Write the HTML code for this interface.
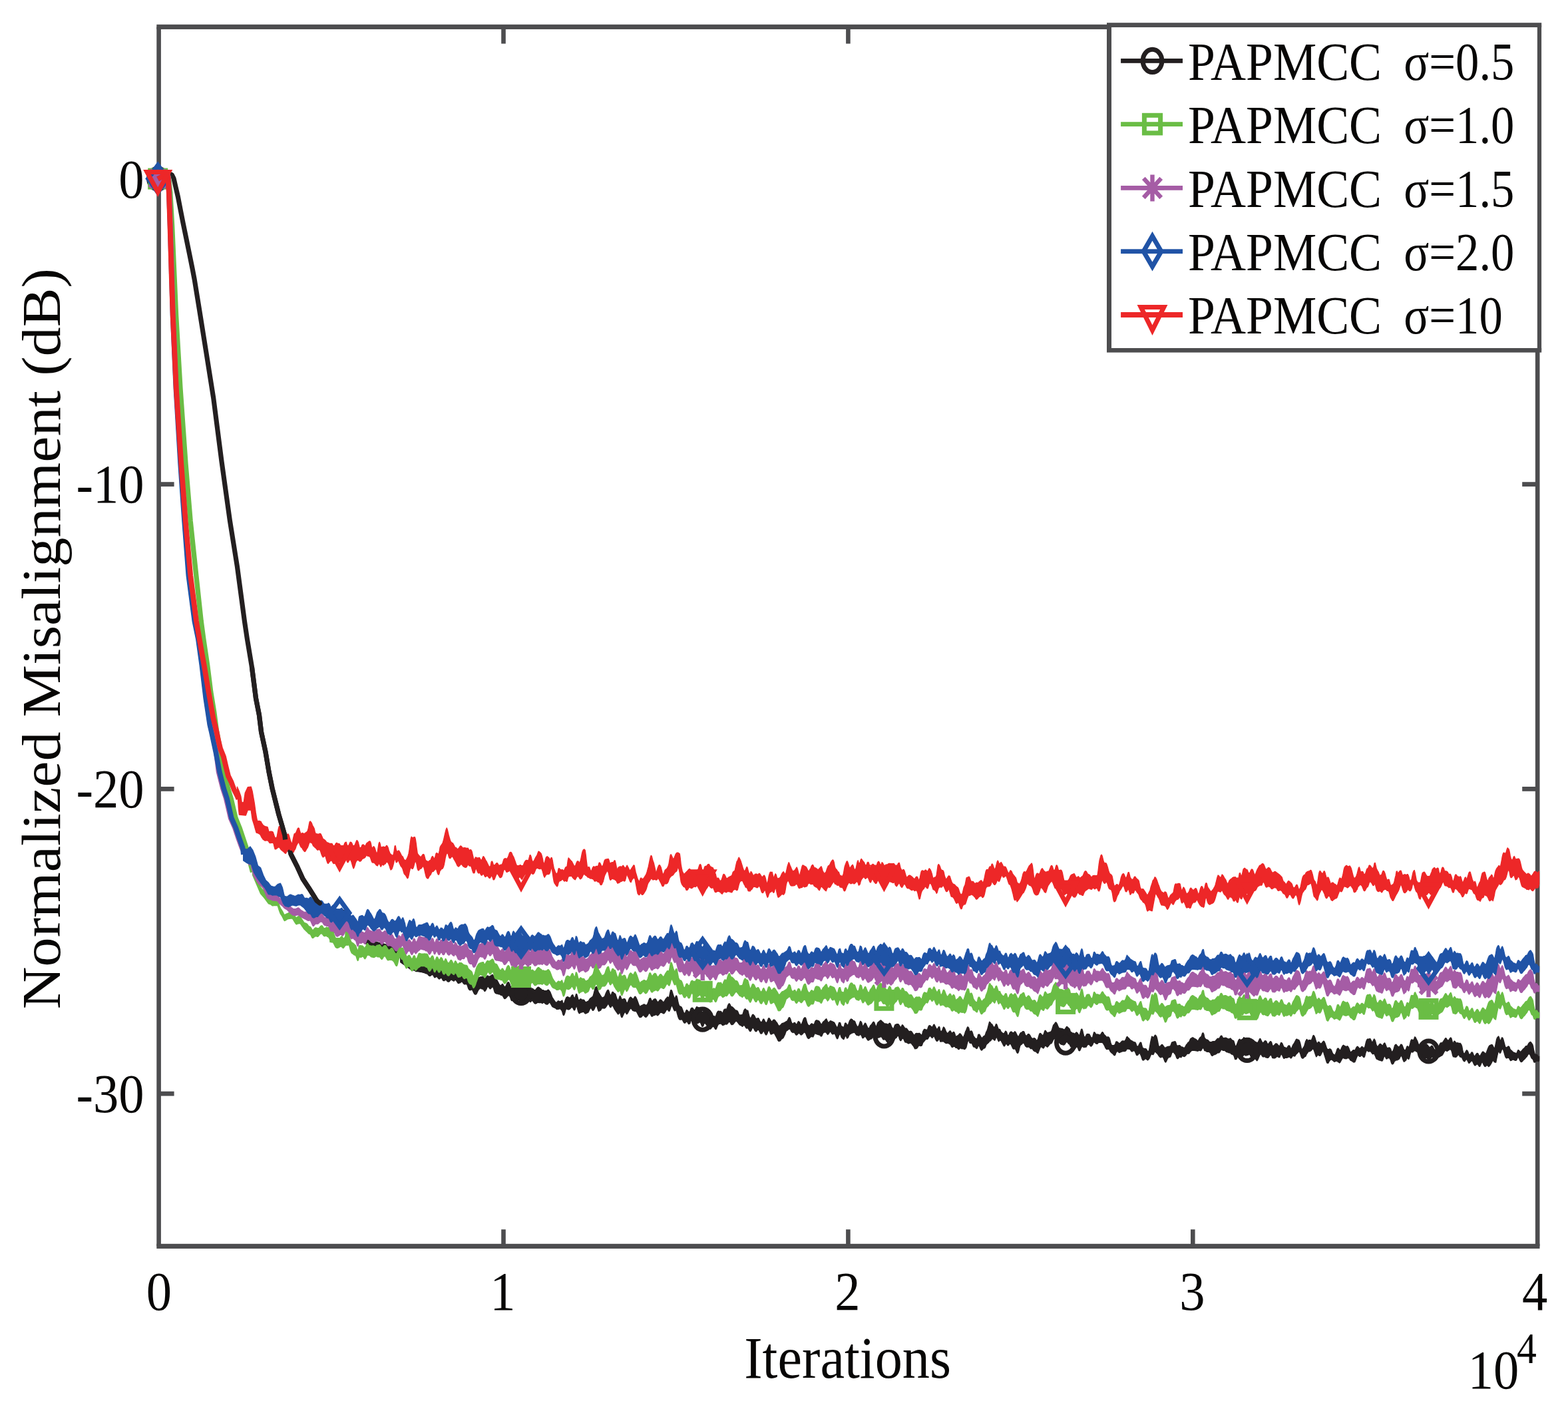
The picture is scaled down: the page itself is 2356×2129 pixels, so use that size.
<!DOCTYPE html>
<html lang="en"><head><meta charset="utf-8"><title>Normalized Misalignment vs Iterations</title>
<style>html,body{margin:0;padding:0;background:#fff}body{width:2356px;height:2129px;overflow:hidden}svg{display:block}text{font-family:"Liberation Serif","Times New Roman",Times,serif;fill:#070605}</style>
</head><body>
<svg xmlns="http://www.w3.org/2000/svg" width="2356" height="2129" viewBox="0 0 2356 2129">
<rect x="0" y="0" width="2356" height="2129" fill="#ffffff"/>
<clipPath id="plotclip"><rect x="198.6" y="40.4" width="2114.8" height="1832"/></clipPath>
<g id="axes" fill="#4d4d4f">
<rect x="235.3" y="36.8" width="2078.2" height="7.2"/>
<rect x="235.3" y="1868.8" width="2078.2" height="7.2"/>
<rect x="235.3" y="40.4" width="6.6" height="1832"/>
<rect x="2306.9" y="40.4" width="6.6" height="1832"/>
<rect x="753.2" y="1847.2" width="6.6" height="25.2"/>
<rect x="753.2" y="40.4" width="6.6" height="25.2"/>
<rect x="1271.1" y="1847.2" width="6.6" height="25.2"/>
<rect x="1271.1" y="40.4" width="6.6" height="25.2"/>
<rect x="1789" y="1847.2" width="6.6" height="25.2"/>
<rect x="1789" y="40.4" width="6.6" height="25.2"/>
<rect x="238.6" y="724.2" width="23" height="6.8"/>
<rect x="2287.2" y="724.2" width="23" height="6.8"/>
<rect x="238.6" y="1182" width="23" height="6.8"/>
<rect x="2287.2" y="1182" width="23" height="6.8"/>
<rect x="238.6" y="1639.8" width="23" height="6.8"/>
<rect x="2287.2" y="1639.8" width="23" height="6.8"/>
</g>
<g id="curves" clip-path="url(#plotclip)">
<g id="curve-k">
<path d="M237.2 268.8L241 264L244.9 261.3L250 261L255 261.2L258.5 263L261 268L263.7 279.7L267.4 295.6L271.2 315.4L275.1 335.2L280 359L285.1 383.9L289.1 403.7L292.2 420L298.8 460.7L309.8 529.3L320.7 597.9L333.1 694L345.4 782.3L356.4 851L367.4 933.3L371.4 960L378.4 1001.9L384.5 1049.3L389.4 1074L392.6 1100L399 1129.8L404 1159.5L409 1184.3L413.9 1204.2L418.9 1224L423.9 1240.9L427.8 1254.8L431.2 1263L437.1 1283.3L446.1 1301.1L455 1320.5L463.9 1333.9L471.4 1345.8L475.8 1353.2" fill="none" stroke="#231f20" stroke-width="7.2" stroke-linejoin="round" stroke-linecap="butt"/>
<path d="M601.8 1435.5L617.7 1447.7L618.7 1448.2L619.7 1448.3L620.7 1447.8L621.7 1447.4L622.7 1447.6L623.7 1448.5L624.7 1449.8L625.7 1450.1L626.7 1450.1L627.7 1449.5L628.7 1448.9L629.7 1448.7L630.7 1448.9L631.7 1449.2L632.7 1449.6L633.7 1449.9L634.7 1450.1L635.7 1450.3L636.7 1450.3L637.7 1450.4L638.7 1450.5L639.7 1450.6L640.7 1450.7L641.7 1450.8L642.7 1451.4L643.7 1452.6L644.7 1453.7L645.7 1454.1L646.7 1454.3L647.7 1453.6L648.7 1452.7L649.7 1452.6L650.7 1452.7L651.7 1454.7L652.7 1457.1L653.7 1457.2L654.7 1456.1L655.7 1455L656.7 1454.7L657.7 1455.5L658.7 1456.7L659.7 1457.6L660.7 1457.9L661.7 1456.7L662.7 1455.9L663.7 1456.3L664.7 1457.4L665.7 1459.2L666.7 1459.6L667.7 1459.5L668.7 1457.6L669.7 1456.6L670.7 1457.7L671.7 1459.2L672.7 1460.5L673.7 1460.6L674.7 1460.7L675.7 1459.4L676.7 1458.2L677.7 1457.4L678.7 1457.6L679.7 1459L680.7 1460.5L681.7 1461.5L682.7 1460.6L683.7 1458L684.7 1458.1L685.7 1459.3L686.7 1460.7L687.7 1461.7L688.7 1461.3L689.7 1460.2L690.7 1459.5L691.7 1459.4L692.7 1459.2L693.7 1459.2L694.7 1459.7L695.7 1460.3L696.7 1460.7L697.7 1461.2L698.7 1461.8L699.7 1462.2L700.7 1462.6L701.7 1463.3L702.7 1465.5L703.7 1468.4L704.7 1469.1L705.7 1469.7L706.7 1469.6L707.7 1469.4L708.7 1469.7L709.7 1471.5L710.7 1474.9L711.7 1478L712.7 1479.6L713.7 1480L714.7 1477.4L715.7 1474.2L716.7 1472.3L717.7 1470.8L718.7 1469.2L719.7 1468.7L720.7 1468.3L721.7 1468L722.7 1467.7L723.7 1467.6L724.7 1467.4L725.7 1467.2L726.7 1468.3L727.7 1470.6L728.7 1470.3L729.7 1469.2L730.7 1467.9L731.7 1466.5L732.7 1465.9L733.7 1466.6L734.7 1467.2L735.7 1466.9L736.7 1466.3L737.7 1465.8L738.7 1465.1L739.7 1464.3L740.7 1465L741.7 1466.8L742.7 1469.9L743.7 1471L744.7 1471.5L745.7 1471.9L746.7 1472.4L747.7 1474.3L748.7 1476.2L749.7 1478.1L750.7 1479.8L751.7 1480.5L752.7 1480.8L753.7 1479.6L754.7 1478.4L755.7 1479.1L756.7 1480.9L757.7 1482.1L758.7 1483.1L759.7 1482.1L760.7 1480L761.7 1477.6L762.7 1476.2L763.7 1475.7L764.7 1476.2L765.7 1478.2L766.7 1480.9L767.7 1483.3L768.7 1483.2L769.7 1480.3L770.7 1477L771.7 1476.5L772.7 1477.9L773.7 1479.6L774.7 1481.2L775.7 1481.4L776.7 1481.1L777.7 1479.8L778.7 1478.5L779.7 1477.9L780.7 1478.2L781.7 1479L782.7 1480.7L783.7 1482.5L784.7 1484.2L785.7 1484.7L786.7 1484.2L787.7 1483.1L788.7 1482.1L789.7 1482.4L790.7 1483.1L791.7 1483.8L792.7 1484.4L793.7 1485.4L794.7 1486.6L795.7 1487.8L796.7 1488.4L797.7 1487.2L798.7 1485.5L799.7 1485.2L800.7 1485.7L801.7 1486.6L802.7 1487.6L803.7 1487.6L804.7 1487.2L805.7 1486L806.7 1484.8L807.7 1483.6L808.7 1483.1L809.7 1483.4L810.7 1484.2L811.7 1485.1L812.7 1485.7L813.7 1486.6L814.7 1487.8L815.7 1487.8L816.7 1487.8L817.7 1488.7L818.7 1488.8L819.7 1488.7L820.7 1488.8L821.7 1488.3L822.7 1487.7L823.7 1487L824.7 1487.8L825.7 1489.1L826.7 1490.5L827.7 1493.1L828.7 1495.6L829.7 1498.4L830.7 1500L831.7 1501.5L832.7 1502.9L833.7 1504.3L834.7 1505.7L835.7 1506.4L836.7 1505.7L837.7 1504.8L838.7 1503.8L839.7 1504.1L840.7 1504.6L841.7 1504.7L842.7 1504.5L843.7 1503.7L844.7 1503L845.7 1506.9L846.7 1508.2L847.7 1507.3L848.7 1504.3L849.7 1501.4L850.7 1498.9L851.7 1498.2L852.7 1497.6L853.7 1498.1L854.7 1498.6L855.7 1499.2L856.7 1499.1L857.7 1498.2L858.7 1495.9L859.7 1495L860.7 1494.7L861.7 1497.2L862.7 1499.3L863.7 1499.7L864.7 1496.7L865.7 1493.5L866.7 1493.9L867.7 1497.4L868.7 1501.5L869.7 1502.9L870.7 1502.7L871.7 1501L872.7 1500.9L873.7 1501.6L874.7 1502.2L875.7 1502.3L876.7 1502.3L877.7 1502.5L878.7 1504.1L879.7 1505.6L880.7 1505.6L881.7 1505.2L882.7 1504.7L883.7 1504.5L884.7 1503.2L885.7 1501.7L886.7 1500.2L887.7 1499.6L888.7 1498.8L889.7 1498L890.7 1497.5L891.7 1494.6L892.7 1490.8L893.7 1486.4L894.7 1483.8L895.7 1482.7L896.7 1482.7L897.7 1486.1L898.7 1489.6L899.7 1491.5L900.7 1493.1L901.7 1494.9L902.7 1496.4L903.7 1497.9L904.7 1499.4L905.7 1498.8L906.7 1498.4L907.7 1498L908.7 1496.7L909.7 1494.1L910.7 1491.5L911.7 1489.5L912.7 1488L913.7 1487.2L914.7 1488.5L915.7 1491.8L916.7 1494.6L917.7 1495.8L918.7 1493.9L919.7 1490.9L920.7 1490.3L921.7 1491.1L922.7 1492.3L923.7 1492.7L924.7 1493.5L925.7 1496.6L926.7 1499.7L927.7 1501.9L928.7 1503.3L929.7 1501.4L930.7 1498.1L931.7 1496.2L932.7 1498L933.7 1500.8L934.7 1502L935.7 1501.5L936.7 1500.9L937.7 1500.7L938.7 1500.7L939.7 1501.7L940.7 1504.8L941.7 1507L942.7 1506.7L943.7 1504.7L944.7 1502.2L945.7 1499.7L946.7 1498.8L947.7 1498L948.7 1498.9L949.7 1499.9L950.7 1500.9L951.7 1500.6L952.7 1499.4L953.7 1497.5L954.7 1497.3L955.7 1498.8L956.7 1501.1L957.7 1503.4L958.7 1506.3L959.7 1509.1L960.7 1511.2L961.7 1512.8L962.7 1511.6L963.7 1510.8L964.7 1510.3L965.7 1509.9L966.7 1509.4L967.7 1508.8L968.7 1509.4L969.7 1509.9L970.7 1510.5L971.7 1509.9L972.7 1508.9L973.7 1506.6L974.7 1503.4L975.7 1500.7L976.7 1499.6L977.7 1500.2L978.7 1502.8L979.7 1503.9L980.7 1503.6L981.7 1502.3L982.7 1501.1L983.7 1500.9L984.7 1500.6L985.7 1501.7L986.7 1503.5L987.7 1505.4L988.7 1505.2L989.7 1504.8L990.7 1503.5L991.7 1502.2L992.7 1502L993.7 1502.6L994.7 1503.8L995.7 1505L996.7 1505.6L997.7 1505.2L998.7 1503.6L999.7 1501.9L1000.7 1500.2L1001.7 1499.5L1002.7 1497.8L1003.7 1498.3L1004.7 1499L1005.7 1497L1006.7 1492.2L1007.7 1487.8L1008.7 1487.4L1009.7 1488.9L1010.7 1492.2L1011.7 1495.6L1012.7 1498.3L1013.7 1499.7L1014.7 1498.8L1015.7 1496.1L1016.7 1496.3L1017.7 1499.7L1018.7 1504.8L1019.7 1508.9L1020.7 1511.2L1021.7 1512L1022.7 1512.4L1023.7 1512.8L1024.7 1514.7L1025.7 1517.2L1026.7 1520.1L1027.7 1522.3L1028.7 1522.4L1029.7 1521.4L1030.7 1518.9L1031.7 1517.4L1032.7 1518L1033.7 1519.1L1034.7 1520.3L1035.7 1520.1L1036.7 1519.8L1037.7 1516.4L1038.7 1514.6L1039.7 1514.3L1040.7 1514.5L1041.7 1515.8L1042.7 1517.2L1043.7 1517.4L1044.7 1516.6L1045.7 1514.3L1046.7 1512.7L1047.7 1513.1L1048.7 1513.5L1049.7 1513.8L1050.7 1514.1L1051.7 1514.5L1052.7 1515.9L1053.7 1518.8L1054.7 1520.5L1055.7 1520.8L1056.7 1520.1L1057.7 1517.7L1058.7 1516.6L1059.7 1516.8L1060.7 1517.9L1061.7 1519.5L1062.7 1521L1063.7 1521.4L1064.7 1522.3L1065.7 1524.2L1066.7 1525.8L1067.7 1526.7L1068.7 1526.9L1069.7 1527.2L1070.7 1527.6L1071.7 1527.3L1072.7 1526.6L1073.7 1527.2L1074.7 1527.4L1075.7 1526.1L1076.7 1523.1L1077.7 1520.7L1078.7 1519.5L1079.7 1519.2L1080.7 1519.3L1081.7 1519.6L1082.7 1519.3L1083.7 1519.8L1084.7 1521.8L1085.7 1522L1086.7 1520.1L1087.7 1517.2L1088.7 1516.6L1089.7 1515.9L1090.7 1516.7L1091.7 1516.2L1092.7 1513.8L1093.7 1510.5L1094.7 1508.7L1095.7 1507.8L1096.7 1508.7L1097.7 1510.9L1098.7 1512.7L1099.7 1512.7L1100.7 1513.3L1101.7 1514.2L1102.7 1515.2L1103.7 1516.6L1104.7 1517.6L1105.7 1517.9L1106.7 1518.1L1107.7 1518.7L1108.7 1519.9L1109.7 1522.5L1110.7 1524.5L1111.7 1525.1L1112.7 1525L1113.7 1524.9L1114.7 1524.7L1115.7 1524.6L1116.7 1521.6L1117.7 1518.4L1118.7 1516.7L1119.7 1515.7L1120.7 1516.8L1121.7 1517.9L1122.7 1518.3L1123.7 1518.3L1124.7 1522.1L1125.7 1526.2L1126.7 1528.9L1127.7 1530.4L1128.7 1528.5L1129.7 1526.3L1130.7 1524.4L1131.7 1524.3L1132.7 1525.3L1133.7 1526.2L1134.7 1528.5L1135.7 1530.2L1136.7 1530.8L1137.7 1530.2L1138.7 1529.8L1139.7 1529.8L1140.7 1531.7L1141.7 1533.7L1142.7 1535.6L1143.7 1535.5L1144.7 1535.7L1145.7 1533.5L1146.7 1531.3L1147.7 1531.2L1148.7 1533.1L1149.7 1535.1L1150.7 1536.5L1151.7 1536.5L1152.7 1535.4L1153.7 1532.6L1154.7 1530L1155.7 1529.8L1156.7 1531L1157.7 1532.6L1158.7 1534.3L1159.7 1534.7L1160.7 1534L1161.7 1532.7L1162.7 1532.1L1163.7 1532.3L1164.7 1533.2L1165.7 1534.6L1166.7 1536.1L1167.7 1537.1L1168.7 1539L1169.7 1540.8L1170.7 1541.3L1171.7 1541.3L1172.7 1540.2L1173.7 1539.1L1174.7 1537.9L1175.7 1537.4L1176.7 1537.4L1177.7 1536.8L1178.7 1536.3L1179.7 1535.8L1180.7 1535.2L1181.7 1534.7L1182.7 1534.2L1183.7 1532.2L1184.7 1530.2L1185.7 1528.7L1186.7 1529.2L1187.7 1531L1188.7 1534.5L1189.7 1536.9L1190.7 1537.9L1191.7 1538.4L1192.7 1536.9L1193.7 1536.5L1194.7 1536.9L1195.7 1538.5L1196.7 1539.2L1197.7 1538.2L1198.7 1536L1199.7 1534.5L1200.7 1535.2L1201.7 1536.1L1202.7 1538.7L1203.7 1539.8L1204.7 1538.1L1205.7 1535.9L1206.7 1532.7L1207.7 1530.4L1208.7 1529.1L1209.7 1528.8L1210.7 1529.8L1211.7 1533.4L1212.7 1537.1L1213.7 1539.1L1214.7 1540.5L1215.7 1540.9L1216.7 1541L1217.7 1539.7L1218.7 1538.5L1219.7 1538L1220.7 1538.5L1221.7 1539.2L1222.7 1539.3L1223.7 1538.2L1224.7 1534.9L1225.7 1533.5L1226.7 1533L1227.7 1533L1228.7 1533.4L1229.7 1533.7L1230.7 1534.1L1231.7 1535.6L1232.7 1537.5L1233.7 1538.9L1234.7 1539L1235.7 1537.2L1236.7 1535.2L1237.7 1534.5L1238.7 1533.7L1239.7 1532.6L1240.7 1531.6L1241.7 1530.7L1242.7 1533L1243.7 1535.6L1244.7 1536.2L1245.7 1536L1246.7 1534.7L1247.7 1533.7L1248.7 1534.1L1249.7 1534.5L1250.7 1534.9L1251.7 1535.4L1252.7 1535.7L1253.7 1536.5L1254.7 1538.5L1255.7 1540.5L1256.7 1542.6L1257.7 1543.6L1258.7 1543.3L1259.7 1539.8L1260.7 1536.5L1261.7 1536.4L1262.7 1536.8L1263.7 1540.9L1264.7 1542.7L1265.7 1542.4L1266.7 1543.3L1267.7 1543.7L1268.7 1541L1269.7 1537.3L1270.7 1537L1271.7 1537.9L1272.7 1540.2L1273.7 1540.1L1274.7 1539.1L1275.7 1536L1276.7 1533.4L1277.7 1532.1L1278.7 1531L1279.7 1531.3L1280.7 1531.8L1281.7 1533.4L1282.7 1533.8L1283.7 1533.9L1284.7 1535L1285.7 1537.7L1286.7 1540.1L1287.7 1542L1288.7 1543L1289.7 1542L1290.7 1540.5L1291.7 1536.9L1292.7 1534.3L1293.7 1535L1294.7 1536.4L1295.7 1540.6L1296.7 1541.7L1297.7 1540.7L1298.7 1538.8L1299.7 1537.2L1300.7 1537.5L1301.7 1539.6L1302.7 1541.8L1303.7 1543.9L1304.7 1545.1L1305.7 1544.8L1306.7 1543.4L1307.7 1541.1L1308.7 1540.1L1309.7 1539L1310.7 1537.4L1311.7 1535.9L1312.7 1535.2L1313.7 1536.3L1314.7 1539.1L1315.7 1541.9L1316.7 1542.2L1317.7 1539.9L1318.7 1536.7L1319.7 1535.8L1320.7 1534.9L1321.7 1534L1322.7 1533.2L1323.7 1533L1324.7 1533.9L1325.7 1535L1326.7 1535.7L1327.7 1536.8L1328.7 1538.3L1329.7 1539.5L1330.7 1540.2L1331.7 1541.4L1332.7 1541.9L1333.7 1542.1L1334.7 1540L1335.7 1537.9L1336.7 1537.2L1337.7 1537.9L1338.7 1540L1339.7 1543.3L1340.7 1545.6L1341.7 1546.2L1342.7 1545.3L1343.7 1542.7L1344.7 1540.1L1345.7 1539.3L1346.7 1539L1347.7 1538.8L1348.7 1538.6L1349.7 1538.6L1350.7 1540L1351.7 1541.4L1352.7 1543.1L1353.7 1543.6L1354.7 1541.7L1355.7 1539.8L1356.7 1540.4L1357.7 1541.9L1358.7 1543.5L1359.7 1545L1360.7 1545.1L1361.7 1544.9L1362.7 1545.8L1363.7 1547.1L1364.7 1548.4L1365.7 1549.5L1366.7 1549.8L1367.7 1549.3L1368.7 1549.5L1369.7 1549.9L1370.7 1551.4L1371.7 1552.9L1372.7 1554.3L1373.7 1555.7L1374.7 1554.4L1375.7 1553L1376.7 1552.7L1377.7 1552.4L1378.7 1552.9L1379.7 1552.7L1380.7 1552.5L1381.7 1552.5L1382.7 1553.6L1383.7 1554.6L1384.7 1555.6L1385.7 1554.2L1386.7 1549.6L1387.7 1548L1388.7 1546.5L1389.7 1546.5L1390.7 1546.8L1391.7 1547.2L1392.7 1547.6L1393.7 1546.4L1394.7 1543.3L1395.7 1541.1L1396.7 1540.8L1397.7 1540.9L1398.7 1542L1399.7 1543L1400.7 1543.4L1401.7 1542L1402.7 1539.7L1403.7 1539.2L1404.7 1541.1L1405.7 1543.1L1406.7 1545.1L1407.7 1546.2L1408.7 1545.8L1409.7 1544.2L1410.7 1542.6L1411.7 1543L1412.7 1548L1413.7 1550L1414.7 1549.6L1415.7 1548.1L1416.7 1545.4L1417.7 1543.1L1418.7 1543.8L1419.7 1545.5L1420.7 1548L1421.7 1550.4L1422.7 1551.9L1423.7 1552.6L1424.7 1551.8L1425.7 1550.6L1426.7 1549.4L1427.7 1548.8L1428.7 1550L1429.7 1551.8L1430.7 1552.3L1431.7 1551.3L1432.7 1550.4L1433.7 1550.9L1434.7 1553.2L1435.7 1557L1436.7 1557.3L1437.7 1556.7L1438.7 1556L1439.7 1555.8L1440.7 1554.4L1441.7 1553.2L1442.7 1552.9L1443.7 1554L1444.7 1555.4L1445.7 1556.9L1446.7 1558.3L1447.7 1558.2L1448.7 1555.7L1449.7 1553.2L1450.7 1549.8L1451.7 1548.1L1452.7 1545.3L1453.7 1543L1454.7 1543.1L1455.7 1544.6L1456.7 1549L1457.7 1550L1458.7 1549.2L1459.7 1548.9L1460.7 1550.1L1461.7 1553.3L1462.7 1556.6L1463.7 1557.8L1464.7 1559.2L1465.7 1560.1L1466.7 1560.6L1467.7 1560.8L1468.7 1559.1L1469.7 1554.6L1470.7 1554.1L1471.7 1554.2L1472.7 1555.9L1473.7 1557.7L1474.7 1559.4L1475.7 1559.3L1476.7 1558.4L1477.7 1557.3L1478.7 1556.4L1479.7 1556.2L1480.7 1554.1L1481.7 1550.6L1482.7 1549.3L1483.7 1546.6L1484.7 1542.8L1485.7 1538.9L1486.7 1535.3L1487.7 1536L1488.7 1537.5L1489.7 1538.7L1490.7 1539L1491.7 1541L1492.7 1542.9L1493.7 1543.1L1494.7 1543.2L1495.7 1540.9L1496.7 1538.6L1497.7 1539.2L1498.7 1542.1L1499.7 1544.9L1500.7 1547.2L1501.7 1546.3L1502.7 1547.1L1503.7 1549.4L1504.7 1550.7L1505.7 1551.6L1506.7 1552.4L1507.7 1552.9L1508.7 1552.6L1509.7 1551.2L1510.7 1549.3L1511.7 1549.5L1512.7 1551.2L1513.7 1554.6L1514.7 1555.7L1515.7 1555.4L1516.7 1552.9L1517.7 1551L1518.7 1550.2L1519.7 1550.1L1520.7 1551.1L1521.7 1551.6L1522.7 1552.1L1523.7 1551.3L1524.7 1549.8L1525.7 1550.4L1526.7 1552L1527.7 1554.4L1528.7 1556.1L1529.7 1557.4L1530.7 1557.1L1531.7 1555.1L1532.7 1553L1533.7 1551.7L1534.7 1551.5L1535.7 1550.8L1536.7 1549.7L1537.7 1549.6L1538.7 1550.1L1539.7 1552.7L1540.7 1555.4L1541.7 1555.9L1542.7 1556.2L1543.7 1555L1544.7 1553.7L1545.7 1553.6L1546.7 1554.4L1547.7 1555.7L1548.7 1557.5L1549.7 1559.3L1550.7 1560.1L1551.7 1560.6L1552.7 1560.1L1553.7 1559.7L1554.7 1560L1555.7 1560.7L1556.7 1562.5L1557.7 1563.9L1558.7 1562.5L1559.7 1560.5L1560.7 1556.9L1561.7 1553.6L1562.7 1552.5L1563.7 1552.8L1564.7 1554L1565.7 1555.3L1566.7 1555.5L1567.7 1555.1L1568.7 1552.4L1569.7 1549.1L1570.7 1548.2L1571.7 1549.5L1572.7 1550.7L1573.7 1552.1L1574.7 1551.7L1575.7 1551.2L1576.7 1550.9L1577.7 1550.7L1578.7 1550.2L1579.7 1549.5L1580.7 1546.7L1581.7 1543.5L1582.7 1540.3L1583.7 1539.2L1584.7 1537.9L1585.7 1536.4L1586.7 1535.9L1587.7 1537.4L1588.7 1539.2L1589.7 1541.8L1590.7 1543.9L1591.7 1545.3L1592.7 1545L1593.7 1545.2L1594.7 1545.5L1595.7 1545.5L1596.7 1545.9L1597.7 1546.4L1598.7 1546.7L1599.7 1546.9L1600.7 1545.5L1601.7 1543.9L1602.7 1542.5L1603.7 1542.8L1604.7 1543.8L1605.7 1544.8L1606.7 1545.3L1607.7 1548L1608.7 1552.1L1609.7 1552.5L1610.7 1552.8L1611.7 1552.5L1612.7 1552.2L1613.7 1552.6L1614.7 1553.5L1615.7 1552.7L1616.7 1551.3L1617.7 1551L1618.7 1552L1619.7 1553.3L1620.7 1555.4L1621.7 1555.3L1622.7 1553.5L1623.7 1550L1624.7 1546.5L1625.7 1546.1L1626.7 1548.7L1627.7 1553.3L1628.7 1557L1629.7 1558.2L1630.7 1558L1631.7 1556.2L1632.7 1554.1L1633.7 1553.5L1634.7 1553.8L1635.7 1553.6L1636.7 1553.9L1637.7 1555.7L1638.7 1557.5L1639.7 1559.2L1640.7 1559L1641.7 1558.7L1642.7 1554.5L1643.7 1550.9L1644.7 1551L1645.7 1552.4L1646.7 1553.8L1647.7 1554.3L1648.7 1553.9L1649.7 1554.1L1650.7 1554.5L1651.7 1555L1652.7 1555.3L1653.7 1554.2L1654.7 1553L1655.7 1551.1L1656.7 1550.6L1657.7 1551.9L1658.7 1553.9L1659.7 1555.1L1660.7 1556.1L1661.7 1557.1L1662.7 1558.2L1663.7 1558.3L1664.7 1557.8L1665.7 1558.1L1666.7 1559.2L1667.7 1562L1668.7 1566.2L1669.7 1569L1670.7 1570.8L1671.7 1570.7L1672.7 1570.6L1673.7 1570.4L1674.7 1570.1L1675.7 1568.6L1676.7 1565.4L1677.7 1564.9L1678.7 1565.2L1679.7 1566.1L1680.7 1567L1681.7 1567.6L1682.7 1567.3L1683.7 1566.5L1684.7 1565.4L1685.7 1564.3L1686.7 1564L1687.7 1563.9L1688.7 1564.6L1689.7 1564.2L1690.7 1563L1691.7 1561.5L1692.7 1558.5L1693.7 1557.4L1694.7 1558.7L1695.7 1559.6L1696.7 1560.6L1697.7 1561.8L1698.7 1562.9L1699.7 1563.4L1700.7 1563.9L1701.7 1564.5L1702.7 1565.2L1703.7 1565.6L1704.7 1565.9L1705.7 1566L1706.7 1567.8L1707.7 1570.9L1708.7 1572.1L1709.7 1572.2L1710.7 1571.1L1711.7 1569.1L1712.7 1567L1713.7 1566.1L1714.7 1566.5L1715.7 1570.8L1716.7 1574L1717.7 1574.9L1718.7 1575.2L1719.7 1575.6L1720.7 1575.6L1721.7 1575.6L1722.7 1576.8L1723.7 1578.4L1724.7 1579.8L1725.7 1579.8L1726.7 1577.2L1727.7 1571.6L1728.7 1565.9L1729.7 1561.4L1730.7 1557.1L1731.7 1557.7L1732.7 1559.3L1733.7 1558.2L1734.7 1556.2L1735.7 1555.1L1736.7 1555.9L1737.7 1557.1L1738.7 1560.7L1739.7 1565.7L1740.7 1570.8L1741.7 1572.9L1742.7 1572.5L1743.7 1571.4L1744.7 1570.2L1745.7 1569.5L1746.7 1569.7L1747.7 1571.1L1748.7 1572.5L1749.7 1573.8L1750.7 1574.5L1751.7 1574L1752.7 1573.4L1753.7 1572.8L1754.7 1572.5L1755.7 1572.4L1756.7 1572.2L1757.7 1572.1L1758.7 1571.6L1759.7 1569L1760.7 1566.1L1761.7 1565.8L1762.7 1565.5L1763.7 1565.2L1764.7 1564.9L1765.7 1564.7L1766.7 1566.3L1767.7 1569.9L1768.7 1571.2L1769.7 1571.1L1770.7 1570.9L1771.7 1570.7L1772.7 1570.6L1773.7 1571.7L1774.7 1573.1L1775.7 1572.9L1776.7 1573.2L1777.7 1573.8L1778.7 1574.4L1779.7 1574.3L1780.7 1573.2L1781.7 1571.3L1782.7 1569.4L1783.7 1568.7L1784.7 1566.7L1785.7 1566L1786.7 1565.2L1787.7 1563.3L1788.7 1560.8L1789.7 1560.1L1790.7 1559.5L1791.7 1558.8L1792.7 1559.1L1793.7 1559.7L1794.7 1560.4L1795.7 1561L1796.7 1561.4L1797.7 1562.1L1798.7 1563.2L1799.7 1564.1L1800.7 1562.9L1801.7 1561.1L1802.7 1559.4L1803.7 1558.3L1804.7 1557.9L1805.7 1555.5L1806.7 1552.3L1807.7 1551.8L1808.7 1553.5L1809.7 1558.7L1810.7 1560.4L1811.7 1561.2L1812.7 1561.9L1813.7 1562.1L1814.7 1562.4L1815.7 1563.5L1816.7 1564.7L1817.7 1565.5L1818.7 1565.7L1819.7 1566L1820.7 1565.5L1821.7 1564.9L1822.7 1564.7L1823.7 1564.6L1824.7 1564.7L1825.7 1564.5L1826.7 1563.4L1827.7 1562.2L1828.7 1561.1L1829.7 1560.3L1830.7 1560.4L1831.7 1560.4L1832.7 1559.2L1833.7 1557.2L1834.7 1556.2L1835.7 1556.2L1836.7 1558L1837.7 1559.9L1838.7 1559.6L1839.7 1559.5L1840.7 1559.4L1841.7 1559.2L1842.7 1559.6L1843.7 1560.2L1844.7 1560.7L1845.7 1560.9L1846.7 1561.1L1847.7 1560.5L1848.7 1559.9L1849.7 1561L1850.7 1562.3L1851.7 1563L1852.7 1563.3L1853.7 1563.9L1854.7 1567L1855.7 1571L1856.7 1571.7L1857.7 1571.3L1858.7 1568.7L1859.7 1566.2L1860.7 1563.6L1861.7 1561.9L1862.7 1561.2L1863.7 1562.2L1864.7 1563.4L1865.7 1563.3L1866.7 1562.9L1867.7 1561L1868.7 1558.7L1869.7 1559.1L1870.7 1561.3L1871.7 1564.6L1872.7 1565.8L1873.7 1565.3L1874.7 1563.1L1875.7 1560.8L1876.7 1559.5L1877.7 1560.6L1878.7 1564L1879.7 1567.4L1880.7 1569.5L1881.7 1570.1L1882.7 1570.3L1883.7 1569L1884.7 1567.3L1885.7 1565.8L1886.7 1565.4L1887.7 1566.1L1888.7 1566.8L1889.7 1566.5L1890.7 1565.2L1891.7 1563L1892.7 1560.9L1893.7 1560.5L1894.7 1562.5L1895.7 1564.7L1896.7 1566.4L1897.7 1566.9L1898.7 1566L1899.7 1565L1900.7 1563.8L1901.7 1564L1902.7 1564.4L1903.7 1566.8L1904.7 1568.9L1905.7 1568.6L1906.7 1567.3L1907.7 1565.9L1908.7 1564.8L1909.7 1565L1910.7 1566.5L1911.7 1570.6L1912.7 1571.4L1913.7 1571.3L1914.7 1570.2L1915.7 1569.1L1916.7 1568L1917.7 1568L1918.7 1568.3L1919.7 1569.4L1920.7 1570.4L1921.7 1571.5L1922.7 1571.8L1923.7 1569.2L1924.7 1566.6L1925.7 1566.8L1926.7 1567.8L1927.7 1570.2L1928.7 1572.5L1929.7 1573.4L1930.7 1573.7L1931.7 1574.2L1932.7 1574.6L1933.7 1574.3L1934.7 1572.9L1935.7 1571.5L1936.7 1571L1937.7 1571.2L1938.7 1573.5L1939.7 1576L1940.7 1575.1L1941.7 1572.5L1942.7 1570L1943.7 1568.6L1944.7 1567L1945.7 1565.2L1946.7 1563.3L1947.7 1561.4L1948.7 1561.3L1949.7 1561.8L1950.7 1562.2L1951.7 1562.6L1952.7 1564.5L1953.7 1567.4L1954.7 1572.1L1955.7 1576.4L1956.7 1576.5L1957.7 1574.9L1958.7 1573.4L1959.7 1571.8L1960.7 1568.4L1961.7 1564.8L1962.7 1562.8L1963.7 1561.5L1964.7 1563.2L1965.7 1563.6L1966.7 1562.8L1967.7 1562.7L1968.7 1562.7L1969.7 1563.4L1970.7 1562.2L1971.7 1559.8L1972.7 1556.6L1973.7 1555.6L1974.7 1556.5L1975.7 1558.8L1976.7 1562.3L1977.7 1565.3L1978.7 1567.2L1979.7 1567.9L1980.7 1565.6L1981.7 1565.3L1982.7 1566.4L1983.7 1567.7L1984.7 1568.1L1985.7 1567.6L1986.7 1566.5L1987.7 1565.3L1988.7 1564.2L1989.7 1564.7L1990.7 1566.7L1991.7 1569.7L1992.7 1572.7L1993.7 1575.6L1994.7 1576.4L1995.7 1577.1L1996.7 1576.5L1997.7 1575.9L1998.7 1576L1999.7 1576.7L2000.7 1578.6L2001.7 1581L2002.7 1583.2L2003.7 1584.1L2004.7 1584.9L2005.7 1585.2L2006.7 1583.4L2007.7 1581.1L2008.7 1577.4L2009.7 1575.3L2010.7 1574.9L2011.7 1575.9L2012.7 1577.7L2013.7 1578.2L2014.7 1576.9L2015.7 1574.6L2016.7 1572.3L2017.7 1570.8L2018.7 1570.3L2019.7 1571.1L2020.7 1571.9L2021.7 1572L2022.7 1572.7L2023.7 1572.1L2024.7 1571.8L2025.7 1573L2026.7 1574.7L2027.7 1577.4L2028.7 1580.2L2029.7 1581.1L2030.7 1580.1L2031.7 1579.2L2032.7 1578.2L2033.7 1577.7L2034.7 1577.9L2035.7 1578.1L2036.7 1576.7L2037.7 1574.3L2038.7 1572.9L2039.7 1572.2L2040.7 1573.1L2041.7 1574.3L2042.7 1575.5L2043.7 1575.1L2044.7 1574.2L2045.7 1572.8L2046.7 1572.5L2047.7 1573.4L2048.7 1574.4L2049.7 1574.5L2050.7 1573.3L2051.7 1569.1L2052.7 1564.9L2053.7 1562.4L2054.7 1561.3L2055.7 1561.2L2056.7 1561.3L2057.7 1560.9L2058.7 1560.5L2059.7 1562.3L2060.7 1564.4L2061.7 1565.9L2062.7 1565.3L2063.7 1562.8L2064.7 1561L2065.7 1562.2L2066.7 1564.7L2067.7 1568.9L2068.7 1571.6L2069.7 1572.3L2070.7 1572.2L2071.7 1570.4L2072.7 1569.1L2073.7 1568.3L2074.7 1568.7L2075.7 1569.7L2076.7 1570.8L2077.7 1571L2078.7 1569L2079.7 1567.3L2080.7 1567L2081.7 1569.1L2082.7 1571.7L2083.7 1574.2L2084.7 1574.7L2085.7 1574.4L2086.7 1574.2L2087.7 1574L2088.7 1574.8L2089.7 1576.4L2090.7 1579.6L2091.7 1580.6L2092.7 1579.4L2093.7 1577.7L2094.7 1574.3L2095.7 1570.8L2096.7 1569.6L2097.7 1569.1L2098.7 1570.4L2099.7 1571.8L2100.7 1572.4L2101.7 1573L2102.7 1572.6L2103.7 1571L2104.7 1569.3L2105.7 1569.3L2106.7 1570.1L2107.7 1572.6L2108.7 1575.1L2109.7 1577.3L2110.7 1577.9L2111.7 1577.7L2112.7 1576.1L2113.7 1572.9L2114.7 1571.8L2115.7 1572.8L2116.7 1573.4L2117.7 1572L2118.7 1568.5L2119.7 1564L2120.7 1562L2121.7 1562.2L2122.7 1562.7L2123.7 1562.6L2124.7 1561L2125.7 1557.9L2126.7 1558.4L2127.7 1560.4L2128.7 1562.4L2129.7 1564.2L2130.7 1567.2L2131.7 1569.8L2132.7 1570.8L2133.7 1570.5L2134.7 1570.6L2135.7 1570.8L2136.7 1570.8L2137.7 1570.9L2138.7 1570.3L2139.7 1570L2140.7 1570.2L2141.7 1569.4L2142.7 1568.7L2143.7 1569L2144.7 1570L2145.7 1571.2L2146.7 1572.5L2147.7 1573.2L2148.7 1573.7L2149.7 1572.6L2150.7 1571.5L2151.7 1571.3L2152.7 1572L2153.7 1574.1L2154.7 1576.3L2155.7 1577.1L2156.7 1578L2157.7 1578.9L2158.7 1579.1L2159.7 1578L2160.7 1575.7L2161.7 1572.9L2162.7 1570.2L2163.7 1568.3L2164.7 1567L2165.7 1566.8L2166.7 1567.2L2167.7 1565.9L2168.7 1564.7L2169.7 1563.1L2170.7 1561.5L2171.7 1559.9L2172.7 1559.7L2173.7 1561.2L2174.7 1562.7L2175.7 1563.3L2176.7 1562.9L2177.7 1561.4L2178.7 1559.8L2179.7 1559L2180.7 1559.7L2181.7 1563.5L2182.7 1567.3L2183.7 1567.2L2184.7 1564.7L2185.7 1564.2L2186.7 1565.4L2187.7 1566.7L2188.7 1567.2L2189.7 1566.8L2190.7 1567L2191.7 1567.5L2192.7 1568L2193.7 1567.2L2194.7 1568.1L2195.7 1569.6L2196.7 1572.5L2197.7 1578L2198.7 1581.7L2199.7 1583L2200.7 1583.1L2201.7 1581.2L2202.7 1579.2L2203.7 1577.8L2204.7 1578.3L2205.7 1580L2206.7 1583.2L2207.7 1584.6L2208.7 1584.2L2209.7 1583.1L2210.7 1581.6L2211.7 1580.8L2212.7 1581.5L2213.7 1584L2214.7 1586.4L2215.7 1586.8L2216.7 1585.6L2217.7 1584.2L2218.7 1582.8L2219.7 1582.4L2220.7 1582.9L2221.7 1584.8L2222.7 1586.4L2223.7 1586.5L2224.7 1585.1L2225.7 1583.3L2226.7 1581.6L2227.7 1580.2L2228.7 1580.2L2229.7 1581.1L2230.7 1582.1L2231.7 1583.1L2232.7 1583L2233.7 1580.6L2234.7 1577.9L2235.7 1575.2L2236.7 1573L2237.7 1571.3L2238.7 1570.7L2239.7 1570.2L2240.7 1569.8L2241.7 1569.4L2242.7 1570.5L2243.7 1572.5L2244.7 1574.6L2245.7 1575.6L2246.7 1571.4L2247.7 1566.7L2248.7 1561.5L2249.7 1559L2250.7 1557.9L2251.7 1556.9L2252.7 1559.4L2253.7 1563.1L2254.7 1563.6L2255.7 1561.2L2256.7 1558.9L2257.7 1559.2L2258.7 1561.5L2259.7 1565.1L2260.7 1569L2261.7 1572.6L2262.7 1573.7L2263.7 1573.9L2264.7 1573.2L2265.7 1572.4L2266.7 1572L2267.7 1572.8L2268.7 1575.5L2269.7 1577.5L2270.7 1578.1L2271.7 1579L2272.7 1580L2273.7 1580.9L2274.7 1581.3L2275.7 1581.6L2276.7 1582.1L2277.7 1582.5L2278.7 1582.8L2279.7 1580.6L2280.7 1578L2281.7 1577.8L2282.7 1578.8L2283.7 1579.9L2284.7 1580.2L2285.7 1579.5L2286.7 1578.4L2287.7 1577.2L2288.7 1576L2289.7 1575.2L2290.7 1574.1L2291.7 1572.9L2292.7 1571.8L2293.7 1571.8L2294.7 1571.5L2295.7 1569.9L2296.7 1568L2297.7 1566.7L2298.7 1565.9L2299.7 1565.4L2300.7 1566.3L2301.7 1568L2302.7 1569.1L2303.7 1572.8L2304.7 1578.5L2305.7 1582.2L2306.7 1584.6L2307.7 1584.5L2308.7 1584.3L2309.7 1585L2310.7 1586.5L2311.7 1588.1L2312.7 1588.6L2313 1587.2L2313 1591.1L2312.7 1593.6L2311.7 1594.5L2310.7 1594.3L2309.7 1593.8L2308.7 1594L2307.7 1594.9L2306.7 1595.9L2305.7 1596.2L2304.7 1595.6L2303.7 1592.3L2302.7 1590.8L2301.7 1590.3L2300.7 1588.8L2299.7 1586.3L2298.7 1584.3L2297.7 1583.6L2296.7 1583.6L2295.7 1584.7L2294.7 1586.6L2293.7 1588.1L2292.7 1588.7L2291.7 1590.3L2290.7 1591.3L2289.7 1592.3L2288.7 1593L2287.7 1594.4L2286.7 1595.3L2285.7 1595.6L2284.7 1594.9L2283.7 1593.2L2282.7 1590.9L2281.7 1588.8L2280.7 1588.5L2279.7 1590.3L2278.7 1592.7L2277.7 1593.3L2276.7 1593.3L2275.7 1592.9L2274.7 1592.4L2273.7 1592L2272.7 1592.1L2271.7 1592.7L2270.7 1593.4L2269.7 1593.7L2268.7 1592.3L2267.7 1589.9L2266.7 1589.1L2265.7 1589.2L2264.7 1589.6L2263.7 1589.9L2262.7 1589.1L2261.7 1587.4L2260.7 1584.1L2259.7 1580.4L2258.7 1577.4L2257.7 1575.9L2256.7 1576.4L2255.7 1579.1L2254.7 1581.8L2253.7 1582.5L2252.7 1580.7L2251.7 1578.8L2250.7 1582L2249.7 1586L2248.7 1590.9L2247.7 1596.1L2246.7 1596.2L2245.7 1595.8L2244.7 1594.9L2243.7 1592.9L2242.7 1593.8L2241.7 1595.8L2240.7 1597.7L2239.7 1599.4L2238.7 1600.8L2237.7 1601.9L2236.7 1602.6L2235.7 1601.4L2234.7 1600.6L2233.7 1600.6L2232.7 1601.8L2231.7 1602.5L2230.7 1602L2229.7 1600.6L2228.7 1598.7L2227.7 1595.8L2226.7 1596L2225.7 1597.7L2224.7 1600.3L2223.7 1602.3L2222.7 1602.2L2221.7 1601L2220.7 1599.4L2219.7 1598.9L2218.7 1599.1L2217.7 1600L2216.7 1600.9L2215.7 1600.7L2214.7 1599.1L2213.7 1596.9L2212.7 1594.7L2211.7 1593.8L2210.7 1594.1L2209.7 1594.9L2208.7 1596.2L2207.7 1597.4L2206.7 1597.1L2205.7 1594.8L2204.7 1592.9L2203.7 1591.4L2202.7 1592L2201.7 1593.3L2200.7 1594.8L2199.7 1594.6L2198.7 1593.4L2197.7 1591.5L2196.7 1589.1L2195.7 1588.5L2194.7 1588.2L2193.7 1587.8L2192.7 1586.2L2191.7 1584.4L2190.7 1585L2189.7 1586.2L2188.7 1587.6L2187.7 1588.2L2186.7 1588.3L2185.7 1588.2L2184.7 1587.4L2183.7 1587.9L2182.7 1585.8L2181.7 1581.4L2180.7 1578L2179.7 1577.1L2178.7 1576.8L2177.7 1576.9L2176.7 1577.9L2175.7 1578.4L2174.7 1579.3L2173.7 1579.2L2172.7 1578.2L2171.7 1578.3L2170.7 1579.3L2169.7 1580.7L2168.7 1582.8L2167.7 1584.4L2166.7 1585.8L2165.7 1586L2164.7 1586.5L2163.7 1587.4L2162.7 1587.9L2161.7 1588.5L2160.7 1589.3L2159.7 1590.7L2158.7 1592.1L2157.7 1593L2156.7 1593.5L2155.7 1593.3L2154.7 1592.5L2153.7 1590.2L2152.7 1588L2151.7 1587.9L2150.7 1588.9L2149.7 1590.3L2148.7 1591.5L2147.7 1592.9L2146.7 1594.1L2145.7 1593L2144.7 1590.9L2143.7 1589.6L2142.7 1589.5L2141.7 1590.4L2140.7 1591.7L2139.7 1592.3L2138.7 1592.8L2137.7 1593.5L2136.7 1593.7L2135.7 1592.7L2134.7 1591.1L2133.7 1588.7L2132.7 1586.7L2131.7 1584.8L2130.7 1582.7L2129.7 1580.5L2128.7 1580.1L2127.7 1579.7L2126.7 1578.8L2125.7 1578.6L2124.7 1578.9L2123.7 1579.8L2122.7 1581.1L2121.7 1580.6L2120.7 1580.2L2119.7 1581.5L2118.7 1584.8L2117.7 1589.5L2116.7 1591.5L2115.7 1590.9L2114.7 1589.7L2113.7 1590.1L2112.7 1592.8L2111.7 1593.7L2110.7 1594.4L2109.7 1595.3L2108.7 1593.8L2107.7 1591.2L2106.7 1587.7L2105.7 1586.4L2104.7 1586.6L2103.7 1588.5L2102.7 1590.6L2101.7 1591.7L2100.7 1591.6L2099.7 1592.7L2098.7 1592.7L2097.7 1592.6L2096.7 1593.8L2095.7 1593.6L2094.7 1595.7L2093.7 1598L2092.7 1598.8L2091.7 1598.8L2090.7 1597.2L2089.7 1593.7L2088.7 1591.3L2087.7 1589.8L2086.7 1589.5L2085.7 1589.6L2084.7 1590.1L2083.7 1591.1L2082.7 1590.4L2081.7 1588.5L2080.7 1586.7L2079.7 1587.3L2078.7 1589.7L2077.7 1592.8L2076.7 1594.2L2075.7 1593.9L2074.7 1593.5L2073.7 1593L2072.7 1593.1L2071.7 1592.7L2070.7 1592.2L2069.7 1591.5L2068.7 1591.3L2067.7 1589.9L2066.7 1587.2L2065.7 1584.9L2064.7 1583.2L2063.7 1583L2062.7 1583.8L2061.7 1583L2060.7 1581.3L2059.7 1580.3L2058.7 1579.3L2057.7 1579.6L2056.7 1580L2055.7 1579.7L2054.7 1578.6L2053.7 1578.1L2052.7 1579.5L2051.7 1582.6L2050.7 1586.8L2049.7 1588.6L2048.7 1588.3L2047.7 1587.1L2046.7 1585.9L2045.7 1585.6L2044.7 1586.6L2043.7 1587.4L2042.7 1587.3L2041.7 1586.2L2040.7 1585.6L2039.7 1586.2L2038.7 1588.2L2037.7 1590.7L2036.7 1593.5L2035.7 1595.8L2034.7 1595.9L2033.7 1596L2032.7 1595.2L2031.7 1594.3L2030.7 1593.9L2029.7 1593.4L2028.7 1592.6L2027.7 1590.7L2026.7 1589.6L2025.7 1589.9L2024.7 1589.8L2023.7 1590.2L2022.7 1590.9L2021.7 1590.5L2020.7 1590.6L2019.7 1590.2L2018.7 1589.4L2017.7 1589.6L2016.7 1590.4L2015.7 1592.4L2014.7 1594.2L2013.7 1596.1L2012.7 1597L2011.7 1596.1L2010.7 1595.6L2009.7 1594.9L2008.7 1593.8L2007.7 1594.5L2006.7 1594.3L2005.7 1595L2004.7 1595.2L2003.7 1594.1L2002.7 1593.5L2001.7 1592.4L2000.7 1592.1L1999.7 1592.1L1998.7 1592.8L1997.7 1593.9L1996.7 1595.4L1995.7 1597.4L1994.7 1597.3L1993.7 1596.9L1992.7 1593.9L1991.7 1590.6L1990.7 1587.3L1989.7 1584.2L1988.7 1580.9L1987.7 1578.9L1986.7 1580.4L1985.7 1582.7L1984.7 1584.8L1983.7 1586.2L1982.7 1586.2L1981.7 1585.8L1980.7 1584.8L1979.7 1585.3L1978.7 1586.7L1977.7 1587.8L1976.7 1585.1L1975.7 1582.1L1974.7 1579L1973.7 1576.7L1972.7 1576L1971.7 1576.1L1970.7 1577.9L1969.7 1578.8L1968.7 1579.2L1967.7 1579.8L1966.7 1579.9L1965.7 1580L1964.7 1582L1963.7 1583L1962.7 1584.9L1961.7 1587.1L1960.7 1587.6L1959.7 1588.2L1958.7 1589.3L1957.7 1590.2L1956.7 1589.9L1955.7 1588.9L1954.7 1586.4L1953.7 1582.9L1952.7 1580.6L1951.7 1579.8L1950.7 1580.8L1949.7 1581.9L1948.7 1583L1947.7 1583.8L1946.7 1585.2L1945.7 1586.9L1944.7 1587L1943.7 1586.4L1942.7 1586.2L1941.7 1587.4L1940.7 1589.1L1939.7 1590.1L1938.7 1589L1937.7 1588.1L1936.7 1588.1L1935.7 1588.4L1934.7 1588.9L1933.7 1589.3L1932.7 1589.2L1931.7 1589L1930.7 1589.3L1929.7 1590.4L1928.7 1590L1927.7 1587.9L1926.7 1585.5L1925.7 1584L1924.7 1584.1L1923.7 1586.3L1922.7 1588.6L1921.7 1588.7L1920.7 1588.1L1919.7 1587.4L1918.7 1587.4L1917.7 1588.1L1916.7 1588.9L1915.7 1589.8L1914.7 1589.7L1913.7 1589.5L1912.7 1589.7L1911.7 1589.3L1910.7 1586.3L1909.7 1585.3L1908.7 1585.3L1907.7 1586.3L1906.7 1587.8L1905.7 1589.1L1904.7 1589.4L1903.7 1589.2L1902.7 1588.8L1901.7 1588.7L1900.7 1587.4L1899.7 1587.5L1898.7 1587.9L1897.7 1587.9L1896.7 1586.9L1895.7 1585.5L1894.7 1583.9L1893.7 1584.1L1892.7 1585.6L1891.7 1587.9L1890.7 1590.4L1889.7 1592.5L1888.7 1593.7L1887.7 1592.8L1886.7 1591.4L1885.7 1589.3L1884.7 1588.9L1883.7 1589.4L1882.7 1590L1881.7 1590L1880.7 1589.6L1879.7 1588.1L1878.7 1585.9L1877.7 1584.2L1876.7 1584.1L1875.7 1585L1874.7 1585.2L1873.7 1585.4L1872.7 1585.8L1871.7 1586.1L1870.7 1585.1L1869.7 1584.9L1868.7 1585L1867.7 1586.8L1866.7 1587.5L1865.7 1586.3L1864.7 1586.1L1863.7 1585.6L1862.7 1583.5L1861.7 1583.5L1860.7 1584.7L1859.7 1587.2L1858.7 1589.6L1857.7 1591.5L1856.7 1591.6L1855.7 1591.6L1854.7 1588.2L1853.7 1585.4L1852.7 1584.8L1851.7 1584.1L1850.7 1584L1849.7 1583.4L1848.7 1582.1L1847.7 1581.8L1846.7 1581.8L1845.7 1581.3L1844.7 1580.9L1843.7 1580.8L1842.7 1580.4L1841.7 1579.4L1840.7 1578.7L1839.7 1578.3L1838.7 1578.1L1837.7 1578.4L1836.7 1577.6L1835.7 1576.8L1834.7 1577.6L1833.7 1578.9L1832.7 1580.8L1831.7 1581.7L1830.7 1581.6L1829.7 1581.7L1828.7 1582.4L1827.7 1583.2L1826.7 1583.8L1825.7 1584.5L1824.7 1584.6L1823.7 1584.5L1822.7 1585.7L1821.7 1586.3L1820.7 1586.1L1819.7 1584.7L1818.7 1582.1L1817.7 1581.3L1816.7 1580.5L1815.7 1580.3L1814.7 1580.1L1813.7 1580.3L1812.7 1579.8L1811.7 1578.9L1810.7 1578.9L1809.7 1578.4L1808.7 1575.3L1807.7 1574.7L1806.7 1574.7L1805.7 1576.6L1804.7 1578.3L1803.7 1578.8L1802.7 1578.3L1801.7 1578.2L1800.7 1578.8L1799.7 1579.2L1798.7 1579.1L1797.7 1578.8L1796.7 1578.6L1795.7 1578.6L1794.7 1578.4L1793.7 1578.1L1792.7 1578.3L1791.7 1578L1790.7 1578.4L1789.7 1579.1L1788.7 1580.2L1787.7 1581.4L1786.7 1583L1785.7 1583L1784.7 1582.8L1783.7 1583.4L1782.7 1584.2L1781.7 1585.8L1780.7 1586.8L1779.7 1587.5L1778.7 1587.4L1777.7 1586.9L1776.7 1586.3L1775.7 1587.1L1774.7 1588.8L1773.7 1588.3L1772.7 1587.9L1771.7 1588.5L1770.7 1589.7L1769.7 1590.7L1768.7 1590.4L1767.7 1588.9L1766.7 1585.7L1765.7 1583.8L1764.7 1582.9L1763.7 1581.3L1762.7 1580.8L1761.7 1581.1L1760.7 1582.1L1759.7 1585.4L1758.7 1587.8L1757.7 1588.3L1756.7 1588.5L1755.7 1588.7L1754.7 1590L1753.7 1591.8L1752.7 1594.2L1751.7 1596L1750.7 1595.7L1749.7 1593.6L1748.7 1590.7L1747.7 1589L1746.7 1587.5L1745.7 1587.8L1744.7 1588.8L1743.7 1588.8L1742.7 1588.1L1741.7 1587L1740.7 1585.5L1739.7 1584L1738.7 1582.9L1737.7 1582L1736.7 1581L1735.7 1580L1734.7 1580.7L1733.7 1583.1L1732.7 1584.7L1731.7 1584.4L1730.7 1583.5L1729.7 1584.4L1728.7 1586L1727.7 1588.6L1726.7 1590.8L1725.7 1591.9L1724.7 1592.8L1723.7 1592.5L1722.7 1591.4L1721.7 1590.7L1720.7 1590.8L1719.7 1591.6L1718.7 1592.7L1717.7 1593.1L1716.7 1592.4L1715.7 1590L1714.7 1586.8L1713.7 1584.5L1712.7 1582.4L1711.7 1582.7L1710.7 1583.6L1709.7 1585L1708.7 1585.6L1707.7 1585.4L1706.7 1582.9L1705.7 1580.6L1704.7 1579.1L1703.7 1578.3L1702.7 1578.8L1701.7 1579.6L1700.7 1580L1699.7 1579.3L1698.7 1577.5L1697.7 1576.5L1696.7 1576.2L1695.7 1576.1L1694.7 1575.9L1693.7 1576L1692.7 1576.6L1691.7 1578.7L1690.7 1579.3L1689.7 1579.6L1688.7 1579.6L1687.7 1579.4L1686.7 1579.7L1685.7 1579.8L1684.7 1580.4L1683.7 1580.9L1682.7 1581.1L1681.7 1581.6L1680.7 1580.8L1679.7 1579.6L1678.7 1579.4L1677.7 1580.4L1676.7 1582L1675.7 1584.9L1674.7 1585.8L1673.7 1585.2L1672.7 1584.1L1671.7 1582.9L1670.7 1582.4L1669.7 1581.3L1668.7 1580.5L1667.7 1578.8L1666.7 1576.8L1665.7 1576.1L1664.7 1576.2L1663.7 1576.6L1662.7 1576.5L1661.7 1575.4L1660.7 1573.8L1659.7 1571.2L1658.7 1569.6L1657.7 1567.7L1656.7 1566.7L1655.7 1566.1L1654.7 1566.2L1653.7 1566.3L1652.7 1566.4L1651.7 1566.3L1650.7 1566.3L1649.7 1567.4L1648.7 1568.4L1647.7 1568.4L1646.7 1567.9L1645.7 1567L1644.7 1566.1L1643.7 1565.9L1642.7 1566.9L1641.7 1569.7L1640.7 1570.7L1639.7 1572L1638.7 1571.8L1637.7 1570.7L1636.7 1569.4L1635.7 1569.1L1634.7 1569.4L1633.7 1570.2L1632.7 1571.9L1631.7 1573.5L1630.7 1572.8L1629.7 1573.2L1628.7 1573.8L1627.7 1573L1626.7 1572L1625.7 1572.6L1624.7 1573.7L1623.7 1576.1L1622.7 1578.3L1621.7 1578.8L1620.7 1577.9L1619.7 1574.9L1618.7 1573.2L1617.7 1572.9L1616.7 1573.6L1615.7 1575.1L1614.7 1575.9L1613.7 1574.8L1612.7 1573.2L1611.7 1572.1L1610.7 1572.1L1609.7 1572.2L1608.7 1572.7L1607.7 1570.4L1606.7 1568.8L1605.7 1568.4L1604.7 1567.1L1603.7 1565.8L1602.7 1565.2L1601.7 1566.4L1600.7 1567.7L1599.7 1569.3L1598.7 1569.8L1597.7 1570.1L1596.7 1569.6L1595.7 1569.3L1594.7 1569.2L1593.7 1568.7L1592.7 1567.7L1591.7 1566.5L1590.7 1563.5L1589.7 1560.1L1588.7 1557.7L1587.7 1556.8L1586.7 1557.3L1585.7 1558.8L1584.7 1560.3L1583.7 1561.2L1582.7 1562L1581.7 1564.2L1580.7 1566.3L1579.7 1567.8L1578.7 1567.8L1577.7 1568.6L1576.7 1569.8L1575.7 1571L1574.7 1572.4L1573.7 1573.2L1572.7 1572.5L1571.7 1571.7L1570.7 1570.9L1569.7 1571.7L1568.7 1574L1567.7 1575.1L1566.7 1574.2L1565.7 1573.6L1564.7 1572.8L1563.7 1572.8L1562.7 1574.8L1561.7 1577.2L1560.7 1580L1559.7 1582.6L1558.7 1582.2L1557.7 1581.2L1556.7 1580.1L1555.7 1579.8L1554.7 1579.7L1553.7 1579L1552.7 1578.2L1551.7 1576.4L1550.7 1575.7L1549.7 1575.4L1548.7 1575.7L1547.7 1574.5L1546.7 1573.6L1545.7 1573L1544.7 1572.9L1543.7 1573.2L1542.7 1573.3L1541.7 1572.3L1540.7 1571.8L1539.7 1569.8L1538.7 1567.6L1537.7 1566.8L1536.7 1567.4L1535.7 1568.5L1534.7 1569.4L1533.7 1569.9L1532.7 1571.4L1531.7 1575L1530.7 1579.6L1529.7 1582L1528.7 1582.3L1527.7 1581.1L1526.7 1578.4L1525.7 1576.5L1524.7 1575.5L1523.7 1576L1522.7 1576.1L1521.7 1575L1520.7 1572.8L1519.7 1570.4L1518.7 1568.8L1517.7 1567.9L1516.7 1568.7L1515.7 1570.1L1514.7 1570.9L1513.7 1570.5L1512.7 1568.5L1511.7 1568.3L1510.7 1569.2L1509.7 1571.3L1508.7 1571.9L1507.7 1570.6L1506.7 1568.4L1505.7 1566.7L1504.7 1564.7L1503.7 1563.3L1502.7 1562.7L1501.7 1563.3L1500.7 1564.8L1499.7 1563.3L1498.7 1560.6L1497.7 1558.4L1496.7 1558.4L1495.7 1561.1L1494.7 1563.2L1493.7 1562.6L1492.7 1561.6L1491.7 1560.6L1490.7 1560.7L1489.7 1561.9L1488.7 1563.6L1487.7 1564.1L1486.7 1564.5L1485.7 1566.2L1484.7 1567.1L1483.7 1568L1482.7 1568.7L1481.7 1570.1L1480.7 1573.1L1479.7 1574.7L1478.7 1574.9L1477.7 1575.5L1476.7 1576.3L1475.7 1577.6L1474.7 1578.1L1473.7 1577L1472.7 1575.1L1471.7 1572.5L1470.7 1571.3L1469.7 1571L1468.7 1574.3L1467.7 1575.5L1466.7 1575L1465.7 1574L1464.7 1573.3L1463.7 1573L1462.7 1572.9L1461.7 1570.6L1460.7 1568.4L1459.7 1567.3L1458.7 1567.1L1457.7 1567.2L1456.7 1566.2L1455.7 1562.9L1454.7 1563.4L1453.7 1565.9L1452.7 1570.2L1451.7 1574L1450.7 1575.4L1449.7 1576.5L1448.7 1576.4L1447.7 1575.8L1446.7 1575.4L1445.7 1575.8L1444.7 1575.5L1443.7 1574.9L1442.7 1574.7L1441.7 1575.8L1440.7 1576.7L1439.7 1576.4L1438.7 1575.1L1437.7 1574.2L1436.7 1574.2L1435.7 1574L1434.7 1572.4L1433.7 1572.1L1432.7 1572.3L1431.7 1573.1L1430.7 1573.5L1429.7 1572.7L1428.7 1570.6L1427.7 1569.1L1426.7 1568.7L1425.7 1567.9L1424.7 1567.3L1423.7 1567.3L1422.7 1567.5L1421.7 1567.6L1420.7 1567.2L1419.7 1566.4L1418.7 1565.4L1417.7 1564.7L1416.7 1564.7L1415.7 1564.7L1414.7 1564.8L1413.7 1565.2L1412.7 1564.8L1411.7 1561.4L1410.7 1561.3L1409.7 1562.8L1408.7 1564.1L1407.7 1564.4L1406.7 1563.5L1405.7 1561.7L1404.7 1559.3L1403.7 1557L1402.7 1556.8L1401.7 1558.4L1400.7 1559.5L1399.7 1558.7L1398.7 1557.3L1397.7 1556.3L1396.7 1556.9L1395.7 1557.9L1394.7 1560L1393.7 1561.4L1392.7 1561.3L1391.7 1561L1390.7 1561.9L1389.7 1563.1L1388.7 1564.3L1387.7 1565.5L1386.7 1566.6L1385.7 1569.6L1384.7 1571.3L1383.7 1571.3L1382.7 1571.5L1381.7 1570.8L1380.7 1571.1L1379.7 1572.1L1378.7 1573.9L1377.7 1575.1L1376.7 1575.5L1375.7 1575.6L1374.7 1575.8L1373.7 1573.9L1372.7 1572L1371.7 1570.7L1370.7 1569.5L1369.7 1568L1368.7 1567.4L1367.7 1566.9L1366.7 1567.2L1365.7 1567.8L1364.7 1567.9L1363.7 1567L1362.7 1566.5L1361.7 1566.1L1360.7 1566.1L1359.7 1565.6L1358.7 1563.2L1357.7 1560.9L1356.7 1560.4L1355.7 1560.2L1354.7 1561.9L1353.7 1563.6L1352.7 1563.5L1351.7 1561.7L1350.7 1558.3L1349.7 1555.9L1348.7 1556.3L1347.7 1557.7L1346.7 1559.4L1345.7 1559.8L1344.7 1560.6L1343.7 1562L1342.7 1563.1L1341.7 1563.6L1340.7 1564.1L1339.7 1563.1L1338.7 1561.7L1337.7 1561.6L1336.7 1562.2L1335.7 1563.6L1334.7 1565.2L1333.7 1566.6L1332.7 1565.4L1331.7 1564L1330.7 1562.4L1329.7 1561.8L1328.7 1561.5L1327.7 1562.1L1326.7 1561.4L1325.7 1559.7L1324.7 1558.1L1323.7 1557.5L1322.7 1557.8L1321.7 1558.3L1320.7 1558.9L1319.7 1559L1318.7 1558.8L1317.7 1560.5L1316.7 1561.5L1315.7 1560.7L1314.7 1558.3L1313.7 1556.5L1312.7 1556.7L1311.7 1558L1310.7 1559.4L1309.7 1560.4L1308.7 1561.1L1307.7 1561.3L1306.7 1562L1305.7 1562.7L1304.7 1563.2L1303.7 1562.7L1302.7 1561.2L1301.7 1559.5L1300.7 1557.8L1299.7 1557.2L1298.7 1557.8L1297.7 1559L1296.7 1559.8L1295.7 1559.4L1294.7 1556.3L1293.7 1555.1L1292.7 1554.1L1291.7 1554.8L1290.7 1556L1289.7 1555.8L1288.7 1555.6L1287.7 1555.4L1286.7 1554.8L1285.7 1553.6L1284.7 1551.9L1283.7 1551L1282.7 1551.2L1281.7 1551.8L1280.7 1551.6L1279.7 1552.4L1278.7 1553L1277.7 1553.7L1276.7 1554L1275.7 1555.6L1274.7 1558.2L1273.7 1559.5L1272.7 1560.1L1271.7 1557.8L1270.7 1556.6L1269.7 1556.3L1268.7 1559.7L1267.7 1561.7L1266.7 1560.9L1265.7 1559.9L1264.7 1559.2L1263.7 1557.1L1262.7 1553.7L1261.7 1553.8L1260.7 1555.2L1259.7 1558.1L1258.7 1560.6L1257.7 1560.7L1256.7 1558.9L1255.7 1556.2L1254.7 1553.9L1253.7 1552.6L1252.7 1553.2L1251.7 1553.9L1250.7 1553.7L1249.7 1552.7L1248.7 1550.8L1247.7 1549.6L1246.7 1550.5L1245.7 1552L1244.7 1553.5L1243.7 1554.4L1242.7 1553.3L1241.7 1551.6L1240.7 1551.1L1239.7 1550.7L1238.7 1551L1237.7 1551.4L1236.7 1552.1L1235.7 1554.4L1234.7 1556.6L1233.7 1557L1232.7 1556L1231.7 1555.1L1230.7 1554.7L1229.7 1554.5L1228.7 1554.3L1227.7 1553.9L1226.7 1553.5L1225.7 1553.2L1224.7 1552L1223.7 1553.5L1222.7 1556L1221.7 1558L1220.7 1557.7L1219.7 1557.4L1218.7 1557.7L1217.7 1558.1L1216.7 1559.2L1215.7 1560.2L1214.7 1560.5L1213.7 1559.7L1212.7 1558.1L1211.7 1555.5L1210.7 1552.8L1209.7 1551.6L1208.7 1550.9L1207.7 1551.3L1206.7 1552.5L1205.7 1553.7L1204.7 1554.5L1203.7 1555.1L1202.7 1554.2L1201.7 1552.9L1200.7 1552.6L1199.7 1552.3L1198.7 1553.5L1197.7 1554.7L1196.7 1555.2L1195.7 1554.6L1194.7 1552.9L1193.7 1551.5L1192.7 1550.9L1191.7 1551.5L1190.7 1551L1189.7 1550.6L1188.7 1549.4L1187.7 1547L1186.7 1546.1L1185.7 1546.1L1184.7 1546.7L1183.7 1547.4L1182.7 1548.4L1181.7 1548.5L1180.7 1550.6L1179.7 1553.6L1178.7 1555.7L1177.7 1557.8L1176.7 1559.6L1175.7 1560.3L1174.7 1560.8L1173.7 1561.9L1172.7 1563.6L1171.7 1564.1L1170.7 1564.3L1169.7 1564.2L1168.7 1562.8L1167.7 1560.4L1166.7 1558.7L1165.7 1556.7L1164.7 1554.9L1163.7 1552.9L1162.7 1552.3L1161.7 1552.5L1160.7 1553.1L1159.7 1553.5L1158.7 1554.1L1157.7 1553.3L1156.7 1550.6L1155.7 1548L1154.7 1548L1153.7 1550.3L1152.7 1553.1L1151.7 1554.7L1150.7 1554.9L1149.7 1553.4L1148.7 1551.3L1147.7 1549.3L1146.7 1549.4L1145.7 1551.2L1144.7 1552.9L1143.7 1553L1142.7 1552.8L1141.7 1550.8L1140.7 1548.7L1139.7 1547L1138.7 1547.3L1137.7 1548L1136.7 1549.5L1135.7 1549.9L1134.7 1549L1133.7 1547.5L1132.7 1545.7L1131.7 1544.3L1130.7 1544L1129.7 1545.9L1128.7 1548.3L1127.7 1549.5L1126.7 1549.5L1125.7 1547.9L1124.7 1546.1L1123.7 1544.6L1122.7 1544.8L1121.7 1545.1L1120.7 1544.1L1119.7 1542.1L1118.7 1540.9L1117.7 1540.1L1116.7 1541.1L1115.7 1542.3L1114.7 1541.7L1113.7 1540.9L1112.7 1540.3L1111.7 1540L1110.7 1539L1109.7 1537.7L1108.7 1536.4L1107.7 1535.3L1106.7 1534.1L1105.7 1534.2L1104.7 1535.1L1103.7 1536.4L1102.7 1537.6L1101.7 1538.8L1100.7 1539.4L1099.7 1539.7L1098.7 1539.2L1097.7 1537.4L1096.7 1535.6L1095.7 1535.1L1094.7 1535.9L1093.7 1537.2L1092.7 1538.4L1091.7 1539.1L1090.7 1538.9L1089.7 1538.5L1088.7 1539.5L1087.7 1539.8L1086.7 1540.5L1085.7 1540.4L1084.7 1539.4L1083.7 1538.2L1082.7 1537.8L1081.7 1538.2L1080.7 1538.4L1079.7 1538.8L1078.7 1540.2L1077.7 1542.3L1076.7 1545L1075.7 1546.5L1074.7 1546.1L1073.7 1544.5L1072.7 1542.7L1071.7 1542.4L1070.7 1542.5L1069.7 1543.6L1068.7 1544.9L1067.7 1546L1066.7 1546.1L1065.7 1545.2L1064.7 1543.1L1063.7 1542.1L1062.7 1541.6L1061.7 1540.2L1060.7 1538.8L1059.7 1537.6L1058.7 1537.3L1057.7 1538.3L1056.7 1541.5L1055.7 1542.3L1054.7 1542L1053.7 1539.3L1052.7 1536.7L1051.7 1535.8L1050.7 1536L1049.7 1536.8L1048.7 1537.5L1047.7 1537.6L1046.7 1537.1L1045.7 1537.9L1044.7 1538.9L1043.7 1538.5L1042.7 1537.4L1041.7 1535L1040.7 1532.9L1039.7 1532.5L1038.7 1532.7L1037.7 1534.6L1036.7 1537.7L1035.7 1538.4L1034.7 1538.7L1033.7 1537.2L1032.7 1535.5L1031.7 1534.6L1030.7 1535.4L1029.7 1536.9L1028.7 1537.2L1027.7 1536.7L1026.7 1535L1025.7 1532.9L1024.7 1531.8L1023.7 1531.6L1022.7 1532.1L1021.7 1532L1020.7 1531.6L1019.7 1530L1018.7 1527.2L1017.7 1523.5L1016.7 1519.7L1015.7 1517.4L1014.7 1518.3L1013.7 1518.8L1012.7 1517.4L1011.7 1514.9L1010.7 1512.7L1009.7 1510.6L1008.7 1511.6L1007.7 1514.3L1006.7 1517.5L1005.7 1519.4L1004.7 1519.1L1003.7 1517.6L1002.7 1516.3L1001.7 1517.3L1000.7 1518.4L999.7 1520.2L998.7 1521.5L997.7 1522.7L996.7 1522.8L995.7 1522.1L994.7 1521.6L993.7 1521.2L992.7 1521.2L991.7 1521.8L990.7 1523.2L989.7 1524.6L988.7 1525.5L987.7 1525.8L986.7 1524.8L985.7 1524.3L984.7 1524.5L983.7 1525.5L982.7 1525.2L981.7 1525.8L980.7 1526.6L979.7 1527.2L978.7 1526.7L977.7 1524.5L976.7 1522.9L975.7 1522.3L974.7 1523L973.7 1524.6L972.7 1526.3L971.7 1527.4L970.7 1528.3L969.7 1528L968.7 1527.4L967.7 1525.6L966.7 1525.4L965.7 1525.8L964.7 1526.8L963.7 1528L962.7 1528.3L961.7 1528.5L960.7 1528L959.7 1526.4L958.7 1524.3L957.7 1522.4L956.7 1520.5L955.7 1519.4L954.7 1519.1L953.7 1519.2L952.7 1519.1L951.7 1518.7L950.7 1518.3L949.7 1516.8L948.7 1515.5L947.7 1514.9L946.7 1516.1L945.7 1517.2L944.7 1519.3L943.7 1521.3L942.7 1523L941.7 1523.8L940.7 1522.4L939.7 1520.3L938.7 1520.9L937.7 1522.3L936.7 1524.5L935.7 1526.7L934.7 1528.6L933.7 1528.2L932.7 1525L931.7 1521.6L930.7 1521.6L929.7 1523L928.7 1523.9L927.7 1522.5L926.7 1521L925.7 1519.9L924.7 1518.2L923.7 1516.9L922.7 1515.2L921.7 1512.8L920.7 1511.2L919.7 1510.5L918.7 1512L917.7 1513.5L916.7 1513.2L915.7 1511.2L914.7 1508.9L913.7 1508.4L912.7 1509.6L911.7 1511.2L910.7 1512.7L909.7 1513.9L908.7 1514.8L907.7 1515L906.7 1514.8L905.7 1514.6L904.7 1514.7L903.7 1515.6L902.7 1517.8L901.7 1518.4L900.7 1518.8L899.7 1519.5L898.7 1517.8L897.7 1514.6L896.7 1511.4L895.7 1511.3L894.7 1512.3L893.7 1514.5L892.7 1516.6L891.7 1517.9L890.7 1518.4L889.7 1517.1L888.7 1515.2L887.7 1514.7L886.7 1515.1L885.7 1517.2L884.7 1519.6L883.7 1521.2L882.7 1521.5L881.7 1522.1L880.7 1522.6L879.7 1523L878.7 1522.4L877.7 1520.8L876.7 1520.2L875.7 1520.3L874.7 1520.8L873.7 1520.8L872.7 1521.4L871.7 1521.7L870.7 1522.7L869.7 1522L868.7 1519.8L867.7 1515.5L866.7 1512L865.7 1511.7L864.7 1514.6L863.7 1517.6L862.7 1517.8L861.7 1516.2L860.7 1514.1L859.7 1513.4L858.7 1513.1L857.7 1514.7L856.7 1515.5L855.7 1516.4L854.7 1516.8L853.7 1516.9L852.7 1516.5L851.7 1515.8L850.7 1515.7L849.7 1518L848.7 1522L847.7 1524.8L846.7 1525.6L845.7 1523.7L844.7 1519.6L843.7 1517.7L842.7 1516.7L841.7 1515.4L840.7 1515.5L839.7 1516.3L838.7 1515.8L837.7 1516.5L836.7 1516.3L835.7 1515.8L834.7 1514.7L833.7 1514.3L832.7 1513.9L831.7 1513.5L830.7 1512.9L829.7 1512.2L828.7 1510.4L827.7 1508.6L826.7 1506.9L825.7 1506.2L824.7 1506.6L823.7 1508.1L822.7 1509L821.7 1509.1L820.7 1508.9L819.7 1508.3L818.7 1507.5L817.7 1506.3L816.7 1506L815.7 1506.9L814.7 1507.6L813.7 1506.7L812.7 1506.3L811.7 1506.6L810.7 1506.6L809.7 1506.6L808.7 1506.2L807.7 1506.2L806.7 1507L805.7 1507.5L804.7 1508L803.7 1507.9L802.7 1507L801.7 1505.5L800.7 1504.3L799.7 1503.5L798.7 1503.6L797.7 1505.2L796.7 1505.5L795.7 1504.1L794.7 1503.4L793.7 1503.2L792.7 1503.3L791.7 1503.8L790.7 1503.6L789.7 1503.2L788.7 1503.1L787.7 1504L786.7 1504.9L785.7 1505.4L784.7 1506L783.7 1506L782.7 1505.4L781.7 1504.3L780.7 1503.5L779.7 1502.7L778.7 1502.5L777.7 1503.1L776.7 1504.7L775.7 1505.9L774.7 1506.4L773.7 1505L772.7 1503.2L771.7 1501.6L770.7 1501.4L769.7 1503.3L768.7 1503.6L767.7 1501.7L766.7 1498.6L765.7 1496.6L764.7 1495.6L763.7 1495.8L762.7 1496.8L761.7 1497.9L760.7 1499L759.7 1500L758.7 1500.6L757.7 1500.3L756.7 1498.7L755.7 1496.8L754.7 1495.5L753.7 1495.2L752.7 1495.2L751.7 1494.4L750.7 1493.9L749.7 1493.8L748.7 1493.6L747.7 1493.1L746.7 1493.1L745.7 1492.9L744.7 1492.3L743.7 1491.4L742.7 1489.1L741.7 1485.3L740.7 1483L739.7 1482.5L738.7 1483.7L737.7 1484.9L736.7 1485.8L735.7 1485.2L734.7 1483.7L733.7 1482.4L732.7 1482.4L731.7 1483.9L730.7 1486.5L729.7 1488.1L728.7 1489.4L727.7 1489L726.7 1486.9L725.7 1485.9L724.7 1486L723.7 1485.7L722.7 1485.1L721.7 1484.6L720.7 1485.4L719.7 1486.4L718.7 1487.6L717.7 1489.6L716.7 1492L715.7 1493.6L714.7 1494.1L713.7 1494L712.7 1493.2L711.7 1491.5L710.7 1489.3L709.7 1487.2L708.7 1486.8L707.7 1487.2L706.7 1487.7L705.7 1487.5L704.7 1486.8L703.7 1485L702.7 1481.7L701.7 1479.3L700.7 1478.6L699.7 1478.4L698.7 1478.8L697.7 1478.8L696.7 1478L695.7 1476.7L694.7 1475.3L693.7 1474.8L692.7 1475.4L691.7 1476.6L690.7 1476.8L689.7 1477.2L688.7 1477.4L687.7 1476.6L686.7 1474.9L685.7 1473.5L684.7 1472.4L683.7 1472L682.7 1473.6L681.7 1474.1L680.7 1473.5L679.7 1472.9L678.7 1472L677.7 1471.9L676.7 1472.8L675.7 1474L674.7 1475.1L673.7 1475L672.7 1474.9L671.7 1473.9L670.7 1472.8L669.7 1472L668.7 1472.5L667.7 1473.6L666.7 1473.5L665.7 1473.2L664.7 1471.3L663.7 1469.6L662.7 1469L661.7 1469.7L660.7 1470.9L659.7 1470.9L658.7 1470.1L657.7 1468.8L656.7 1467.5L655.7 1467.2L654.7 1467.9L653.7 1468.7L652.7 1468.5L651.7 1466.6L650.7 1464.8L649.7 1464.6L648.7 1464.5L647.7 1465.4L646.7 1466.2L645.7 1466.4L644.7 1466.1L643.7 1465L642.7 1463.8L641.7 1463L640.7 1462.8L639.7 1462.5L638.7 1462L637.7 1461.6L636.7 1461.4L635.7 1461.2L634.7 1460.9L633.7 1460.5L632.7 1460.2L631.7 1460L630.7 1460.2L629.7 1459.9L628.7 1459.8L627.7 1459.6L626.7 1459.6L625.7 1459.6L624.7 1459.5L623.7 1458.6L622.7 1457.9L621.7 1457.6L620.7 1457.7L619.7 1457.8L618.7 1457.5L617.7 1456.9L601.8 1445.7Z" fill="#231f20" stroke="#231f20" stroke-width="1.4" stroke-linejoin="round"/>
<path d="M475.8 1353.2L490 1366L505 1378.9" fill="none" stroke="#231f20" stroke-width="7.5" stroke-linejoin="round" stroke-linecap="round"/>
<path d="M505 1378.9L511 1384L530 1400L540 1406.8" fill="none" stroke="#231f20" stroke-width="8.1" stroke-linejoin="round" stroke-linecap="round"/>
<path d="M540 1406.8L552 1415L575 1422" fill="none" stroke="#231f20" stroke-width="8.9" stroke-linejoin="round" stroke-linecap="round"/>
<path d="M575 1422L585 1425L600 1433L606 1437" fill="none" stroke="#231f20" stroke-width="9.8" stroke-linejoin="round" stroke-linecap="round"/>
<ellipse cx="237.2" cy="268.6" rx="13.6" ry="15.6" fill="none" stroke="#231f20" stroke-width="7" stroke-linejoin="miter" stroke-miterlimit="10"/>
<ellipse cx="510.3" cy="1384.5" rx="13.6" ry="15.6" fill="none" stroke="#231f20" stroke-width="7" stroke-linejoin="miter" stroke-miterlimit="10"/>
<ellipse cx="783" cy="1492" rx="13.6" ry="15.6" fill="none" stroke="#231f20" stroke-width="7" stroke-linejoin="miter" stroke-miterlimit="10"/>
<ellipse cx="1055.7" cy="1531.6" rx="13.6" ry="15.6" fill="none" stroke="#231f20" stroke-width="7" stroke-linejoin="miter" stroke-miterlimit="10"/>
<ellipse cx="1328.4" cy="1556.3" rx="13.6" ry="15.6" fill="none" stroke="#231f20" stroke-width="7" stroke-linejoin="miter" stroke-miterlimit="10"/>
<ellipse cx="1601.1" cy="1566.6" rx="13.6" ry="15.6" fill="none" stroke="#231f20" stroke-width="7" stroke-linejoin="miter" stroke-miterlimit="10"/>
<ellipse cx="1873.8" cy="1577.9" rx="13.6" ry="15.6" fill="none" stroke="#231f20" stroke-width="7" stroke-linejoin="miter" stroke-miterlimit="10"/>
<ellipse cx="2146.5" cy="1579.5" rx="13.6" ry="15.6" fill="none" stroke="#231f20" stroke-width="7" stroke-linejoin="miter" stroke-miterlimit="10"/>
</g>
<g id="curve-g">
<path d="M237.2 268.8L246 264L251.8 262.2L253.6 268L255.8 289.6L258.6 339.2L262.2 420L264.6 474.4L271 584.2L279 697L286.1 782.3L294.8 864.7L302.2 933.3L305.8 960L311.7 999.7L316.7 1039.4L321.6 1069.1L325.6 1098.9L329.1 1116.7L333 1140L336.8 1160L342.5 1184.3L347 1199.2L350.5 1214L354 1229L360 1243.8L365 1258.7L370 1273.6L379.6 1310.4" fill="none" stroke="#6abd45" stroke-width="7.4" stroke-linejoin="round" stroke-linecap="butt"/>
<path d="M379.6 1306L385.6 1319.6L391.5 1333.1L397.5 1339.7L403.4 1350L404.4 1350.6L405.4 1351L406.4 1351.2L407.4 1351.6L408.4 1352.2L409.4 1352.9L410.4 1353L411.4 1353L412.4 1352.9L413.4 1352.7L414.4 1352.6L415.4 1352.5L416.4 1352.4L417.4 1353L418.4 1356.3L419.4 1359.3L420.4 1362.1L421.4 1364.6L422.4 1365.9L423.4 1367.5L424.4 1369.1L425.4 1371L426.4 1373L427.4 1374.6L428.4 1374.2L429.4 1373.7L430.4 1373.2L431.4 1372.7L432.4 1372.3L433.4 1371.7L434.4 1371L435.4 1370.5L436.4 1370.3L437.4 1370.3L438.4 1370.1L439.4 1370.3L440.4 1371.9L441.4 1373.5L442.4 1375.1L443.4 1376.7L444.4 1378.3L445.4 1379L446.4 1378.1L447.4 1377.2L448.4 1376.8L449.4 1376.8L450.4 1376.7L451.4 1377.5L452.4 1379.2L453.4 1380.8L454.4 1382.3L455.4 1383.8L456.4 1385.4L457.4 1386.5L458.4 1386.8L459.4 1387.1L460.4 1387.6L461.4 1388.3L462.4 1389.4L463.4 1390.9L464.4 1391.9L465.4 1392.2L466.4 1392.8L467.4 1394.1L468.4 1395.9L469.4 1397.4L470.4 1397.3L471.4 1396.7L472.4 1395.1L473.4 1394.2L474.4 1393.8L475.4 1394.1L476.4 1394.5L477.4 1395L478.4 1394.8L479.4 1394.3L480.4 1393.1L481.4 1391.8L482.4 1390.9L483.4 1390.8L484.4 1391.2L485.4 1392.8L486.4 1394.4L487.4 1394.8L488.4 1394.8L489.4 1394.2L490.4 1393.2L491.4 1393.7L492.4 1393.8L493.4 1393.5L494.4 1394.8L495.4 1396.8L496.4 1400.6L497.4 1402.4L498.4 1402.8L499.4 1402.6L500.4 1402.5L501.4 1403.8L502.4 1405.1L503.4 1407.5L504.4 1409.6L505.4 1409.9L506.4 1410.1L507.4 1410L508.4 1410L509.4 1409.9L510.4 1409.9L511.4 1408.9L512.4 1407.5L513.4 1406.7L514.4 1407.5L515.4 1409.4L516.4 1410.3L517.4 1409.1L518.4 1407.6L519.4 1406L520.4 1405.1L521.4 1404.8L522.4 1404.4L523.4 1404.1L524.4 1403.8L525.4 1407.5L526.4 1411.9L527.4 1414.2L528.4 1416.4L529.4 1416.2L530.4 1417.1L531.4 1417.7L532.4 1418.7L533.4 1419.7L534.4 1420.6L535.4 1423.4L536.4 1426.1L537.4 1428.3L538.4 1427L539.4 1421.7L540.4 1420.6L541.4 1420.7L542.4 1420.9L543.4 1421L544.4 1421L545.4 1421.8L546.4 1422.9L547.4 1424.1L548.4 1423.9L549.4 1422.4L550.4 1420.1L551.4 1417.7L552.4 1417.4L553.4 1418.8L554.4 1420.2L555.4 1421L556.4 1421L557.4 1421.2L558.4 1421.4L559.4 1421.1L560.4 1420.9L561.4 1421.2L562.4 1421.6L563.4 1422.1L564.4 1422.3L565.4 1421.3L566.4 1420.2L567.4 1420.2L568.4 1420.2L569.4 1419.6L570.4 1419.4L571.4 1420.3L572.4 1421.9L573.4 1423.2L574.4 1423.1L575.4 1422.8L576.4 1421.7L577.4 1420.8L578.4 1420.5L579.4 1420.7L580.4 1421.8L581.4 1423.6L582.4 1425.5L583.4 1426.8L584.4 1427.1L585.4 1427.3L586.4 1426.2L587.4 1425.1L588.4 1424.4L589.4 1424.8L590.4 1426.1L591.4 1427.9L592.4 1430.1L593.4 1431.6L594.4 1432.8L595.4 1432.9L596.4 1432.3L597.4 1429.5L598.4 1425.8L599.4 1423L600.4 1422.1L601.4 1421.4L602.4 1423.6L603.4 1425.3L604.4 1424.2L605.4 1424.7L606.4 1427.1L607.4 1429.6L608.4 1430.9L609.4 1434.1L610.4 1436.6L611.4 1437.3L612.4 1436.8L613.4 1435.9L614.4 1435.2L615.4 1435.4L616.4 1437.1L617.4 1438.8L618.4 1440.5L619.4 1440.7L620.4 1438.6L621.4 1436.3L622.4 1435.7L623.4 1436.4L624.4 1440.2L625.4 1440.3L626.4 1440L627.4 1437.5L628.4 1434.8L629.4 1432.5L630.4 1432.4L631.4 1432.7L632.4 1433L633.4 1433.4L634.4 1433.3L635.4 1433.3L636.4 1433.1L637.4 1432.9L638.4 1433L639.4 1433.1L640.4 1433.2L641.4 1433.3L642.4 1433.8L643.4 1436.2L644.4 1438.5L645.4 1439.7L646.4 1439.9L647.4 1439L648.4 1437.1L649.4 1436.1L650.4 1436.3L651.4 1438.8L652.4 1443.2L653.4 1444.1L654.4 1441.8L655.4 1439.4L656.4 1437.7L657.4 1438.1L658.4 1440.1L659.4 1441.8L660.4 1442.2L661.4 1440.7L662.4 1438.6L663.4 1438.9L664.4 1439.9L665.4 1442.8L666.4 1444.3L667.4 1444.7L668.4 1442.5L669.4 1440.3L670.4 1441.4L671.4 1443.7L672.4 1446.1L673.4 1446.6L674.4 1446.8L675.4 1445.7L676.4 1444L677.4 1442.5L678.4 1442.7L679.4 1444.4L680.4 1446.4L681.4 1448.2L682.4 1448.1L683.4 1444.6L684.4 1443.8L685.4 1445L686.4 1446.8L687.4 1448.4L688.4 1448.7L689.4 1447.5L690.4 1446.4L691.4 1446.7L692.4 1446.6L693.4 1446.8L694.4 1447.5L695.4 1448.4L696.4 1449.3L697.4 1449.7L698.4 1450.1L699.4 1450.2L700.4 1450.3L701.4 1450.6L702.4 1452L703.4 1455.2L704.4 1456.1L705.4 1457.1L706.4 1457.9L707.4 1458.5L708.4 1459.4L709.4 1461L710.4 1464.7L711.4 1466.8L712.4 1465.3L713.4 1462.8L714.4 1459.2L715.4 1455.5L716.4 1452.7L717.4 1451L718.4 1449.1L719.4 1448L720.4 1447.4L721.4 1446.9L722.4 1446.5L723.4 1446.2L724.4 1445.9L725.4 1445.6L726.4 1445.8L727.4 1448.6L728.4 1448.7L729.4 1447.7L730.4 1446L731.4 1444.4L732.4 1443.4L733.4 1443.6L734.4 1444.3L735.4 1444.2L736.4 1443.4L737.4 1442.9L738.4 1441.9L739.4 1441L740.4 1441.2L741.4 1442.3L742.4 1445.7L743.4 1447.7L744.4 1448.1L745.4 1448.5L746.4 1448.9L747.4 1450.5L748.4 1452.5L749.4 1454.5L750.4 1456.4L751.4 1457.3L752.4 1458L753.4 1456.7L754.4 1455.2L755.4 1455.2L756.4 1456.8L757.4 1458.3L758.4 1459.5L759.4 1458.8L760.4 1456.9L761.4 1453.7L762.4 1451.9L763.4 1450.6L764.4 1451L765.4 1452.4L766.4 1455.3L767.4 1458.1L768.4 1458.5L769.4 1456.1L770.4 1452.3L771.4 1450.6L772.4 1451.5L773.4 1453.2L774.4 1455.3L775.4 1455.5L776.4 1455.5L777.4 1453.9L778.4 1452.4L779.4 1451.2L780.4 1451.3L781.4 1451.7L782.4 1453.5L783.4 1455.3L784.4 1457.3L785.4 1458L786.4 1457.8L787.4 1456.5L788.4 1455.2L789.4 1455L790.4 1455.6L791.4 1456.3L792.4 1456.9L793.4 1457.6L794.4 1458.9L795.4 1460.2L796.4 1461L797.4 1460.2L798.4 1458.1L799.4 1457.2L800.4 1457.2L801.4 1458.2L802.4 1459.2L803.4 1459.5L804.4 1458.9L805.4 1457.7L806.4 1456.2L807.4 1454.7L808.4 1453.6L809.4 1453.6L810.4 1454.4L811.4 1455.3L812.4 1456.1L813.4 1456.5L814.4 1458.1L815.4 1458.1L816.4 1458L817.4 1458.4L818.4 1459.2L819.4 1458.7L820.4 1458.7L821.4 1458.4L822.4 1457.6L823.4 1456.8L824.4 1456.9L825.4 1458.3L826.4 1459.7L827.4 1462.2L828.4 1465L829.4 1467.9L830.4 1470L831.4 1471.7L832.4 1473.2L833.4 1474.6L834.4 1476.1L835.4 1477.1L836.4 1476.8L837.4 1475.6L838.4 1474.4L839.4 1474.1L840.4 1474.6L841.4 1474.9L842.4 1474.6L843.4 1473.8L844.4 1472.8L845.4 1475.8L846.4 1478.7L847.4 1477.8L848.4 1474.9L849.4 1471.6L850.4 1468.2L851.4 1467.1L852.4 1466.3L853.4 1466.4L854.4 1466.9L855.4 1467.5L856.4 1467.6L857.4 1467.1L858.4 1464.5L859.4 1462.8L860.4 1462.4L861.4 1464.1L862.4 1467.3L863.4 1467.7L864.4 1465.9L865.4 1460.9L866.4 1461.2L867.4 1463.9L868.4 1468.4L869.4 1471.1L870.4 1471.6L871.4 1469.6L872.4 1468.8L873.4 1469.5L874.4 1470.3L875.4 1470.4L876.4 1470.5L877.4 1470.4L878.4 1471.9L879.4 1473.7L880.4 1474L881.4 1473.7L882.4 1473L883.4 1472.7L884.4 1471.6L885.4 1469.9L886.4 1468.1L887.4 1467.1L888.4 1466.8L889.4 1465.3L890.4 1464.7L891.4 1462.3L892.4 1458.7L893.4 1453L894.4 1449.9L895.4 1448.1L896.4 1447.5L897.4 1450.6L898.4 1454.4L899.4 1457.3L900.4 1458.4L901.4 1460.8L902.4 1462.4L903.4 1464L904.4 1466.6L905.4 1465.5L906.4 1465.1L907.4 1464.6L908.4 1463.5L909.4 1460.9L910.4 1457.8L911.4 1455.5L912.4 1453.4L913.4 1452.4L914.4 1452.5L915.4 1456.1L916.4 1459.7L917.4 1461.4L918.4 1460.3L919.4 1456.9L920.4 1455.3L921.4 1455.6L922.4 1456.9L923.4 1457.7L924.4 1457.7L925.4 1460.9L926.4 1464.2L927.4 1467.2L928.4 1468.7L929.4 1467.7L930.4 1464.3L931.4 1460.9L932.4 1461.9L933.4 1465L934.4 1467.2L935.4 1466.8L936.4 1465.9L937.4 1465.5L938.4 1465.2L939.4 1465.9L940.4 1468.7L941.4 1471.9L942.4 1472L943.4 1470.2L944.4 1467.3L945.4 1464.3L946.4 1462.8L947.4 1461.8L948.4 1462.2L949.4 1463.3L950.4 1464.3L951.4 1464.4L952.4 1463.4L953.4 1461.2L954.4 1459.9L955.4 1461.2L956.4 1463.7L957.4 1466.2L958.4 1469.2L959.4 1472.2L960.4 1474.9L961.4 1476.6L962.4 1476.3L963.4 1474.9L964.4 1474.3L965.4 1473.8L966.4 1473.2L967.4 1472.5L968.4 1472.7L969.4 1473.3L970.4 1473.9L971.4 1473.5L972.4 1472.9L973.4 1470.3L974.4 1467L975.4 1463.4L976.4 1461.6L977.4 1462.1L978.4 1464.3L979.4 1466.1L980.4 1466.4L981.4 1464.9L982.4 1463.4L983.4 1462.5L984.4 1462.5L985.4 1462.9L986.4 1465L987.4 1467.1L988.4 1467.5L989.4 1467.2L990.4 1465.9L991.4 1464.4L992.4 1463.7L993.4 1463.9L994.4 1465.2L995.4 1466.5L996.4 1467.6L997.4 1467.2L998.4 1465.6L999.4 1463.7L1000.4 1461.8L1001.4 1460.6L1002.4 1458.9L1003.4 1458.6L1004.4 1459.5L1005.4 1458.2L1006.4 1453.4L1007.4 1447.9L1008.4 1445.8L1009.4 1447.3L1010.4 1450.4L1011.4 1454.2L1012.4 1457.3L1013.4 1459.4L1014.4 1459.4L1015.4 1456.3L1016.4 1455.4L1017.4 1457.7L1018.4 1463.3L1019.4 1468.7L1020.4 1471.2L1021.4 1472.6L1022.4 1472.9L1023.4 1473.2L1024.4 1474.8L1025.4 1477.3L1026.4 1480.4L1027.4 1483.5L1028.4 1483.9L1029.4 1483.2L1030.4 1480.4L1031.4 1478.1L1032.4 1478L1033.4 1479.2L1034.4 1480.6L1035.4 1480.5L1036.4 1480.2L1037.4 1477.2L1038.4 1474.1L1039.4 1473.7L1040.4 1473.2L1041.4 1474.6L1042.4 1476L1043.4 1476.8L1044.4 1476.1L1045.4 1473.5L1046.4 1471.3L1047.4 1471.2L1048.4 1471.6L1049.4 1471.9L1050.4 1472.1L1051.4 1472.5L1052.4 1473.2L1053.4 1476.3L1054.4 1479L1055.4 1479.3L1056.4 1479.2L1057.4 1476.5L1058.4 1474.4L1059.4 1474.6L1060.4 1475.4L1061.4 1477L1062.4 1478.7L1063.4 1479.5L1064.4 1480.2L1065.4 1481.9L1066.4 1483.9L1067.4 1485.3L1068.4 1485.5L1069.4 1485.7L1070.4 1485.8L1071.4 1486.1L1072.4 1484.8L1073.4 1485.3L1074.4 1486L1075.4 1484.8L1076.4 1481.9L1077.4 1478.9L1078.4 1476.8L1079.4 1476.4L1080.4 1476.3L1081.4 1476.6L1082.4 1476.4L1083.4 1476.2L1084.4 1478.4L1085.4 1479.3L1086.4 1477.8L1087.4 1474.6L1088.4 1473.1L1089.4 1471.8L1090.4 1472.7L1091.4 1472.9L1092.4 1470.7L1093.4 1467L1094.4 1464.4L1095.4 1462.8L1096.4 1463L1097.4 1465.5L1098.4 1468L1099.4 1468.2L1100.4 1468.5L1101.4 1469.5L1102.4 1470.4L1103.4 1471.8L1104.4 1473.1L1105.4 1473.5L1106.4 1473.7L1107.4 1474L1108.4 1475.2L1109.4 1477.4L1110.4 1480L1111.4 1481.2L1112.4 1481L1113.4 1480.8L1114.4 1480.6L1115.4 1480.4L1116.4 1477.9L1117.4 1474.2L1118.4 1471.6L1119.4 1470.1L1120.4 1470.7L1121.4 1471.9L1122.4 1472.7L1123.4 1472.4L1124.4 1475.4L1125.4 1479.8L1126.4 1483.3L1127.4 1485.6L1128.4 1484L1129.4 1481.5L1130.4 1478.9L1131.4 1478.4L1132.4 1479.1L1133.4 1480L1134.4 1482.3L1135.4 1484.1L1136.4 1485.3L1137.4 1484.6L1138.4 1483.8L1139.4 1483.7L1140.4 1485.2L1141.4 1487.4L1142.4 1489.5L1143.4 1489.9L1144.4 1490.1L1145.4 1488.1L1146.4 1485.6L1147.4 1484.5L1148.4 1486L1149.4 1488.2L1150.4 1489.9L1151.4 1490.3L1152.4 1489.8L1153.4 1486.6L1154.4 1483.4L1155.4 1482.4L1156.4 1483.1L1157.4 1484.9L1158.4 1486.8L1159.4 1487.7L1160.4 1487.4L1161.4 1485.5L1162.4 1484.8L1163.4 1484.3L1164.4 1485.3L1165.4 1486.6L1166.4 1488.3L1167.4 1489.6L1168.4 1491.1L1169.4 1493.6L1170.4 1494.1L1171.4 1494.6L1172.4 1493.3L1173.4 1492L1174.4 1490.7L1175.4 1489.6L1176.4 1489.8L1177.4 1489.1L1178.4 1488.5L1179.4 1487.8L1180.4 1487.2L1181.4 1486.5L1182.4 1485.9L1183.4 1484.1L1184.4 1481.8L1185.4 1479.6L1186.4 1479.6L1187.4 1480.8L1188.4 1484.6L1189.4 1488.1L1190.4 1489.1L1191.4 1490.1L1192.4 1488.5L1193.4 1487.7L1194.4 1487.4L1195.4 1489.2L1196.4 1490.5L1197.4 1490.2L1198.4 1487.3L1199.4 1485.3L1200.4 1485.6L1201.4 1486.4L1202.4 1488.8L1203.4 1490.9L1204.4 1489.6L1205.4 1487.1L1206.4 1483.8L1207.4 1480.6L1208.4 1479L1209.4 1478.3L1210.4 1478.6L1211.4 1482.1L1212.4 1486.1L1213.4 1489L1214.4 1490.5L1215.4 1491.3L1216.4 1491.4L1217.4 1490.6L1218.4 1488.7L1219.4 1487.7L1220.4 1488.2L1221.4 1488.9L1222.4 1489.4L1223.4 1488.8L1224.4 1485.2L1225.4 1482.7L1226.4 1482.1L1227.4 1481.8L1228.4 1482.1L1229.4 1482.4L1230.4 1482.8L1231.4 1483.9L1232.4 1486L1233.4 1488L1234.4 1488.2L1235.4 1486.7L1236.4 1484.3L1237.4 1483.2L1238.4 1482.2L1239.4 1481L1240.4 1479.8L1241.4 1478.7L1242.4 1479.9L1243.4 1483.6L1244.4 1484.3L1245.4 1484.6L1246.4 1483.1L1247.4 1481.4L1248.4 1481.7L1249.4 1482.1L1250.4 1482.5L1251.4 1483L1252.4 1483.4L1253.4 1483.9L1254.4 1485.8L1255.4 1488.1L1256.4 1490.3L1257.4 1491.9L1258.4 1492.5L1259.4 1488.8L1260.4 1484.8L1261.4 1483.7L1262.4 1483.6L1263.4 1487.4L1264.4 1490.6L1265.4 1490.4L1266.4 1490.8L1267.4 1491.7L1268.4 1489.9L1269.4 1485.1L1270.4 1484L1271.4 1484.1L1272.4 1486.7L1273.4 1487.3L1274.4 1486.9L1275.4 1483.5L1276.4 1480L1277.4 1478.4L1278.4 1477L1279.4 1476.9L1280.4 1477.2L1281.4 1478.7L1282.4 1479.7L1283.4 1479.7L1284.4 1480.2L1285.4 1483L1286.4 1485.9L1287.4 1487.9L1288.4 1489.8L1289.4 1488.7L1290.4 1487.7L1291.4 1483.8L1292.4 1479.8L1293.4 1480.2L1294.4 1480.9L1295.4 1485.2L1296.4 1487.8L1297.4 1487.3L1298.4 1485L1299.4 1482.8L1300.4 1482.4L1301.4 1484.6L1302.4 1487L1303.4 1489.4L1304.4 1491L1305.4 1491.2L1306.4 1490.2L1307.4 1487.2L1308.4 1486L1309.4 1484.8L1310.4 1483.1L1311.4 1481.4L1312.4 1480L1313.4 1480.5L1314.4 1483.6L1315.4 1486.7L1316.4 1487.8L1317.4 1486.2L1318.4 1482.9L1319.4 1480.9L1320.4 1479.9L1321.4 1478.9L1322.4 1477.9L1323.4 1477.3L1324.4 1478.1L1325.4 1479.3L1326.4 1480.4L1327.4 1481.1L1328.4 1482.9L1329.4 1484.6L1330.4 1485L1331.4 1486.4L1332.4 1487.2L1333.4 1487.5L1334.4 1485.8L1335.4 1483.5L1336.4 1481.8L1337.4 1482.5L1338.4 1484L1339.4 1487.7L1340.4 1491.1L1341.4 1491.7L1342.4 1491.8L1343.4 1488.8L1344.4 1485.8L1345.4 1484.2L1346.4 1483.8L1347.4 1483.5L1348.4 1483.2L1349.4 1482.9L1350.4 1484.2L1351.4 1485.7L1352.4 1487.8L1353.4 1488.7L1354.4 1486.9L1355.4 1484.8L1356.4 1484.6L1357.4 1485.6L1358.4 1487.8L1359.4 1489.4L1360.4 1490L1361.4 1489.8L1362.4 1490.3L1363.4 1491.7L1364.4 1493.1L1365.4 1494.5L1366.4 1495.2L1367.4 1494.6L1368.4 1494.6L1369.4 1494.8L1370.4 1496.2L1371.4 1497.9L1372.4 1499.4L1373.4 1501L1374.4 1500.5L1375.4 1498.8L1376.4 1498.2L1377.4 1497.9L1378.4 1498.3L1379.4 1498.1L1380.4 1497.9L1381.4 1497.9L1382.4 1498.7L1383.4 1499.9L1384.4 1500.9L1385.4 1500.3L1386.4 1495.9L1387.4 1493.1L1388.4 1491.4L1389.4 1490.9L1390.4 1491.3L1391.4 1491.6L1392.4 1492.4L1393.4 1491.9L1394.4 1488.4L1395.4 1484.9L1396.4 1484.6L1397.4 1484.3L1398.4 1485.5L1399.4 1486.7L1400.4 1487.6L1401.4 1486.6L1402.4 1484L1403.4 1482.7L1404.4 1484.2L1405.4 1486.5L1406.4 1488.7L1407.4 1490.4L1408.4 1490.6L1409.4 1488.8L1410.4 1486.9L1411.4 1486.7L1412.4 1490.8L1413.4 1494.8L1414.4 1494.4L1415.4 1493.4L1416.4 1490.4L1417.4 1487.4L1418.4 1487.3L1419.4 1488.8L1420.4 1491.4L1421.4 1494.1L1422.4 1496.3L1423.4 1497.3L1424.4 1496.8L1425.4 1495.4L1426.4 1494L1427.4 1493L1428.4 1493.6L1429.4 1496L1430.4 1496.7L1431.4 1496.1L1432.4 1494.5L1433.4 1495L1434.4 1496.5L1435.4 1500.8L1436.4 1502.3L1437.4 1501.8L1438.4 1501L1439.4 1500.5L1440.4 1499.5L1441.4 1497.6L1442.4 1497.2L1443.4 1497.7L1444.4 1499.3L1445.4 1500.9L1446.4 1502.4L1447.4 1503.6L1448.4 1500.8L1449.4 1498L1450.4 1494.6L1451.4 1491.5L1452.4 1489.3L1453.4 1486L1454.4 1485.8L1455.4 1486L1456.4 1491L1457.4 1493.4L1458.4 1492.8L1459.4 1492L1460.4 1493.2L1461.4 1496L1462.4 1500.3L1463.4 1501.9L1464.4 1503.4L1465.4 1504.7L1466.4 1505.3L1467.4 1505.7L1468.4 1505.3L1469.4 1500.3L1470.4 1498.1L1471.4 1498.1L1472.4 1499.7L1473.4 1501.7L1474.4 1503.7L1475.4 1504.3L1476.4 1503.5L1477.4 1502.3L1478.4 1501.1L1479.4 1500.7L1480.4 1499.4L1481.4 1495.4L1482.4 1493L1483.4 1490.9L1484.4 1486.8L1485.4 1482.4L1486.4 1478.3L1487.4 1477.5L1488.4 1479.2L1489.4 1480.8L1490.4 1481L1491.4 1482.9L1492.4 1485.2L1493.4 1485.9L1494.4 1486.1L1495.4 1484.2L1496.4 1481.6L1497.4 1481.3L1498.4 1483.9L1499.4 1487L1500.4 1489.8L1501.4 1489.8L1502.4 1489.5L1503.4 1492.1L1504.4 1493.9L1505.4 1494.9L1506.4 1495.9L1507.4 1496.8L1508.4 1496.4L1509.4 1495.6L1510.4 1493.1L1511.4 1492.6L1512.4 1493.6L1513.4 1497.4L1514.4 1499.5L1515.4 1499.6L1516.4 1497.3L1517.4 1494.5L1518.4 1493.5L1519.4 1492.8L1520.4 1493.8L1521.4 1494.9L1522.4 1495L1523.4 1494.7L1524.4 1493L1525.4 1492.9L1526.4 1494.1L1527.4 1496.7L1528.4 1498.8L1529.4 1500.6L1530.4 1500.6L1531.4 1498.7L1532.4 1496.3L1533.4 1494.1L1534.4 1494L1535.4 1493.4L1536.4 1492.2L1537.4 1491.7L1538.4 1491.5L1539.4 1494.2L1540.4 1497.6L1541.4 1498.5L1542.4 1499L1543.4 1497.9L1544.4 1496.5L1545.4 1495.9L1546.4 1496.6L1547.4 1497.7L1548.4 1499.7L1549.4 1501.7L1550.4 1502.9L1551.4 1503.7L1552.4 1503.3L1553.4 1502.8L1554.4 1502.8L1555.4 1503.4L1556.4 1505.2L1557.4 1507.2L1558.4 1506.4L1559.4 1504.4L1560.4 1500.7L1561.4 1496.7L1562.4 1494.7L1563.4 1494.6L1564.4 1496L1565.4 1497.3L1566.4 1498.1L1567.4 1497.8L1568.4 1495.7L1569.4 1491.6L1570.4 1490L1571.4 1490.8L1572.4 1492.3L1573.4 1493.7L1574.4 1493.9L1575.4 1493.3L1576.4 1493L1577.4 1492.8L1578.4 1492.4L1579.4 1491.7L1580.4 1489.2L1581.4 1485.7L1582.4 1482.1L1583.4 1480L1584.4 1478.8L1585.4 1477.2L1586.4 1475.9L1587.4 1477.3L1588.4 1479.3L1589.4 1482.1L1590.4 1484.4L1591.4 1486.6L1592.4 1486.4L1593.4 1486.4L1594.4 1486.7L1595.4 1486.7L1596.4 1487.1L1597.4 1487.6L1598.4 1488L1599.4 1488.2L1600.4 1487.2L1601.4 1485.3L1602.4 1483.7L1603.4 1483.3L1604.4 1484.2L1605.4 1485.4L1606.4 1486L1607.4 1487.8L1608.4 1492.4L1609.4 1494L1610.4 1494.3L1611.4 1494L1612.4 1493.7L1613.4 1493.6L1614.4 1494.6L1615.4 1494.4L1616.4 1492.8L1617.4 1491.7L1618.4 1492.7L1619.4 1493.7L1620.4 1496.1L1621.4 1496.8L1622.4 1495.7L1623.4 1491.7L1624.4 1487.8L1625.4 1485.7L1626.4 1487.5L1627.4 1492.6L1628.4 1497.7L1629.4 1499.2L1630.4 1499.3L1631.4 1497.9L1632.4 1495.4L1633.4 1494.2L1634.4 1494.2L1635.4 1494.3L1636.4 1493.9L1637.4 1495.8L1638.4 1497.8L1639.4 1499.8L1640.4 1500L1641.4 1499.7L1642.4 1496.2L1643.4 1491.2L1644.4 1490.4L1645.4 1491.9L1646.4 1493.4L1647.4 1494.5L1648.4 1494L1649.4 1494L1650.4 1494.3L1651.4 1494.8L1652.4 1495.3L1653.4 1494.2L1654.4 1492.9L1655.4 1490.9L1656.4 1489.9L1657.4 1490.5L1658.4 1492.7L1659.4 1494.3L1660.4 1495.3L1661.4 1496.5L1662.4 1497.7L1663.4 1498.3L1664.4 1497.6L1665.4 1497.6L1666.4 1498.3L1667.4 1500.7L1668.4 1505.3L1669.4 1509.2L1670.4 1511.2L1671.4 1511.6L1672.4 1511.4L1673.4 1511.2L1674.4 1510.9L1675.4 1510L1676.4 1506.4L1677.4 1504.9L1678.4 1504.7L1679.4 1505.7L1680.4 1506.6L1681.4 1507.6L1682.4 1507.3L1683.4 1506.7L1684.4 1505.3L1685.4 1504L1686.4 1503.4L1687.4 1503L1688.4 1503.8L1689.4 1503.7L1690.4 1502.4L1691.4 1501L1692.4 1497.8L1693.4 1495.2L1694.4 1496.5L1695.4 1497.6L1696.4 1498.6L1697.4 1499.8L1698.4 1501.2L1699.4 1501.8L1700.4 1502.3L1701.4 1503L1702.4 1503.6L1703.4 1504.2L1704.4 1504.7L1705.4 1504.7L1706.4 1505.8L1707.4 1509.3L1708.4 1511.5L1709.4 1511.7L1710.4 1511.1L1711.4 1508.8L1712.4 1506.5L1713.4 1504.9L1714.4 1504.7L1715.4 1508.5L1716.4 1513L1717.4 1514.4L1718.4 1514.7L1719.4 1515L1720.4 1515L1721.4 1515L1722.4 1515.7L1723.4 1517.6L1724.4 1519.4L1725.4 1519.5L1726.4 1518.4L1727.4 1512.1L1728.4 1505.8L1729.4 1500.3L1730.4 1495.5L1731.4 1493.9L1732.4 1496.7L1733.4 1496L1734.4 1493.7L1735.4 1491.9L1736.4 1492.3L1737.4 1493.6L1738.4 1496.3L1739.4 1501.9L1740.4 1507.5L1741.4 1511.4L1742.4 1511.4L1743.4 1510.1L1744.4 1508.8L1745.4 1507.5L1746.4 1507.7L1747.4 1508.8L1748.4 1510.5L1749.4 1512L1750.4 1513.2L1751.4 1512.8L1752.4 1512.1L1753.4 1511.4L1754.4 1511L1755.4 1510.8L1756.4 1510.6L1757.4 1510.5L1758.4 1510L1759.4 1508.1L1760.4 1503.9L1761.4 1503.4L1762.4 1503L1763.4 1502.6L1764.4 1502.2L1765.4 1501.9L1766.4 1502.5L1767.4 1506.5L1768.4 1508.9L1769.4 1509.2L1770.4 1508.9L1771.4 1508.7L1772.4 1508.5L1773.4 1509.2L1774.4 1511.2L1775.4 1511.2L1776.4 1511.3L1777.4 1512L1778.4 1512.7L1779.4 1512.9L1780.4 1512.2L1781.4 1510.1L1782.4 1508L1783.4 1506.6L1784.4 1505L1785.4 1503.8L1786.4 1503L1787.4 1501.3L1788.4 1498.9L1789.4 1497.4L1790.4 1496.6L1791.4 1495.8L1792.4 1495.8L1793.4 1496.3L1794.4 1497.1L1795.4 1497.9L1796.4 1498.4L1797.4 1498.9L1798.4 1500.1L1799.4 1501.4L1800.4 1500.7L1801.4 1498.7L1802.4 1496.8L1803.4 1495.4L1804.4 1494.9L1805.4 1493L1806.4 1489.4L1807.4 1487.8L1808.4 1488.4L1809.4 1494L1810.4 1497.3L1811.4 1498.1L1812.4 1499.1L1813.4 1499.4L1814.4 1499.7L1815.4 1500.6L1816.4 1501.9L1817.4 1503.1L1818.4 1503.3L1819.4 1503.6L1820.4 1503.3L1821.4 1502.7L1822.4 1502.1L1823.4 1502.5L1824.4 1502.1L1825.4 1502.3L1826.4 1501L1827.4 1499.7L1828.4 1498.4L1829.4 1497.2L1830.4 1497.2L1831.4 1497.2L1832.4 1496.5L1833.4 1494.2L1834.4 1492.4L1835.4 1492.4L1836.4 1493.6L1837.4 1496.2L1838.4 1496.2L1839.4 1496L1840.4 1495.8L1841.4 1495.6L1842.4 1495.9L1843.4 1496.5L1844.4 1497.1L1845.4 1497.4L1846.4 1497.7L1847.4 1497.1L1848.4 1496.4L1849.4 1496.9L1850.4 1498.5L1851.4 1499.5L1852.4 1499.8L1853.4 1500.3L1854.4 1502.5L1855.4 1507.7L1856.4 1509L1857.4 1509.2L1858.4 1506.7L1859.4 1503.8L1860.4 1500.9L1861.4 1498.5L1862.4 1497.2L1863.4 1498L1864.4 1499.4L1865.4 1499.7L1866.4 1499.3L1867.4 1497.7L1868.4 1495.2L1869.4 1494.6L1870.4 1496.2L1871.4 1499.9L1872.4 1502.1L1873.4 1502.4L1874.4 1499.8L1875.4 1497.3L1876.4 1495L1877.4 1495.4L1878.4 1499L1879.4 1502.8L1880.4 1506L1881.4 1506.7L1882.4 1507.2L1883.4 1506L1884.4 1504.2L1885.4 1502.3L1886.4 1501.5L1887.4 1502.1L1888.4 1502.8L1889.4 1502.8L1890.4 1502L1891.4 1499.5L1892.4 1496.9L1893.4 1496L1894.4 1497.4L1895.4 1499.8L1896.4 1502.2L1897.4 1502.7L1898.4 1502.2L1899.4 1501L1900.4 1499.7L1901.4 1499.5L1902.4 1499.7L1903.4 1501.9L1904.4 1504.6L1905.4 1505L1906.4 1503.5L1907.4 1502L1908.4 1500.4L1909.4 1500.3L1910.4 1500.7L1911.4 1505.4L1912.4 1507.4L1913.4 1507.7L1914.4 1506.5L1915.4 1505.2L1916.4 1503.9L1917.4 1503.6L1918.4 1503.8L1919.4 1504.7L1920.4 1505.9L1921.4 1507.1L1922.4 1507.7L1923.4 1505.6L1924.4 1502.7L1925.4 1501.9L1926.4 1502.4L1927.4 1505L1928.4 1507.7L1929.4 1509.2L1930.4 1509.5L1931.4 1510L1932.4 1510.5L1933.4 1510.8L1934.4 1509.1L1935.4 1507.5L1936.4 1506.4L1937.4 1506.7L1938.4 1508.2L1939.4 1511.6L1940.4 1511.6L1941.4 1509L1942.4 1506.1L1943.4 1504L1944.4 1502.6L1945.4 1500.6L1946.4 1498.5L1947.4 1496.5L1948.4 1495.7L1949.4 1496.2L1950.4 1496.7L1951.4 1497.1L1952.4 1498.6L1953.4 1501.1L1954.4 1506.2L1955.4 1511.5L1956.4 1512.8L1957.4 1511.4L1958.4 1509.6L1959.4 1507.9L1960.4 1504.7L1961.4 1500.7L1962.4 1497.8L1963.4 1496.5L1964.4 1497.3L1965.4 1498.4L1966.4 1497.9L1967.4 1497.4L1968.4 1497.3L1969.4 1497.7L1970.4 1497.1L1971.4 1495L1972.4 1491.4L1973.4 1489.3L1974.4 1489.8L1975.4 1492L1976.4 1495.4L1977.4 1499.2L1978.4 1501.3L1979.4 1502.7L1980.4 1500.7L1981.4 1499.6L1982.4 1500.4L1983.4 1501.8L1984.4 1502.8L1985.4 1502.5L1986.4 1501.2L1987.4 1499.9L1988.4 1498.6L1989.4 1498.4L1990.4 1500.2L1991.4 1503.3L1992.4 1506.6L1993.4 1510L1994.4 1511.4L1995.4 1512.1L1996.4 1511.8L1997.4 1511.1L1998.4 1510.7L1999.4 1511.4L2000.4 1513.1L2001.4 1515.7L2002.4 1518.2L2003.4 1519.5L2004.4 1520.4L2005.4 1521.3L2006.4 1519.4L2007.4 1517.5L2008.4 1513.4L2009.4 1509.9L2010.4 1509.4L2011.4 1509.8L2012.4 1511.8L2013.4 1513.2L2014.4 1512.3L2015.4 1509.7L2016.4 1507.1L2017.4 1504.9L2018.4 1504.2L2019.4 1504.8L2020.4 1505.7L2021.4 1505.7L2022.4 1507L2023.4 1506.3L2024.4 1505.6L2025.4 1506.7L2026.4 1508.3L2027.4 1511.3L2028.4 1514.4L2029.4 1516.6L2030.4 1515.6L2031.4 1514.6L2032.4 1513.5L2033.4 1512.7L2034.4 1512.9L2035.4 1513.2L2036.4 1512.3L2037.4 1509.9L2038.4 1507.7L2039.4 1506.9L2040.4 1507.4L2041.4 1508.7L2042.4 1510.1L2043.4 1510.2L2044.4 1509.6L2045.4 1507.9L2046.4 1507.3L2047.4 1507.8L2048.4 1508.9L2049.4 1509.7L2050.4 1508.4L2051.4 1504.8L2052.4 1500L2053.4 1496.2L2054.4 1494.9L2055.4 1494.5L2056.4 1494.8L2057.4 1494.4L2058.4 1493.9L2059.4 1495.2L2060.4 1497.5L2061.4 1499.8L2062.4 1500.1L2063.4 1497.2L2064.4 1494.3L2065.4 1495.2L2066.4 1497.2L2067.4 1501.8L2068.4 1505.7L2069.4 1507L2070.4 1506.9L2071.4 1505.6L2072.4 1503.7L2073.4 1502.7L2074.4 1502.9L2075.4 1503.7L2076.4 1505L2077.4 1505.7L2078.4 1504.2L2079.4 1501.8L2080.4 1500.7L2081.4 1502.5L2082.4 1505.4L2083.4 1508.3L2084.4 1509.5L2085.4 1509.3L2086.4 1508.9L2087.4 1508.6L2088.4 1509.2L2089.4 1510.2L2090.4 1513.7L2091.4 1515.8L2092.4 1514.9L2093.4 1513.6L2094.4 1509.9L2095.4 1506.1L2096.4 1503.9L2097.4 1503.2L2098.4 1504.1L2099.4 1505.7L2100.4 1507L2101.4 1507.3L2102.4 1507.6L2103.4 1505.8L2104.4 1503.9L2105.4 1503.2L2106.4 1503.8L2107.4 1506.2L2108.4 1509.1L2109.4 1511.9L2110.4 1512.8L2111.4 1513.2L2112.4 1511.6L2113.4 1508.4L2114.4 1506.2L2115.4 1506.9L2116.4 1508.1L2117.4 1507.1L2118.4 1503.7L2119.4 1498.9L2120.4 1495.7L2121.4 1495.4L2122.4 1495.7L2123.4 1496.1L2124.4 1495.3L2125.4 1491.5L2126.4 1490.8L2127.4 1492.8L2128.4 1495.2L2129.4 1496.7L2130.4 1500L2131.4 1503.4L2132.4 1505L2133.4 1504.6L2134.4 1504.7L2135.4 1504.9L2136.4 1504.9L2137.4 1505.2L2138.4 1504.7L2139.4 1504.1L2140.4 1504.5L2141.4 1503.7L2142.4 1502.8L2143.4 1503L2144.4 1503.7L2145.4 1505.2L2146.4 1506.6L2147.4 1507.6L2148.4 1508.2L2149.4 1507.4L2150.4 1506.2L2151.4 1505.4L2152.4 1505.9L2153.4 1508.1L2154.4 1510.5L2155.4 1511.9L2156.4 1512.8L2157.4 1513.8L2158.4 1514.6L2159.4 1513.4L2160.4 1511.4L2161.4 1508.3L2162.4 1505.2L2163.4 1502.6L2164.4 1501.3L2165.4 1500.5L2166.4 1501L2167.4 1500.1L2168.4 1498.8L2169.4 1497L2170.4 1495.2L2171.4 1493.4L2172.4 1492.6L2173.4 1493.8L2174.4 1495.5L2175.4 1496.5L2176.4 1496.7L2177.4 1494.9L2178.4 1493.1L2179.4 1491.5L2180.4 1492L2181.4 1495.5L2182.4 1499.7L2183.4 1501.1L2184.4 1498.8L2185.4 1497.3L2186.4 1498.3L2187.4 1499.8L2188.4 1500.8L2189.4 1500.4L2190.4 1500.3L2191.4 1500.8L2192.4 1501.3L2193.4 1500.8L2194.4 1501L2195.4 1502.6L2196.4 1505.2L2197.4 1510.6L2198.4 1515.4L2199.4 1517.8L2200.4 1518.1L2201.4 1516.4L2202.4 1514.1L2203.4 1511.9L2204.4 1512.1L2205.4 1513.2L2206.4 1516.8L2207.4 1519.2L2208.4 1519.1L2209.4 1517.9L2210.4 1516.4L2211.4 1514.9L2212.4 1514.9L2213.4 1517.7L2214.4 1520.4L2215.4 1521.6L2216.4 1520.7L2217.4 1519.1L2218.4 1517.5L2219.4 1516.5L2220.4 1517L2221.4 1518.3L2222.4 1520.5L2223.4 1521.4L2224.4 1520.3L2225.4 1518.3L2226.4 1516.4L2227.4 1514.5L2228.4 1514.3L2229.4 1515.1L2230.4 1516.3L2231.4 1517.5L2232.4 1517.8L2233.4 1515.9L2234.4 1512.9L2235.4 1509.9L2236.4 1507.1L2237.4 1505.2L2238.4 1504.2L2239.4 1503.7L2240.4 1503.2L2241.4 1502.6L2242.4 1503.6L2243.4 1505.5L2244.4 1507.8L2245.4 1510.1L2246.4 1506.3L2247.4 1501.6L2248.4 1495.2L2249.4 1492L2250.4 1490.2L2251.4 1489.2L2252.4 1490.6L2253.4 1494.7L2254.4 1496.4L2255.4 1494.5L2256.4 1491.9L2257.4 1490.8L2258.4 1493.2L2259.4 1496.8L2260.4 1501.2L2261.4 1505.5L2262.4 1507.3L2263.4 1508.1L2264.4 1507.2L2265.4 1506.4L2266.4 1505.5L2267.4 1506.3L2268.4 1508.6L2269.4 1511.6L2270.4 1512.3L2271.4 1513.2L2272.4 1514.3L2273.4 1515.3L2274.4 1515.9L2275.4 1516.2L2276.4 1516.7L2277.4 1517.1L2278.4 1517.5L2279.4 1516L2280.4 1512.7L2281.4 1511.9L2282.4 1512.5L2283.4 1513.6L2284.4 1514.4L2285.4 1513.9L2286.4 1512.5L2287.4 1511.2L2288.4 1509.8L2289.4 1508.7L2290.4 1507.6L2291.4 1506.3L2292.4 1504.9L2293.4 1504.5L2294.4 1504.5L2295.4 1503L2296.4 1500.8L2297.4 1499L2298.4 1498.1L2299.4 1497.3L2300.4 1497.7L2301.4 1499.6L2302.4 1501L2303.4 1503.6L2304.4 1510L2305.4 1514.9L2306.4 1518L2307.4 1518.7L2308.4 1518L2309.4 1518.4L2310.4 1520.1L2311.4 1521.8L2312.4 1522.8L2313 1521.3L2313 1525.6L2312.4 1528.8L2311.4 1529.3L2310.4 1529L2309.4 1528.5L2308.4 1529L2307.4 1530.3L2306.4 1531.2L2305.4 1531.4L2304.4 1529.4L2303.4 1526.1L2302.4 1525.1L2301.4 1524.4L2300.4 1522.3L2299.4 1519.3L2298.4 1517.8L2297.4 1517L2296.4 1517.5L2295.4 1519L2294.4 1521.2L2293.4 1522.4L2292.4 1523.6L2291.4 1525.1L2290.4 1526.2L2289.4 1527.1L2288.4 1528.1L2287.4 1529.8L2286.4 1530.6L2285.4 1530.6L2284.4 1529.6L2283.4 1527.4L2282.4 1524.9L2281.4 1523.2L2280.4 1523.2L2279.4 1525.9L2278.4 1528L2277.4 1528.7L2276.4 1528.4L2275.4 1527.8L2274.4 1527.4L2273.4 1527.1L2272.4 1527.3L2271.4 1528L2270.4 1528.7L2269.4 1529.1L2268.4 1526.5L2267.4 1524.4L2266.4 1523.5L2265.4 1523.9L2264.4 1524.3L2263.4 1524.7L2262.4 1523.1L2261.4 1520.9L2260.4 1516.9L2259.4 1512.7L2258.4 1510L2257.4 1508.5L2256.4 1510.3L2255.4 1513.3L2254.4 1515.7L2253.4 1515.6L2252.4 1513.6L2251.4 1512.6L2250.4 1516.8L2249.4 1521.5L2248.4 1527.1L2247.4 1532.1L2246.4 1531.2L2245.4 1530.8L2244.4 1529.2L2243.4 1527.5L2242.4 1529.2L2241.4 1531.5L2240.4 1533.5L2239.4 1535.3L2238.4 1536.8L2237.4 1537.8L2236.4 1538L2235.4 1536.7L2234.4 1536L2233.4 1536.5L2232.4 1537.6L2231.4 1538.2L2230.4 1537.1L2229.4 1535.6L2228.4 1532.9L2227.4 1529.9L2226.4 1531.1L2225.4 1533.4L2224.4 1536.3L2223.4 1537.9L2222.4 1537.2L2221.4 1535.5L2220.4 1534.4L2219.4 1533.8L2218.4 1534.5L2217.4 1535.6L2216.4 1536.4L2215.4 1535.6L2214.4 1533.6L2213.4 1531.2L2212.4 1528.8L2211.4 1528.3L2210.4 1529L2209.4 1530.1L2208.4 1531.8L2207.4 1532.8L2206.4 1531.7L2205.4 1529.1L2204.4 1527.3L2203.4 1525.8L2202.4 1527.2L2201.4 1528.9L2200.4 1530.3L2199.4 1529.8L2198.4 1528L2197.4 1525.8L2196.4 1523.7L2195.4 1523.2L2194.4 1522.9L2193.4 1522.1L2192.4 1520.1L2191.4 1518.9L2190.4 1519.9L2189.4 1521.4L2188.4 1522.9L2187.4 1523.2L2186.4 1523.6L2185.4 1522.7L2184.4 1522.6L2183.4 1522.5L2182.4 1519.1L2181.4 1514.6L2180.4 1511.4L2179.4 1510.5L2178.4 1510.6L2177.4 1511.1L2176.4 1512.2L2175.4 1512.7L2174.4 1513.6L2173.4 1513.1L2172.4 1512.2L2171.4 1512.7L2170.4 1513.8L2169.4 1515.7L2168.4 1518L2167.4 1519.6L2166.4 1520.8L2165.4 1521L2164.4 1521.8L2163.4 1522.6L2162.4 1523.2L2161.4 1523.9L2160.4 1525.2L2159.4 1526.5L2158.4 1528.1L2157.4 1529L2156.4 1529.3L2155.4 1529.1L2154.4 1527.4L2153.4 1524.8L2152.4 1523L2151.4 1523.2L2150.4 1524.6L2149.4 1526.1L2148.4 1527.5L2147.4 1529.1L2146.4 1529.8L2145.4 1528.1L2144.4 1525.7L2143.4 1524.8L2142.4 1524.9L2141.4 1526.2L2140.4 1527.5L2139.4 1528L2138.4 1528.7L2137.4 1529.4L2136.4 1529.4L2135.4 1527.8L2134.4 1525.7L2133.4 1523.1L2132.4 1520.9L2131.4 1519.1L2130.4 1516.3L2129.4 1514.3L2128.4 1514.2L2127.4 1513.7L2126.4 1512.6L2125.4 1512.8L2124.4 1513.4L2123.4 1514.5L2122.4 1515.3L2121.4 1514.7L2120.4 1514.6L2119.4 1516.7L2118.4 1520.9L2117.4 1525.8L2116.4 1527.2L2115.4 1525.8L2114.4 1524.8L2113.4 1526L2112.4 1528.8L2111.4 1529.5L2110.4 1530.5L2109.4 1531.4L2108.4 1528.8L2107.4 1525.5L2106.4 1522L2105.4 1521.2L2104.4 1521.9L2103.4 1524.2L2102.4 1526.6L2101.4 1527.3L2100.4 1527.7L2099.4 1528.3L2098.4 1528.1L2097.4 1528.4L2096.4 1529.1L2095.4 1529.7L2094.4 1532.2L2093.4 1534.6L2092.4 1534.9L2091.4 1534.6L2090.4 1532L2089.4 1528.1L2088.4 1526L2087.4 1524.9L2086.4 1524.6L2085.4 1524.9L2084.4 1525.9L2083.4 1526.6L2082.4 1525.4L2081.4 1523L2080.4 1521.4L2079.4 1523L2078.4 1526.2L2077.4 1529.1L2076.4 1530.2L2075.4 1529.7L2074.4 1529.2L2073.4 1528.9L2072.4 1528.8L2071.4 1528.5L2070.4 1527.8L2069.4 1527.3L2068.4 1526.9L2067.4 1524.7L2066.4 1521.4L2065.4 1519.4L2064.4 1517.5L2063.4 1518.1L2062.4 1519L2061.4 1517.5L2060.4 1515.7L2059.4 1514.6L2058.4 1513.8L2057.4 1514.3L2056.4 1514.6L2055.4 1513.8L2054.4 1512.7L2053.4 1512.3L2052.4 1514.8L2051.4 1518.8L2050.4 1522.8L2049.4 1524.3L2048.4 1523.6L2047.4 1522.1L2046.4 1521L2045.4 1521L2044.4 1522.3L2043.4 1522.8L2042.4 1522.3L2041.4 1521.2L2040.4 1520.7L2039.4 1522.1L2038.4 1524.4L2037.4 1527.3L2036.4 1530.5L2035.4 1532.1L2034.4 1532.2L2033.4 1532.2L2032.4 1531L2031.4 1530.2L2030.4 1529.7L2029.4 1529.1L2028.4 1527.7L2027.4 1525.5L2026.4 1524.8L2025.4 1525.5L2024.4 1525L2023.4 1525.8L2022.4 1526.4L2021.4 1525.5L2020.4 1525.9L2019.4 1525.2L2018.4 1524.5L2017.4 1524.8L2016.4 1526.3L2015.4 1528.5L2014.4 1530.6L2013.4 1532.5L2012.4 1532.9L2011.4 1531.7L2010.4 1531.2L2009.4 1530.4L2008.4 1529.6L2007.4 1530.5L2006.4 1530.2L2005.4 1531.2L2004.4 1531L2003.4 1529.6L2002.4 1529.1L2001.4 1528L2000.4 1527.7L1999.4 1528.1L1998.4 1528.9L1997.4 1530.4L1996.4 1532.3L1995.4 1534.1L1994.4 1533.8L1993.4 1532.8L1992.4 1529.1L1991.4 1525.4L1990.4 1521.9L1989.4 1518.4L1988.4 1515.2L1987.4 1513.9L1986.4 1515.9L1985.4 1518.8L1984.4 1520.9L1983.4 1522.1L1982.4 1521.8L1981.4 1521.3L1980.4 1520.6L1979.4 1521.5L1978.4 1522.9L1977.4 1523.2L1976.4 1519.9L1975.4 1516.5L1974.4 1513.3L1973.4 1511.2L1972.4 1510.9L1971.4 1511.8L1970.4 1513.4L1969.4 1514.2L1968.4 1515L1967.4 1515.3L1966.4 1515.5L1965.4 1516.2L1964.4 1518L1963.4 1519.5L1962.4 1521.6L1961.4 1523.7L1960.4 1524.1L1959.4 1525L1958.4 1526.2L1957.4 1526.8L1956.4 1526.2L1955.4 1524.9L1954.4 1521.7L1953.4 1517.7L1952.4 1515.7L1951.4 1515.6L1950.4 1516.8L1949.4 1518L1948.4 1519.1L1947.4 1520.1L1946.4 1522L1945.4 1523.3L1944.4 1523.1L1943.4 1522.5L1942.4 1522.7L1941.4 1524.2L1940.4 1526.2L1939.4 1526.8L1938.4 1525.1L1937.4 1524.5L1936.4 1524.5L1935.4 1525.1L1934.4 1525.6L1933.4 1526.1L1932.4 1525.8L1931.4 1525.6L1930.4 1526.3L1929.4 1527.2L1928.4 1526.2L1927.4 1523.7L1926.4 1520.9L1925.4 1520.1L1924.4 1520.8L1923.4 1523.4L1922.4 1525.3L1921.4 1525.2L1920.4 1524.5L1919.4 1523.8L1918.4 1524.1L1917.4 1524.9L1916.4 1525.9L1915.4 1527L1914.4 1526.5L1913.4 1526.6L1912.4 1526.6L1911.4 1525.2L1910.4 1521.8L1909.4 1521.7L1908.4 1521.9L1907.4 1523.3L1906.4 1524.9L1905.4 1526.3L1904.4 1526.3L1903.4 1526.1L1902.4 1525.5L1901.4 1525.4L1900.4 1524L1899.4 1524.4L1898.4 1524.8L1897.4 1524.4L1896.4 1523.4L1895.4 1521.5L1894.4 1520.4L1893.4 1521.1L1892.4 1523L1891.4 1525.6L1890.4 1528.7L1889.4 1530.6L1888.4 1531.3L1887.4 1530L1886.4 1528.1L1885.4 1526L1884.4 1526.2L1883.4 1526.9L1882.4 1527.5L1881.4 1527.3L1880.4 1526.9L1879.4 1524.5L1878.4 1522.4L1877.4 1520.6L1876.4 1521L1875.4 1522.4L1874.4 1522L1873.4 1522.9L1872.4 1523.2L1871.4 1523L1870.4 1521.9L1869.4 1522.1L1868.4 1522.8L1867.4 1524.9L1866.4 1524.7L1865.4 1523.4L1864.4 1523.4L1863.4 1522.3L1862.4 1520L1861.4 1521L1860.4 1522.7L1859.4 1525.8L1858.4 1528.3L1857.4 1530L1856.4 1530L1855.4 1529.4L1854.4 1525L1853.4 1523L1852.4 1522.1L1851.4 1521.6L1850.4 1521.6L1849.4 1520.6L1848.4 1519.4L1847.4 1519.1L1846.4 1519.3L1845.4 1518.5L1844.4 1518.3L1843.4 1518.2L1842.4 1517.5L1841.4 1516.4L1840.4 1515.9L1839.4 1515.5L1838.4 1515.5L1837.4 1515.7L1836.4 1514.5L1835.4 1514.3L1834.4 1515.1L1833.4 1517.1L1832.4 1519.1L1831.4 1519.6L1830.4 1519.6L1829.4 1519.8L1828.4 1520.8L1827.4 1521.6L1826.4 1522.4L1825.4 1523.2L1824.4 1523L1823.4 1523.7L1822.4 1524.6L1821.4 1525L1820.4 1524.8L1819.4 1522.4L1818.4 1520.1L1817.4 1519.2L1816.4 1518.6L1815.4 1518.4L1814.4 1518.4L1813.4 1518.4L1812.4 1517.8L1811.4 1516.8L1810.4 1517.1L1809.4 1515.5L1808.4 1512.2L1807.4 1512.2L1806.4 1512.9L1805.4 1515L1804.4 1516.5L1803.4 1516.9L1802.4 1516.2L1801.4 1516.3L1800.4 1517L1799.4 1517.3L1798.4 1517.1L1797.4 1516.8L1796.4 1516.7L1795.4 1516.6L1794.4 1516.4L1793.4 1516.1L1792.4 1516.3L1791.4 1516.1L1790.4 1516.6L1789.4 1517.6L1788.4 1519L1787.4 1520.4L1786.4 1521.8L1785.4 1521.6L1784.4 1521.7L1783.4 1522.1L1782.4 1523.4L1781.4 1525L1780.4 1526.2L1779.4 1526.6L1778.4 1526.3L1777.4 1525.6L1776.4 1524.9L1775.4 1526.8L1774.4 1528L1773.4 1527.1L1772.4 1527L1771.4 1527.8L1770.4 1529.2L1769.4 1529.9L1768.4 1529.3L1767.4 1527L1766.4 1523.4L1765.4 1522L1764.4 1520.9L1763.4 1519.3L1762.4 1519.1L1761.4 1519.4L1760.4 1521L1759.4 1525.4L1758.4 1526.9L1757.4 1527.5L1756.4 1527.7L1755.4 1528.3L1754.4 1529.7L1753.4 1532L1752.4 1534.8L1751.4 1535.9L1750.4 1535.5L1749.4 1532.4L1748.4 1529.6L1747.4 1527.5L1746.4 1526.6L1745.4 1527L1744.4 1528.1L1743.4 1527.8L1742.4 1527L1741.4 1525.7L1740.4 1523.9L1739.4 1522.5L1738.4 1521.3L1737.4 1520.5L1736.4 1519.2L1735.4 1518.7L1734.4 1520L1733.4 1522.7L1732.4 1524.2L1731.4 1523.1L1730.4 1522.8L1729.4 1523.9L1728.4 1526.2L1727.4 1529.1L1726.4 1531.3L1725.4 1532.3L1724.4 1533.4L1723.4 1532.5L1722.4 1531.3L1721.4 1530.9L1720.4 1531.1L1719.4 1532.4L1718.4 1533.7L1717.4 1533.7L1716.4 1532.7L1715.4 1529.3L1714.4 1526.4L1713.4 1523.6L1712.4 1521.8L1711.4 1522.7L1710.4 1524L1709.4 1525.2L1708.4 1525.9L1707.4 1524.7L1706.4 1521.9L1705.4 1519.7L1704.4 1518.1L1703.4 1517.6L1702.4 1518.5L1701.4 1519.5L1700.4 1519.6L1699.4 1518.4L1698.4 1516.4L1697.4 1515.8L1696.4 1515.6L1695.4 1515.4L1694.4 1515.3L1693.4 1515.6L1692.4 1516.9L1691.4 1519.1L1690.4 1519.5L1689.4 1519.8L1688.4 1519.8L1687.4 1519.6L1686.4 1520.2L1685.4 1520.4L1684.4 1521.1L1683.4 1521.7L1682.4 1521.9L1681.4 1522.6L1680.4 1521.1L1679.4 1520.2L1678.4 1520.3L1677.4 1521.8L1676.4 1524.2L1675.4 1527.1L1674.4 1527.5L1673.4 1526.5L1672.4 1525.3L1671.4 1524.1L1670.4 1523.6L1669.4 1522.7L1668.4 1521.4L1667.4 1519.1L1666.4 1517.5L1665.4 1517.2L1664.4 1517.5L1663.4 1518L1662.4 1517.4L1661.4 1516.3L1660.4 1513.9L1659.4 1511.1L1658.4 1509.4L1657.4 1507.6L1656.4 1506.9L1655.4 1506.4L1654.4 1506.6L1653.4 1506.7L1652.4 1506.8L1651.4 1506.8L1650.4 1506.9L1649.4 1508.5L1648.4 1509.3L1647.4 1509.3L1646.4 1508.4L1645.4 1507.5L1644.4 1506.5L1643.4 1506.4L1642.4 1508.4L1641.4 1511.2L1640.4 1512.6L1639.4 1513.7L1638.4 1513.1L1637.4 1511.8L1636.4 1510.3L1635.4 1510.7L1634.4 1510.8L1633.4 1512.3L1632.4 1514.1L1631.4 1515.3L1630.4 1514.5L1629.4 1515.4L1628.4 1515.9L1627.4 1514.6L1626.4 1513.6L1625.4 1514.6L1624.4 1516.6L1623.4 1519.3L1622.4 1521.6L1621.4 1521.5L1620.4 1519.6L1619.4 1516.2L1618.4 1515.3L1617.4 1515L1616.4 1516.4L1615.4 1518.1L1614.4 1518.3L1613.4 1516.8L1612.4 1515.2L1611.4 1514.4L1610.4 1514.5L1609.4 1514.8L1608.4 1514.5L1607.4 1511.9L1606.4 1510.9L1605.4 1510.1L1604.4 1508.7L1603.4 1507.3L1602.4 1507.4L1601.4 1508.8L1600.4 1510.5L1599.4 1511.9L1598.4 1512.5L1597.4 1512.5L1596.4 1512.1L1595.4 1511.9L1594.4 1511.6L1593.4 1511L1592.4 1509.9L1591.4 1508.2L1590.4 1504.4L1589.4 1500.6L1588.4 1498.8L1587.4 1497.8L1586.4 1499.1L1585.4 1500.8L1584.4 1502.3L1583.4 1503.1L1582.4 1504.6L1581.4 1507L1580.4 1509.3L1579.4 1510.4L1578.4 1510.7L1577.4 1511.6L1576.4 1513L1575.4 1514.4L1574.4 1515.9L1573.4 1516.2L1572.4 1515.4L1571.4 1514.5L1570.4 1514.1L1569.4 1515.5L1568.4 1518.1L1567.4 1518.3L1566.4 1517.2L1565.4 1516.7L1564.4 1515.8L1563.4 1516.3L1562.4 1518.9L1561.4 1522L1560.4 1525L1559.4 1527.3L1558.4 1526.2L1557.4 1525L1556.4 1524.1L1555.4 1523.9L1554.4 1523.4L1553.4 1522.9L1552.4 1521.4L1551.4 1519.9L1550.4 1518.9L1549.4 1519L1548.4 1519L1547.4 1517.5L1546.4 1516.7L1545.4 1516.1L1544.4 1516.4L1543.4 1516.5L1542.4 1516.4L1541.4 1515.4L1540.4 1514.7L1539.4 1512.2L1538.4 1509.7L1537.4 1509.7L1536.4 1510.6L1535.4 1511.9L1534.4 1512.7L1533.4 1513.4L1532.4 1516L1531.4 1520.6L1530.4 1525.1L1529.4 1527.5L1528.4 1526.9L1527.4 1524.8L1526.4 1522.2L1525.4 1520.6L1524.4 1520.1L1523.4 1520.8L1522.4 1520.3L1521.4 1519L1520.4 1516.3L1519.4 1513.7L1518.4 1512.4L1517.4 1511.9L1516.4 1513.2L1515.4 1514.8L1514.4 1515.3L1513.4 1514.2L1512.4 1512.1L1511.4 1512.6L1510.4 1514.2L1509.4 1516.3L1508.4 1516.3L1507.4 1514.5L1506.4 1511.8L1505.4 1510.1L1504.4 1507.9L1503.4 1506.8L1502.4 1506.2L1501.4 1507.7L1500.4 1508.5L1499.4 1506.3L1498.4 1503.2L1497.4 1501.6L1496.4 1502.6L1495.4 1505.6L1494.4 1507.2L1493.4 1506.1L1492.4 1505L1491.4 1504.2L1490.4 1504.6L1489.4 1506.4L1488.4 1507.8L1487.4 1508.2L1486.4 1509L1485.4 1510.7L1484.4 1511.8L1483.4 1512.7L1482.4 1513.5L1481.4 1515.9L1480.4 1519.1L1479.4 1520.1L1478.4 1520.4L1477.4 1521.2L1476.4 1522.3L1475.4 1523.6L1474.4 1523.5L1473.4 1522L1472.4 1519.6L1471.4 1516.9L1470.4 1515.8L1469.4 1516.8L1468.4 1520.5L1467.4 1520.7L1466.4 1519.9L1465.4 1518.8L1464.4 1518.2L1463.4 1517.9L1462.4 1517.4L1461.4 1514.4L1460.4 1512.6L1459.4 1511.3L1458.4 1511.4L1457.4 1511.2L1456.4 1509.4L1455.4 1505.8L1454.4 1508.1L1453.4 1511.1L1452.4 1516.4L1451.4 1519.6L1450.4 1521.2L1449.4 1522.2L1448.4 1521.7L1447.4 1521L1446.4 1521L1445.4 1521.4L1444.4 1520.8L1443.4 1520.3L1442.4 1520.6L1441.4 1521.8L1440.4 1522.8L1439.4 1521.8L1438.4 1520.5L1437.4 1519.8L1436.4 1519.8L1435.4 1519.2L1434.4 1517.4L1433.4 1517.9L1432.4 1517.8L1431.4 1519L1430.4 1519L1429.4 1518L1428.4 1515.4L1427.4 1514.3L1426.4 1513.8L1425.4 1513L1424.4 1512.7L1423.4 1512.4L1422.4 1513L1421.4 1512.9L1420.4 1512.5L1419.4 1511.2L1418.4 1510.6L1417.4 1509.9L1416.4 1509.9L1415.4 1510.1L1414.4 1510.1L1413.4 1510.9L1412.4 1509.3L1411.4 1506.3L1410.4 1506.8L1409.4 1508.5L1408.4 1509.9L1407.4 1509.7L1406.4 1508.4L1405.4 1506.1L1404.4 1503.4L1403.4 1501.5L1402.4 1501.9L1401.4 1503.8L1400.4 1504.5L1399.4 1503.1L1398.4 1501.7L1397.4 1500.8L1396.4 1501.8L1395.4 1502.9L1394.4 1505.5L1393.4 1507L1392.4 1506.3L1391.4 1506.2L1390.4 1507.6L1389.4 1508.9L1388.4 1510.2L1387.4 1511.6L1386.4 1513.4L1385.4 1516.5L1384.4 1517.7L1383.4 1517.9L1382.4 1517.7L1381.4 1517.1L1380.4 1517.6L1379.4 1519.2L1378.4 1521.2L1377.4 1522.3L1376.4 1522.4L1375.4 1522.7L1374.4 1522.2L1373.4 1520L1372.4 1518.1L1371.4 1516.7L1370.4 1515.3L1369.4 1513.9L1368.4 1513.3L1367.4 1513L1366.4 1513.4L1365.4 1514.1L1364.4 1513.8L1363.4 1512.9L1362.4 1512.3L1361.4 1512.1L1360.4 1512.1L1359.4 1510.8L1358.4 1508.1L1357.4 1505.9L1356.4 1505.7L1355.4 1506.1L1354.4 1508.1L1353.4 1509.6L1352.4 1509L1351.4 1506.3L1350.4 1502.6L1349.4 1501L1348.4 1501.6L1347.4 1503.6L1346.4 1505.2L1345.4 1505.7L1344.4 1507.1L1343.4 1508.4L1342.4 1509.7L1341.4 1510.1L1340.4 1510.5L1339.4 1508.9L1338.4 1507.5L1337.4 1507.9L1336.4 1508.5L1335.4 1510.6L1334.4 1512.3L1333.4 1513L1332.4 1511.6L1331.4 1509.9L1330.4 1508.4L1329.4 1508L1328.4 1507.9L1327.4 1508.2L1326.4 1507.2L1325.4 1505.2L1324.4 1503.8L1323.4 1503.4L1322.4 1503.8L1321.4 1504.5L1320.4 1505.1L1319.4 1505L1318.4 1505.5L1317.4 1507.3L1316.4 1507.8L1315.4 1506.3L1314.4 1503.7L1313.4 1502.1L1312.4 1503.1L1311.4 1504.7L1310.4 1506.1L1309.4 1507.2L1308.4 1508L1307.4 1508L1306.4 1509L1305.4 1509.9L1304.4 1510.1L1303.4 1509.3L1302.4 1507.5L1301.4 1505.7L1300.4 1504L1299.4 1503.6L1298.4 1504.8L1297.4 1506.3L1296.4 1506.8L1295.4 1505.4L1294.4 1502.2L1293.4 1501.3L1292.4 1500.5L1291.4 1501.8L1290.4 1503.2L1289.4 1502.6L1288.4 1502.5L1287.4 1502.2L1286.4 1501.5L1285.4 1500L1284.4 1498.1L1283.4 1497.7L1282.4 1498.3L1281.4 1498.5L1280.4 1498.8L1279.4 1499.7L1278.4 1500.3L1277.4 1501.3L1276.4 1501.6L1275.4 1503.9L1274.4 1507L1273.4 1508L1272.4 1507.9L1271.4 1505.3L1270.4 1504.5L1269.4 1505.2L1268.4 1509.5L1267.4 1510.6L1266.4 1509.5L1265.4 1508.5L1264.4 1507.8L1263.4 1504.5L1262.4 1501.6L1261.4 1502.5L1260.4 1504.5L1259.4 1508L1258.4 1510.5L1257.4 1509.6L1256.4 1507.2L1255.4 1504.3L1254.4 1502.1L1253.4 1501.3L1252.4 1502.1L1251.4 1502.9L1250.4 1502.4L1249.4 1500.9L1248.4 1498.9L1247.4 1498.1L1246.4 1499.6L1245.4 1501.7L1244.4 1503L1243.4 1504L1242.4 1502L1241.4 1500.5L1240.4 1500L1239.4 1499.7L1238.4 1500.3L1237.4 1500.8L1236.4 1502.3L1235.4 1505L1234.4 1507L1233.4 1507.2L1232.4 1505.8L1231.4 1505L1230.4 1504.7L1229.4 1504.6L1228.4 1504.4L1227.4 1504L1226.4 1503.6L1225.4 1503.1L1224.4 1502.2L1223.4 1504.6L1222.4 1507.7L1221.4 1508.9L1220.4 1508.6L1219.4 1508.4L1218.4 1508.8L1217.4 1509.7L1216.4 1511L1215.4 1512L1214.4 1512.1L1213.4 1510.9L1212.4 1508.8L1211.4 1506L1210.4 1503.3L1209.4 1502.4L1208.4 1501.9L1207.4 1502.7L1206.4 1504.2L1205.4 1505.3L1204.4 1506.6L1203.4 1506.5L1202.4 1505.6L1201.4 1504.3L1200.4 1504L1199.4 1504.1L1198.4 1505.6L1197.4 1507.1L1196.4 1507.3L1195.4 1506.2L1194.4 1504.1L1193.4 1502.9L1192.4 1502.8L1191.4 1503.4L1190.4 1502.6L1189.4 1502.5L1188.4 1500.5L1187.4 1497.7L1186.4 1497.5L1185.4 1497.9L1184.4 1498.7L1183.4 1499.5L1182.4 1500.5L1181.4 1500.6L1180.4 1504.1L1179.4 1507.1L1178.4 1509.5L1177.4 1511.8L1176.4 1513.7L1175.4 1514.1L1174.4 1515L1173.4 1516.5L1172.4 1518.4L1171.4 1518.6L1170.4 1518.9L1169.4 1518.6L1168.4 1516.6L1167.4 1514.1L1166.4 1512.1L1165.4 1510L1164.4 1508.2L1163.4 1505.9L1162.4 1506L1161.4 1506.3L1160.4 1507.2L1159.4 1507.7L1158.4 1508.1L1157.4 1506.8L1156.4 1503.2L1155.4 1501.4L1154.4 1502.1L1153.4 1505L1152.4 1508.3L1151.4 1509.5L1150.4 1509.1L1149.4 1507.2L1148.4 1504.9L1147.4 1503.3L1146.4 1504.2L1145.4 1506.3L1144.4 1508L1143.4 1508L1142.4 1507.3L1141.4 1505.1L1140.4 1503L1139.4 1501.7L1138.4 1502.3L1137.4 1503.7L1136.4 1505.3L1135.4 1505.2L1134.4 1504.1L1133.4 1502.2L1132.4 1500.3L1131.4 1499.3L1130.4 1499.4L1129.4 1502.2L1128.4 1504.6L1127.4 1506.1L1126.4 1505.3L1125.4 1503.2L1124.4 1501.6L1123.4 1500.2L1122.4 1501.1L1121.4 1500.9L1120.4 1499.6L1119.4 1497.5L1118.4 1496.4L1117.4 1496.3L1116.4 1497.5L1115.4 1498.5L1114.4 1497.8L1113.4 1496.9L1112.4 1496.6L1111.4 1496.2L1110.4 1494.9L1109.4 1493.5L1108.4 1492.3L1107.4 1490.9L1106.4 1490L1105.4 1490.6L1104.4 1491.7L1103.4 1493.2L1102.4 1494.7L1101.4 1495.9L1100.4 1496.7L1099.4 1496.6L1098.4 1496L1097.4 1493.7L1096.4 1491.8L1095.4 1491.9L1094.4 1493.2L1093.4 1494.7L1092.4 1496.2L1091.4 1496.6L1090.4 1496.2L1089.4 1495.8L1088.4 1497.4L1087.4 1497.7L1086.4 1498.5L1085.4 1498L1084.4 1496.9L1083.4 1495.4L1082.4 1495.6L1081.4 1496L1080.4 1496.3L1079.4 1497.2L1078.4 1498.8L1077.4 1501.7L1076.4 1504.3L1075.4 1505.5L1074.4 1504.9L1073.4 1502.9L1072.4 1501.1L1071.4 1501.2L1070.4 1501.6L1069.4 1503.1L1068.4 1504.6L1067.4 1505.7L1066.4 1505.5L1065.4 1504L1064.4 1502L1063.4 1501.2L1062.4 1500.4L1061.4 1498.9L1060.4 1497.3L1059.4 1496.4L1058.4 1496.1L1057.4 1498.5L1056.4 1502L1055.4 1501.9L1054.4 1501.4L1053.4 1497.7L1052.4 1495.3L1051.4 1494.9L1050.4 1495.6L1049.4 1496.5L1048.4 1497.4L1047.4 1497.3L1046.4 1497L1045.4 1498.3L1044.4 1499.2L1043.4 1498.7L1042.4 1497L1041.4 1494.3L1040.4 1492.3L1039.4 1492.6L1038.4 1493.1L1037.4 1496.1L1036.4 1499L1035.4 1499.8L1034.4 1499.6L1033.4 1497.8L1032.4 1496.1L1031.4 1495.7L1030.4 1497.2L1029.4 1498.9L1028.4 1498.9L1027.4 1498.1L1026.4 1496L1025.4 1493.8L1024.4 1493.2L1023.4 1493.4L1022.4 1493.8L1021.4 1493.8L1020.4 1492.9L1019.4 1491.3L1018.4 1487.6L1017.4 1483.5L1016.4 1479.7L1015.4 1478.1L1014.4 1479.7L1013.4 1479.5L1012.4 1477.4L1011.4 1474.8L1010.4 1472.4L1009.4 1470.9L1008.4 1472.4L1007.4 1476.2L1006.4 1479.6L1005.4 1481L1004.4 1480.2L1003.4 1478.6L1002.4 1478L1001.4 1479.2L1000.4 1480.7L999.4 1482.8L998.4 1484.2L997.4 1485.2L996.4 1485.4L995.4 1484.5L994.4 1484.1L993.4 1483.6L992.4 1483.9L991.4 1484.9L990.4 1486.5L989.4 1488.2L988.4 1488.9L987.4 1488.8L986.4 1487.8L985.4 1487.3L984.4 1488L983.4 1488.5L982.4 1488.7L981.4 1489.5L980.4 1490.7L979.4 1490.9L978.4 1489.9L977.4 1487.7L976.4 1485.9L975.4 1485.7L974.4 1487.1L973.4 1488.9L972.4 1491L971.4 1492L970.4 1492.8L969.4 1492.3L968.4 1491.2L967.4 1489.6L966.4 1489.8L965.4 1490.2L964.4 1491.8L963.4 1492.7L962.4 1493.4L961.4 1493.4L960.4 1492.5L959.4 1490.4L958.4 1488.2L957.4 1486.2L956.4 1484.4L955.4 1483.3L954.4 1483.2L953.4 1483.5L952.4 1483.4L951.4 1483.1L950.4 1482.3L949.4 1480.7L948.4 1479.5L947.4 1479.5L946.4 1480.9L945.4 1482.6L944.4 1485L943.4 1487.4L942.4 1489L941.4 1489.7L940.4 1487.4L939.4 1485.8L938.4 1486.8L937.4 1488.9L936.4 1491.5L935.4 1494L934.4 1495.8L933.4 1494.2L932.4 1490.6L931.4 1487.4L930.4 1488.4L929.4 1490.1L928.4 1490.2L927.4 1488.7L926.4 1487.2L925.4 1486.1L924.4 1484L923.4 1482.8L922.4 1480.6L921.4 1478.1L920.4 1476.8L919.4 1476.8L918.4 1478.6L917.4 1479.8L916.4 1479.2L915.4 1476.6L914.4 1474.2L913.4 1474.7L912.4 1476.1L911.4 1478.3L910.4 1479.7L909.4 1481L908.4 1481.8L907.4 1481.9L906.4 1481.8L905.4 1481.6L904.4 1482L903.4 1483.6L902.4 1486L901.4 1486.2L900.4 1486.9L899.4 1487.4L898.4 1484.6L897.4 1481.1L896.4 1478.1L895.4 1478.7L894.4 1480.3L893.4 1482.8L892.4 1485.3L891.4 1486.2L890.4 1486.2L889.4 1484.6L888.4 1483L887.4 1482.5L886.4 1483.6L885.4 1486.2L884.4 1488.9L883.4 1490.2L882.4 1490.6L881.4 1491.3L880.4 1491.8L879.4 1492.2L878.4 1491.2L877.4 1489.5L876.4 1489.1L875.4 1489.5L874.4 1489.8L873.4 1490.1L872.4 1490.9L871.4 1491.4L870.4 1492.5L869.4 1491L868.4 1487.7L867.4 1482.9L866.4 1480.3L865.4 1480.1L864.4 1484.8L863.4 1487.1L862.4 1487.1L861.4 1484.7L860.4 1482.9L859.4 1482.1L858.4 1482.5L857.4 1484.6L856.4 1485.3L855.4 1486.1L854.4 1486.6L853.4 1486.6L852.4 1486.1L851.4 1485.3L850.4 1486L849.4 1489.5L848.4 1494L847.4 1496.4L846.4 1496.9L845.4 1493.6L844.4 1489.7L843.4 1487.9L842.4 1486.9L841.4 1485.7L840.4 1486.3L839.4 1487L838.4 1486.9L837.4 1487.4L836.4 1487.2L835.4 1486.4L834.4 1485.5L833.4 1485.2L832.4 1484.8L831.4 1484.4L830.4 1483.7L829.4 1482.6L828.4 1480.7L827.4 1478.8L826.4 1477.3L825.4 1476.7L824.4 1477.9L823.4 1479.6L822.4 1480.3L821.4 1480.4L820.4 1480L819.4 1479.4L818.4 1478.4L817.4 1477.2L816.4 1477.6L815.4 1478.7L814.4 1479.2L813.4 1478L812.4 1478.3L811.4 1478.4L810.4 1478.5L809.4 1478.6L808.4 1478.1L807.4 1478.7L806.4 1479.5L805.4 1480.2L804.4 1480.7L803.4 1480.5L802.4 1479.3L801.4 1477.9L800.4 1476.6L799.4 1476.1L798.4 1476.9L797.4 1478.9L796.4 1478.3L795.4 1476.7L794.4 1476.6L793.4 1476.5L792.4 1476.9L791.4 1477.4L790.4 1477.1L789.4 1476.9L788.4 1477.2L787.4 1478.4L786.4 1479.5L785.4 1479.8L784.4 1480.7L783.4 1480.7L782.4 1479.9L781.4 1478.8L780.4 1478L779.4 1477.3L778.4 1477.5L777.4 1478.6L776.4 1480.7L775.4 1481.8L774.4 1482.1L773.4 1480.2L772.4 1478.4L771.4 1477.2L770.4 1477.8L769.4 1479.7L768.4 1479.3L767.4 1476.8L766.4 1473.7L765.4 1472L764.4 1471.6L763.4 1471.8L762.4 1473.4L761.4 1474.8L760.4 1476.1L759.4 1477.2L758.4 1477.8L757.4 1477.4L756.4 1475.3L755.4 1473.6L754.4 1472.6L753.4 1472.4L752.4 1472.6L751.4 1471.6L750.4 1471.4L749.4 1471.6L748.4 1471.1L747.4 1470.9L746.4 1471L745.4 1470.8L744.4 1470.2L743.4 1469L742.4 1465.8L741.4 1461.7L740.4 1460.3L739.4 1460.3L738.4 1461.8L737.4 1463.2L736.4 1463.9L735.4 1463L734.4 1461L733.4 1460.5L732.4 1460.8L731.4 1463.2L730.4 1465.9L729.4 1467.8L728.4 1468.7L727.4 1467.9L726.4 1465.6L725.4 1465.3L724.4 1465.5L723.4 1465.2L722.4 1464.5L721.4 1464.5L720.4 1465.5L719.4 1466.8L718.4 1468.2L717.4 1470.9L716.4 1473.7L715.4 1476.3L714.4 1479.7L713.4 1482.1L712.4 1483.6L711.4 1484.4L710.4 1482.8L709.4 1479.7L708.4 1479L707.4 1478.9L706.4 1478.5L705.4 1477.5L704.4 1476.2L703.4 1474.3L702.4 1470.7L701.4 1469.4L700.4 1469L699.4 1469.6L698.4 1470.4L697.4 1470.6L696.4 1469.6L695.4 1467.8L694.4 1466.3L693.4 1465.7L692.4 1466.7L691.4 1467.9L690.4 1467.6L689.4 1468.3L688.4 1468.1L687.4 1466.7L686.4 1464.2L685.4 1462.8L684.4 1461.7L683.4 1462L682.4 1464.3L681.4 1464.2L680.4 1463.4L679.4 1462.7L678.4 1461.5L677.4 1461.6L676.4 1463.2L675.4 1464.9L674.4 1466L673.4 1465.8L672.4 1465.5L671.4 1463.8L670.4 1462.2L669.4 1461.4L668.4 1462.8L667.4 1464.1L666.4 1463.7L665.4 1462.4L664.4 1459.2L663.4 1457.4L662.4 1457L661.4 1459.1L660.4 1460.9L659.4 1461L658.4 1459.7L657.4 1457.5L656.4 1456L655.4 1457L654.4 1458.8L653.4 1460.7L652.4 1460L651.4 1456.6L650.4 1454.5L649.4 1454.3L648.4 1454.9L647.4 1457.2L646.4 1458.7L645.4 1459.4L644.4 1458.4L643.4 1456.4L642.4 1454.2L641.4 1453.3L640.4 1453.2L639.4 1452.7L638.4 1451.8L637.4 1451.4L636.4 1451.5L635.4 1451.6L634.4 1451.5L633.4 1451.5L632.4 1451.2L631.4 1452.2L630.4 1453.1L629.4 1453.2L628.4 1454.2L627.4 1454.9L626.4 1456.5L625.4 1457.4L624.4 1458.2L623.4 1456.3L622.4 1455.8L621.4 1456.2L620.4 1457.6L619.4 1458.9L618.4 1458.6L617.4 1456.7L616.4 1453.7L615.4 1452.1L614.4 1451.8L613.4 1452.2L612.4 1452.8L611.4 1454.3L610.4 1454.9L609.4 1453.2L608.4 1450.6L607.4 1448.9L606.4 1445.6L605.4 1442.4L604.4 1441L603.4 1441.2L602.4 1439.3L601.4 1437.6L600.4 1438.9L599.4 1440.4L598.4 1444.1L597.4 1448.5L596.4 1451.3L595.4 1451.2L594.4 1450L593.4 1448L592.4 1446L591.4 1444.4L590.4 1443.5L589.4 1442.9L588.4 1442.4L587.4 1442.2L586.4 1442.1L585.4 1442.2L584.4 1442.2L583.4 1442.9L582.4 1442.5L581.4 1441.1L580.4 1439.3L579.4 1437.5L578.4 1436.6L577.4 1436.7L576.4 1437.4L575.4 1439.4L574.4 1440.9L573.4 1441.3L572.4 1440.3L571.4 1438.8L570.4 1437.8L569.4 1437.6L568.4 1437.8L567.4 1437.8L566.4 1436.9L565.4 1436.8L564.4 1437.2L563.4 1437.7L562.4 1438.5L561.4 1438.6L560.4 1438.2L559.4 1438.1L558.4 1437.8L557.4 1437.5L556.4 1436.3L555.4 1435.7L554.4 1435.2L553.4 1434.9L552.4 1435L551.4 1435.6L550.4 1437.6L549.4 1439.6L548.4 1440.8L547.4 1439.9L546.4 1437.9L545.4 1437.1L544.4 1437.1L543.4 1437.8L542.4 1438.4L541.4 1438.1L540.4 1438L539.4 1438.7L538.4 1442.6L537.4 1443.4L536.4 1441.1L535.4 1437.7L534.4 1435.5L533.4 1435.2L532.4 1434.9L531.4 1434.1L530.4 1433.5L529.4 1432.3L528.4 1432L527.4 1429.7L526.4 1427.3L525.4 1423.2L524.4 1419.7L523.4 1419.9L522.4 1420.2L521.4 1420L520.4 1419.9L519.4 1420.3L518.4 1421.4L517.4 1422.6L516.4 1424.2L515.4 1424.5L514.4 1423.5L513.4 1422.8L512.4 1422L511.4 1422.1L510.4 1422.8L509.4 1423.3L508.4 1423.9L507.4 1424.4L506.4 1424.3L505.4 1424L504.4 1423.4L503.4 1421.6L502.4 1419.4L501.4 1417.6L500.4 1416L499.4 1415.7L498.4 1415.7L497.4 1415.6L496.4 1414.4L495.4 1411.2L494.4 1409.3L493.4 1407.8L492.4 1407.5L491.4 1407.1L490.4 1405.9L489.4 1406.1L488.4 1406.5L487.4 1406.5L486.4 1406L485.4 1404.7L484.4 1403.5L483.4 1402.8L482.4 1402.7L481.4 1403.2L480.4 1404.1L479.4 1405.4L478.4 1406.5L477.4 1407.4L476.4 1407.1L475.4 1406.7L474.4 1406.5L473.4 1406.8L472.4 1407.4L471.4 1408.7L470.4 1409.2L469.4 1409.4L468.4 1407.9L467.4 1405.5L466.4 1404L465.4 1403.2L464.4 1403.1L463.4 1402.3L462.4 1401.2L461.4 1400.1L460.4 1399.3L459.4 1398.2L458.4 1397.2L457.4 1396.4L456.4 1395.2L455.4 1393.7L454.4 1392.3L453.4 1390.8L452.4 1389.3L451.4 1387.9L450.4 1387.4L449.4 1387.6L448.4 1387.7L447.4 1387.9L446.4 1388.3L445.4 1388.8L444.4 1388L443.4 1386.4L442.4 1384.8L441.4 1383.2L440.4 1381.6L439.4 1380L438.4 1379.8L437.4 1380.1L436.4 1380.1L435.4 1380.2L434.4 1380.3L433.4 1380.6L432.4 1380.8L431.4 1381.2L430.4 1381.9L429.4 1382.6L428.4 1383.2L427.4 1383.5L426.4 1381.9L425.4 1379.7L424.4 1377.6L423.4 1376L422.4 1374.4L421.4 1373.1L420.4 1370.6L419.4 1367.8L418.4 1364.6L417.4 1361.2L416.4 1360.6L415.4 1360.6L414.4 1360.5L413.4 1360.5L412.4 1360.5L411.4 1360.6L410.4 1360.8L409.4 1360.9L408.4 1360.1L407.4 1359.3L406.4 1358.7L405.4 1358.4L404.4 1358L403.4 1357.5L397.5 1349.5L391.5 1342.5L385.6 1328.7L379.6 1314.8Z" fill="#6abd45" stroke="#6abd45" stroke-width="1.4" stroke-linejoin="round"/>
<rect x="225.7" y="256.1" width="23.0" height="25.0" fill="none" stroke="#6abd45" stroke-width="7" stroke-linejoin="miter" stroke-miterlimit="10"/>
<rect x="498.8" y="1387.5" width="23.0" height="25.0" fill="none" stroke="#6abd45" stroke-width="7" stroke-linejoin="miter" stroke-miterlimit="10"/>
<rect x="771.5" y="1455.5" width="23.0" height="25.0" fill="none" stroke="#6abd45" stroke-width="7" stroke-linejoin="miter" stroke-miterlimit="10"/>
<rect x="1044.2" y="1477.3" width="23.0" height="25.0" fill="none" stroke="#6abd45" stroke-width="7" stroke-linejoin="miter" stroke-miterlimit="10"/>
<rect x="1316.9" y="1490.3" width="23.0" height="25.0" fill="none" stroke="#6abd45" stroke-width="7" stroke-linejoin="miter" stroke-miterlimit="10"/>
<rect x="1589.6" y="1495.4" width="23.0" height="25.0" fill="none" stroke="#6abd45" stroke-width="7" stroke-linejoin="miter" stroke-miterlimit="10"/>
<rect x="1862.3" y="1504.3" width="23.0" height="25.0" fill="none" stroke="#6abd45" stroke-width="7" stroke-linejoin="miter" stroke-miterlimit="10"/>
<rect x="2135" y="1503.4" width="23.0" height="25.0" fill="none" stroke="#6abd45" stroke-width="7" stroke-linejoin="miter" stroke-miterlimit="10"/>
</g>
<g id="curve-p">
<path d="M237.8 268.8L246.6 264L252.2 262.2L253.2 268L254.4 289.6L256.1 339.2L258.5 420L260.1 474.4L264.9 584.2L271.6 697L277.5 782.3L283.8 864.7L292.8 933.3L298.3 960L303.8 999.7L309.7 1049.3L315.7 1089L318.3 1100L324.7 1129.8L328.4 1159.5L334.7 1184.3L339.5 1199.2L343 1214L346.4 1229L352.9 1243.8L357.9 1258.7L363.2 1273.6L377.6 1298.9" fill="none" stroke="#a55ca5" stroke-width="7.4" stroke-linejoin="round" stroke-linecap="butt"/>
<path d="M377.6 1294.6L381.6 1307.9L387.5 1317.5L395.5 1325L401.4 1341.5L402.4 1342.3L403.4 1343L404.4 1343.5L405.4 1343.7L406.4 1343.7L407.4 1344L408.4 1344.4L409.4 1345L410.4 1345.2L411.4 1345.3L412.4 1345.3L413.4 1345.3L414.4 1345.3L415.4 1345.3L416.4 1345.4L417.4 1345.9L418.4 1347.3L419.4 1348.5L420.4 1349.5L421.4 1350.3L422.4 1351.1L423.4 1352.1L424.4 1352.7L425.4 1353.7L426.4 1354.7L427.4 1355.6L428.4 1356.2L429.4 1356.8L430.4 1357.6L431.4 1358.5L432.4 1359.4L433.4 1360.1L434.4 1360.7L435.4 1361.5L436.4 1362.3L437.4 1363.3L438.4 1364.1L439.4 1364.7L440.4 1365.3L441.4 1365.7L442.4 1365.7L443.4 1365.6L444.4 1365.6L445.4 1365.2L446.4 1364.6L447.4 1364.1L448.4 1364L449.4 1364.6L450.4 1365.7L451.4 1366.7L452.4 1367.5L453.4 1368.2L454.4 1368.8L455.4 1369.4L456.4 1370.1L457.4 1370.5L458.4 1370.4L459.4 1370.2L460.4 1370.3L461.4 1370.6L462.4 1371.3L463.4 1372L464.4 1372L465.4 1371.7L466.4 1372.3L467.4 1373.6L468.4 1375.5L469.4 1377.8L470.4 1379.3L471.4 1379.3L472.4 1377.4L473.4 1376.2L474.4 1375.4L475.4 1375.3L476.4 1375.4L477.4 1375.8L478.4 1375.8L479.4 1375.6L480.4 1374.6L481.4 1373.6L482.4 1373L483.4 1372.9L484.4 1373.4L485.4 1375.3L486.4 1377.4L487.4 1378.2L488.4 1378.7L489.4 1378.6L490.4 1378.2L491.4 1378.3L492.4 1377.5L493.4 1377L494.4 1378.2L495.4 1380.3L496.4 1384.1L497.4 1385.9L498.4 1386.2L499.4 1385.6L500.4 1385L501.4 1385.7L502.4 1386.4L503.4 1389L504.4 1391.5L505.4 1392.3L506.4 1392.8L507.4 1392.6L508.4 1392.2L509.4 1392L510.4 1392L511.4 1391L512.4 1389.6L513.4 1388.8L514.4 1389.7L515.4 1390.7L516.4 1390.5L517.4 1388.6L518.4 1386.3L519.4 1384L520.4 1382.3L521.4 1383.4L522.4 1384.6L523.4 1385.7L524.4 1386.9L525.4 1389.6L526.4 1392.9L527.4 1394.2L528.4 1395.2L529.4 1393.7L530.4 1393.3L531.4 1394.2L532.4 1395.6L533.4 1396.9L534.4 1398.2L535.4 1401.3L536.4 1404.4L537.4 1406.6L538.4 1405.4L539.4 1400.2L540.4 1399.3L541.4 1399.5L542.4 1399.8L543.4 1400L544.4 1400.1L545.4 1400.6L546.4 1401.3L547.4 1402.1L548.4 1401.5L549.4 1399.6L550.4 1396.9L551.4 1394.2L552.4 1393.6L553.4 1395.3L554.4 1397L555.4 1398L556.4 1398.2L557.4 1398.7L558.4 1399.1L559.4 1399.1L560.4 1399L561.4 1399.1L562.4 1399.2L563.4 1399.4L564.4 1399.4L565.4 1398.1L566.4 1396.8L567.4 1396.6L568.4 1396.5L569.4 1396.1L570.4 1396.1L571.4 1397.3L572.4 1399.2L573.4 1400.7L574.4 1400.9L575.4 1400.8L576.4 1399.9L577.4 1398.9L578.4 1398.7L579.4 1398.9L580.4 1400L581.4 1401.8L582.4 1403.7L583.4 1405L584.4 1405.4L585.4 1405.8L586.4 1404.9L587.4 1404.1L588.4 1403.7L589.4 1404.4L590.4 1405.9L591.4 1408L592.4 1409.9L593.4 1410.7L594.4 1411.2L595.4 1410.5L596.4 1409.3L597.4 1408L598.4 1406.7L599.4 1405.5L600.4 1406.3L601.4 1407.2L602.4 1407.9L603.4 1406.1L604.4 1403.3L605.4 1403.2L606.4 1404.9L607.4 1406.7L608.4 1408.4L609.4 1412.6L610.4 1415.1L611.4 1415.3L612.4 1414.3L613.4 1412.8L614.4 1412L615.4 1412.1L616.4 1413.5L617.4 1414.9L618.4 1416.1L619.4 1416L620.4 1413.5L621.4 1410.8L622.4 1410.2L623.4 1411.2L624.4 1414.9L625.4 1415L626.4 1414.7L627.4 1412.1L628.4 1409.5L629.4 1407.2L630.4 1406.9L631.4 1406.9L632.4 1407.5L633.4 1408L634.4 1408.2L635.4 1408.5L636.4 1408.5L637.4 1408.5L638.4 1408.7L639.4 1408.9L640.4 1408.8L641.4 1408.7L642.4 1409L643.4 1411.2L644.4 1413.4L645.4 1414.3L646.4 1414.3L647.4 1413.2L648.4 1411.1L649.4 1410L650.4 1409.9L651.4 1412.3L652.4 1416.4L653.4 1417.1L654.4 1414.6L655.4 1412L656.4 1410.6L657.4 1411.4L658.4 1413.5L659.4 1415.2L660.4 1415.7L661.4 1414.3L662.4 1412.3L663.4 1412.6L664.4 1412.8L665.4 1414.8L666.4 1415.3L667.4 1414.8L668.4 1411.9L669.4 1409.1L670.4 1409.5L671.4 1411.3L672.4 1414.2L673.4 1415.3L674.4 1416L675.4 1415.4L676.4 1414.3L677.4 1413.3L678.4 1414.1L679.4 1416.2L680.4 1418.4L681.4 1420.1L682.4 1420.1L683.4 1416.6L684.4 1415.9L685.4 1417.2L686.4 1419L687.4 1420.8L688.4 1421.7L689.4 1421.1L690.4 1420.6L691.4 1421.5L692.4 1422L693.4 1422.2L694.4 1421.4L695.4 1421L696.4 1420.4L697.4 1419.4L698.4 1418.3L699.4 1417.7L700.4 1418.3L701.4 1419.1L702.4 1421L703.4 1424.7L704.4 1426.1L705.4 1427.2L706.4 1427.7L707.4 1428L708.4 1428.5L709.4 1429.8L710.4 1433.1L711.4 1435.7L712.4 1435.4L713.4 1434.1L714.4 1431L715.4 1427.3L716.4 1424.6L717.4 1422.8L718.4 1420.9L719.4 1419.7L720.4 1419.2L721.4 1418.6L722.4 1418.2L723.4 1417.8L724.4 1417.5L725.4 1417.2L726.4 1417.4L727.4 1420.2L728.4 1420.3L729.4 1419.1L730.4 1417.5L731.4 1415.8L732.4 1414.8L733.4 1415L734.4 1415.6L735.4 1415.5L736.4 1414.7L737.4 1414.1L738.4 1413.1L739.4 1412.2L740.4 1412.4L741.4 1413.5L742.4 1416.9L743.4 1418.8L744.4 1419.2L745.4 1419.6L746.4 1419.9L747.4 1421.5L748.4 1423.5L749.4 1425.5L750.4 1427.4L751.4 1428.2L752.4 1428.9L753.4 1427.5L754.4 1426L755.4 1426L756.4 1427.6L757.4 1429L758.4 1430.2L759.4 1429.4L760.4 1427.5L761.4 1424.2L762.4 1422.4L763.4 1421.2L764.4 1421.5L765.4 1423L766.4 1425.8L767.4 1428.6L768.4 1428.9L769.4 1426.4L770.4 1422.6L771.4 1420.9L772.4 1421.8L773.4 1423.5L774.4 1425.6L775.4 1425.7L776.4 1425.7L777.4 1424.1L778.4 1422.5L779.4 1421.3L780.4 1421.4L781.4 1421.8L782.4 1423.5L783.4 1425.4L784.4 1427.4L785.4 1428L786.4 1427.8L787.4 1426.4L788.4 1425.1L789.4 1424.9L790.4 1425.4L791.4 1426.1L792.4 1426.7L793.4 1427.4L794.4 1428.6L795.4 1429.9L796.4 1430.6L797.4 1429.8L798.4 1427.7L799.4 1426.7L800.4 1426.8L801.4 1427.7L802.4 1428.7L803.4 1428.9L804.4 1428.3L805.4 1427.1L806.4 1425.6L807.4 1424L808.4 1422.9L809.4 1422.9L810.4 1423.7L811.4 1424.5L812.4 1425.3L813.4 1425.7L814.4 1427.3L815.4 1427.2L816.4 1427.1L817.4 1427.5L818.4 1428.2L819.4 1427.7L820.4 1427.7L821.4 1427.4L822.4 1426.5L823.4 1425.7L824.4 1425.8L825.4 1427.2L826.4 1428.6L827.4 1431L828.4 1433.8L829.4 1436.7L830.4 1438.7L831.4 1440.4L832.4 1441.9L833.4 1443.3L834.4 1444.7L835.4 1445.7L836.4 1445.3L837.4 1444.1L838.4 1442.8L839.4 1442.6L840.4 1443.1L841.4 1443.3L842.4 1443L843.4 1442.2L844.4 1441.2L845.4 1444.2L846.4 1447L847.4 1446.1L848.4 1443.1L849.4 1439.7L850.4 1436.3L851.4 1435.2L852.4 1434.4L853.4 1434.5L854.4 1435L855.4 1435.5L856.4 1435.6L857.4 1435.1L858.4 1432.4L859.4 1430.7L860.4 1430.3L861.4 1432L862.4 1435.2L863.4 1435.5L864.4 1433.6L865.4 1428.5L866.4 1428.9L867.4 1431.7L868.4 1436.2L869.4 1438.8L870.4 1439.2L871.4 1437.2L872.4 1436.3L873.4 1437L874.4 1437.8L875.4 1437.9L876.4 1437.9L877.4 1437.8L878.4 1439.3L879.4 1441.1L880.4 1441.3L881.4 1441L882.4 1440.3L883.4 1439.9L884.4 1438.8L885.4 1437L886.4 1435.3L887.4 1434.2L888.4 1433.9L889.4 1432.4L890.4 1431.8L891.4 1429.3L892.4 1425.6L893.4 1419.9L894.4 1416.8L895.4 1415L896.4 1414.4L897.4 1417.5L898.4 1421.4L899.4 1424.1L900.4 1425.2L901.4 1427.7L902.4 1429.2L903.4 1430.8L904.4 1433.4L905.4 1432.2L906.4 1431.8L907.4 1431.3L908.4 1430.2L909.4 1427.6L910.4 1424.4L911.4 1422.1L912.4 1420L913.4 1419L914.4 1419.2L915.4 1422.8L916.4 1426.4L917.4 1428L918.4 1426.8L919.4 1423.4L920.4 1421.8L921.4 1422.2L922.4 1423.5L923.4 1424.3L924.4 1424.2L925.4 1427.4L926.4 1430.8L927.4 1433.7L928.4 1435.2L929.4 1434.1L930.4 1430.7L931.4 1427.3L932.4 1428.4L933.4 1431.4L934.4 1433.6L935.4 1433.2L936.4 1432.3L937.4 1431.9L938.4 1431.5L939.4 1432.2L940.4 1435.1L941.4 1438.2L942.4 1438.3L943.4 1436.4L944.4 1433.5L945.4 1430.6L946.4 1429.1L947.4 1428.1L948.4 1428.5L949.4 1429.5L950.4 1430.6L951.4 1430.6L952.4 1429.6L953.4 1427.4L954.4 1426.1L955.4 1427.4L956.4 1429.9L957.4 1432.4L958.4 1435.4L959.4 1438.4L960.4 1441.1L961.4 1442.7L962.4 1442.3L963.4 1441L964.4 1440.3L965.4 1439.8L966.4 1439.2L967.4 1438.5L968.4 1438.8L969.4 1439.3L970.4 1439.9L971.4 1439.5L972.4 1438.8L973.4 1436.2L974.4 1432.9L975.4 1429.3L976.4 1427.5L977.4 1428L978.4 1430.2L979.4 1432L980.4 1432.2L981.4 1430.7L982.4 1429.2L983.4 1428.3L984.4 1428.3L985.4 1428.8L986.4 1430.8L987.4 1432.9L988.4 1433.3L989.4 1433L990.4 1431.6L991.4 1430.1L992.4 1429.4L993.4 1429.6L994.4 1430.9L995.4 1432.3L996.4 1433.3L997.4 1432.8L998.4 1431.3L999.4 1429.3L1000.4 1427.4L1001.4 1426.2L1002.4 1424.5L1003.4 1424.3L1004.4 1425.1L1005.4 1423.8L1006.4 1418.9L1007.4 1413.3L1008.4 1411.4L1009.4 1412.9L1010.4 1416L1011.4 1419.8L1012.4 1422.8L1013.4 1424.9L1014.4 1424.9L1015.4 1421.7L1016.4 1420.9L1017.4 1423.2L1018.4 1428.8L1019.4 1434.2L1020.4 1436.7L1021.4 1438.1L1022.4 1438.3L1023.4 1438.6L1024.4 1440.2L1025.4 1442.7L1026.4 1445.8L1027.4 1448.8L1028.4 1449.2L1029.4 1448.5L1030.4 1445.7L1031.4 1443.4L1032.4 1443.4L1033.4 1444.5L1034.4 1445.9L1035.4 1445.9L1036.4 1445.6L1037.4 1442.5L1038.4 1439.4L1039.4 1439.1L1040.4 1438.6L1041.4 1440L1042.4 1441.5L1043.4 1442.2L1044.4 1441.5L1045.4 1438.8L1046.4 1436.7L1047.4 1436.7L1048.4 1437.1L1049.4 1437.4L1050.4 1437.6L1051.4 1438L1052.4 1438.8L1053.4 1441.9L1054.4 1444.5L1055.4 1444.8L1056.4 1444.7L1057.4 1442L1058.4 1439.9L1059.4 1440.1L1060.4 1440.9L1061.4 1442.6L1062.4 1444.3L1063.4 1445.1L1064.4 1445.8L1065.4 1447.5L1066.4 1449.5L1067.4 1450.9L1068.4 1451.1L1069.4 1451.3L1070.4 1451.5L1071.4 1451.8L1072.4 1450.4L1073.4 1451L1074.4 1451.7L1075.4 1450.5L1076.4 1447.5L1077.4 1444.5L1078.4 1442.5L1079.4 1442.1L1080.4 1442.1L1081.4 1442.3L1082.4 1442.1L1083.4 1442L1084.4 1444.2L1085.4 1445L1086.4 1443.6L1087.4 1440.3L1088.4 1438.9L1089.4 1437.6L1090.4 1438.5L1091.4 1438.7L1092.4 1436.4L1093.4 1432.7L1094.4 1430.2L1095.4 1428.6L1096.4 1428.9L1097.4 1431.4L1098.4 1433.9L1099.4 1434L1100.4 1434.4L1101.4 1435.4L1102.4 1436.4L1103.4 1437.7L1104.4 1439.1L1105.4 1439.4L1106.4 1439.6L1107.4 1440L1108.4 1441.2L1109.4 1443.4L1110.4 1446L1111.4 1447.2L1112.4 1447L1113.4 1446.8L1114.4 1446.6L1115.4 1446.4L1116.4 1443.9L1117.4 1440.2L1118.4 1437.6L1119.4 1436.1L1120.4 1436.8L1121.4 1438L1122.4 1438.8L1123.4 1438.5L1124.4 1441.6L1125.4 1446L1126.4 1449.4L1127.4 1451.7L1128.4 1450.1L1129.4 1447.6L1130.4 1445L1131.4 1444.6L1132.4 1445.2L1133.4 1446.2L1134.4 1448.5L1135.4 1450.3L1136.4 1451.5L1137.4 1450.8L1138.4 1450L1139.4 1449.9L1140.4 1451.5L1141.4 1453.7L1142.4 1455.8L1143.4 1456.2L1144.4 1456.4L1145.4 1454.3L1146.4 1451.8L1147.4 1450.8L1148.4 1452.3L1149.4 1454.5L1150.4 1456.2L1151.4 1456.6L1152.4 1456.1L1153.4 1452.8L1154.4 1449.6L1155.4 1448.7L1156.4 1449.4L1157.4 1451.2L1158.4 1453L1159.4 1453.9L1160.4 1453.6L1161.4 1451.7L1162.4 1450.9L1163.4 1450.5L1164.4 1451.5L1165.4 1452.8L1166.4 1454.5L1167.4 1455.8L1168.4 1457.3L1169.4 1459.8L1170.4 1460.3L1171.4 1460.8L1172.4 1459.4L1173.4 1458.1L1174.4 1456.7L1175.4 1455.6L1176.4 1455.8L1177.4 1455.2L1178.4 1454.5L1179.4 1453.9L1180.4 1453.2L1181.4 1452.5L1182.4 1451.9L1183.4 1450.1L1184.4 1447.8L1185.4 1445.6L1186.4 1445.6L1187.4 1446.9L1188.4 1450.6L1189.4 1454L1190.4 1455L1191.4 1456L1192.4 1454.4L1193.4 1453.6L1194.4 1453.4L1195.4 1455.2L1196.4 1456.4L1197.4 1456L1198.4 1453.1L1199.4 1451.2L1200.4 1451.5L1201.4 1452.3L1202.4 1454.7L1203.4 1456.8L1204.4 1455.4L1205.4 1452.9L1206.4 1449.6L1207.4 1446.4L1208.4 1444.7L1209.4 1444.1L1210.4 1444.4L1211.4 1447.9L1212.4 1451.9L1213.4 1454.8L1214.4 1456.3L1215.4 1457.1L1216.4 1457.1L1217.4 1456.2L1218.4 1454.4L1219.4 1453.4L1220.4 1453.9L1221.4 1454.6L1222.4 1455.1L1223.4 1454.4L1224.4 1450.8L1225.4 1448.4L1226.4 1447.7L1227.4 1447.4L1228.4 1447.8L1229.4 1448.1L1230.4 1448.4L1231.4 1449.6L1232.4 1451.6L1233.4 1453.7L1234.4 1453.8L1235.4 1452.2L1236.4 1449.9L1237.4 1448.8L1238.4 1447.8L1239.4 1446.6L1240.4 1445.3L1241.4 1444.2L1242.4 1445.5L1243.4 1449.1L1244.4 1449.7L1245.4 1450L1246.4 1448.5L1247.4 1446.8L1248.4 1447.1L1249.4 1447.5L1250.4 1448L1251.4 1448.4L1252.4 1448.8L1253.4 1449.3L1254.4 1451.2L1255.4 1453.5L1256.4 1455.7L1257.4 1457.3L1258.4 1457.9L1259.4 1454.1L1260.4 1450.1L1261.4 1449.1L1262.4 1448.9L1263.4 1452.8L1264.4 1456L1265.4 1455.7L1266.4 1456.1L1267.4 1457L1268.4 1455.1L1269.4 1450.3L1270.4 1449.3L1271.4 1449.4L1272.4 1451.9L1273.4 1452.6L1274.4 1452.1L1275.4 1448.6L1276.4 1445.1L1277.4 1443.6L1278.4 1442.1L1279.4 1442.1L1280.4 1442.3L1281.4 1443.9L1282.4 1444.8L1283.4 1444.8L1284.4 1445.4L1285.4 1448.2L1286.4 1451.1L1287.4 1453.1L1288.4 1454.9L1289.4 1453.8L1290.4 1452.8L1291.4 1448.8L1292.4 1444.8L1293.4 1445.2L1294.4 1446L1295.4 1450.4L1296.4 1452.9L1297.4 1452.3L1298.4 1450L1299.4 1447.8L1300.4 1447.5L1301.4 1449.6L1302.4 1452L1303.4 1454.4L1304.4 1456L1305.4 1456.2L1306.4 1455.1L1307.4 1452.1L1308.4 1450.9L1309.4 1449.8L1310.4 1448.1L1311.4 1446.4L1312.4 1445L1313.4 1445.5L1314.4 1448.6L1315.4 1451.7L1316.4 1452.8L1317.4 1451.1L1318.4 1447.8L1319.4 1445.8L1320.4 1444.9L1321.4 1443.9L1322.4 1442.8L1323.4 1442.3L1324.4 1443.1L1325.4 1444.3L1326.4 1445.3L1327.4 1446.1L1328.4 1447.8L1329.4 1449.5L1330.4 1449.9L1331.4 1451.4L1332.4 1452.2L1333.4 1452.4L1334.4 1450.7L1335.4 1448.4L1336.4 1446.7L1337.4 1447.4L1338.4 1449L1339.4 1452.6L1340.4 1456L1341.4 1456.7L1342.4 1456.6L1343.4 1453.6L1344.4 1450.6L1345.4 1449L1346.4 1448.6L1347.4 1448.4L1348.4 1448L1349.4 1447.8L1350.4 1449.1L1351.4 1450.6L1352.4 1452.7L1353.4 1453.5L1354.4 1451.8L1355.4 1449.6L1356.4 1449.5L1357.4 1450.5L1358.4 1452.7L1359.4 1454.2L1360.4 1454.9L1361.4 1454.6L1362.4 1455.1L1363.4 1456.5L1364.4 1457.9L1365.4 1459.3L1366.4 1460L1367.4 1459.5L1368.4 1459.4L1369.4 1459.7L1370.4 1461.1L1371.4 1462.7L1372.4 1464.3L1373.4 1465.8L1374.4 1465.3L1375.4 1463.5L1376.4 1463L1377.4 1462.7L1378.4 1463.1L1379.4 1462.9L1380.4 1462.7L1381.4 1462.7L1382.4 1463.5L1383.4 1464.7L1384.4 1465.7L1385.4 1465.1L1386.4 1460.6L1387.4 1457.9L1388.4 1456.2L1389.4 1455.7L1390.4 1456L1391.4 1456.4L1392.4 1457.1L1393.4 1456.6L1394.4 1453.1L1395.4 1449.7L1396.4 1449.4L1397.4 1449.1L1398.4 1450.3L1399.4 1451.4L1400.4 1452.3L1401.4 1451.3L1402.4 1448.7L1403.4 1447.4L1404.4 1449L1405.4 1451.2L1406.4 1453.5L1407.4 1455.1L1408.4 1455.3L1409.4 1453.5L1410.4 1451.6L1411.4 1451.4L1412.4 1455.6L1413.4 1459.5L1414.4 1459.1L1415.4 1458.1L1416.4 1455.1L1417.4 1452L1418.4 1452.1L1419.4 1453.5L1420.4 1456.2L1421.4 1458.8L1422.4 1461L1423.4 1462L1424.4 1461.4L1425.4 1460.1L1426.4 1458.7L1427.4 1457.7L1428.4 1458.3L1429.4 1460.7L1430.4 1461.4L1431.4 1460.8L1432.4 1459.1L1433.4 1459.6L1434.4 1461.2L1435.4 1465.5L1436.4 1466.9L1437.4 1466.4L1438.4 1465.6L1439.4 1465.1L1440.4 1464.1L1441.4 1462.2L1442.4 1461.8L1443.4 1462.4L1444.4 1463.9L1445.4 1465.5L1446.4 1467.1L1447.4 1468.1L1448.4 1465.4L1449.4 1462.6L1450.4 1459.1L1451.4 1456.1L1452.4 1453.9L1453.4 1450.5L1454.4 1450.4L1455.4 1450.7L1456.4 1455.7L1457.4 1458L1458.4 1457.4L1459.4 1456.6L1460.4 1457.8L1461.4 1460.7L1462.4 1464.9L1463.4 1466.5L1464.4 1468L1465.4 1469.3L1466.4 1469.9L1467.4 1470.3L1468.4 1469.8L1469.4 1464.8L1470.4 1462.7L1471.4 1462.6L1472.4 1464.3L1473.4 1466.3L1474.4 1468.3L1475.4 1468.9L1476.4 1468L1477.4 1466.8L1478.4 1465.7L1479.4 1465.2L1480.4 1463.9L1481.4 1459.9L1482.4 1457.5L1483.4 1455.4L1484.4 1451.3L1485.4 1446.9L1486.4 1442.8L1487.4 1442.1L1488.4 1443.7L1489.4 1445.4L1490.4 1445.5L1491.4 1447.5L1492.4 1449.8L1493.4 1450.4L1494.4 1450.6L1495.4 1448.7L1496.4 1446.1L1497.4 1445.9L1498.4 1448.4L1499.4 1451.6L1500.4 1454.4L1501.4 1454.3L1502.4 1454.1L1503.4 1456.6L1504.4 1458.5L1505.4 1459.5L1506.4 1460.5L1507.4 1461.3L1508.4 1461L1509.4 1460.1L1510.4 1457.7L1511.4 1457.2L1512.4 1458.2L1513.4 1462L1514.4 1464.1L1515.4 1464.2L1516.4 1461.8L1517.4 1459.1L1518.4 1458.1L1519.4 1457.4L1520.4 1458.4L1521.4 1459.5L1522.4 1459.6L1523.4 1459.3L1524.4 1457.6L1525.4 1457.5L1526.4 1458.7L1527.4 1461.3L1528.4 1463.4L1529.4 1465.2L1530.4 1465.2L1531.4 1463.3L1532.4 1460.9L1533.4 1458.8L1534.4 1458.6L1535.4 1458L1536.4 1456.8L1537.4 1456.3L1538.4 1456.1L1539.4 1458.9L1540.4 1462.3L1541.4 1463.2L1542.4 1463.7L1543.4 1462.6L1544.4 1461.2L1545.4 1460.5L1546.4 1461.3L1547.4 1462.4L1548.4 1464.4L1549.4 1466.4L1550.4 1467.6L1551.4 1468.4L1552.4 1468L1553.4 1467.5L1554.4 1467.5L1555.4 1468.2L1556.4 1470L1557.4 1472L1558.4 1471.1L1559.4 1469.1L1560.4 1465.4L1561.4 1461.4L1562.4 1459.5L1563.4 1459.4L1564.4 1460.7L1565.4 1462.1L1566.4 1462.9L1567.4 1462.5L1568.4 1460.4L1569.4 1456.4L1570.4 1454.8L1571.4 1455.6L1572.4 1457.1L1573.4 1458.5L1574.4 1458.7L1575.4 1458.1L1576.4 1457.8L1577.4 1457.6L1578.4 1457.2L1579.4 1456.5L1580.4 1454L1581.4 1450.4L1582.4 1446.8L1583.4 1444.8L1584.4 1443.7L1585.4 1442.1L1586.4 1440.8L1587.4 1442.1L1588.4 1444.2L1589.4 1447L1590.4 1449.3L1591.4 1451.5L1592.4 1451.3L1593.4 1451.3L1594.4 1451.6L1595.4 1451.6L1596.4 1452L1597.4 1452.5L1598.4 1452.9L1599.4 1453.1L1600.4 1452.1L1601.4 1450.2L1602.4 1448.6L1603.4 1448.2L1604.4 1449.2L1605.4 1450.3L1606.4 1450.9L1607.4 1452.8L1608.4 1457.4L1609.4 1458.9L1610.4 1459.3L1611.4 1459L1612.4 1458.6L1613.4 1458.6L1614.4 1459.6L1615.4 1459.3L1616.4 1457.7L1617.4 1456.7L1618.4 1457.7L1619.4 1458.7L1620.4 1461.1L1621.4 1461.8L1622.4 1460.7L1623.4 1456.7L1624.4 1452.7L1625.4 1450.7L1626.4 1452.6L1627.4 1457.7L1628.4 1462.8L1629.4 1464.3L1630.4 1464.3L1631.4 1462.9L1632.4 1460.3L1633.4 1459.3L1634.4 1459.3L1635.4 1459.3L1636.4 1459L1637.4 1460.9L1638.4 1462.9L1639.4 1464.9L1640.4 1465.1L1641.4 1464.7L1642.4 1461.2L1643.4 1456.2L1644.4 1455.5L1645.4 1457L1646.4 1458.5L1647.4 1459.6L1648.4 1459.1L1649.4 1459.1L1650.4 1459.4L1651.4 1459.9L1652.4 1460.4L1653.4 1459.3L1654.4 1458L1655.4 1456L1656.4 1455L1657.4 1455.7L1658.4 1457.9L1659.4 1459.5L1660.4 1460.5L1661.4 1461.7L1662.4 1462.8L1663.4 1463.4L1664.4 1462.7L1665.4 1462.8L1666.4 1463.5L1667.4 1465.9L1668.4 1470.5L1669.4 1474.4L1670.4 1476.4L1671.4 1476.7L1672.4 1476.6L1673.4 1476.4L1674.4 1476.1L1675.4 1475.1L1676.4 1471.5L1677.4 1470.1L1678.4 1469.9L1679.4 1470.9L1680.4 1471.9L1681.4 1472.8L1682.4 1472.6L1683.4 1471.9L1684.4 1470.6L1685.4 1469.2L1686.4 1468.6L1687.4 1468.3L1688.4 1469L1689.4 1468.9L1690.4 1467.6L1691.4 1466.2L1692.4 1463L1693.4 1460.5L1694.4 1461.8L1695.4 1462.9L1696.4 1463.9L1697.4 1465.1L1698.4 1466.5L1699.4 1467.1L1700.4 1467.7L1701.4 1468.3L1702.4 1469L1703.4 1469.5L1704.4 1470L1705.4 1470.1L1706.4 1471.2L1707.4 1474.7L1708.4 1476.9L1709.4 1477L1710.4 1476.4L1711.4 1474.1L1712.4 1471.8L1713.4 1470.3L1714.4 1470.1L1715.4 1474L1716.4 1478.4L1717.4 1479.7L1718.4 1480.1L1719.4 1480.4L1720.4 1480.4L1721.4 1480.4L1722.4 1481.2L1723.4 1483L1724.4 1484.8L1725.4 1484.9L1726.4 1483.7L1727.4 1477.4L1728.4 1471.1L1729.4 1465.6L1730.4 1460.8L1731.4 1459.4L1732.4 1462.1L1733.4 1461.4L1734.4 1459.1L1735.4 1457.4L1736.4 1457.8L1737.4 1459.1L1738.4 1461.9L1739.4 1467.5L1740.4 1473.1L1741.4 1476.9L1742.4 1476.9L1743.4 1475.6L1744.4 1474.2L1745.4 1472.9L1746.4 1473.2L1747.4 1474.3L1748.4 1476.1L1749.4 1477.5L1750.4 1478.7L1751.4 1478.3L1752.4 1477.6L1753.4 1476.9L1754.4 1476.4L1755.4 1476.2L1756.4 1476L1757.4 1475.9L1758.4 1475.4L1759.4 1473.3L1760.4 1469.1L1761.4 1468.7L1762.4 1468.3L1763.4 1467.9L1764.4 1467.5L1765.4 1467.2L1766.4 1467.8L1767.4 1471.8L1768.4 1474.2L1769.4 1474.4L1770.4 1474.1L1771.4 1473.9L1772.4 1473.6L1773.4 1474.4L1774.4 1476.4L1775.4 1476.3L1776.4 1476.4L1777.4 1477.1L1778.4 1477.7L1779.4 1477.9L1780.4 1477.2L1781.4 1475.1L1782.4 1472.9L1783.4 1471.6L1784.4 1469.9L1785.4 1468.7L1786.4 1467.9L1787.4 1466.2L1788.4 1463.7L1789.4 1462.2L1790.4 1461.4L1791.4 1460.6L1792.4 1460.7L1793.4 1461.1L1794.4 1461.9L1795.4 1462.6L1796.4 1463.1L1797.4 1463.6L1798.4 1464.9L1799.4 1466.1L1800.4 1465.4L1801.4 1463.4L1802.4 1461.4L1803.4 1460L1804.4 1459.5L1805.4 1457.5L1806.4 1454L1807.4 1452.4L1808.4 1453L1809.4 1458.7L1810.4 1461.9L1811.4 1462.6L1812.4 1463.6L1813.4 1463.9L1814.4 1464.2L1815.4 1465.1L1816.4 1466.4L1817.4 1467.5L1818.4 1467.7L1819.4 1468L1820.4 1467.7L1821.4 1467L1822.4 1466.4L1823.4 1466.8L1824.4 1466.4L1825.4 1466.6L1826.4 1465.3L1827.4 1464L1828.4 1462.6L1829.4 1461.4L1830.4 1461.4L1831.4 1461.4L1832.4 1460.7L1833.4 1458.4L1834.4 1456.6L1835.4 1456.5L1836.4 1457.8L1837.4 1460.4L1838.4 1460.3L1839.4 1460.1L1840.4 1459.9L1841.4 1459.7L1842.4 1459.9L1843.4 1460.5L1844.4 1461.1L1845.4 1461.4L1846.4 1461.7L1847.4 1461L1848.4 1460.3L1849.4 1460.9L1850.4 1462.4L1851.4 1463.4L1852.4 1463.7L1853.4 1464.2L1854.4 1466.4L1855.4 1471.6L1856.4 1472.8L1857.4 1472.9L1858.4 1470.4L1859.4 1467.5L1860.4 1464.6L1861.4 1462.2L1862.4 1460.9L1863.4 1461.7L1864.4 1463.1L1865.4 1463.4L1866.4 1462.9L1867.4 1461.3L1868.4 1458.7L1869.4 1458.2L1870.4 1459.8L1871.4 1463.5L1872.4 1465.7L1873.4 1465.9L1874.4 1463.3L1875.4 1460.7L1876.4 1458.5L1877.4 1458.9L1878.4 1462.5L1879.4 1466.2L1880.4 1469.4L1881.4 1470.1L1882.4 1470.6L1883.4 1469.4L1884.4 1467.5L1885.4 1465.6L1886.4 1464.8L1887.4 1465.4L1888.4 1466.1L1889.4 1466.1L1890.4 1465.2L1891.4 1462.6L1892.4 1460.1L1893.4 1459.2L1894.4 1460.6L1895.4 1463L1896.4 1465.4L1897.4 1465.9L1898.4 1465.3L1899.4 1464.1L1900.4 1462.8L1901.4 1462.5L1902.4 1462.7L1903.4 1464.9L1904.4 1467.6L1905.4 1468L1906.4 1466.4L1907.4 1464.9L1908.4 1463.4L1909.4 1463.3L1910.4 1463.7L1911.4 1468.4L1912.4 1470.3L1913.4 1470.5L1914.4 1469.3L1915.4 1468L1916.4 1466.7L1917.4 1466.4L1918.4 1466.6L1919.4 1467.5L1920.4 1468.7L1921.4 1469.9L1922.4 1470.4L1923.4 1468.3L1924.4 1465.3L1925.4 1464.6L1926.4 1465.1L1927.4 1467.7L1928.4 1470.3L1929.4 1471.9L1930.4 1472.1L1931.4 1472.6L1932.4 1473.1L1933.4 1473.3L1934.4 1471.7L1935.4 1470L1936.4 1469L1937.4 1469.2L1938.4 1470.8L1939.4 1474.1L1940.4 1474.1L1941.4 1471.4L1942.4 1468.5L1943.4 1466.4L1944.4 1465L1945.4 1462.9L1946.4 1460.9L1947.4 1458.8L1948.4 1458L1949.4 1458.5L1950.4 1459L1951.4 1459.4L1952.4 1460.9L1953.4 1463.4L1954.4 1468.6L1955.4 1473.8L1956.4 1474.9L1957.4 1473.5L1958.4 1471.8L1959.4 1470L1960.4 1466.8L1961.4 1462.8L1962.4 1459.9L1963.4 1458.5L1964.4 1459.4L1965.4 1460.5L1966.4 1459.9L1967.4 1459.4L1968.4 1459.3L1969.4 1459.7L1970.4 1459.1L1971.4 1456.9L1972.4 1453.3L1973.4 1451.2L1974.4 1451.7L1975.4 1453.9L1976.4 1457.3L1977.4 1461.1L1978.4 1463.1L1979.4 1464.5L1980.4 1462.4L1981.4 1461.4L1982.4 1462.2L1983.4 1463.6L1984.4 1464.5L1985.4 1464.2L1986.4 1462.9L1987.4 1461.6L1988.4 1460.2L1989.4 1460.1L1990.4 1461.9L1991.4 1465L1992.4 1468.3L1993.4 1471.6L1994.4 1473L1995.4 1473.7L1996.4 1473.3L1997.4 1472.6L1998.4 1472.3L1999.4 1472.9L2000.4 1474.6L2001.4 1477.2L2002.4 1479.8L2003.4 1481L2004.4 1481.9L2005.4 1482.8L2006.4 1480.9L2007.4 1478.9L2008.4 1474.7L2009.4 1471.4L2010.4 1470.8L2011.4 1471.3L2012.4 1473.3L2013.4 1474.7L2014.4 1473.7L2015.4 1471L2016.4 1468.4L2017.4 1466.3L2018.4 1465.5L2019.4 1466.2L2020.4 1467.1L2021.4 1467.1L2022.4 1468.3L2023.4 1467.7L2024.4 1467L2025.4 1468.1L2026.4 1469.6L2027.4 1472.7L2028.4 1475.8L2029.4 1477.9L2030.4 1476.9L2031.4 1475.8L2032.4 1474.8L2033.4 1474L2034.4 1474.2L2035.4 1474.4L2036.4 1473.5L2037.4 1471.2L2038.4 1469L2039.4 1468.2L2040.4 1468.7L2041.4 1470L2042.4 1471.3L2043.4 1471.4L2044.4 1470.8L2045.4 1469.1L2046.4 1468.5L2047.4 1469.1L2048.4 1470.1L2049.4 1470.9L2050.4 1469.6L2051.4 1465.9L2052.4 1461.1L2053.4 1457.4L2054.4 1456.1L2055.4 1455.7L2056.4 1456L2057.4 1455.5L2058.4 1455L2059.4 1456.4L2060.4 1458.7L2061.4 1460.9L2062.4 1461.2L2063.4 1458.3L2064.4 1455.4L2065.4 1456.3L2066.4 1458.4L2067.4 1463L2068.4 1466.8L2069.4 1468.1L2070.4 1468L2071.4 1466.6L2072.4 1464.7L2073.4 1463.7L2074.4 1463.9L2075.4 1464.8L2076.4 1466L2077.4 1466.7L2078.4 1465.1L2079.4 1462.8L2080.4 1461.7L2081.4 1463.5L2082.4 1466.4L2083.4 1469.3L2084.4 1470.5L2085.4 1470.2L2086.4 1469.9L2087.4 1469.6L2088.4 1470.1L2089.4 1471.2L2090.4 1474.7L2091.4 1476.7L2092.4 1475.8L2093.4 1474.5L2094.4 1470.8L2095.4 1466.9L2096.4 1464.8L2097.4 1464.1L2098.4 1465L2099.4 1466.6L2100.4 1467.9L2101.4 1468.2L2102.4 1468.5L2103.4 1466.6L2104.4 1464.7L2105.4 1464L2106.4 1464.7L2107.4 1467.1L2108.4 1469.9L2109.4 1472.8L2110.4 1473.6L2111.4 1474L2112.4 1472.3L2113.4 1469.1L2114.4 1467L2115.4 1467.7L2116.4 1468.9L2117.4 1467.8L2118.4 1464.4L2119.4 1459.6L2120.4 1456.4L2121.4 1456.2L2122.4 1456.4L2123.4 1456.8L2124.4 1456L2125.4 1452.1L2126.4 1451.5L2127.4 1453.6L2128.4 1455.9L2129.4 1457.4L2130.4 1460.7L2131.4 1464.1L2132.4 1465.7L2133.4 1465.3L2134.4 1465.4L2135.4 1465.6L2136.4 1465.5L2137.4 1465.9L2138.4 1465.3L2139.4 1464.7L2140.4 1465.1L2141.4 1464.3L2142.4 1463.4L2143.4 1463.6L2144.4 1464.4L2145.4 1465.8L2146.4 1467.2L2147.4 1468.2L2148.4 1468.7L2149.4 1468L2150.4 1466.7L2151.4 1466L2152.4 1466.5L2153.4 1468.7L2154.4 1471.1L2155.4 1472.5L2156.4 1473.3L2157.4 1474.4L2158.4 1475L2159.4 1473.9L2160.4 1471.8L2161.4 1468.7L2162.4 1465.7L2163.4 1463.1L2164.4 1461.7L2165.4 1461L2166.4 1461.4L2167.4 1460.5L2168.4 1459.2L2169.4 1457.4L2170.4 1455.6L2171.4 1453.8L2172.4 1453L2173.4 1454.2L2174.4 1455.9L2175.4 1456.9L2176.4 1457L2177.4 1455.3L2178.4 1453.5L2179.4 1451.9L2180.4 1452.4L2181.4 1455.9L2182.4 1460.1L2183.4 1461.5L2184.4 1459.1L2185.4 1457.6L2186.4 1458.7L2187.4 1460.1L2188.4 1461.2L2189.4 1460.7L2190.4 1460.6L2191.4 1461.1L2192.4 1461.6L2193.4 1461.1L2194.4 1461.3L2195.4 1462.9L2196.4 1465.6L2197.4 1471L2198.4 1475.8L2199.4 1478L2200.4 1478.4L2201.4 1476.6L2202.4 1474.3L2203.4 1472.1L2204.4 1472.4L2205.4 1473.4L2206.4 1477.1L2207.4 1479.4L2208.4 1479.3L2209.4 1478.1L2210.4 1476.5L2211.4 1475.1L2212.4 1475.1L2213.4 1477.9L2214.4 1480.6L2215.4 1481.8L2216.4 1480.9L2217.4 1479.2L2218.4 1477.6L2219.4 1476.6L2220.4 1477.1L2221.4 1478.5L2222.4 1480.7L2223.4 1481.5L2224.4 1480.4L2225.4 1478.4L2226.4 1476.4L2227.4 1474.6L2228.4 1474.4L2229.4 1475.2L2230.4 1476.4L2231.4 1477.6L2232.4 1477.8L2233.4 1475.9L2234.4 1472.9L2235.4 1469.9L2236.4 1467.1L2237.4 1465.1L2238.4 1464.2L2239.4 1463.7L2240.4 1463.2L2241.4 1462.6L2242.4 1463.6L2243.4 1465.5L2244.4 1467.8L2245.4 1470.1L2246.4 1466.2L2247.4 1461.5L2248.4 1455.1L2249.4 1451.9L2250.4 1450.2L2251.4 1449.1L2252.4 1450.5L2253.4 1454.7L2254.4 1456.3L2255.4 1454.4L2256.4 1451.7L2257.4 1450.7L2258.4 1453.2L2259.4 1456.8L2260.4 1461.1L2261.4 1465.5L2262.4 1467.2L2263.4 1467.9L2264.4 1467.1L2265.4 1466.2L2266.4 1465.3L2267.4 1466.2L2268.4 1468.5L2269.4 1471.4L2270.4 1472.1L2271.4 1473L2272.4 1474.1L2273.4 1475.1L2274.4 1475.7L2275.4 1476L2276.4 1476.5L2277.4 1476.9L2278.4 1477.2L2279.4 1475.7L2280.4 1472.4L2281.4 1471.6L2282.4 1472.3L2283.4 1473.4L2284.4 1474.1L2285.4 1473.6L2286.4 1472.2L2287.4 1470.9L2288.4 1469.5L2289.4 1468.3L2290.4 1467.3L2291.4 1465.9L2292.4 1464.6L2293.4 1464.2L2294.4 1464.1L2295.4 1462.6L2296.4 1460.4L2297.4 1458.7L2298.4 1457.7L2299.4 1456.9L2300.4 1457.4L2301.4 1459.2L2302.4 1460.7L2303.4 1463.4L2304.4 1469.7L2305.4 1474.5L2306.4 1477.6L2307.4 1478.3L2308.4 1477.6L2309.4 1478L2310.4 1479.7L2311.4 1481.4L2312.4 1482.3L2313 1480.8L2313 1486.2L2312.4 1489.3L2311.4 1489.9L2310.4 1489.5L2309.4 1489L2308.4 1489.5L2307.4 1490.8L2306.4 1491.8L2305.4 1492L2304.4 1490.1L2303.4 1486.8L2302.4 1485.7L2301.4 1485L2300.4 1483L2299.4 1479.9L2298.4 1478.4L2297.4 1477.7L2296.4 1478.2L2295.4 1479.6L2294.4 1481.9L2293.4 1483.1L2292.4 1484.2L2291.4 1485.8L2290.4 1486.9L2289.4 1487.8L2288.4 1488.7L2287.4 1490.5L2286.4 1491.3L2285.4 1491.4L2284.4 1490.4L2283.4 1488.2L2282.4 1485.7L2281.4 1484L2280.4 1483.9L2279.4 1486.6L2278.4 1488.7L2277.4 1489.5L2276.4 1489.2L2275.4 1488.6L2274.4 1488.2L2273.4 1487.9L2272.4 1488.1L2271.4 1488.8L2270.4 1489.5L2269.4 1489.9L2268.4 1487.3L2267.4 1485.2L2266.4 1484.4L2265.4 1484.8L2264.4 1485.2L2263.4 1485.5L2262.4 1484L2261.4 1481.8L2260.4 1477.8L2259.4 1473.6L2258.4 1470.9L2257.4 1469.3L2256.4 1471.1L2255.4 1474.1L2254.4 1476.6L2253.4 1476.6L2252.4 1474.5L2251.4 1473.4L2250.4 1477.7L2249.4 1482.4L2248.4 1488L2247.4 1493.1L2246.4 1492.1L2245.4 1491.8L2244.4 1490.2L2243.4 1488.5L2242.4 1490.2L2241.4 1492.4L2240.4 1494.5L2239.4 1496.3L2238.4 1497.8L2237.4 1498.8L2236.4 1499.1L2235.4 1497.7L2234.4 1497L2233.4 1497.6L2232.4 1498.7L2231.4 1499.3L2230.4 1498.2L2229.4 1496.6L2228.4 1494L2227.4 1491L2226.4 1492.2L2225.4 1494.4L2224.4 1497.4L2223.4 1499L2222.4 1498.4L2221.4 1496.7L2220.4 1495.5L2219.4 1495L2218.4 1495.6L2217.4 1496.7L2216.4 1497.6L2215.4 1496.8L2214.4 1494.8L2213.4 1492.4L2212.4 1490L2211.4 1489.5L2210.4 1490.2L2209.4 1491.3L2208.4 1492.9L2207.4 1494L2206.4 1492.9L2205.4 1490.4L2204.4 1488.5L2203.4 1487L2202.4 1488.5L2201.4 1490.1L2200.4 1491.5L2199.4 1491.1L2198.4 1489.3L2197.4 1487.1L2196.4 1485L2195.4 1484.5L2194.4 1484.2L2193.4 1483.5L2192.4 1481.5L2191.4 1480.2L2190.4 1481.2L2189.4 1482.7L2188.4 1484.2L2187.4 1484.5L2186.4 1484.9L2185.4 1484.1L2184.4 1483.9L2183.4 1483.9L2182.4 1480.5L2181.4 1476.1L2180.4 1472.8L2179.4 1472L2178.4 1472L2177.4 1472.5L2176.4 1473.6L2175.4 1474L2174.4 1475L2173.4 1474.5L2172.4 1473.6L2171.4 1474.1L2170.4 1475.2L2169.4 1477.1L2168.4 1479.4L2167.4 1481L2166.4 1482.2L2165.4 1482.5L2164.4 1483.3L2163.4 1484.1L2162.4 1484.7L2161.4 1485.4L2160.4 1486.6L2159.4 1488L2158.4 1489.6L2157.4 1490.5L2156.4 1490.8L2155.4 1490.6L2154.4 1489L2153.4 1486.4L2152.4 1484.5L2151.4 1484.8L2150.4 1486.1L2149.4 1487.7L2148.4 1489L2147.4 1490.6L2146.4 1491.4L2145.4 1489.7L2144.4 1487.3L2143.4 1486.4L2142.4 1486.5L2141.4 1487.8L2140.4 1489.1L2139.4 1489.6L2138.4 1490.3L2137.4 1491L2136.4 1491L2135.4 1489.5L2134.4 1487.4L2133.4 1484.8L2132.4 1482.6L2131.4 1480.8L2130.4 1478.1L2129.4 1476L2128.4 1475.9L2127.4 1475.4L2126.4 1474.3L2125.4 1474.5L2124.4 1475.1L2123.4 1476.2L2122.4 1477L2121.4 1476.5L2120.4 1476.3L2119.4 1478.4L2118.4 1482.6L2117.4 1487.5L2116.4 1489L2115.4 1487.6L2114.4 1486.6L2113.4 1487.7L2112.4 1490.6L2111.4 1491.3L2110.4 1492.3L2109.4 1493.2L2108.4 1490.7L2107.4 1487.4L2106.4 1483.9L2105.4 1483L2104.4 1483.7L2103.4 1486.1L2102.4 1488.4L2101.4 1489.1L2100.4 1489.5L2099.4 1490.2L2098.4 1490L2097.4 1490.3L2096.4 1491L2095.4 1491.5L2094.4 1494L2093.4 1496.5L2092.4 1496.9L2091.4 1496.5L2090.4 1494L2089.4 1490.1L2088.4 1488L2087.4 1486.8L2086.4 1486.5L2085.4 1486.9L2084.4 1487.8L2083.4 1488.6L2082.4 1487.5L2081.4 1485L2080.4 1483.4L2079.4 1485L2078.4 1488.1L2077.4 1491.1L2076.4 1492.2L2075.4 1491.8L2074.4 1491.2L2073.4 1490.9L2072.4 1490.8L2071.4 1490.6L2070.4 1489.8L2069.4 1489.3L2068.4 1488.9L2067.4 1486.8L2066.4 1483.5L2065.4 1481.5L2064.4 1479.6L2063.4 1480.2L2062.4 1481.1L2061.4 1479.7L2060.4 1477.9L2059.4 1476.7L2058.4 1476L2057.4 1476.4L2056.4 1476.7L2055.4 1475.9L2054.4 1474.9L2053.4 1474.5L2052.4 1476.9L2051.4 1480.9L2050.4 1484.9L2049.4 1486.5L2048.4 1485.8L2047.4 1484.3L2046.4 1483.2L2045.4 1483.2L2044.4 1484.5L2043.4 1485L2042.4 1484.6L2041.4 1483.5L2040.4 1482.9L2039.4 1484.3L2038.4 1486.6L2037.4 1489.5L2036.4 1492.7L2035.4 1494.4L2034.4 1494.4L2033.4 1494.5L2032.4 1493.3L2031.4 1492.5L2030.4 1492L2029.4 1491.4L2028.4 1490.1L2027.4 1487.9L2026.4 1487.1L2025.4 1487.8L2024.4 1487.3L2023.4 1488.1L2022.4 1488.8L2021.4 1487.9L2020.4 1488.2L2019.4 1487.6L2018.4 1486.9L2017.4 1487.2L2016.4 1488.6L2015.4 1490.8L2014.4 1493L2013.4 1494.9L2012.4 1495.4L2011.4 1494.1L2010.4 1493.7L2009.4 1492.8L2008.4 1492.1L2007.4 1493L2006.4 1492.7L2005.4 1493.6L2004.4 1493.5L2003.4 1492.1L2002.4 1491.6L2001.4 1490.5L2000.4 1490.2L1999.4 1490.6L1998.4 1491.4L1997.4 1492.9L1996.4 1494.8L1995.4 1496.6L1994.4 1496.4L1993.4 1495.4L1992.4 1491.8L1991.4 1488.1L1990.4 1484.6L1989.4 1481.1L1988.4 1477.9L1987.4 1476.5L1986.4 1478.6L1985.4 1481.5L1984.4 1483.6L1983.4 1484.9L1982.4 1484.6L1981.4 1484.1L1980.4 1483.4L1979.4 1484.3L1978.4 1485.7L1977.4 1486.1L1976.4 1482.8L1975.4 1479.5L1974.4 1476.3L1973.4 1474.2L1972.4 1473.9L1971.4 1474.8L1970.4 1476.4L1969.4 1477.2L1968.4 1478L1967.4 1478.3L1966.4 1478.6L1965.4 1479.2L1964.4 1481.1L1963.4 1482.6L1962.4 1484.7L1961.4 1486.8L1960.4 1487.3L1959.4 1488.2L1958.4 1489.4L1957.4 1490L1956.4 1489.4L1955.4 1488.2L1954.4 1485L1953.4 1481L1952.4 1479L1951.4 1478.8L1950.4 1480L1949.4 1481.3L1948.4 1482.4L1947.4 1483.5L1946.4 1485.3L1945.4 1486.7L1944.4 1486.5L1943.4 1485.9L1942.4 1486.1L1941.4 1487.6L1940.4 1489.6L1939.4 1490.2L1938.4 1488.6L1937.4 1488L1936.4 1488.1L1935.4 1488.6L1934.4 1489.1L1933.4 1489.7L1932.4 1489.4L1931.4 1489.2L1930.4 1489.9L1929.4 1490.9L1928.4 1489.9L1927.4 1487.4L1926.4 1484.6L1925.4 1483.8L1924.4 1484.5L1923.4 1487.1L1922.4 1489.1L1921.4 1489L1920.4 1488.3L1919.4 1487.6L1918.4 1487.9L1917.4 1488.7L1916.4 1489.7L1915.4 1490.9L1914.4 1490.3L1913.4 1490.5L1912.4 1490.5L1911.4 1489.2L1910.4 1485.8L1909.4 1485.6L1908.4 1485.8L1907.4 1487.3L1906.4 1488.9L1905.4 1490.3L1904.4 1490.3L1903.4 1490.1L1902.4 1489.6L1901.4 1489.5L1900.4 1488.1L1899.4 1488.5L1898.4 1488.9L1897.4 1488.6L1896.4 1487.5L1895.4 1485.7L1894.4 1484.6L1893.4 1485.3L1892.4 1487.2L1891.4 1489.8L1890.4 1492.9L1889.4 1494.8L1888.4 1495.6L1887.4 1494.3L1886.4 1492.4L1885.4 1490.3L1884.4 1490.6L1883.4 1491.2L1882.4 1491.9L1881.4 1491.7L1880.4 1491.3L1879.4 1489L1878.4 1486.8L1877.4 1485.1L1876.4 1485.5L1875.4 1486.9L1874.4 1486.5L1873.4 1487.4L1872.4 1487.7L1871.4 1487.6L1870.4 1486.5L1869.4 1486.7L1868.4 1487.3L1867.4 1489.5L1866.4 1489.3L1865.4 1488.1L1864.4 1488.1L1863.4 1487.1L1862.4 1484.8L1861.4 1485.7L1860.4 1487.4L1859.4 1490.5L1858.4 1493L1857.4 1494.8L1856.4 1494.8L1855.4 1494.3L1854.4 1489.9L1853.4 1487.8L1852.4 1487L1851.4 1486.5L1850.4 1486.5L1849.4 1485.5L1848.4 1484.4L1847.4 1484.1L1846.4 1484.3L1845.4 1483.5L1844.4 1483.3L1843.4 1483.2L1842.4 1482.5L1841.4 1481.5L1840.4 1480.9L1839.4 1480.5L1838.4 1480.6L1837.4 1480.8L1836.4 1479.6L1835.4 1479.4L1834.4 1480.2L1833.4 1482.2L1832.4 1484.2L1831.4 1484.8L1830.4 1484.8L1829.4 1485L1828.4 1486L1827.4 1486.9L1826.4 1487.6L1825.4 1488.5L1824.4 1488.3L1823.4 1489L1822.4 1489.9L1821.4 1490.4L1820.4 1490.1L1819.4 1487.8L1818.4 1485.6L1817.4 1484.7L1816.4 1484.1L1815.4 1483.8L1814.4 1483.9L1813.4 1483.9L1812.4 1483.3L1811.4 1482.3L1810.4 1482.6L1809.4 1481.1L1808.4 1477.8L1807.4 1477.8L1806.4 1478.5L1805.4 1480.6L1804.4 1482.2L1803.4 1482.5L1802.4 1481.8L1801.4 1482L1800.4 1482.7L1799.4 1483L1798.4 1482.8L1797.4 1482.5L1796.4 1482.4L1795.4 1482.4L1794.4 1482.1L1793.4 1481.9L1792.4 1482.1L1791.4 1482L1790.4 1482.4L1789.4 1483.5L1788.4 1484.8L1787.4 1486.3L1786.4 1487.7L1785.4 1487.5L1784.4 1487.6L1783.4 1488.1L1782.4 1489.4L1781.4 1491L1780.4 1492.2L1779.4 1492.6L1778.4 1492.3L1777.4 1491.7L1776.4 1491L1775.4 1492.8L1774.4 1494.2L1773.4 1493.2L1772.4 1493.1L1771.4 1494L1770.4 1495.3L1769.4 1496.1L1768.4 1495.5L1767.4 1493.3L1766.4 1489.7L1765.4 1488.2L1764.4 1487.2L1763.4 1485.6L1762.4 1485.4L1761.4 1485.7L1760.4 1487.3L1759.4 1491.6L1758.4 1493.3L1757.4 1493.8L1756.4 1494.1L1755.4 1494.6L1754.4 1496.1L1753.4 1498.4L1752.4 1501.2L1751.4 1502.4L1750.4 1502L1749.4 1498.9L1748.4 1496.1L1747.4 1494L1746.4 1493.1L1745.4 1493.5L1744.4 1494.5L1743.4 1494.3L1742.4 1493.5L1741.4 1492.2L1740.4 1490.4L1739.4 1489L1738.4 1487.7L1737.4 1487L1736.4 1485.7L1735.4 1485.1L1734.4 1486.4L1733.4 1489.1L1732.4 1490.6L1731.4 1489.5L1730.4 1489.2L1729.4 1490.3L1728.4 1492.5L1727.4 1495.5L1726.4 1497.7L1725.4 1498.7L1724.4 1499.8L1723.4 1498.9L1722.4 1497.7L1721.4 1497.3L1720.4 1497.5L1719.4 1498.7L1718.4 1500L1717.4 1500.1L1716.4 1499.1L1715.4 1495.8L1714.4 1492.8L1713.4 1490L1712.4 1488.2L1711.4 1489.1L1710.4 1490.3L1709.4 1491.6L1708.4 1492.3L1707.4 1491.1L1706.4 1488.3L1705.4 1486L1704.4 1484.4L1703.4 1483.9L1702.4 1484.8L1701.4 1485.8L1700.4 1485.9L1699.4 1484.7L1698.4 1482.7L1697.4 1482.1L1696.4 1481.9L1695.4 1481.7L1694.4 1481.6L1693.4 1481.8L1692.4 1483.1L1691.4 1485.3L1690.4 1485.8L1689.4 1486.1L1688.4 1486.1L1687.4 1485.9L1686.4 1486.4L1685.4 1486.6L1684.4 1487.3L1683.4 1487.9L1682.4 1488.2L1681.4 1488.8L1680.4 1487.4L1679.4 1486.4L1678.4 1486.5L1677.4 1488L1676.4 1490.3L1675.4 1493.3L1674.4 1493.7L1673.4 1492.8L1672.4 1491.5L1671.4 1490.3L1670.4 1489.8L1669.4 1488.9L1668.4 1487.6L1667.4 1485.3L1666.4 1483.7L1665.4 1483.3L1664.4 1483.6L1663.4 1484.1L1662.4 1483.6L1661.4 1482.4L1660.4 1480.1L1659.4 1477.3L1658.4 1475.6L1657.4 1473.8L1656.4 1473L1655.4 1472.6L1654.4 1472.7L1653.4 1472.8L1652.4 1473L1651.4 1472.9L1650.4 1473L1649.4 1474.6L1648.4 1475.4L1647.4 1475.4L1646.4 1474.5L1645.4 1473.6L1644.4 1472.6L1643.4 1472.5L1642.4 1474.4L1641.4 1477.3L1640.4 1478.6L1639.4 1479.8L1638.4 1479.2L1637.4 1477.8L1636.4 1476.4L1635.4 1476.7L1634.4 1476.9L1633.4 1478.3L1632.4 1480.1L1631.4 1481.3L1630.4 1480.5L1629.4 1481.4L1628.4 1481.9L1627.4 1480.7L1626.4 1479.6L1625.4 1480.6L1624.4 1482.5L1623.4 1485.2L1622.4 1487.6L1621.4 1487.5L1620.4 1485.6L1619.4 1482.3L1618.4 1481.3L1617.4 1481L1616.4 1482.3L1615.4 1484L1614.4 1484.3L1613.4 1482.8L1612.4 1481.2L1611.4 1480.3L1610.4 1480.5L1609.4 1480.8L1608.4 1480.5L1607.4 1477.9L1606.4 1476.8L1605.4 1476.1L1604.4 1474.6L1603.4 1473.3L1602.4 1473.3L1601.4 1474.7L1600.4 1476.4L1599.4 1477.8L1598.4 1478.3L1597.4 1478.4L1596.4 1478L1595.4 1477.7L1594.4 1477.5L1593.4 1476.9L1592.4 1475.7L1591.4 1474.2L1590.4 1470.4L1589.4 1466.6L1588.4 1464.6L1587.4 1463.6L1586.4 1464.9L1585.4 1466.6L1584.4 1468.1L1583.4 1469L1582.4 1470.4L1581.4 1472.8L1580.4 1475.1L1579.4 1476.2L1578.4 1476.5L1577.4 1477.4L1576.4 1478.8L1575.4 1480.1L1574.4 1481.7L1573.4 1482L1572.4 1481.2L1571.4 1480.3L1570.4 1479.9L1569.4 1481.2L1568.4 1483.9L1567.4 1484.1L1566.4 1483L1565.4 1482.5L1564.4 1481.5L1563.4 1482.1L1562.4 1484.6L1561.4 1487.7L1560.4 1490.6L1559.4 1493L1558.4 1491.9L1557.4 1490.8L1556.4 1489.8L1555.4 1489.6L1554.4 1489.1L1553.4 1488.6L1552.4 1487.2L1551.4 1485.7L1550.4 1484.6L1549.4 1484.7L1548.4 1484.7L1547.4 1483.2L1546.4 1482.4L1545.4 1481.8L1544.4 1482L1543.4 1482.2L1542.4 1482.1L1541.4 1481L1540.4 1480.4L1539.4 1477.8L1538.4 1475.4L1537.4 1475.3L1536.4 1476.2L1535.4 1477.5L1534.4 1478.4L1533.4 1479L1532.4 1481.5L1531.4 1486.2L1530.4 1490.7L1529.4 1493.1L1528.4 1492.6L1527.4 1490.5L1526.4 1487.8L1525.4 1486.2L1524.4 1485.6L1523.4 1486.3L1522.4 1485.9L1521.4 1484.7L1520.4 1482L1519.4 1479.3L1518.4 1478L1517.4 1477.4L1516.4 1478.7L1515.4 1480.4L1514.4 1480.8L1513.4 1479.8L1512.4 1477.6L1511.4 1478.2L1510.4 1479.7L1509.4 1481.8L1508.4 1481.9L1507.4 1480.1L1506.4 1477.4L1505.4 1475.6L1504.4 1473.4L1503.4 1472.3L1502.4 1471.7L1501.4 1473.2L1500.4 1474L1499.4 1471.9L1498.4 1468.8L1497.4 1467.1L1496.4 1468.1L1495.4 1471.1L1494.4 1472.8L1493.4 1471.7L1492.4 1470.6L1491.4 1469.8L1490.4 1470.1L1489.4 1471.9L1488.4 1473.3L1487.4 1473.7L1486.4 1474.5L1485.4 1476.3L1484.4 1477.3L1483.4 1478.2L1482.4 1479L1481.4 1481.4L1480.4 1484.6L1479.4 1485.7L1478.4 1485.9L1477.4 1486.7L1476.4 1487.8L1475.4 1489.1L1474.4 1489.1L1473.4 1487.6L1472.4 1485.2L1471.4 1482.5L1470.4 1481.4L1469.4 1482.4L1468.4 1486L1467.4 1486.3L1466.4 1485.5L1465.4 1484.4L1464.4 1483.8L1463.4 1483.5L1462.4 1483.1L1461.4 1480.1L1460.4 1478.2L1459.4 1476.9L1458.4 1477L1457.4 1476.8L1456.4 1475L1455.4 1471.4L1454.4 1473.6L1453.4 1476.6L1452.4 1481.9L1451.4 1485.2L1450.4 1486.8L1449.4 1487.8L1448.4 1487.4L1447.4 1486.7L1446.4 1486.6L1445.4 1487L1444.4 1486.5L1443.4 1485.9L1442.4 1486.2L1441.4 1487.5L1440.4 1488.4L1439.4 1487.5L1438.4 1486.1L1437.4 1485.5L1436.4 1485.5L1435.4 1484.8L1434.4 1483.1L1433.4 1483.6L1432.4 1483.4L1431.4 1484.7L1430.4 1484.7L1429.4 1483.8L1428.4 1481.2L1427.4 1480L1426.4 1479.5L1425.4 1478.7L1424.4 1478.4L1423.4 1478.1L1422.4 1478.7L1421.4 1478.6L1420.4 1478.2L1419.4 1477L1418.4 1476.3L1417.4 1475.6L1416.4 1475.7L1415.4 1475.8L1414.4 1475.8L1413.4 1476.6L1412.4 1475.1L1411.4 1472.1L1410.4 1472.5L1409.4 1474.2L1408.4 1475.6L1407.4 1475.4L1406.4 1474.1L1405.4 1471.9L1404.4 1469.2L1403.4 1467.2L1402.4 1467.6L1401.4 1469.5L1400.4 1470.2L1399.4 1468.8L1398.4 1467.5L1397.4 1466.5L1396.4 1467.6L1395.4 1468.6L1394.4 1471.2L1393.4 1472.8L1392.4 1472.1L1391.4 1471.9L1390.4 1473.3L1389.4 1474.7L1388.4 1476L1387.4 1477.3L1386.4 1479.1L1385.4 1482.2L1384.4 1483.4L1383.4 1483.7L1382.4 1483.5L1381.4 1482.9L1380.4 1483.4L1379.4 1484.9L1378.4 1487L1377.4 1488.1L1376.4 1488.2L1375.4 1488.5L1374.4 1488L1373.4 1485.9L1372.4 1483.9L1371.4 1482.6L1370.4 1481.1L1369.4 1479.7L1368.4 1479.1L1367.4 1478.9L1366.4 1479.2L1365.4 1479.9L1364.4 1479.6L1363.4 1478.7L1362.4 1478.2L1361.4 1478L1360.4 1478L1359.4 1476.7L1358.4 1474L1357.4 1471.7L1356.4 1471.6L1355.4 1472L1354.4 1473.9L1353.4 1475.5L1352.4 1474.9L1351.4 1472.3L1350.4 1468.5L1349.4 1466.8L1348.4 1467.5L1347.4 1469.5L1346.4 1471.1L1345.4 1471.6L1344.4 1472.9L1343.4 1474.3L1342.4 1475.6L1341.4 1476L1340.4 1476.4L1339.4 1474.8L1338.4 1473.5L1337.4 1473.8L1336.4 1474.4L1335.4 1476.5L1334.4 1478.2L1333.4 1479L1332.4 1477.6L1331.4 1475.8L1330.4 1474.3L1329.4 1473.9L1328.4 1473.9L1327.4 1474.1L1326.4 1473.2L1325.4 1471.2L1324.4 1469.7L1323.4 1469.3L1322.4 1469.8L1321.4 1470.4L1320.4 1471L1319.4 1470.9L1318.4 1471.4L1317.4 1473.2L1316.4 1473.7L1315.4 1472.3L1314.4 1469.7L1313.4 1468L1312.4 1469L1311.4 1470.6L1310.4 1472.1L1309.4 1473.2L1308.4 1474L1307.4 1474L1306.4 1475L1305.4 1475.9L1304.4 1476.1L1303.4 1475.3L1302.4 1473.5L1301.4 1471.7L1300.4 1470L1299.4 1469.6L1298.4 1470.8L1297.4 1472.3L1296.4 1472.9L1295.4 1471.5L1294.4 1468.2L1293.4 1467.4L1292.4 1466.6L1291.4 1467.8L1290.4 1469.3L1289.4 1468.7L1288.4 1468.6L1287.4 1468.4L1286.4 1467.7L1285.4 1466.2L1284.4 1464.2L1283.4 1463.8L1282.4 1464.4L1281.4 1464.7L1280.4 1464.9L1279.4 1465.9L1278.4 1466.5L1277.4 1467.5L1276.4 1467.8L1275.4 1470.1L1274.4 1473.2L1273.4 1474.2L1272.4 1474.2L1271.4 1471.6L1270.4 1470.8L1269.4 1471.4L1268.4 1475.7L1267.4 1476.9L1266.4 1475.8L1265.4 1474.8L1264.4 1474.1L1263.4 1470.9L1262.4 1467.9L1261.4 1468.8L1260.4 1470.8L1259.4 1474.3L1258.4 1476.8L1257.4 1476L1256.4 1473.6L1255.4 1470.7L1254.4 1468.5L1253.4 1467.7L1252.4 1468.5L1251.4 1469.3L1250.4 1468.9L1249.4 1467.4L1248.4 1465.3L1247.4 1464.6L1246.4 1466L1245.4 1468.1L1244.4 1469.4L1243.4 1470.5L1242.4 1468.5L1241.4 1467L1240.4 1466.6L1239.4 1466.2L1238.4 1466.8L1237.4 1467.3L1236.4 1468.8L1235.4 1471.5L1234.4 1473.5L1233.4 1473.8L1232.4 1472.4L1231.4 1471.6L1230.4 1471.3L1229.4 1471.3L1228.4 1471L1227.4 1470.6L1226.4 1470.2L1225.4 1469.8L1224.4 1468.9L1223.4 1471.2L1222.4 1474.3L1221.4 1475.6L1220.4 1475.3L1219.4 1475.1L1218.4 1475.5L1217.4 1476.4L1216.4 1477.7L1215.4 1478.7L1214.4 1478.8L1213.4 1477.6L1212.4 1475.6L1211.4 1472.8L1210.4 1470.1L1209.4 1469.2L1208.4 1468.7L1207.4 1469.5L1206.4 1471L1205.4 1472.1L1204.4 1473.4L1203.4 1473.4L1202.4 1472.4L1201.4 1471.2L1200.4 1470.9L1199.4 1470.9L1198.4 1472.4L1197.4 1474L1196.4 1474.2L1195.4 1473.1L1194.4 1471L1193.4 1469.8L1192.4 1469.7L1191.4 1470.3L1190.4 1469.5L1189.4 1469.4L1188.4 1467.5L1187.4 1464.7L1186.4 1464.5L1185.4 1464.9L1184.4 1465.7L1183.4 1466.5L1182.4 1467.5L1181.4 1467.7L1180.4 1471L1179.4 1474.1L1178.4 1476.5L1177.4 1478.8L1176.4 1480.8L1175.4 1481.2L1174.4 1482.1L1173.4 1483.6L1172.4 1485.5L1171.4 1485.7L1170.4 1486L1169.4 1485.7L1168.4 1483.8L1167.4 1481.3L1166.4 1479.3L1165.4 1477.2L1164.4 1475.4L1163.4 1473.1L1162.4 1473.2L1161.4 1473.5L1160.4 1474.4L1159.4 1474.9L1158.4 1475.3L1157.4 1474L1156.4 1470.5L1155.4 1468.7L1154.4 1469.3L1153.4 1472.2L1152.4 1475.5L1151.4 1476.8L1150.4 1476.4L1149.4 1474.5L1148.4 1472.2L1147.4 1470.6L1146.4 1471.5L1145.4 1473.5L1144.4 1475.3L1143.4 1475.2L1142.4 1474.6L1141.4 1472.3L1140.4 1470.2L1139.4 1468.9L1138.4 1469.5L1137.4 1470.8L1136.4 1472.4L1135.4 1472.4L1134.4 1471.3L1133.4 1469.4L1132.4 1467.5L1131.4 1466.5L1130.4 1466.5L1129.4 1469.3L1128.4 1471.7L1127.4 1473.2L1126.4 1472.5L1125.4 1470.4L1124.4 1468.7L1123.4 1467.3L1122.4 1468.1L1121.4 1468L1120.4 1466.6L1119.4 1464.5L1118.4 1463.5L1117.4 1463.3L1116.4 1464.5L1115.4 1465.5L1114.4 1464.8L1113.4 1463.9L1112.4 1463.5L1111.4 1463.1L1110.4 1461.9L1109.4 1460.5L1108.4 1459.3L1107.4 1457.9L1106.4 1456.9L1105.4 1457.5L1104.4 1458.6L1103.4 1460.1L1102.4 1461.6L1101.4 1462.8L1100.4 1463.5L1099.4 1463.5L1098.4 1462.9L1097.4 1460.6L1096.4 1458.7L1095.4 1458.7L1094.4 1460L1093.4 1461.5L1092.4 1463L1091.4 1463.4L1090.4 1463L1089.4 1462.6L1088.4 1464.2L1087.4 1464.5L1086.4 1465.3L1085.4 1464.7L1084.4 1463.6L1083.4 1462.2L1082.4 1462.4L1081.4 1462.7L1080.4 1463L1079.4 1463.8L1078.4 1465.4L1077.4 1468.3L1076.4 1471L1075.4 1472.2L1074.4 1471.6L1073.4 1469.5L1072.4 1467.7L1071.4 1467.9L1070.4 1468.2L1069.4 1469.7L1068.4 1471.2L1067.4 1472.3L1066.4 1472.1L1065.4 1470.7L1064.4 1468.6L1063.4 1467.8L1062.4 1467L1061.4 1465.5L1060.4 1463.9L1059.4 1463L1058.4 1462.7L1057.4 1464.9L1056.4 1468.5L1055.4 1468.4L1054.4 1467.9L1053.4 1464.3L1052.4 1461.8L1051.4 1461.4L1050.4 1462L1049.4 1463L1048.4 1463.9L1047.4 1463.7L1046.4 1463.4L1045.4 1464.7L1044.4 1465.6L1043.4 1465.1L1042.4 1463.4L1041.4 1460.7L1040.4 1458.7L1039.4 1458.9L1038.4 1459.5L1037.4 1462.4L1036.4 1465.3L1035.4 1466.1L1034.4 1466L1033.4 1464.2L1032.4 1462.4L1031.4 1462L1030.4 1463.5L1029.4 1465.2L1028.4 1465.2L1027.4 1464.5L1026.4 1462.3L1025.4 1460.2L1024.4 1459.6L1023.4 1459.8L1022.4 1460.2L1021.4 1460.2L1020.4 1459.4L1019.4 1457.8L1018.4 1454.1L1017.4 1450L1016.4 1446.2L1015.4 1444.5L1014.4 1446.2L1013.4 1446L1012.4 1443.9L1011.4 1441.4L1010.4 1439L1009.4 1437.4L1008.4 1438.9L1007.4 1442.7L1006.4 1446.1L1005.4 1447.6L1004.4 1446.9L1003.4 1445.2L1002.4 1444.6L1001.4 1445.8L1000.4 1447.3L999.4 1449.4L998.4 1450.8L997.4 1451.9L996.4 1452.1L995.4 1451.2L994.4 1450.8L993.4 1450.3L992.4 1450.7L991.4 1451.6L990.4 1453.3L989.4 1455L988.4 1455.7L987.4 1455.6L986.4 1454.6L985.4 1454.2L984.4 1454.8L983.4 1455.4L982.4 1455.6L981.4 1456.3L980.4 1457.6L979.4 1457.8L978.4 1456.9L977.4 1454.6L976.4 1452.8L975.4 1452.7L974.4 1454L973.4 1455.8L972.4 1458L971.4 1458.9L970.4 1459.7L969.4 1459.3L968.4 1458.3L967.4 1456.6L966.4 1456.8L965.4 1457.2L964.4 1458.8L963.4 1459.8L962.4 1460.4L961.4 1460.5L960.4 1459.6L959.4 1457.6L958.4 1455.3L957.4 1453.3L956.4 1451.6L955.4 1450.5L954.4 1450.4L953.4 1450.7L952.4 1450.6L951.4 1450.3L950.4 1449.5L949.4 1448L948.4 1446.8L947.4 1446.7L946.4 1448.2L945.4 1449.8L944.4 1452.2L943.4 1454.6L942.4 1456.2L941.4 1457L940.4 1454.8L939.4 1453.2L938.4 1454.2L937.4 1456.3L936.4 1458.8L935.4 1461.4L934.4 1463.2L933.4 1461.7L932.4 1458.1L931.4 1454.9L930.4 1455.9L929.4 1457.5L928.4 1457.7L927.4 1456.2L926.4 1454.7L925.4 1453.7L924.4 1451.6L923.4 1450.4L922.4 1448.2L921.4 1445.6L920.4 1444.3L919.4 1444.4L918.4 1446.1L917.4 1447.4L916.4 1446.8L915.4 1444.3L914.4 1441.8L913.4 1442.3L912.4 1443.7L911.4 1445.9L910.4 1447.3L909.4 1448.7L908.4 1449.5L907.4 1449.7L906.4 1449.5L905.4 1449.4L904.4 1449.8L903.4 1451.3L902.4 1453.7L901.4 1454L900.4 1454.7L899.4 1455.2L898.4 1452.5L897.4 1449L896.4 1446L895.4 1446.6L894.4 1448.2L893.4 1450.8L892.4 1453.3L891.4 1454.3L890.4 1454.3L889.4 1452.7L888.4 1451.1L887.4 1450.7L886.4 1451.7L885.4 1454.4L884.4 1457.1L883.4 1458.4L882.4 1458.9L881.4 1459.6L880.4 1460.1L879.4 1460.5L878.4 1459.6L877.4 1457.9L876.4 1457.5L875.4 1458L874.4 1458.3L873.4 1458.7L872.4 1459.4L871.4 1460L870.4 1461.1L869.4 1459.7L868.4 1456.5L867.4 1451.7L866.4 1449L865.4 1448.8L864.4 1453.5L863.4 1455.9L862.4 1456L861.4 1453.6L860.4 1451.8L859.4 1451L858.4 1451.5L857.4 1453.5L856.4 1454.2L855.4 1455.1L854.4 1455.7L853.4 1455.7L852.4 1455.3L851.4 1454.5L850.4 1455.2L849.4 1458.6L848.4 1463.2L847.4 1465.6L846.4 1466.1L845.4 1463L844.4 1459L843.4 1457.2L842.4 1456.3L841.4 1455.1L840.4 1455.7L839.4 1456.5L838.4 1456.3L837.4 1457L836.4 1456.8L835.4 1456L834.4 1455.1L833.4 1454.8L832.4 1454.4L831.4 1454.1L830.4 1453.5L829.4 1452.4L828.4 1450.5L827.4 1448.6L826.4 1447.1L825.4 1446.5L824.4 1447.7L823.4 1449.5L822.4 1450.2L821.4 1450.3L820.4 1450L819.4 1449.4L818.4 1448.5L817.4 1447.3L816.4 1447.7L815.4 1448.8L814.4 1449.4L813.4 1448.2L812.4 1448.5L811.4 1448.7L810.4 1448.8L809.4 1448.9L808.4 1448.4L807.4 1449L806.4 1449.9L805.4 1450.6L804.4 1451.1L803.4 1451L802.4 1449.8L801.4 1448.4L800.4 1447.2L799.4 1446.6L798.4 1447.5L797.4 1449.5L796.4 1449L795.4 1447.4L794.4 1447.3L793.4 1447.3L792.4 1447.7L791.4 1448.2L790.4 1448L789.4 1447.7L788.4 1448.1L787.4 1449.2L786.4 1450.4L785.4 1450.7L784.4 1451.7L783.4 1451.7L782.4 1450.9L781.4 1449.8L780.4 1449.1L779.4 1448.4L778.4 1448.7L777.4 1449.7L776.4 1451.9L775.4 1453L774.4 1453.4L773.4 1451.5L772.4 1449.7L771.4 1448.5L770.4 1449.1L769.4 1451.1L768.4 1450.7L767.4 1448.3L766.4 1445.2L765.4 1443.5L764.4 1443.1L763.4 1443.3L762.4 1445L761.4 1446.4L760.4 1447.7L759.4 1448.9L758.4 1449.4L757.4 1449.1L756.4 1447.1L755.4 1445.4L754.4 1444.4L753.4 1444.2L752.4 1444.5L751.4 1443.5L750.4 1443.3L749.4 1443.5L748.4 1443.1L747.4 1442.9L746.4 1443L745.4 1442.8L744.4 1442.2L743.4 1441.1L742.4 1438L741.4 1433.9L740.4 1432.5L739.4 1432.5L738.4 1434L737.4 1435.5L736.4 1436.2L735.4 1435.4L734.4 1433.4L733.4 1432.8L732.4 1433.2L731.4 1435.6L730.4 1438.3L729.4 1440.2L728.4 1441.2L727.4 1440.4L726.4 1438.2L725.4 1437.9L724.4 1438.1L723.4 1437.8L722.4 1437.2L721.4 1437.2L720.4 1438.2L719.4 1439.6L718.4 1441L717.4 1443.7L716.4 1446.5L715.4 1448.7L714.4 1451.2L713.4 1452.6L712.4 1453.2L711.4 1453.1L710.4 1451.3L709.4 1448.5L708.4 1448.1L707.4 1448.3L706.4 1448.2L705.4 1447.6L704.4 1446.1L703.4 1443.8L702.4 1439.7L701.4 1437.9L700.4 1437L699.4 1437L698.4 1438.6L697.4 1440.3L696.4 1440.7L695.4 1440.4L694.4 1440.2L693.4 1441L692.4 1442.1L691.4 1442.7L690.4 1441.8L689.4 1441.9L688.4 1441.1L687.4 1439.1L686.4 1436.4L685.4 1435L684.4 1433.8L683.4 1434L682.4 1436.2L681.4 1436.1L680.4 1435.3L679.4 1434.5L678.4 1432.9L677.4 1432.4L676.4 1433.4L675.4 1434.6L674.4 1435.2L673.4 1434.5L672.4 1433.6L671.4 1431.4L670.4 1430.3L669.4 1430.1L668.4 1432.2L667.4 1434.2L666.4 1434.7L665.4 1434.4L664.4 1432.1L663.4 1431.2L662.4 1430.7L661.4 1432.6L660.4 1434.4L659.4 1434.5L658.4 1433L657.4 1430.7L656.4 1429L655.4 1429.6L654.4 1431.6L653.4 1433.7L652.4 1433.3L651.4 1430L650.4 1428.1L649.4 1428.1L648.4 1428.9L647.4 1431.4L646.4 1433.1L645.4 1434L644.4 1433.2L643.4 1431.5L642.4 1429.4L641.4 1428.8L640.4 1428.8L639.4 1428.5L638.4 1427.5L637.4 1427.1L636.4 1427L635.4 1426.8L634.4 1426.4L633.4 1426.2L632.4 1425.7L631.4 1426.4L630.4 1427.6L629.4 1427.9L628.4 1428.9L627.4 1429.6L626.4 1431.2L625.4 1432.1L624.4 1432.9L623.4 1431L622.4 1430.4L621.4 1430.7L620.4 1432.5L619.4 1434.2L618.4 1434.2L617.4 1432.8L616.4 1430.2L615.4 1428.8L614.4 1428.6L613.4 1429.2L612.4 1430.3L611.4 1432.3L610.4 1433.4L609.4 1431.8L608.4 1428.2L607.4 1426L606.4 1423.4L605.4 1420.9L604.4 1420L603.4 1422L602.4 1423.7L601.4 1423.4L600.4 1423L599.4 1422.9L598.4 1425L597.4 1426.9L596.4 1428.3L595.4 1428.9L594.4 1428.5L593.4 1427.2L592.4 1425.9L591.4 1424.5L590.4 1423.3L589.4 1422.5L588.4 1421.7L587.4 1421.2L586.4 1420.9L585.4 1420.8L584.4 1420.5L583.4 1421L582.4 1420.7L581.4 1419.3L580.4 1417.5L579.4 1415.7L578.4 1414.8L577.4 1414.9L576.4 1415.6L575.4 1417.4L574.4 1418.7L573.4 1418.8L572.4 1417.6L571.4 1415.9L570.4 1414.6L569.4 1414.1L568.4 1414.1L567.4 1414.1L566.4 1413.5L565.4 1413.6L564.4 1414.3L563.4 1415L562.4 1416.1L561.4 1416.5L560.4 1416.3L559.4 1416L558.4 1415.5L557.4 1415L556.4 1413.6L555.4 1412.7L554.4 1411.9L553.4 1411.4L552.4 1411.2L551.4 1412L550.4 1414.4L549.4 1416.8L548.4 1418.4L547.4 1417.9L546.4 1416.2L545.4 1415.8L544.4 1416.2L543.4 1416.9L542.4 1417.3L541.4 1417L540.4 1416.7L539.4 1417.2L538.4 1420.9L537.4 1421.7L536.4 1419.3L535.4 1415.6L534.4 1413L533.4 1412.4L532.4 1411.7L531.4 1410.6L530.4 1409.7L529.4 1409.8L528.4 1410.8L527.4 1409.7L526.4 1408.4L525.4 1405.3L524.4 1402.8L523.4 1401.5L522.4 1400.3L521.4 1398.7L520.4 1397.1L519.4 1398.2L518.4 1400.1L517.4 1402L516.4 1404.4L515.4 1405.7L514.4 1405.7L513.4 1404.9L512.4 1404.2L511.4 1404.3L510.4 1405L509.4 1405.4L508.4 1406.1L507.4 1406.9L506.4 1407.1L505.4 1406.3L504.4 1405.3L503.4 1403.1L502.4 1400.7L501.4 1399.5L500.4 1398.5L499.4 1398.7L498.4 1399.2L497.4 1399.1L496.4 1397.9L495.4 1394.8L494.4 1392.8L493.4 1391.3L492.4 1391.2L491.4 1391.6L490.4 1390.9L489.4 1390.6L488.4 1390.5L487.4 1389.9L486.4 1389L485.4 1387.2L484.4 1385.6L483.4 1385L482.4 1384.8L481.4 1385L480.4 1385.6L479.4 1386.7L478.4 1387.6L477.4 1388.2L476.4 1387.9L475.4 1388L474.4 1388.1L473.4 1388.7L472.4 1389.7L471.4 1391.3L470.4 1391.3L469.4 1389.8L468.4 1387.4L467.4 1385.1L466.4 1383.5L465.4 1382.7L464.4 1383.1L463.4 1383.4L462.4 1383.1L461.4 1382.4L460.4 1382L459.4 1381.3L458.4 1380.8L457.4 1380.3L456.4 1379.9L455.4 1379.3L454.4 1378.8L453.4 1378.2L452.4 1377.6L451.4 1377.1L450.4 1376.4L449.4 1375.5L448.4 1374.9L447.4 1374.8L446.4 1374.9L445.4 1375L444.4 1375.2L443.4 1375.2L442.4 1375.3L441.4 1375.4L440.4 1375.1L439.4 1374.4L438.4 1373.8L437.4 1373.1L436.4 1372.1L435.4 1371.2L434.4 1370.1L433.4 1369L432.4 1367.9L431.4 1367L430.4 1366.3L429.4 1365.7L428.4 1365.2L427.4 1364.5L426.4 1363.5L425.4 1362.3L424.4 1361.3L423.4 1360.6L422.4 1359.7L421.4 1358.8L420.4 1358L419.4 1357L418.4 1355.7L417.4 1354.1L416.4 1353.6L415.4 1353.4L414.4 1353.2L413.4 1353.1L412.4 1353L411.4 1352.9L410.4 1353L409.4 1352.9L408.4 1352.3L407.4 1351.7L406.4 1351.2L405.4 1351.1L404.4 1350.9L403.4 1350.5L402.4 1349.7L401.4 1348.8L395.5 1334.6L387.5 1326.7L381.6 1316.7L377.6 1303.3Z" fill="#a55ca5" stroke="#a55ca5" stroke-width="1.4" stroke-linejoin="round"/>
<path d="M220.7 268.6L253.7 268.6M237.2 250.4L237.2 286.8M224.6 255.6L249.8 281.6M224.6 281.6L249.8 255.6" fill="none" stroke="#a55ca5" stroke-width="6.4"/>
<path d="M493.8 1385L526.8 1385M510.3 1366.8L510.3 1403.2M497.7 1372L522.9 1398M497.7 1398L522.9 1372" fill="none" stroke="#a55ca5" stroke-width="6.4"/>
<path d="M766.5 1438L799.5 1438M783 1419.8L783 1456.2M770.4 1425L795.6 1451M770.4 1451L795.6 1425" fill="none" stroke="#a55ca5" stroke-width="6.4"/>
<path d="M1039.2 1454.9L1072.2 1454.9M1055.7 1436.7L1055.7 1473.1M1043.1 1441.9L1068.3 1467.9M1043.1 1467.9L1068.3 1441.9" fill="none" stroke="#a55ca5" stroke-width="6.4"/>
<path d="M1311.9 1465.9L1344.9 1465.9M1328.4 1447.7L1328.4 1484.1M1315.8 1452.9L1341 1478.9M1315.8 1478.9L1341 1452.9" fill="none" stroke="#a55ca5" stroke-width="6.4"/>
<path d="M1584.6 1468L1617.6 1468M1601.1 1449.8L1601.1 1486.2M1588.5 1455L1613.7 1481M1588.5 1481L1613.7 1455" fill="none" stroke="#a55ca5" stroke-width="6.4"/>
<path d="M1857.3 1482.4L1890.3 1482.4M1873.8 1464.2L1873.8 1500.6M1861.2 1469.4L1886.4 1495.4M1861.2 1495.4L1886.4 1469.4" fill="none" stroke="#a55ca5" stroke-width="6.4"/>
<path d="M2130 1480L2163 1480M2146.5 1461.8L2146.5 1498.2M2133.9 1467L2159.1 1493M2133.9 1493L2159.1 1467" fill="none" stroke="#a55ca5" stroke-width="6.4"/>
</g>
<g id="curve-b">
<path d="M237.2 268.8L246 264L251.6 262.2L252.6 268L253.8 289.6L255.5 339.2L257.9 420L259.5 474.4L264.3 584.2L271 697L276.9 782.3L283.2 864.7L292.2 933.3L297.7 960L303.2 999.7L309.1 1049.3L315.1 1089L317.7 1100L324.1 1129.8L329.9 1159.5L336.2 1184.3L341 1199.2L344.5 1214L347.9 1229L354.4 1243.8L359.4 1258.7L364.7 1273.6L365.7 1284" fill="none" stroke="#2053a6" stroke-width="7.4" stroke-linejoin="round" stroke-linecap="butt"/>
<path d="M365.7 1275.1L371.7 1276.1L376 1272.1L379.6 1277.1L383.6 1287L387.5 1300.9L391.5 1303.8L395.5 1314.8L399.4 1322.7L403.4 1326.3L404.4 1327.8L405.4 1329.1L406.4 1330.2L407.4 1331.5L408.4 1331.6L409.4 1331.9L410.4 1332.2L411.4 1332.4L412.4 1332.5L413.4 1332.5L414.4 1331.4L415.4 1330.4L416.4 1329.4L417.4 1328.7L418.4 1328.1L419.4 1327.9L420.4 1327.4L421.4 1327.2L422.4 1329.2L423.4 1331.5L424.4 1334.1L425.4 1338.5L426.4 1342.9L427.4 1346.5L428.4 1346.8L429.4 1346.9L430.4 1347.1L431.4 1347.1L432.4 1346.5L433.4 1345.8L434.4 1345L435.4 1344.4L436.4 1344.1L437.4 1344.3L438.4 1344.8L439.4 1345.2L440.4 1345.5L441.4 1345.9L442.4 1346.2L443.4 1346.4L444.4 1346.2L445.4 1345.7L446.4 1345.1L447.4 1344.5L448.4 1344.3L449.4 1344.4L450.4 1344.4L451.4 1344.3L452.4 1344.1L453.4 1343.7L454.4 1344.1L455.4 1345.7L456.4 1347.5L457.4 1349.2L458.4 1349.8L459.4 1349.5L460.4 1349.4L461.4 1349.5L462.4 1350L463.4 1350.4L464.4 1350L465.4 1348.7L466.4 1347.8L467.4 1348.1L468.4 1349.4L469.4 1351.3L470.4 1352.3L471.4 1352.6L472.4 1351.5L473.4 1351.2L474.4 1351.4L475.4 1352.1L476.4 1353.1L477.4 1354.1L478.4 1354.5L479.4 1354.7L480.4 1354.1L481.4 1353.5L482.4 1353.3L483.4 1353.5L484.4 1354.2L485.4 1355.9L486.4 1357.7L487.4 1358.3L488.4 1358.5L489.4 1358.5L490.4 1358.2L491.4 1358.6L492.4 1358.1L493.4 1357.1L494.4 1357.7L495.4 1358.9L496.4 1361.8L497.4 1362.7L498.4 1362L499.4 1360.9L500.4 1359.9L501.4 1360.3L502.4 1360.6L503.4 1362.9L504.4 1365.2L505.4 1365.6L506.4 1365.8L507.4 1365.9L508.4 1365.9L509.4 1366.2L510.4 1366.6L511.4 1366L512.4 1364.8L513.4 1364.3L514.4 1365.4L515.4 1367.6L516.4 1368.7L517.4 1368L518.4 1367L519.4 1366L520.4 1365.5L521.4 1366.5L522.4 1367.4L523.4 1368.4L524.4 1369.4L525.4 1371.9L526.4 1375L527.4 1376L528.4 1376.9L529.4 1375.4L530.4 1375.1L531.4 1376.1L532.4 1377.5L533.4 1378.9L534.4 1380.1L535.4 1381.9L536.4 1383.7L537.4 1385.5L538.4 1383.8L539.4 1378.1L540.4 1376.6L541.4 1376.3L542.4 1376L543.4 1375.7L544.4 1375.4L545.4 1376.3L546.4 1377.3L547.4 1377.4L548.4 1376.1L549.4 1373.6L550.4 1370.3L551.4 1367.4L552.4 1366.4L553.4 1367.1L554.4 1368.2L555.4 1370.4L556.4 1371.6L557.4 1373.2L558.4 1374.9L559.4 1376.9L560.4 1378.8L561.4 1380.7L562.4 1381.6L563.4 1380L564.4 1378.2L565.4 1375L566.4 1371.9L567.4 1370.1L568.4 1368.9L569.4 1367.6L570.4 1366.5L571.4 1366.7L572.4 1368.2L573.4 1370.5L574.4 1371.5L575.4 1372.1L576.4 1372.2L577.4 1372.7L578.4 1373.8L579.4 1375.4L580.4 1377.8L581.4 1380.7L582.4 1383.1L583.4 1385L584.4 1385.8L585.4 1386.3L586.4 1385L587.4 1383.1L588.4 1381.6L589.4 1381.3L590.4 1381.7L591.4 1382.7L592.4 1383.8L593.4 1383.9L594.4 1383.7L595.4 1382.5L596.4 1380.5L597.4 1378.5L598.4 1377.2L599.4 1376.8L600.4 1378.4L601.4 1380.1L602.4 1382.3L603.4 1382.5L604.4 1379.8L605.4 1378.8L606.4 1381L607.4 1384.2L608.4 1387.2L609.4 1392.8L610.4 1394.7L611.4 1393L612.4 1390.2L613.4 1387L614.4 1384.3L615.4 1382.6L616.4 1383.2L617.4 1384.1L618.4 1384.9L619.4 1384.3L620.4 1381.4L621.4 1380.4L622.4 1382.1L623.4 1385.4L624.4 1391.7L625.4 1393.2L626.4 1394L627.4 1392.5L628.4 1391L629.4 1389.7L630.4 1389.6L631.4 1389.6L632.4 1389.6L633.4 1389.6L634.4 1389.3L635.4 1389L636.4 1388.4L637.4 1387.9L638.4 1387.6L639.4 1387.2L640.4 1386.7L641.4 1386.3L642.4 1386.6L643.4 1388.8L644.4 1391.1L645.4 1392.1L646.4 1392.1L647.4 1391L648.4 1388.7L649.4 1387.4L650.4 1387.2L651.4 1389.2L652.4 1393.2L653.4 1394.9L654.4 1393.5L655.4 1391.9L656.4 1391L657.4 1392.2L658.4 1394.5L659.4 1396.4L660.4 1397.1L661.4 1395.9L662.4 1394.1L663.4 1394.5L664.4 1394.5L665.4 1396.3L666.4 1396.8L667.4 1396.1L668.4 1393.1L669.4 1390L670.4 1389.7L671.4 1390.7L672.4 1391.7L673.4 1390.8L674.4 1389.7L675.4 1387.5L676.4 1386.4L677.4 1385.4L678.4 1386.2L679.4 1388.7L680.4 1392.6L681.4 1396.1L682.4 1397.9L683.4 1395.6L684.4 1393.9L685.4 1394.2L686.4 1395.1L687.4 1395.9L688.4 1395.1L689.4 1392.9L690.4 1391.1L691.4 1390.7L692.4 1389.9L693.4 1389.4L694.4 1389.3L695.4 1389.4L696.4 1389.4L697.4 1388.9L698.4 1388.3L699.4 1388.4L700.4 1390L701.4 1391.8L702.4 1394.6L703.4 1399.3L704.4 1401.8L705.4 1403.8L706.4 1404.9L707.4 1405.9L708.4 1407.1L709.4 1408.3L710.4 1410.3L711.4 1412.5L712.4 1412.8L713.4 1412.1L714.4 1409.3L715.4 1405.5L716.4 1402.8L717.4 1401L718.4 1399.1L719.4 1397.9L720.4 1397.4L721.4 1396.8L722.4 1396.4L723.4 1396L724.4 1395.7L725.4 1395.4L726.4 1395.6L727.4 1398.3L728.4 1398.5L729.4 1397.3L730.4 1395.7L731.4 1394.1L732.4 1393L733.4 1393.2L734.4 1393.8L735.4 1393.7L736.4 1392.9L737.4 1392.3L738.4 1391.4L739.4 1390.4L740.4 1390.6L741.4 1391.7L742.4 1395L743.4 1397L744.4 1397.4L745.4 1397.8L746.4 1398.1L747.4 1399.7L748.4 1401.7L749.4 1403.6L750.4 1405.6L751.4 1406.4L752.4 1407.1L753.4 1405.7L754.4 1404.2L755.4 1404.2L756.4 1405.7L757.4 1407.2L758.4 1408.4L759.4 1407.6L760.4 1405.7L761.4 1402.5L762.4 1400.6L763.4 1399.4L764.4 1399.7L765.4 1401.1L766.4 1404L767.4 1406.8L768.4 1407.1L769.4 1404.7L770.4 1400.8L771.4 1399.1L772.4 1400L773.4 1401.7L774.4 1403.8L775.4 1403.9L776.4 1403.9L777.4 1402.3L778.4 1400.7L779.4 1399.5L780.4 1399.6L781.4 1400L782.4 1401.7L783.4 1403.5L784.4 1405.5L785.4 1406.1L786.4 1406L787.4 1404.6L788.4 1403.3L789.4 1403.1L790.4 1403.6L791.4 1404.3L792.4 1404.9L793.4 1405.6L794.4 1406.8L795.4 1408L796.4 1408.8L797.4 1408L798.4 1405.9L799.4 1405L800.4 1405L801.4 1405.9L802.4 1406.8L803.4 1407.1L804.4 1406.5L805.4 1405.3L806.4 1403.8L807.4 1402.3L808.4 1401.1L809.4 1401L810.4 1401.9L811.4 1402.7L812.4 1403.5L813.4 1403.9L814.4 1405.5L815.4 1405.4L816.4 1405.3L817.4 1405.7L818.4 1406.4L819.4 1405.9L820.4 1405.9L821.4 1405.6L822.4 1404.7L823.4 1403.9L824.4 1404L825.4 1405.4L826.4 1406.8L827.4 1409.2L828.4 1412L829.4 1414.8L830.4 1416.9L831.4 1418.6L832.4 1420L833.4 1421.5L834.4 1422.9L835.4 1423.9L836.4 1423.5L837.4 1422.3L838.4 1421.1L839.4 1420.8L840.4 1421.3L841.4 1421.5L842.4 1421.2L843.4 1420.4L844.4 1419.4L845.4 1422.3L846.4 1425.2L847.4 1424.3L848.4 1421.3L849.4 1417.9L850.4 1414.5L851.4 1413.4L852.4 1412.6L853.4 1412.7L854.4 1413.2L855.4 1413.7L856.4 1413.8L857.4 1413.3L858.4 1410.7L859.4 1408.9L860.4 1408.5L861.4 1410.1L862.4 1413.4L863.4 1413.7L864.4 1411.9L865.4 1406.8L866.4 1407.1L867.4 1409.8L868.4 1414.3L869.4 1417L870.4 1417.4L871.4 1415.4L872.4 1414.5L873.4 1415.2L874.4 1416L875.4 1416.1L876.4 1416.1L877.4 1416L878.4 1417.5L879.4 1419.3L880.4 1419.5L881.4 1419.2L882.4 1418.5L883.4 1418.1L884.4 1417L885.4 1415.3L886.4 1413.5L887.4 1412.5L888.4 1412.1L889.4 1410.6L890.4 1410L891.4 1407.5L892.4 1403.9L893.4 1398.2L894.4 1395.1L895.4 1393.2L896.4 1392.6L897.4 1395.7L898.4 1399.5L899.4 1402.3L900.4 1403.4L901.4 1405.8L902.4 1407.4L903.4 1409L904.4 1411.6L905.4 1410.4L906.4 1410L907.4 1409.6L908.4 1408.4L909.4 1405.8L910.4 1402.6L911.4 1400.3L912.4 1398.2L913.4 1397.2L914.4 1397.4L915.4 1400.9L916.4 1404.5L917.4 1406.2L918.4 1405.1L919.4 1401.6L920.4 1400L921.4 1400.3L922.4 1401.6L923.4 1402.5L924.4 1402.4L925.4 1405.6L926.4 1408.9L927.4 1411.8L928.4 1413.3L929.4 1412.4L930.4 1409L931.4 1405.5L932.4 1406.6L933.4 1409.6L934.4 1411.8L935.4 1411.4L936.4 1410.5L937.4 1410.1L938.4 1409.7L939.4 1410.4L940.4 1413.3L941.4 1416.4L942.4 1416.5L943.4 1414.7L944.4 1411.8L945.4 1408.8L946.4 1407.3L947.4 1406.3L948.4 1406.6L949.4 1407.7L950.4 1408.7L951.4 1408.8L952.4 1407.8L953.4 1405.6L954.4 1404.3L955.4 1405.5L956.4 1408L957.4 1410.6L958.4 1413.5L959.4 1416.5L960.4 1419.3L961.4 1420.8L962.4 1420.6L963.4 1419.2L964.4 1418.6L965.4 1418L966.4 1417.4L967.4 1416.7L968.4 1417L969.4 1417.5L970.4 1418.1L971.4 1417.7L972.4 1417.1L973.4 1414.5L974.4 1411.1L975.4 1407.5L976.4 1405.7L977.4 1406.2L978.4 1408.4L979.4 1410.1L980.4 1410.4L981.4 1408.9L982.4 1407.4L983.4 1406.5L984.4 1406.5L985.4 1407L986.4 1409L987.4 1411.1L988.4 1411.5L989.4 1411.2L990.4 1409.8L991.4 1408.3L992.4 1407.7L993.4 1407.8L994.4 1409.1L995.4 1410.4L996.4 1411.5L997.4 1411L998.4 1409.5L999.4 1407.6L1000.4 1405.6L1001.4 1404.4L1002.4 1402.7L1003.4 1402.4L1004.4 1403.2L1005.4 1402L1006.4 1397.2L1007.4 1391.6L1008.4 1389.6L1009.4 1391.1L1010.4 1394.1L1011.4 1397.9L1012.4 1401L1013.4 1403.1L1014.4 1403.1L1015.4 1399.9L1016.4 1399L1017.4 1401.3L1018.4 1407L1019.4 1412.3L1020.4 1414.8L1021.4 1416.2L1022.4 1416.5L1023.4 1416.8L1024.4 1418.4L1025.4 1420.8L1026.4 1424L1027.4 1427L1028.4 1427.4L1029.4 1426.7L1030.4 1423.9L1031.4 1421.6L1032.4 1421.5L1033.4 1422.6L1034.4 1424.1L1035.4 1424L1036.4 1423.7L1037.4 1420.7L1038.4 1417.5L1039.4 1417.2L1040.4 1416.6L1041.4 1418L1042.4 1419.5L1043.4 1420.2L1044.4 1419.6L1045.4 1416.9L1046.4 1414.7L1047.4 1414.7L1048.4 1415.1L1049.4 1415.3L1050.4 1415.6L1051.4 1415.9L1052.4 1416.6L1053.4 1419.7L1054.4 1422.4L1055.4 1422.7L1056.4 1422.6L1057.4 1419.9L1058.4 1417.8L1059.4 1418L1060.4 1418.7L1061.4 1420.4L1062.4 1422.1L1063.4 1422.9L1064.4 1423.6L1065.4 1425.3L1066.4 1427.2L1067.4 1428.6L1068.4 1428.8L1069.4 1429L1070.4 1429.2L1071.4 1429.5L1072.4 1428.1L1073.4 1428.7L1074.4 1429.3L1075.4 1428.1L1076.4 1425.2L1077.4 1422.2L1078.4 1420.1L1079.4 1419.7L1080.4 1419.6L1081.4 1419.9L1082.4 1419.7L1083.4 1419.5L1084.4 1421.7L1085.4 1422.5L1086.4 1421.1L1087.4 1417.8L1088.4 1416.4L1089.4 1415L1090.4 1415.9L1091.4 1416.2L1092.4 1413.9L1093.4 1410.2L1094.4 1407.6L1095.4 1406L1096.4 1406.2L1097.4 1408.7L1098.4 1411.2L1099.4 1411.4L1100.4 1411.7L1101.4 1412.7L1102.4 1413.6L1103.4 1415L1104.4 1416.3L1105.4 1416.7L1106.4 1416.8L1107.4 1417.2L1108.4 1418.4L1109.4 1420.6L1110.4 1423.2L1111.4 1424.4L1112.4 1424.2L1113.4 1424L1114.4 1423.7L1115.4 1423.5L1116.4 1421L1117.4 1417.3L1118.4 1414.7L1119.4 1413.2L1120.4 1413.9L1121.4 1415.1L1122.4 1415.8L1123.4 1415.6L1124.4 1418.5L1125.4 1422.9L1126.4 1426.4L1127.4 1428.6L1128.4 1427.1L1129.4 1424.6L1130.4 1422L1131.4 1421.5L1132.4 1422.2L1133.4 1423.1L1134.4 1425.4L1135.4 1427.1L1136.4 1428.4L1137.4 1427.7L1138.4 1426.9L1139.4 1426.7L1140.4 1428.3L1141.4 1430.4L1142.4 1432.6L1143.4 1432.9L1144.4 1433.2L1145.4 1431.1L1146.4 1428.6L1147.4 1427.5L1148.4 1429L1149.4 1431.2L1150.4 1432.9L1151.4 1433.3L1152.4 1432.8L1153.4 1429.6L1154.4 1426.4L1155.4 1425.4L1156.4 1426L1157.4 1427.9L1158.4 1429.7L1159.4 1430.6L1160.4 1430.3L1161.4 1428.4L1162.4 1427.6L1163.4 1427.2L1164.4 1428.2L1165.4 1429.5L1166.4 1431.1L1167.4 1432.4L1168.4 1433.9L1169.4 1436.4L1170.4 1436.9L1171.4 1437.4L1172.4 1436.1L1173.4 1434.8L1174.4 1433.4L1175.4 1432.3L1176.4 1432.5L1177.4 1431.9L1178.4 1431.2L1179.4 1430.5L1180.4 1429.9L1181.4 1429.2L1182.4 1428.6L1183.4 1426.8L1184.4 1424.5L1185.4 1422.3L1186.4 1422.2L1187.4 1423.4L1188.4 1427.2L1189.4 1430.7L1190.4 1431.7L1191.4 1432.7L1192.4 1431.1L1193.4 1430.3L1194.4 1430L1195.4 1431.8L1196.4 1433.1L1197.4 1432.7L1198.4 1429.8L1199.4 1427.9L1200.4 1428.1L1201.4 1428.9L1202.4 1431.3L1203.4 1433.4L1204.4 1432L1205.4 1429.5L1206.4 1426.3L1207.4 1423L1208.4 1421.4L1209.4 1420.7L1210.4 1421L1211.4 1424.5L1212.4 1428.5L1213.4 1431.4L1214.4 1432.9L1215.4 1433.7L1216.4 1433.7L1217.4 1432.9L1218.4 1431L1219.4 1430L1220.4 1430.5L1221.4 1431.2L1222.4 1431.7L1223.4 1431L1224.4 1427.5L1225.4 1425L1226.4 1424.3L1227.4 1424L1228.4 1424.3L1229.4 1424.6L1230.4 1425L1231.4 1426.1L1232.4 1428.2L1233.4 1430.2L1234.4 1430.3L1235.4 1428.8L1236.4 1426.5L1237.4 1425.4L1238.4 1424.4L1239.4 1423.2L1240.4 1421.9L1241.4 1420.8L1242.4 1422L1243.4 1425.7L1244.4 1426.3L1245.4 1426.6L1246.4 1425.1L1247.4 1423.4L1248.4 1423.7L1249.4 1424.1L1250.4 1424.5L1251.4 1425L1252.4 1425.3L1253.4 1425.9L1254.4 1427.8L1255.4 1430L1256.4 1432.2L1257.4 1433.8L1258.4 1434.5L1259.4 1430.7L1260.4 1426.7L1261.4 1425.6L1262.4 1425.5L1263.4 1429.3L1264.4 1432.5L1265.4 1432.2L1266.4 1432.6L1267.4 1433.5L1268.4 1431.7L1269.4 1426.9L1270.4 1425.8L1271.4 1425.9L1272.4 1428.4L1273.4 1429.1L1274.4 1428.6L1275.4 1425.2L1276.4 1421.7L1277.4 1420.2L1278.4 1418.7L1279.4 1418.6L1280.4 1418.9L1281.4 1420.4L1282.4 1421.4L1283.4 1421.4L1284.4 1421.9L1285.4 1424.7L1286.4 1427.6L1287.4 1429.6L1288.4 1431.4L1289.4 1430.3L1290.4 1429.3L1291.4 1425.4L1292.4 1421.3L1293.4 1421.7L1294.4 1422.5L1295.4 1426.8L1296.4 1429.4L1297.4 1428.8L1298.4 1426.5L1299.4 1424.3L1300.4 1423.9L1301.4 1426.1L1302.4 1428.4L1303.4 1430.8L1304.4 1432.5L1305.4 1432.6L1306.4 1431.6L1307.4 1428.6L1308.4 1427.4L1309.4 1426.2L1310.4 1424.5L1311.4 1422.8L1312.4 1421.4L1313.4 1421.8L1314.4 1424.9L1315.4 1428L1316.4 1429.1L1317.4 1427.5L1318.4 1424.2L1319.4 1422.2L1320.4 1421.2L1321.4 1420.2L1322.4 1419.2L1323.4 1418.6L1324.4 1419.4L1325.4 1420.6L1326.4 1421.6L1327.4 1422.4L1328.4 1424.1L1329.4 1425.8L1330.4 1426.2L1331.4 1427.6L1332.4 1428.4L1333.4 1428.7L1334.4 1427L1335.4 1424.6L1336.4 1423L1337.4 1423.6L1338.4 1425.2L1339.4 1428.8L1340.4 1432.2L1341.4 1432.8L1342.4 1432.9L1343.4 1429.9L1344.4 1426.8L1345.4 1425.2L1346.4 1424.8L1347.4 1424.5L1348.4 1424.2L1349.4 1423.9L1350.4 1425.2L1351.4 1426.7L1352.4 1428.8L1353.4 1429.6L1354.4 1427.9L1355.4 1425.7L1356.4 1425.5L1357.4 1426.5L1358.4 1428.7L1359.4 1430.3L1360.4 1430.9L1361.4 1430.7L1362.4 1431.1L1363.4 1432.5L1364.4 1433.9L1365.4 1435.3L1366.4 1436L1367.4 1435.5L1368.4 1435.4L1369.4 1435.6L1370.4 1437L1371.4 1438.7L1372.4 1440.2L1373.4 1441.7L1374.4 1441.3L1375.4 1439.5L1376.4 1438.9L1377.4 1438.6L1378.4 1439.1L1379.4 1438.8L1380.4 1438.6L1381.4 1438.5L1382.4 1439.3L1383.4 1440.5L1384.4 1441.5L1385.4 1441L1386.4 1436.5L1387.4 1433.7L1388.4 1432.1L1389.4 1431.5L1390.4 1431.9L1391.4 1432.2L1392.4 1433L1393.4 1432.5L1394.4 1429L1395.4 1425.5L1396.4 1425.2L1397.4 1424.8L1398.4 1426L1399.4 1427.2L1400.4 1428.1L1401.4 1427.1L1402.4 1424.5L1403.4 1423.2L1404.4 1424.7L1405.4 1426.9L1406.4 1429.2L1407.4 1430.8L1408.4 1431L1409.4 1429.2L1410.4 1427.3L1411.4 1427.1L1412.4 1431.2L1413.4 1435.1L1414.4 1434.7L1415.4 1433.8L1416.4 1430.7L1417.4 1427.7L1418.4 1427.7L1419.4 1429.1L1420.4 1431.7L1421.4 1434.4L1422.4 1436.5L1423.4 1437.5L1424.4 1437L1425.4 1435.7L1426.4 1434.3L1427.4 1433.2L1428.4 1433.8L1429.4 1436.2L1430.4 1436.9L1431.4 1436.3L1432.4 1434.6L1433.4 1435.1L1434.4 1436.6L1435.4 1441L1436.4 1442.4L1437.4 1441.9L1438.4 1441.1L1439.4 1440.6L1440.4 1439.6L1441.4 1437.7L1442.4 1437.2L1443.4 1437.8L1444.4 1439.3L1445.4 1440.9L1446.4 1442.5L1447.4 1443.6L1448.4 1440.8L1449.4 1438L1450.4 1434.6L1451.4 1431.5L1452.4 1429.3L1453.4 1425.9L1454.4 1425.7L1455.4 1426L1456.4 1430.9L1457.4 1433.4L1458.4 1432.8L1459.4 1431.9L1460.4 1433.1L1461.4 1435.9L1462.4 1440.1L1463.4 1441.8L1464.4 1443.3L1465.4 1444.6L1466.4 1445.1L1467.4 1445.5L1468.4 1445.1L1469.4 1440.1L1470.4 1437.9L1471.4 1437.9L1472.4 1439.5L1473.4 1441.5L1474.4 1443.5L1475.4 1444.1L1476.4 1443.2L1477.4 1442L1478.4 1440.9L1479.4 1440.4L1480.4 1439.1L1481.4 1435.1L1482.4 1432.6L1483.4 1430.5L1484.4 1426.4L1485.4 1422.1L1486.4 1418L1487.4 1417.1L1488.4 1418.8L1489.4 1420.4L1490.4 1420.6L1491.4 1422.5L1492.4 1424.8L1493.4 1425.4L1494.4 1425.6L1495.4 1423.8L1496.4 1421.2L1497.4 1420.9L1498.4 1423.4L1499.4 1426.6L1500.4 1429.3L1501.4 1429.3L1502.4 1429L1503.4 1431.6L1504.4 1433.5L1505.4 1434.4L1506.4 1435.4L1507.4 1436.3L1508.4 1436L1509.4 1435.1L1510.4 1432.7L1511.4 1432.1L1512.4 1433.1L1513.4 1436.9L1514.4 1439L1515.4 1439.2L1516.4 1436.8L1517.4 1434.1L1518.4 1433.1L1519.4 1432.3L1520.4 1433.4L1521.4 1434.4L1522.4 1434.5L1523.4 1434.3L1524.4 1432.5L1525.4 1432.5L1526.4 1433.6L1527.4 1436.2L1528.4 1438.3L1529.4 1440.1L1530.4 1440.2L1531.4 1438.2L1532.4 1435.9L1533.4 1433.7L1534.4 1433.5L1535.4 1433L1536.4 1431.8L1537.4 1431.2L1538.4 1431.1L1539.4 1433.8L1540.4 1437.1L1541.4 1438.1L1542.4 1438.6L1543.4 1437.5L1544.4 1436.1L1545.4 1435.4L1546.4 1436.2L1547.4 1437.3L1548.4 1439.3L1549.4 1441.3L1550.4 1442.5L1551.4 1443.3L1552.4 1442.9L1553.4 1442.4L1554.4 1442.4L1555.4 1443L1556.4 1444.8L1557.4 1446.8L1558.4 1446L1559.4 1444L1560.4 1440.3L1561.4 1436.4L1562.4 1434.3L1563.4 1434.2L1564.4 1435.6L1565.4 1437L1566.4 1437.7L1567.4 1437.4L1568.4 1435.3L1569.4 1431.3L1570.4 1429.7L1571.4 1430.5L1572.4 1431.9L1573.4 1433.4L1574.4 1433.6L1575.4 1433L1576.4 1432.7L1577.4 1432.4L1578.4 1432L1579.4 1431.3L1580.4 1428.9L1581.4 1425.3L1582.4 1421.7L1583.4 1419.7L1584.4 1418.5L1585.4 1416.9L1586.4 1415.6L1587.4 1416.9L1588.4 1418.9L1589.4 1421.8L1590.4 1424L1591.4 1426.3L1592.4 1426.1L1593.4 1426.1L1594.4 1426.4L1595.4 1426.4L1596.4 1426.8L1597.4 1427.3L1598.4 1427.7L1599.4 1427.9L1600.4 1426.9L1601.4 1425L1602.4 1423.4L1603.4 1423L1604.4 1424L1605.4 1425.1L1606.4 1425.7L1607.4 1427.6L1608.4 1432.1L1609.4 1433.7L1610.4 1434.1L1611.4 1433.8L1612.4 1433.4L1613.4 1433.4L1614.4 1434.4L1615.4 1434.1L1616.4 1432.5L1617.4 1431.4L1618.4 1432.4L1619.4 1433.4L1620.4 1435.8L1621.4 1436.6L1622.4 1435.5L1623.4 1431.5L1624.4 1427.5L1625.4 1425.5L1626.4 1427.2L1627.4 1432.4L1628.4 1437.5L1629.4 1439L1630.4 1439L1631.4 1437.7L1632.4 1435.1L1633.4 1434L1634.4 1434L1635.4 1434L1636.4 1433.7L1637.4 1435.6L1638.4 1437.6L1639.4 1439.6L1640.4 1439.8L1641.4 1439.5L1642.4 1436L1643.4 1431L1644.4 1430.2L1645.4 1431.7L1646.4 1433.2L1647.4 1434.3L1648.4 1433.8L1649.4 1433.8L1650.4 1434.1L1651.4 1434.6L1652.4 1435.1L1653.4 1434.1L1654.4 1432.7L1655.4 1430.7L1656.4 1429.7L1657.4 1430.3L1658.4 1432.5L1659.4 1434.1L1660.4 1435.2L1661.4 1436.3L1662.4 1437.5L1663.4 1438.1L1664.4 1437.4L1665.4 1437.4L1666.4 1438.2L1667.4 1440.5L1668.4 1445.1L1669.4 1449L1670.4 1451.1L1671.4 1451.4L1672.4 1451.2L1673.4 1451.1L1674.4 1450.7L1675.4 1449.8L1676.4 1446.3L1677.4 1444.7L1678.4 1444.6L1679.4 1445.5L1680.4 1446.5L1681.4 1447.5L1682.4 1447.2L1683.4 1446.5L1684.4 1445.2L1685.4 1443.9L1686.4 1443.2L1687.4 1442.9L1688.4 1443.7L1689.4 1443.6L1690.4 1442.3L1691.4 1440.9L1692.4 1437.7L1693.4 1435.1L1694.4 1436.4L1695.4 1437.5L1696.4 1438.5L1697.4 1439.7L1698.4 1441.1L1699.4 1441.7L1700.4 1442.2L1701.4 1442.9L1702.4 1443.5L1703.4 1444.1L1704.4 1444.6L1705.4 1444.6L1706.4 1445.7L1707.4 1449.2L1708.4 1451.5L1709.4 1451.6L1710.4 1451L1711.4 1448.7L1712.4 1446.4L1713.4 1444.8L1714.4 1444.6L1715.4 1448.5L1716.4 1452.9L1717.4 1454.3L1718.4 1454.6L1719.4 1454.9L1720.4 1455L1721.4 1455L1722.4 1455.7L1723.4 1457.5L1724.4 1459.3L1725.4 1459.5L1726.4 1458.4L1727.4 1452L1728.4 1445.7L1729.4 1440.2L1730.4 1435.4L1731.4 1433.9L1732.4 1436.7L1733.4 1436L1734.4 1433.7L1735.4 1431.9L1736.4 1432.3L1737.4 1433.6L1738.4 1436.3L1739.4 1441.9L1740.4 1447.5L1741.4 1451.4L1742.4 1451.4L1743.4 1450.1L1744.4 1448.8L1745.4 1447.4L1746.4 1447.7L1747.4 1448.7L1748.4 1450.5L1749.4 1452L1750.4 1453.2L1751.4 1452.8L1752.4 1452.1L1753.4 1451.3L1754.4 1450.9L1755.4 1450.6L1756.4 1450.5L1757.4 1450.3L1758.4 1449.8L1759.4 1447.8L1760.4 1443.6L1761.4 1443.1L1762.4 1442.7L1763.4 1442.3L1764.4 1441.9L1765.4 1441.6L1766.4 1442.1L1767.4 1446.1L1768.4 1448.5L1769.4 1448.7L1770.4 1448.5L1771.4 1448.2L1772.4 1448L1773.4 1448.7L1774.4 1450.6L1775.4 1450.6L1776.4 1450.7L1777.4 1451.3L1778.4 1452L1779.4 1452.2L1780.4 1451.5L1781.4 1449.3L1782.4 1447.2L1783.4 1445.8L1784.4 1444.1L1785.4 1442.9L1786.4 1442.1L1787.4 1440.4L1788.4 1438L1789.4 1436.4L1790.4 1435.6L1791.4 1434.8L1792.4 1434.8L1793.4 1435.3L1794.4 1436L1795.4 1436.8L1796.4 1437.3L1797.4 1437.7L1798.4 1439L1799.4 1440.2L1800.4 1439.5L1801.4 1437.5L1802.4 1435.5L1803.4 1434.1L1804.4 1433.6L1805.4 1431.6L1806.4 1428.1L1807.4 1426.5L1808.4 1427L1809.4 1432.6L1810.4 1435.9L1811.4 1436.6L1812.4 1437.6L1813.4 1437.9L1814.4 1438.1L1815.4 1439L1816.4 1440.3L1817.4 1441.5L1818.4 1441.7L1819.4 1441.9L1820.4 1441.7L1821.4 1440.9L1822.4 1440.4L1823.4 1440.7L1824.4 1440.3L1825.4 1440.5L1826.4 1439.2L1827.4 1437.9L1828.4 1436.5L1829.4 1435.3L1830.4 1435.3L1831.4 1435.3L1832.4 1434.6L1833.4 1432.2L1834.4 1430.4L1835.4 1430.4L1836.4 1431.5L1837.4 1434.1L1838.4 1434.1L1839.4 1433.9L1840.4 1433.7L1841.4 1433.4L1842.4 1433.7L1843.4 1434.2L1844.4 1434.8L1845.4 1435.1L1846.4 1435.4L1847.4 1434.8L1848.4 1434L1849.4 1434.5L1850.4 1436.1L1851.4 1437.1L1852.4 1437.3L1853.4 1437.8L1854.4 1440L1855.4 1445.1L1856.4 1446.5L1857.4 1446.6L1858.4 1444.1L1859.4 1441.2L1860.4 1438.2L1861.4 1435.9L1862.4 1434.5L1863.4 1435.3L1864.4 1436.7L1865.4 1437L1866.4 1436.5L1867.4 1434.9L1868.4 1432.3L1869.4 1431.7L1870.4 1433.3L1871.4 1437L1872.4 1439.2L1873.4 1439.4L1874.4 1436.8L1875.4 1434.3L1876.4 1432L1877.4 1432.4L1878.4 1435.9L1879.4 1439.7L1880.4 1442.8L1881.4 1443.5L1882.4 1444L1883.4 1442.8L1884.4 1440.9L1885.4 1439L1886.4 1438.2L1887.4 1438.8L1888.4 1439.5L1889.4 1439.5L1890.4 1438.6L1891.4 1436.1L1892.4 1433.5L1893.4 1432.5L1894.4 1433.9L1895.4 1436.3L1896.4 1438.7L1897.4 1439.2L1898.4 1438.7L1899.4 1437.4L1900.4 1436.1L1901.4 1435.8L1902.4 1436L1903.4 1438.2L1904.4 1440.9L1905.4 1441.3L1906.4 1439.7L1907.4 1438.2L1908.4 1436.6L1909.4 1436.5L1910.4 1436.9L1911.4 1441.5L1912.4 1443.5L1913.4 1443.7L1914.4 1442.5L1915.4 1441.2L1916.4 1439.9L1917.4 1439.5L1918.4 1439.7L1919.4 1440.7L1920.4 1441.8L1921.4 1443L1922.4 1443.6L1923.4 1441.5L1924.4 1438.5L1925.4 1437.7L1926.4 1438.2L1927.4 1440.8L1928.4 1443.4L1929.4 1444.9L1930.4 1445.1L1931.4 1445.7L1932.4 1446.2L1933.4 1446.4L1934.4 1444.7L1935.4 1443L1936.4 1442L1937.4 1442.2L1938.4 1443.7L1939.4 1447.1L1940.4 1447.1L1941.4 1444.4L1942.4 1441.5L1943.4 1439.4L1944.4 1437.9L1945.4 1435.9L1946.4 1433.8L1947.4 1431.7L1948.4 1430.9L1949.4 1431.4L1950.4 1431.9L1951.4 1432.3L1952.4 1433.7L1953.4 1436.2L1954.4 1441.3L1955.4 1446.6L1956.4 1447.8L1957.4 1446.4L1958.4 1444.6L1959.4 1442.8L1960.4 1439.7L1961.4 1435.7L1962.4 1432.7L1963.4 1431.3L1964.4 1432.2L1965.4 1433.3L1966.4 1432.7L1967.4 1432.1L1968.4 1432.1L1969.4 1432.4L1970.4 1431.8L1971.4 1429.7L1972.4 1426L1973.4 1423.9L1974.4 1424.4L1975.4 1426.5L1976.4 1429.9L1977.4 1433.7L1978.4 1435.8L1979.4 1437.2L1980.4 1435.1L1981.4 1434.1L1982.4 1434.8L1983.4 1436.2L1984.4 1437.2L1985.4 1436.8L1986.4 1435.5L1987.4 1434.2L1988.4 1432.9L1989.4 1432.7L1990.4 1434.4L1991.4 1437.5L1992.4 1440.8L1993.4 1444.1L1994.4 1445.6L1995.4 1446.2L1996.4 1445.9L1997.4 1445.1L1998.4 1444.8L1999.4 1445.4L2000.4 1447.1L2001.4 1449.6L2002.4 1452.2L2003.4 1453.5L2004.4 1454.4L2005.4 1455.2L2006.4 1453.4L2007.4 1451.4L2008.4 1447.3L2009.4 1443.8L2010.4 1443.3L2011.4 1443.7L2012.4 1445.7L2013.4 1447.1L2014.4 1446.1L2015.4 1443.5L2016.4 1440.9L2017.4 1438.7L2018.4 1438L2019.4 1438.5L2020.4 1439.4L2021.4 1439.5L2022.4 1440.7L2023.4 1440.1L2024.4 1439.4L2025.4 1440.5L2026.4 1442L2027.4 1445L2028.4 1448.1L2029.4 1450.2L2030.4 1449.2L2031.4 1448.2L2032.4 1447.2L2033.4 1446.3L2034.4 1446.5L2035.4 1446.8L2036.4 1445.9L2037.4 1443.5L2038.4 1441.3L2039.4 1440.5L2040.4 1440.9L2041.4 1442.3L2042.4 1443.6L2043.4 1443.7L2044.4 1443.1L2045.4 1441.4L2046.4 1440.8L2047.4 1441.3L2048.4 1442.4L2049.4 1443.2L2050.4 1441.9L2051.4 1438.2L2052.4 1433.4L2053.4 1429.7L2054.4 1428.3L2055.4 1427.9L2056.4 1428.2L2057.4 1427.8L2058.4 1427.3L2059.4 1428.6L2060.4 1430.9L2061.4 1433.1L2062.4 1433.4L2063.4 1430.5L2064.4 1427.6L2065.4 1428.5L2066.4 1430.5L2067.4 1435.1L2068.4 1439L2069.4 1440.3L2070.4 1440.1L2071.4 1438.8L2072.4 1436.9L2073.4 1435.9L2074.4 1436L2075.4 1436.9L2076.4 1438.2L2077.4 1438.8L2078.4 1437.3L2079.4 1435L2080.4 1433.8L2081.4 1435.6L2082.4 1438.5L2083.4 1441.4L2084.4 1442.6L2085.4 1442.3L2086.4 1442L2087.4 1441.7L2088.4 1442.2L2089.4 1443.2L2090.4 1446.7L2091.4 1448.8L2092.4 1447.9L2093.4 1446.6L2094.4 1442.9L2095.4 1439L2096.4 1436.9L2097.4 1436.1L2098.4 1437L2099.4 1438.6L2100.4 1439.9L2101.4 1440.2L2102.4 1440.5L2103.4 1438.6L2104.4 1436.7L2105.4 1436L2106.4 1436.7L2107.4 1439L2108.4 1441.9L2109.4 1444.7L2110.4 1445.6L2111.4 1446L2112.4 1444.3L2113.4 1441.1L2114.4 1439L2115.4 1439.7L2116.4 1440.9L2117.4 1439.8L2118.4 1436.4L2119.4 1431.6L2120.4 1428.4L2121.4 1428.1L2122.4 1428.4L2123.4 1428.8L2124.4 1428L2125.4 1424.1L2126.4 1423.4L2127.4 1425.4L2128.4 1427.8L2129.4 1429.3L2130.4 1432.6L2131.4 1435.9L2132.4 1437.5L2133.4 1437.1L2134.4 1437.3L2135.4 1437.4L2136.4 1437.4L2137.4 1437.7L2138.4 1437.2L2139.4 1436.6L2140.4 1436.9L2141.4 1436.2L2142.4 1435.3L2143.4 1435.4L2144.4 1436.2L2145.4 1437.6L2146.4 1439L2147.4 1440L2148.4 1440.5L2149.4 1439.8L2150.4 1438.6L2151.4 1437.8L2152.4 1438.3L2153.4 1440.4L2154.4 1442.8L2155.4 1444.3L2156.4 1445.1L2157.4 1446.1L2158.4 1446.8L2159.4 1445.7L2160.4 1443.6L2161.4 1440.5L2162.4 1437.4L2163.4 1434.8L2164.4 1433.5L2165.4 1432.7L2166.4 1433.1L2167.4 1432.3L2168.4 1430.9L2169.4 1429.1L2170.4 1427.3L2171.4 1425.5L2172.4 1424.7L2173.4 1425.9L2174.4 1427.5L2175.4 1428.6L2176.4 1428.7L2177.4 1427L2178.4 1425.2L2179.4 1423.5L2180.4 1424L2181.4 1427.5L2182.4 1431.7L2183.4 1433.1L2184.4 1430.8L2185.4 1429.2L2186.4 1430.3L2187.4 1431.7L2188.4 1432.8L2189.4 1432.3L2190.4 1432.2L2191.4 1432.7L2192.4 1433.2L2193.4 1432.7L2194.4 1432.9L2195.4 1434.4L2196.4 1437.1L2197.4 1442.5L2198.4 1447.3L2199.4 1449.6L2200.4 1449.9L2201.4 1448.2L2202.4 1445.9L2203.4 1443.7L2204.4 1443.9L2205.4 1444.9L2206.4 1448.5L2207.4 1450.9L2208.4 1450.8L2209.4 1449.6L2210.4 1448.1L2211.4 1446.6L2212.4 1446.6L2213.4 1449.3L2214.4 1452L2215.4 1453.3L2216.4 1452.4L2217.4 1450.8L2218.4 1449.1L2219.4 1448.1L2220.4 1448.6L2221.4 1449.9L2222.4 1452.1L2223.4 1453L2224.4 1451.8L2225.4 1449.9L2226.4 1447.9L2227.4 1446L2228.4 1445.8L2229.4 1446.6L2230.4 1447.8L2231.4 1449L2232.4 1449.2L2233.4 1447.4L2234.4 1444.3L2235.4 1441.3L2236.4 1438.6L2237.4 1436.6L2238.4 1435.6L2239.4 1435.1L2240.4 1434.6L2241.4 1434L2242.4 1434.9L2243.4 1436.8L2244.4 1439.1L2245.4 1441.4L2246.4 1437.6L2247.4 1432.9L2248.4 1426.5L2249.4 1423.3L2250.4 1421.5L2251.4 1420.4L2252.4 1421.8L2253.4 1425.9L2254.4 1427.6L2255.4 1425.7L2256.4 1423.1L2257.4 1422L2258.4 1424.4L2259.4 1428L2260.4 1432.3L2261.4 1436.7L2262.4 1438.4L2263.4 1439.2L2264.4 1438.4L2265.4 1437.5L2266.4 1436.6L2267.4 1437.4L2268.4 1439.6L2269.4 1442.7L2270.4 1443.3L2271.4 1444.2L2272.4 1445.3L2273.4 1446.4L2274.4 1446.9L2275.4 1447.2L2276.4 1447.7L2277.4 1448.1L2278.4 1448.4L2279.4 1447L2280.4 1443.6L2281.4 1442.8L2282.4 1443.4L2283.4 1444.5L2284.4 1445.3L2285.4 1444.8L2286.4 1443.4L2287.4 1442L2288.4 1440.7L2289.4 1439.5L2290.4 1438.4L2291.4 1437.1L2292.4 1435.7L2293.4 1435.3L2294.4 1435.2L2295.4 1433.8L2296.4 1431.6L2297.4 1429.8L2298.4 1428.8L2299.4 1428L2300.4 1428.5L2301.4 1430.3L2302.4 1431.7L2303.4 1434.3L2304.4 1440.6L2305.4 1445.6L2306.4 1448.7L2307.4 1449.3L2308.4 1448.7L2309.4 1449L2310.4 1450.7L2311.4 1452.4L2312.4 1453.3L2313 1451.9L2313 1457.2L2312.4 1460.4L2311.4 1460.9L2310.4 1460.6L2309.4 1460.1L2308.4 1460.6L2307.4 1461.9L2306.4 1462.8L2305.4 1463.1L2304.4 1461.1L2303.4 1457.8L2302.4 1456.8L2301.4 1456.1L2300.4 1454.1L2299.4 1451L2298.4 1449.5L2297.4 1448.8L2296.4 1449.3L2295.4 1450.7L2294.4 1453L2293.4 1454.2L2292.4 1455.4L2291.4 1456.9L2290.4 1458L2289.4 1458.9L2288.4 1459.9L2287.4 1461.7L2286.4 1462.4L2285.4 1462.5L2284.4 1461.5L2283.4 1459.3L2282.4 1456.8L2281.4 1455.1L2280.4 1455.2L2279.4 1457.9L2278.4 1459.9L2277.4 1460.7L2276.4 1460.4L2275.4 1459.8L2274.4 1459.4L2273.4 1459.1L2272.4 1459.3L2271.4 1460L2270.4 1460.8L2269.4 1461.1L2268.4 1458.5L2267.4 1456.4L2266.4 1455.6L2265.4 1456L2264.4 1456.4L2263.4 1456.8L2262.4 1455.3L2261.4 1453.1L2260.4 1449L2259.4 1444.9L2258.4 1442.2L2257.4 1440.6L2256.4 1442.5L2255.4 1445.5L2254.4 1448L2253.4 1447.9L2252.4 1445.8L2251.4 1444.8L2250.4 1449.1L2249.4 1453.8L2248.4 1459.4L2247.4 1464.4L2246.4 1463.5L2245.4 1463.1L2244.4 1461.6L2243.4 1459.9L2242.4 1461.6L2241.4 1463.8L2240.4 1465.9L2239.4 1467.7L2238.4 1469.2L2237.4 1470.2L2236.4 1470.4L2235.4 1469.1L2234.4 1468.4L2233.4 1469L2232.4 1470.1L2231.4 1470.7L2230.4 1469.6L2229.4 1468L2228.4 1465.4L2227.4 1462.4L2226.4 1463.7L2225.4 1465.9L2224.4 1468.8L2223.4 1470.4L2222.4 1469.8L2221.4 1468.1L2220.4 1467L2219.4 1466.4L2218.4 1467.1L2217.4 1468.2L2216.4 1469.1L2215.4 1468.2L2214.4 1466.3L2213.4 1463.9L2212.4 1461.4L2211.4 1461L2210.4 1461.7L2209.4 1462.8L2208.4 1464.5L2207.4 1465.5L2206.4 1464.4L2205.4 1461.9L2204.4 1460.1L2203.4 1458.6L2202.4 1460L2201.4 1461.7L2200.4 1463.1L2199.4 1462.6L2198.4 1460.8L2197.4 1458.6L2196.4 1456.6L2195.4 1456.1L2194.4 1455.8L2193.4 1455L2192.4 1453L2191.4 1451.8L2190.4 1452.9L2189.4 1454.3L2188.4 1455.9L2187.4 1456.1L2186.4 1456.5L2185.4 1455.7L2184.4 1455.6L2183.4 1455.5L2182.4 1452.1L2181.4 1447.6L2180.4 1444.5L2179.4 1443.6L2178.4 1443.7L2177.4 1444.2L2176.4 1445.3L2175.4 1445.7L2174.4 1446.7L2173.4 1446.2L2172.4 1445.3L2171.4 1445.8L2170.4 1447L2169.4 1448.9L2168.4 1451.2L2167.4 1452.8L2166.4 1454L2165.4 1454.2L2164.4 1455L2163.4 1455.8L2162.4 1456.5L2161.4 1457.1L2160.4 1458.4L2159.4 1459.7L2158.4 1461.4L2157.4 1462.3L2156.4 1462.5L2155.4 1462.4L2154.4 1460.8L2153.4 1458.1L2152.4 1456.3L2151.4 1456.6L2150.4 1458L2149.4 1459.5L2148.4 1460.9L2147.4 1462.5L2146.4 1463.2L2145.4 1461.5L2144.4 1459.1L2143.4 1458.3L2142.4 1458.4L2141.4 1459.7L2140.4 1461L2139.4 1461.4L2138.4 1462.2L2137.4 1462.9L2136.4 1462.9L2135.4 1461.3L2134.4 1459.3L2133.4 1456.6L2132.4 1454.5L2131.4 1452.6L2130.4 1449.9L2129.4 1447.9L2128.4 1447.8L2127.4 1447.3L2126.4 1446.2L2125.4 1446.4L2124.4 1447L2123.4 1448.2L2122.4 1448.9L2121.4 1448.4L2120.4 1448.3L2119.4 1450.4L2118.4 1454.6L2117.4 1459.5L2116.4 1460.9L2115.4 1459.6L2114.4 1458.6L2113.4 1459.7L2112.4 1462.5L2111.4 1463.3L2110.4 1464.3L2109.4 1465.2L2108.4 1462.6L2107.4 1459.3L2106.4 1455.9L2105.4 1455L2104.4 1455.7L2103.4 1458.1L2102.4 1460.5L2101.4 1461.2L2100.4 1461.6L2099.4 1462.2L2098.4 1462L2097.4 1462.3L2096.4 1463L2095.4 1463.6L2094.4 1466.1L2093.4 1468.5L2092.4 1468.9L2091.4 1468.6L2090.4 1466L2089.4 1462.1L2088.4 1460L2087.4 1458.9L2086.4 1458.6L2085.4 1459L2084.4 1459.9L2083.4 1460.7L2082.4 1459.5L2081.4 1457.1L2080.4 1455.5L2079.4 1457.2L2078.4 1460.3L2077.4 1463.2L2076.4 1464.3L2075.4 1463.9L2074.4 1463.4L2073.4 1463.1L2072.4 1463L2071.4 1462.7L2070.4 1462L2069.4 1461.5L2068.4 1461.1L2067.4 1459L2066.4 1455.7L2065.4 1453.7L2064.4 1451.8L2063.4 1452.4L2062.4 1453.4L2061.4 1451.9L2060.4 1450.1L2059.4 1448.9L2058.4 1448.2L2057.4 1448.6L2056.4 1448.9L2055.4 1448.2L2054.4 1447.1L2053.4 1446.8L2052.4 1449.3L2051.4 1453.2L2050.4 1457.2L2049.4 1458.7L2048.4 1458L2047.4 1456.6L2046.4 1455.5L2045.4 1455.5L2044.4 1456.8L2043.4 1457.3L2042.4 1456.9L2041.4 1455.8L2040.4 1455.3L2039.4 1456.6L2038.4 1458.9L2037.4 1461.9L2036.4 1465.1L2035.4 1466.7L2034.4 1466.8L2033.4 1466.9L2032.4 1465.6L2031.4 1464.8L2030.4 1464.3L2029.4 1463.8L2028.4 1462.4L2027.4 1460.2L2026.4 1459.5L2025.4 1460.2L2024.4 1459.7L2023.4 1460.5L2022.4 1461.1L2021.4 1460.3L2020.4 1460.6L2019.4 1460L2018.4 1459.3L2017.4 1459.6L2016.4 1461.1L2015.4 1463.3L2014.4 1465.5L2013.4 1467.4L2012.4 1467.8L2011.4 1466.5L2010.4 1466.1L2009.4 1465.3L2008.4 1464.5L2007.4 1465.5L2006.4 1465.2L2005.4 1466.1L2004.4 1466L2003.4 1464.5L2002.4 1464L2001.4 1463L2000.4 1462.7L1999.4 1463.1L1998.4 1464L1997.4 1465.4L1996.4 1467.4L1995.4 1469.2L1994.4 1468.9L1993.4 1467.9L1992.4 1464.3L1991.4 1460.6L1990.4 1457.2L1989.4 1453.6L1988.4 1450.4L1987.4 1449.2L1986.4 1451.2L1985.4 1454.1L1984.4 1456.3L1983.4 1457.5L1982.4 1457.2L1981.4 1456.7L1980.4 1456.1L1979.4 1457L1978.4 1458.4L1977.4 1458.7L1976.4 1455.4L1975.4 1452.1L1974.4 1448.9L1973.4 1446.9L1972.4 1446.6L1971.4 1447.5L1970.4 1449.2L1969.4 1449.9L1968.4 1450.7L1967.4 1451.1L1966.4 1451.3L1965.4 1452L1964.4 1453.9L1963.4 1455.4L1962.4 1457.5L1961.4 1459.6L1960.4 1460.1L1959.4 1461L1958.4 1462.2L1957.4 1462.8L1956.4 1462.3L1955.4 1461L1954.4 1457.8L1953.4 1453.8L1952.4 1451.8L1951.4 1451.7L1950.4 1452.9L1949.4 1454.2L1948.4 1455.4L1947.4 1456.4L1946.4 1458.3L1945.4 1459.6L1944.4 1459.5L1943.4 1458.8L1942.4 1459.1L1941.4 1460.6L1940.4 1462.6L1939.4 1463.2L1938.4 1461.6L1937.4 1461.1L1936.4 1461.1L1935.4 1461.6L1934.4 1462.2L1933.4 1462.7L1932.4 1462.4L1931.4 1462.2L1930.4 1462.9L1929.4 1463.9L1928.4 1462.9L1927.4 1460.4L1926.4 1457.7L1925.4 1456.9L1924.4 1457.7L1923.4 1460.2L1922.4 1462.2L1921.4 1462.1L1920.4 1461.4L1919.4 1460.7L1918.4 1461L1917.4 1461.9L1916.4 1462.9L1915.4 1464L1914.4 1463.5L1913.4 1463.7L1912.4 1463.7L1911.4 1462.3L1910.4 1459L1909.4 1458.8L1908.4 1459.1L1907.4 1460.5L1906.4 1462.2L1905.4 1463.6L1904.4 1463.6L1903.4 1463.4L1902.4 1462.9L1901.4 1462.7L1900.4 1461.4L1899.4 1461.9L1898.4 1462.2L1897.4 1461.9L1896.4 1460.9L1895.4 1459L1894.4 1457.9L1893.4 1458.6L1892.4 1460.6L1891.4 1463.2L1890.4 1466.3L1889.4 1468.2L1888.4 1468.9L1887.4 1467.7L1886.4 1465.8L1885.4 1463.7L1884.4 1464L1883.4 1464.7L1882.4 1465.4L1881.4 1465.2L1880.4 1464.7L1879.4 1462.4L1878.4 1460.3L1877.4 1458.6L1876.4 1459L1875.4 1460.4L1874.4 1460L1873.4 1460.9L1872.4 1461.3L1871.4 1461.1L1870.4 1460L1869.4 1460.2L1868.4 1460.9L1867.4 1463L1866.4 1462.9L1865.4 1461.6L1864.4 1461.6L1863.4 1460.6L1862.4 1458.3L1861.4 1459.3L1860.4 1461.1L1859.4 1464.2L1858.4 1466.7L1857.4 1468.4L1856.4 1468.4L1855.4 1467.9L1854.4 1463.4L1853.4 1461.5L1852.4 1460.6L1851.4 1460.2L1850.4 1460.2L1849.4 1459.2L1848.4 1458.1L1847.4 1457.8L1846.4 1458L1845.4 1457.2L1844.4 1457.1L1843.4 1457L1842.4 1456.3L1841.4 1455.2L1840.4 1454.7L1839.4 1454.3L1838.4 1454.4L1837.4 1454.6L1836.4 1453.4L1835.4 1453.3L1834.4 1454L1833.4 1456.1L1832.4 1458.1L1831.4 1458.6L1830.4 1458.7L1829.4 1458.9L1828.4 1459.9L1827.4 1460.8L1826.4 1461.5L1825.4 1462.4L1824.4 1462.2L1823.4 1463L1822.4 1463.8L1821.4 1464.3L1820.4 1464.1L1819.4 1461.7L1818.4 1459.5L1817.4 1458.6L1816.4 1458.1L1815.4 1457.8L1814.4 1457.9L1813.4 1457.9L1812.4 1457.3L1811.4 1456.4L1810.4 1456.7L1809.4 1455.1L1808.4 1451.8L1807.4 1451.9L1806.4 1452.5L1805.4 1454.7L1804.4 1456.2L1803.4 1456.6L1802.4 1455.9L1801.4 1456.1L1800.4 1456.8L1799.4 1457.1L1798.4 1456.9L1797.4 1456.6L1796.4 1456.5L1795.4 1456.5L1794.4 1456.3L1793.4 1456.1L1792.4 1456.3L1791.4 1456.1L1790.4 1456.6L1789.4 1457.7L1788.4 1459.1L1787.4 1460.5L1786.4 1461.9L1785.4 1461.7L1784.4 1461.8L1783.4 1462.3L1782.4 1463.7L1781.4 1465.2L1780.4 1466.5L1779.4 1466.9L1778.4 1466.6L1777.4 1465.9L1776.4 1465.3L1775.4 1467.1L1774.4 1468.4L1773.4 1467.5L1772.4 1467.4L1771.4 1468.3L1770.4 1469.7L1769.4 1470.4L1768.4 1469.9L1767.4 1467.6L1766.4 1464L1765.4 1462.6L1764.4 1461.5L1763.4 1459.9L1762.4 1459.8L1761.4 1460.1L1760.4 1461.8L1759.4 1466.1L1758.4 1467.7L1757.4 1468.3L1756.4 1468.5L1755.4 1469.1L1754.4 1470.6L1753.4 1473L1752.4 1475.7L1751.4 1476.9L1750.4 1476.4L1749.4 1473.4L1748.4 1470.6L1747.4 1468.5L1746.4 1467.6L1745.4 1468L1744.4 1469L1743.4 1468.8L1742.4 1468L1741.4 1466.7L1740.4 1464.9L1739.4 1463.5L1738.4 1462.2L1737.4 1461.5L1736.4 1460.2L1735.4 1459.7L1734.4 1461L1733.4 1463.7L1732.4 1465.1L1731.4 1464L1730.4 1463.8L1729.4 1464.8L1728.4 1467.1L1727.4 1470L1726.4 1472.3L1725.4 1473.3L1724.4 1474.3L1723.4 1473.4L1722.4 1472.2L1721.4 1471.9L1720.4 1472L1719.4 1473.3L1718.4 1474.6L1717.4 1474.6L1716.4 1473.6L1715.4 1470.3L1714.4 1467.3L1713.4 1464.5L1712.4 1462.8L1711.4 1463.6L1710.4 1464.9L1709.4 1466.1L1708.4 1466.9L1707.4 1465.7L1706.4 1462.8L1705.4 1460.6L1704.4 1459L1703.4 1458.5L1702.4 1459.4L1701.4 1460.4L1700.4 1460.5L1699.4 1459.3L1698.4 1457.3L1697.4 1456.7L1696.4 1456.5L1695.4 1456.3L1694.4 1456.2L1693.4 1456.4L1692.4 1457.8L1691.4 1460L1690.4 1460.4L1689.4 1460.7L1688.4 1460.7L1687.4 1460.5L1686.4 1461.1L1685.4 1461.3L1684.4 1462L1683.4 1462.6L1682.4 1462.8L1681.4 1463.4L1680.4 1462L1679.4 1461.1L1678.4 1461.2L1677.4 1462.6L1676.4 1465L1675.4 1467.9L1674.4 1468.4L1673.4 1467.4L1672.4 1466.2L1671.4 1464.9L1670.4 1464.5L1669.4 1463.6L1668.4 1462.2L1667.4 1459.9L1666.4 1458.3L1665.4 1458L1664.4 1458.3L1663.4 1458.8L1662.4 1458.2L1661.4 1457.1L1660.4 1454.8L1659.4 1452L1658.4 1450.2L1657.4 1448.5L1656.4 1447.7L1655.4 1447.3L1654.4 1447.4L1653.4 1447.5L1652.4 1447.7L1651.4 1447.6L1650.4 1447.7L1649.4 1449.3L1648.4 1450.1L1647.4 1450.1L1646.4 1449.2L1645.4 1448.3L1644.4 1447.3L1643.4 1447.2L1642.4 1449.2L1641.4 1452L1640.4 1453.3L1639.4 1454.5L1638.4 1453.9L1637.4 1452.5L1636.4 1451.1L1635.4 1451.5L1634.4 1451.6L1633.4 1453.1L1632.4 1454.9L1631.4 1456L1630.4 1455.3L1629.4 1456.2L1628.4 1456.6L1627.4 1455.4L1626.4 1454.3L1625.4 1455.4L1624.4 1457.3L1623.4 1460L1622.4 1462.4L1621.4 1462.2L1620.4 1460.3L1619.4 1457L1618.4 1456.1L1617.4 1455.7L1616.4 1457.1L1615.4 1458.8L1614.4 1459.1L1613.4 1457.5L1612.4 1455.9L1611.4 1455.1L1610.4 1455.2L1609.4 1455.6L1608.4 1455.2L1607.4 1452.7L1606.4 1451.6L1605.4 1450.9L1604.4 1449.4L1603.4 1448.1L1602.4 1448.1L1601.4 1449.5L1600.4 1451.2L1599.4 1452.6L1598.4 1453.2L1597.4 1453.2L1596.4 1452.8L1595.4 1452.5L1594.4 1452.3L1593.4 1451.7L1592.4 1450.5L1591.4 1448.9L1590.4 1445.1L1589.4 1441.3L1588.4 1439.4L1587.4 1438.4L1586.4 1439.8L1585.4 1441.5L1584.4 1443L1583.4 1443.8L1582.4 1445.3L1581.4 1447.7L1580.4 1449.9L1579.4 1451L1578.4 1451.3L1577.4 1452.3L1576.4 1453.6L1575.4 1455L1574.4 1456.5L1573.4 1456.9L1572.4 1456L1571.4 1455.1L1570.4 1454.7L1569.4 1456.1L1568.4 1458.8L1567.4 1458.9L1566.4 1457.9L1565.4 1457.3L1564.4 1456.4L1563.4 1457L1562.4 1459.5L1561.4 1462.6L1560.4 1465.6L1559.4 1467.9L1558.4 1466.8L1557.4 1465.6L1556.4 1464.7L1555.4 1464.5L1554.4 1464L1553.4 1463.5L1552.4 1462L1551.4 1460.5L1550.4 1459.5L1549.4 1459.6L1548.4 1459.6L1547.4 1458.1L1546.4 1457.3L1545.4 1456.7L1544.4 1456.9L1543.4 1457.1L1542.4 1457L1541.4 1455.9L1540.4 1455.3L1539.4 1452.7L1538.4 1450.3L1537.4 1450.3L1536.4 1451.2L1535.4 1452.5L1534.4 1453.3L1533.4 1453.9L1532.4 1456.5L1531.4 1461.2L1530.4 1465.7L1529.4 1468L1528.4 1467.5L1527.4 1465.4L1526.4 1462.7L1525.4 1461.2L1524.4 1460.6L1523.4 1461.3L1522.4 1460.9L1521.4 1459.6L1520.4 1456.9L1519.4 1454.2L1518.4 1453L1517.4 1452.4L1516.4 1453.7L1515.4 1455.4L1514.4 1455.8L1513.4 1454.8L1512.4 1452.6L1511.4 1453.2L1510.4 1454.7L1509.4 1456.8L1508.4 1456.8L1507.4 1455L1506.4 1452.4L1505.4 1450.6L1504.4 1448.4L1503.4 1447.3L1502.4 1446.7L1501.4 1448.2L1500.4 1449L1499.4 1446.8L1498.4 1443.7L1497.4 1442.1L1496.4 1443.1L1495.4 1446.2L1494.4 1447.8L1493.4 1446.7L1492.4 1445.6L1491.4 1444.8L1490.4 1445.2L1489.4 1447L1488.4 1448.4L1487.4 1448.8L1486.4 1449.7L1485.4 1451.4L1484.4 1452.5L1483.4 1453.4L1482.4 1454.2L1481.4 1456.6L1480.4 1459.8L1479.4 1460.8L1478.4 1461.1L1477.4 1461.9L1476.4 1463L1475.4 1464.3L1474.4 1464.2L1473.4 1462.8L1472.4 1460.4L1471.4 1457.7L1470.4 1456.6L1469.4 1457.7L1468.4 1461.3L1467.4 1461.5L1466.4 1460.7L1465.4 1459.6L1464.4 1459L1463.4 1458.8L1462.4 1458.3L1461.4 1455.3L1460.4 1453.5L1459.4 1452.2L1458.4 1452.3L1457.4 1452.1L1456.4 1450.3L1455.4 1446.8L1454.4 1449L1453.4 1452.1L1452.4 1457.3L1451.4 1460.6L1450.4 1462.2L1449.4 1463.2L1448.4 1462.7L1447.4 1462L1446.4 1462L1445.4 1462.4L1444.4 1461.9L1443.4 1461.3L1442.4 1461.6L1441.4 1462.9L1440.4 1463.9L1439.4 1462.9L1438.4 1461.6L1437.4 1460.9L1436.4 1460.9L1435.4 1460.3L1434.4 1458.6L1433.4 1459.1L1432.4 1458.9L1431.4 1460.2L1430.4 1460.2L1429.4 1459.3L1428.4 1456.7L1427.4 1455.6L1426.4 1455L1425.4 1454.2L1424.4 1453.9L1423.4 1453.7L1422.4 1454.3L1421.4 1454.2L1420.4 1453.8L1419.4 1452.5L1418.4 1451.9L1417.4 1451.2L1416.4 1451.3L1415.4 1451.4L1414.4 1451.4L1413.4 1452.3L1412.4 1450.7L1411.4 1447.7L1410.4 1448.2L1409.4 1449.9L1408.4 1451.3L1407.4 1451.1L1406.4 1449.8L1405.4 1447.6L1404.4 1444.9L1403.4 1443L1402.4 1443.4L1401.4 1445.3L1400.4 1446L1399.4 1444.6L1398.4 1443.2L1397.4 1442.3L1396.4 1443.4L1395.4 1444.4L1394.4 1447.1L1393.4 1448.6L1392.4 1447.9L1391.4 1447.8L1390.4 1449.1L1389.4 1450.5L1388.4 1451.9L1387.4 1453.2L1386.4 1455L1385.4 1458.1L1384.4 1459.3L1383.4 1459.6L1382.4 1459.4L1381.4 1458.8L1380.4 1459.3L1379.4 1460.9L1378.4 1462.9L1377.4 1464L1376.4 1464.2L1375.4 1464.5L1374.4 1463.9L1373.4 1461.8L1372.4 1459.9L1371.4 1458.5L1370.4 1457.1L1369.4 1455.7L1368.4 1455.1L1367.4 1454.9L1366.4 1455.2L1365.4 1455.9L1364.4 1455.6L1363.4 1454.8L1362.4 1454.2L1361.4 1454L1360.4 1454L1359.4 1452.7L1358.4 1450L1357.4 1447.8L1356.4 1447.7L1355.4 1448.1L1354.4 1450L1353.4 1451.6L1352.4 1451L1351.4 1448.3L1350.4 1444.6L1349.4 1443L1348.4 1443.6L1347.4 1445.7L1346.4 1447.3L1345.4 1447.7L1344.4 1449.1L1343.4 1450.5L1342.4 1451.8L1341.4 1452.2L1340.4 1452.6L1339.4 1451L1338.4 1449.7L1337.4 1450L1336.4 1450.7L1335.4 1452.8L1334.4 1454.4L1333.4 1455.2L1332.4 1453.8L1331.4 1452.1L1330.4 1450.6L1329.4 1450.2L1328.4 1450.1L1327.4 1450.4L1326.4 1449.5L1325.4 1447.4L1324.4 1446.1L1323.4 1445.6L1322.4 1446.1L1321.4 1446.8L1320.4 1447.4L1319.4 1447.3L1318.4 1447.8L1317.4 1449.6L1316.4 1450.1L1315.4 1448.6L1314.4 1446.1L1313.4 1444.4L1312.4 1445.5L1311.4 1447.1L1310.4 1448.5L1309.4 1449.6L1308.4 1450.4L1307.4 1450.5L1306.4 1451.5L1305.4 1452.3L1304.4 1452.6L1303.4 1451.8L1302.4 1450L1301.4 1448.1L1300.4 1446.5L1299.4 1446.1L1298.4 1447.3L1297.4 1448.8L1296.4 1449.4L1295.4 1447.9L1294.4 1444.7L1293.4 1443.8L1292.4 1443.1L1291.4 1444.4L1290.4 1445.8L1289.4 1445.2L1288.4 1445.1L1287.4 1444.9L1286.4 1444.2L1285.4 1442.7L1284.4 1440.7L1283.4 1440.3L1282.4 1440.9L1281.4 1441.2L1280.4 1441.5L1279.4 1442.4L1278.4 1443L1277.4 1444L1276.4 1444.4L1275.4 1446.6L1274.4 1449.8L1273.4 1450.8L1272.4 1450.7L1271.4 1448.1L1270.4 1447.3L1269.4 1448L1268.4 1452.3L1267.4 1453.4L1266.4 1452.3L1265.4 1451.3L1264.4 1450.6L1263.4 1447.3L1262.4 1444.5L1261.4 1445.4L1260.4 1447.4L1259.4 1450.9L1258.4 1453.4L1257.4 1452.6L1256.4 1450.2L1255.4 1447.2L1254.4 1445L1253.4 1444.2L1252.4 1445.1L1251.4 1445.9L1250.4 1445.4L1249.4 1443.9L1248.4 1441.9L1247.4 1441.2L1246.4 1442.6L1245.4 1444.8L1244.4 1446L1243.4 1447.1L1242.4 1445.1L1241.4 1443.6L1240.4 1443.1L1239.4 1442.8L1238.4 1443.4L1237.4 1443.9L1236.4 1445.4L1235.4 1448.1L1234.4 1450.1L1233.4 1450.3L1232.4 1449L1231.4 1448.2L1230.4 1447.9L1229.4 1447.8L1228.4 1447.6L1227.4 1447.2L1226.4 1446.8L1225.4 1446.4L1224.4 1445.5L1223.4 1447.8L1222.4 1450.9L1221.4 1452.2L1220.4 1451.9L1219.4 1451.7L1218.4 1452.1L1217.4 1453L1216.4 1454.3L1215.4 1455.3L1214.4 1455.4L1213.4 1454.2L1212.4 1452.2L1211.4 1449.4L1210.4 1446.7L1209.4 1445.8L1208.4 1445.3L1207.4 1446.1L1206.4 1447.7L1205.4 1448.7L1204.4 1450L1203.4 1450L1202.4 1449.1L1201.4 1447.8L1200.4 1447.5L1199.4 1447.6L1198.4 1449.1L1197.4 1450.7L1196.4 1450.8L1195.4 1449.7L1194.4 1447.6L1193.4 1446.5L1192.4 1446.4L1191.4 1447L1190.4 1446.2L1189.4 1446.1L1188.4 1444.1L1187.4 1441.3L1186.4 1441.2L1185.4 1441.5L1184.4 1442.3L1183.4 1443.1L1182.4 1444.2L1181.4 1444.3L1180.4 1447.8L1179.4 1450.8L1178.4 1453.2L1177.4 1455.5L1176.4 1457.5L1175.4 1457.9L1174.4 1458.8L1173.4 1460.3L1172.4 1462.2L1171.4 1462.4L1170.4 1462.7L1169.4 1462.4L1168.4 1460.4L1167.4 1458L1166.4 1456L1165.4 1453.8L1164.4 1452L1163.4 1449.8L1162.4 1449.9L1161.4 1450.2L1160.4 1451.1L1159.4 1451.6L1158.4 1452L1157.4 1450.7L1156.4 1447.2L1155.4 1445.4L1154.4 1446L1153.4 1449L1152.4 1452.3L1151.4 1453.5L1150.4 1453.1L1149.4 1451.2L1148.4 1448.9L1147.4 1447.3L1146.4 1448.3L1145.4 1450.3L1144.4 1452.1L1143.4 1452L1142.4 1451.4L1141.4 1449.1L1140.4 1447L1139.4 1445.8L1138.4 1446.3L1137.4 1447.7L1136.4 1449.3L1135.4 1449.3L1134.4 1448.2L1133.4 1446.3L1132.4 1444.4L1131.4 1443.4L1130.4 1443.5L1129.4 1446.3L1128.4 1448.7L1127.4 1450.2L1126.4 1449.4L1125.4 1447.3L1124.4 1445.7L1123.4 1444.3L1122.4 1445.2L1121.4 1445L1120.4 1443.7L1119.4 1441.6L1118.4 1440.5L1117.4 1440.4L1116.4 1441.6L1115.4 1442.7L1114.4 1441.9L1113.4 1441.1L1112.4 1440.7L1111.4 1440.3L1110.4 1439.1L1109.4 1437.7L1108.4 1436.5L1107.4 1435.1L1106.4 1434.1L1105.4 1434.8L1104.4 1435.9L1103.4 1437.4L1102.4 1438.9L1101.4 1440.1L1100.4 1440.9L1099.4 1440.8L1098.4 1440.2L1097.4 1437.9L1096.4 1436.1L1095.4 1436.1L1094.4 1437.5L1093.4 1438.9L1092.4 1440.4L1091.4 1440.8L1090.4 1440.5L1089.4 1440.1L1088.4 1441.7L1087.4 1442L1086.4 1442.8L1085.4 1442.2L1084.4 1441.1L1083.4 1439.7L1082.4 1439.9L1081.4 1440.3L1080.4 1440.6L1079.4 1441.4L1078.4 1443.1L1077.4 1446L1076.4 1448.6L1075.4 1449.9L1074.4 1449.2L1073.4 1447.2L1072.4 1445.4L1071.4 1445.6L1070.4 1445.9L1069.4 1447.4L1068.4 1448.9L1067.4 1450L1066.4 1449.9L1065.4 1448.4L1064.4 1446.4L1063.4 1445.6L1062.4 1444.8L1061.4 1443.2L1060.4 1441.7L1059.4 1440.8L1058.4 1440.5L1057.4 1442.9L1056.4 1446.4L1055.4 1446.3L1054.4 1445.8L1053.4 1442.1L1052.4 1439.7L1051.4 1439.3L1050.4 1440L1049.4 1440.9L1048.4 1441.8L1047.4 1441.7L1046.4 1441.4L1045.4 1442.7L1044.4 1443.6L1043.4 1443.1L1042.4 1441.4L1041.4 1438.7L1040.4 1436.8L1039.4 1437L1038.4 1437.6L1037.4 1440.5L1036.4 1443.4L1035.4 1444.3L1034.4 1444.1L1033.4 1442.3L1032.4 1440.6L1031.4 1440.2L1030.4 1441.7L1029.4 1443.4L1028.4 1443.4L1027.4 1442.7L1026.4 1440.5L1025.4 1438.3L1024.4 1437.8L1023.4 1438L1022.4 1438.4L1021.4 1438.4L1020.4 1437.6L1019.4 1436L1018.4 1432.2L1017.4 1428.1L1016.4 1424.4L1015.4 1422.8L1014.4 1424.4L1013.4 1424.2L1012.4 1422.1L1011.4 1419.5L1010.4 1417.1L1009.4 1415.6L1008.4 1417.1L1007.4 1421L1006.4 1424.4L1005.4 1425.7L1004.4 1425L1003.4 1423.4L1002.4 1422.8L1001.4 1424L1000.4 1425.5L999.4 1427.6L998.4 1429.1L997.4 1430.1L996.4 1430.3L995.4 1429.4L994.4 1429L993.4 1428.5L992.4 1428.9L991.4 1429.9L990.4 1431.5L989.4 1433.2L988.4 1433.9L987.4 1433.8L986.4 1432.8L985.4 1432.4L984.4 1433.1L983.4 1433.5L982.4 1433.8L981.4 1434.5L980.4 1435.8L979.4 1436L978.4 1435L977.4 1432.8L976.4 1431L975.4 1430.9L974.4 1432.2L973.4 1434.1L972.4 1436.2L971.4 1437.2L970.4 1437.9L969.4 1437.5L968.4 1436.4L967.4 1434.8L966.4 1435L965.4 1435.5L964.4 1437L963.4 1438L962.4 1438.6L961.4 1438.7L960.4 1437.8L959.4 1435.7L958.4 1433.5L957.4 1431.5L956.4 1429.7L955.4 1428.7L954.4 1428.6L953.4 1428.9L952.4 1428.8L951.4 1428.5L950.4 1427.7L949.4 1426.1L948.4 1425L947.4 1425L946.4 1426.4L945.4 1428L944.4 1430.5L943.4 1432.9L942.4 1434.5L941.4 1435.2L940.4 1433L939.4 1431.4L938.4 1432.4L937.4 1434.5L936.4 1437.1L935.4 1439.6L934.4 1441.4L933.4 1439.8L932.4 1436.2L931.4 1433.1L930.4 1434.1L929.4 1435.8L928.4 1435.9L927.4 1434.4L926.4 1432.9L925.4 1431.8L924.4 1429.8L923.4 1428.5L922.4 1426.3L921.4 1423.8L920.4 1422.5L919.4 1422.6L918.4 1424.3L917.4 1425.6L916.4 1425L915.4 1422.5L914.4 1420L913.4 1420.6L912.4 1422L911.4 1424.1L910.4 1425.6L909.4 1426.9L908.4 1427.7L907.4 1427.9L906.4 1427.7L905.4 1427.6L904.4 1428L903.4 1429.5L902.4 1432L901.4 1432.2L900.4 1432.9L899.4 1433.4L898.4 1430.7L897.4 1427.1L896.4 1424.2L895.4 1424.8L894.4 1426.5L893.4 1429L892.4 1431.5L891.4 1432.5L890.4 1432.5L889.4 1430.8L888.4 1429.3L887.4 1428.9L886.4 1429.9L885.4 1432.6L884.4 1435.4L883.4 1436.6L882.4 1437.1L881.4 1437.9L880.4 1438.3L879.4 1438.7L878.4 1437.8L877.4 1436.1L876.4 1435.7L875.4 1436.2L874.4 1436.5L873.4 1436.9L872.4 1437.7L871.4 1438.2L870.4 1439.3L869.4 1437.8L868.4 1434.6L867.4 1429.8L866.4 1427.2L865.4 1427.1L864.4 1431.8L863.4 1434.1L862.4 1434.2L861.4 1431.8L860.4 1430L859.4 1429.2L858.4 1429.7L857.4 1431.7L856.4 1432.5L855.4 1433.3L854.4 1433.9L853.4 1433.9L852.4 1433.4L851.4 1432.7L850.4 1433.4L849.4 1436.9L848.4 1441.4L847.4 1443.8L846.4 1444.3L845.4 1441.1L844.4 1437.2L843.4 1435.4L842.4 1434.5L841.4 1433.3L840.4 1433.9L839.4 1434.6L838.4 1434.6L837.4 1435.2L836.4 1435L835.4 1434.2L834.4 1433.3L833.4 1433L832.4 1432.6L831.4 1432.3L830.4 1431.6L829.4 1430.6L828.4 1428.7L827.4 1426.8L826.4 1425.3L825.4 1424.7L824.4 1425.9L823.4 1427.7L822.4 1428.5L821.4 1428.5L820.4 1428.2L819.4 1427.6L818.4 1426.6L817.4 1425.5L816.4 1425.9L815.4 1427L814.4 1427.6L813.4 1426.4L812.4 1426.7L811.4 1426.9L810.4 1427L809.4 1427.1L808.4 1426.6L807.4 1427.2L806.4 1428.1L805.4 1428.8L804.4 1429.3L803.4 1429.1L802.4 1428L801.4 1426.6L800.4 1425.4L799.4 1424.8L798.4 1425.7L797.4 1427.7L796.4 1427.2L795.4 1425.6L794.4 1425.5L793.4 1425.5L792.4 1425.9L791.4 1426.4L790.4 1426.2L789.4 1425.9L788.4 1426.3L787.4 1427.5L786.4 1428.6L785.4 1428.9L784.4 1429.9L783.4 1429.9L782.4 1429.1L781.4 1428L780.4 1427.3L779.4 1426.6L778.4 1426.9L777.4 1428L776.4 1430.1L775.4 1431.3L774.4 1431.6L773.4 1429.7L772.4 1427.9L771.4 1426.7L770.4 1427.4L769.4 1429.3L768.4 1428.9L767.4 1426.5L766.4 1423.4L765.4 1421.7L764.4 1421.4L763.4 1421.5L762.4 1423.2L761.4 1424.6L760.4 1426L759.4 1427.1L758.4 1427.6L757.4 1427.3L756.4 1425.3L755.4 1423.6L754.4 1422.6L753.4 1422.4L752.4 1422.7L751.4 1421.7L750.4 1421.5L749.4 1421.7L748.4 1421.3L747.4 1421.1L746.4 1421.2L745.4 1421L744.4 1420.4L743.4 1419.3L742.4 1416.2L741.4 1412.1L740.4 1410.7L739.4 1410.7L738.4 1412.2L737.4 1413.7L736.4 1414.4L735.4 1413.5L734.4 1411.6L733.4 1411L732.4 1411.4L731.4 1413.9L730.4 1416.5L729.4 1418.4L728.4 1419.4L727.4 1418.6L726.4 1416.4L725.4 1416.1L724.4 1416.3L723.4 1416L722.4 1415.4L721.4 1415.4L720.4 1416.4L719.4 1417.8L718.4 1419.2L717.4 1422L716.4 1424.8L715.4 1426.9L714.4 1429.4L713.4 1430.8L712.4 1431.4L711.4 1431.3L710.4 1429.2L709.4 1426.1L708.4 1425.4L707.4 1425.3L706.4 1424.9L705.4 1423.9L704.4 1422.3L703.4 1419.9L702.4 1415.8L701.4 1414L700.4 1413.2L699.4 1413.2L698.4 1415L697.4 1417L696.4 1417.8L695.4 1417.8L694.4 1418L693.4 1419.1L692.4 1420L691.4 1420.3L690.4 1419.1L689.4 1418.8L688.4 1417.7L687.4 1415.3L686.4 1413.2L685.4 1412.5L684.4 1412.1L683.4 1413L682.4 1416L681.4 1416.6L680.4 1415.2L679.4 1413.4L678.4 1411.2L677.4 1410.2L676.4 1411.2L675.4 1412.4L674.4 1413.1L673.4 1412.4L672.4 1411.7L671.4 1409.5L670.4 1408.6L669.4 1408.6L668.4 1410.9L667.4 1413L666.4 1413.7L665.4 1413.5L664.4 1410.5L663.4 1408.8L662.4 1408.4L661.4 1410.5L660.4 1412.4L659.4 1412.6L658.4 1410.7L657.4 1407.9L656.4 1405.7L655.4 1405.8L654.4 1406.8L653.4 1407.9L652.4 1408.1L651.4 1405.5L650.4 1404.4L649.4 1405L648.4 1406.5L647.4 1409.6L646.4 1411.7L645.4 1412.8L644.4 1412.4L643.4 1411L642.4 1409.2L641.4 1408.9L640.4 1408.6L639.4 1408L638.4 1406.9L637.4 1406.4L636.4 1406.2L635.4 1405.9L634.4 1405.5L633.4 1405.2L632.4 1404.6L631.4 1405.2L630.4 1405.8L629.4 1405.4L628.4 1405.9L627.4 1406L626.4 1407L625.4 1407.4L624.4 1407.5L623.4 1405.3L622.4 1405.3L621.4 1406.2L620.4 1408.5L619.4 1410.7L618.4 1411.3L617.4 1410.3L616.4 1408.3L615.4 1407.6L614.4 1408.2L613.4 1409.6L612.4 1411.5L611.4 1413.6L610.4 1413.4L609.4 1410.9L608.4 1407.5L607.4 1405.4L606.4 1402.8L605.4 1400.3L604.4 1399.6L603.4 1400.5L602.4 1399.2L601.4 1397.7L600.4 1398.3L599.4 1399.3L598.4 1402.4L597.4 1406.1L596.4 1408.3L595.4 1407.7L594.4 1405.9L593.4 1403.3L592.4 1400.7L591.4 1399.6L590.4 1400.4L589.4 1401.5L588.4 1402.7L587.4 1404.2L586.4 1404.5L585.4 1404L584.4 1403.2L583.4 1403.1L582.4 1401.8L581.4 1399.7L580.4 1397.5L579.4 1395.3L578.4 1393.9L577.4 1393.6L576.4 1393.9L575.4 1395.6L574.4 1396.7L573.4 1396.8L572.4 1395.5L571.4 1393.6L570.4 1392.3L569.4 1392.4L568.4 1393.3L567.4 1394.2L566.4 1394.5L565.4 1395.6L564.4 1397.2L563.4 1397.9L562.4 1398.5L561.4 1398.5L560.4 1397.9L559.4 1397L558.4 1395.8L557.4 1394.9L556.4 1393.1L555.4 1392L554.4 1390.8L553.4 1389.9L552.4 1389.5L551.4 1390.4L550.4 1393.1L549.4 1395.8L548.4 1397.6L547.4 1397.2L546.4 1395.9L545.4 1395.7L544.4 1396.3L543.4 1398.1L542.4 1399.8L541.4 1400.7L540.4 1401.7L539.4 1402.5L538.4 1406.3L537.4 1407.1L536.4 1404.7L535.4 1401.8L534.4 1400.1L533.4 1399.3L532.4 1398.5L531.4 1397.2L530.4 1396.1L529.4 1396.1L528.4 1396.9L527.4 1395.3L526.4 1393.6L525.4 1390.1L524.4 1387.2L523.4 1385.5L522.4 1383.9L521.4 1383.7L520.4 1383.4L519.4 1383.6L518.4 1384.5L517.4 1385.5L516.4 1387L515.4 1387.4L514.4 1386.5L513.4 1385.9L512.4 1385.2L511.4 1385.4L510.4 1386.1L509.4 1386.4L508.4 1387L507.4 1387.8L506.4 1388L505.4 1387.8L504.4 1387.6L503.4 1386L502.4 1384.2L501.4 1383.7L500.4 1383.4L499.4 1384.3L498.4 1385.3L497.4 1385.6L496.4 1384.7L495.4 1381.9L494.4 1380.3L493.4 1379.1L492.4 1379.2L491.4 1379.1L490.4 1377.8L489.4 1377L488.4 1376.4L487.4 1375.4L486.4 1374.4L485.4 1373.3L484.4 1372.3L483.4 1371.9L482.4 1372L481.4 1372.4L480.4 1373.4L479.4 1374.7L478.4 1375.9L477.4 1377.2L476.4 1377.3L475.4 1377.4L474.4 1377.5L473.4 1378.1L472.4 1378.6L471.4 1379.1L470.4 1378.7L469.4 1378.1L468.4 1376.3L467.4 1374.3L466.4 1373.1L465.4 1372.7L464.4 1372.8L463.4 1372.3L462.4 1371.3L461.4 1369.8L460.4 1368.7L459.4 1367.3L458.4 1366L457.4 1364.8L456.4 1363.8L455.4 1363L454.4 1362.3L453.4 1361.4L452.4 1360.6L451.4 1359.8L450.4 1359.7L449.4 1359.8L448.4 1359.9L447.4 1360.1L446.4 1360.6L445.4 1361L444.4 1361.1L443.4 1360.8L442.4 1360.6L441.4 1360.3L440.4 1360.1L439.4 1359.8L438.4 1360.2L437.4 1360.9L436.4 1361.2L435.4 1361.6L434.4 1362.1L433.4 1362.7L432.4 1362.3L431.4 1361.9L430.4 1361.8L429.4 1361.6L428.4 1360.9L427.4 1359.9L426.4 1358.6L425.4 1357.1L424.4 1354.5L423.4 1352L422.4 1349.6L421.4 1347.4L420.4 1347.1L419.4 1347L418.4 1346.4L417.4 1345.7L416.4 1345.1L415.4 1344.8L414.4 1344.7L413.4 1344.6L412.4 1344.7L411.4 1344.7L410.4 1345L409.4 1345L408.4 1344.5L407.4 1344.1L406.4 1343.8L405.4 1343.8L404.4 1343.8L403.4 1343.6L398.5 1334.6L393.5 1328.7L387.5 1320.7L381.6 1310.8L377.6 1298.9L371.7 1296.9L365.7 1292.9Z" fill="#2053a6" stroke="#2053a6" stroke-width="1.4" stroke-linejoin="round"/>
<path d="M237.2 248.3L251.8 268.6L237.2 288.9L222.6 268.6Z" fill="none" stroke="#2053a6" stroke-width="7" stroke-linejoin="miter" stroke-miterlimit="10"/>
<path d="M510.3 1351.5L524.9 1371.8L510.3 1392.1L495.7 1371.8Z" fill="none" stroke="#2053a6" stroke-width="7" stroke-linejoin="miter" stroke-miterlimit="10"/>
<path d="M783 1395.7L797.6 1416L783 1436.3L768.4 1416Z" fill="none" stroke="#2053a6" stroke-width="7" stroke-linejoin="miter" stroke-miterlimit="10"/>
<path d="M1055.7 1411.6L1070.3 1431.9L1055.7 1452.2L1041.1 1431.9Z" fill="none" stroke="#2053a6" stroke-width="7" stroke-linejoin="miter" stroke-miterlimit="10"/>
<path d="M1328.4 1421.2L1343 1441.5L1328.4 1461.8L1313.8 1441.5Z" fill="none" stroke="#2053a6" stroke-width="7" stroke-linejoin="miter" stroke-miterlimit="10"/>
<path d="M1601.1 1424.9L1615.7 1445.2L1601.1 1465.5L1586.5 1445.2Z" fill="none" stroke="#2053a6" stroke-width="7" stroke-linejoin="miter" stroke-miterlimit="10"/>
<path d="M1873.8 1437.8L1888.4 1458.1L1873.8 1478.4L1859.2 1458.1Z" fill="none" stroke="#2053a6" stroke-width="7" stroke-linejoin="miter" stroke-miterlimit="10"/>
<path d="M2146.5 1434.7L2161.1 1455L2146.5 1475.3L2131.9 1455Z" fill="none" stroke="#2053a6" stroke-width="7" stroke-linejoin="miter" stroke-miterlimit="10"/>
</g>
<g id="curve-r">
<path d="M237.2 268.8L246 264L251.6 262.2L252.6 268L253.8 289.6L255.5 339.2L257.9 420L259.7 474.4L264.8 584.2L272.3 697L278.7 782.3L286.2 864.7L295 933.3L299.6 960L306.7 999.7L313.4 1039.4L320.4 1079L325.6 1100L328 1112L331 1124.5L336 1137L339.5 1152L343 1166L347.5 1175L351.5 1186L356.5 1196L358.4 1200.5" fill="none" stroke="#ed2728" stroke-width="7.8" stroke-linejoin="round" stroke-linecap="butt"/>
<path d="M356.4 1182.3L359.4 1189.3L361.8 1196.2L363.3 1206.2L366.3 1205.2L368.3 1191.3L372.3 1182.8L377.2 1182.3L379.2 1189.3L382.2 1206.4L383.2 1213.7L384.2 1220.9L385.2 1226.5L386.2 1231.8L387.2 1234.1L388.2 1233.7L389.2 1233.5L390.2 1233.6L391.2 1234.2L392.2 1234.5L393.2 1236.9L394.2 1238.2L395.2 1239.8L396.2 1240.3L397.2 1241.2L398.2 1241.8L399.2 1242L400.2 1242.2L401.2 1242.3L402.2 1243.1L403.2 1247.1L404.2 1250L405.2 1249.6L406.2 1249.3L407.2 1249.3L408.2 1249.4L409.2 1249.5L410.2 1250.2L411.2 1253.3L412.2 1256.4L413.2 1258.5L414.2 1258.9L415.2 1258.8L416.2 1257.1L417.2 1251.4L418.2 1246L419.2 1241.9L420.2 1241.4L421.2 1240.9L422.2 1240.4L423.2 1240.9L424.2 1243L425.2 1245L426.2 1248.8L427.2 1254.2L428.2 1257L429.2 1256.5L430.2 1255.2L431.2 1253.9L432.2 1253.1L433.2 1253.1L434.2 1255.2L435.2 1258.7L436.2 1262.2L437.2 1264.9L438.2 1267.7L439.2 1266.4L440.2 1261.3L441.2 1256.8L442.2 1252.9L443.2 1252.5L444.2 1251.9L445.2 1250.2L446.2 1247.4L447.2 1244.9L448.2 1244L449.2 1244.3L450.2 1247.8L451.2 1250.9L452.2 1253L453.2 1252.5L454.2 1251.4L455.2 1252.1L456.2 1252.3L457.2 1252.7L458.2 1252.2L459.2 1251.2L460.2 1250.7L461.2 1249.9L462.2 1248.4L463.2 1245.3L464.2 1239.8L465.2 1234.8L466.2 1233.9L467.2 1235.2L468.2 1236.5L469.2 1239.2L470.2 1241.5L471.2 1243L472.2 1245.1L473.2 1249.7L474.2 1252.6L475.2 1252.8L476.2 1253L477.2 1253.2L478.2 1253.2L479.2 1253.5L480.2 1252.4L481.2 1252.4L482.2 1253.3L483.2 1255.6L484.2 1257.9L485.2 1260.3L486.2 1261L487.2 1261.5L488.2 1262.3L489.2 1263.2L490.2 1264.7L491.2 1265.7L492.2 1266L493.2 1266.3L494.2 1266.9L495.2 1267.5L496.2 1267.5L497.2 1267.5L498.2 1267.4L499.2 1267.9L500.2 1269.9L501.2 1271.4L502.2 1270.9L503.2 1270.1L504.2 1267.9L505.2 1266.6L506.2 1266.4L507.2 1267.3L508.2 1267.7L509.2 1267.7L510.2 1268L511.2 1269.8L512.2 1272.1L513.2 1274.5L514.2 1274.8L515.2 1274.3L516.2 1271.5L517.2 1268.7L518.2 1266.3L519.2 1265.6L520.2 1265.2L521.2 1269L522.2 1270.9L523.2 1270.9L524.2 1269.8L525.2 1267.4L526.2 1265.2L527.2 1265.5L528.2 1265.9L529.2 1268L530.2 1270.4L531.2 1271.5L532.2 1270.7L533.2 1269.5L534.2 1266.9L535.2 1264.4L536.2 1262.6L537.2 1263.5L538.2 1265.4L539.2 1269.3L540.2 1273.3L541.2 1273.8L542.2 1273.8L543.2 1272L544.2 1269.6L545.2 1269L546.2 1269.2L547.2 1270.1L548.2 1270.9L549.2 1270.7L550.2 1268.4L551.2 1266.7L552.2 1266.2L553.2 1265.3L554.2 1264.5L555.2 1264L556.2 1264.2L557.2 1266.8L558.2 1271.9L559.2 1274.3L560.2 1273.5L561.2 1271.8L562.2 1272.4L563.2 1274.3L564.2 1277.6L565.2 1281L566.2 1282.3L567.2 1280L568.2 1273.7L569.2 1267.3L570.2 1265.3L571.2 1268L572.2 1272.8L573.2 1273.1L574.2 1272.7L575.2 1272.4L576.2 1272.1L577.2 1272.4L578.2 1272.6L579.2 1272.9L580.2 1271L581.2 1270.5L582.2 1271.7L583.2 1273.9L584.2 1277.7L585.2 1280.2L586.2 1282.7L587.2 1283.4L588.2 1284.2L589.2 1285.2L590.2 1285L591.2 1284L592.2 1278.6L593.2 1271.1L594.2 1270.7L595.2 1276.4L596.2 1278.9L597.2 1279.6L598.2 1278.6L599.2 1277.9L600.2 1279.3L601.2 1281L602.2 1283.1L603.2 1285.2L604.2 1286.5L605.2 1287.1L606.2 1289.5L607.2 1291.8L608.2 1292.1L609.2 1292.7L610.2 1292.3L611.2 1290.4L612.2 1288.4L613.2 1285.7L614.2 1282.2L615.2 1276.1L616.2 1267.8L617.2 1260.5L618.2 1257.2L619.2 1258.6L620.2 1258.7L621.2 1258.2L622.2 1257.9L623.2 1257.6L624.2 1260.5L625.2 1267.2L626.2 1275.1L627.2 1282.2L628.2 1283.8L629.2 1285L630.2 1286L631.2 1287L632.2 1287.8L633.2 1286.8L634.2 1285.3L635.2 1283.8L636.2 1283.5L637.2 1284.3L638.2 1288L639.2 1291.6L640.2 1293.2L641.2 1293.6L642.2 1294.1L643.2 1294.8L644.2 1294.2L645.2 1293.2L646.2 1292.7L647.2 1292.2L648.2 1289L649.2 1287.1L650.2 1286.5L651.2 1288.4L652.2 1290.1L653.2 1289.5L654.2 1286.2L655.2 1282.2L656.2 1281.5L657.2 1282.2L658.2 1283L659.2 1282.9L660.2 1279.3L661.2 1273L662.2 1271L663.2 1269.6L664.2 1268.3L665.2 1266.6L666.2 1263.3L667.2 1259.1L668.2 1254.6L669.2 1250.3L670.2 1246.4L671.2 1244L672.2 1246.3L673.2 1250.6L674.2 1254.9L675.2 1258.4L676.2 1261.8L677.2 1264.5L678.2 1265.5L679.2 1266.5L680.2 1266.7L681.2 1268.3L682.2 1270.1L683.2 1272.1L684.2 1273.9L685.2 1273.5L686.2 1274.7L687.2 1275.9L688.2 1275.5L689.2 1274.6L690.2 1273.2L691.2 1271.7L692.2 1270.9L693.2 1271.5L694.2 1272.7L695.2 1273.9L696.2 1274.5L697.2 1273.6L698.2 1273.8L699.2 1274L700.2 1274.2L701.2 1274.4L702.2 1274.4L703.2 1274.3L704.2 1276.3L705.2 1277.6L706.2 1277.1L707.2 1276.5L708.2 1277.6L709.2 1279.9L710.2 1284.3L711.2 1288.7L712.2 1291.1L713.2 1292.3L714.2 1288.5L715.2 1288L716.2 1289L717.2 1289L718.2 1289.1L719.2 1288.8L720.2 1288.5L721.2 1289.9L722.2 1291.8L723.2 1292.5L724.2 1291.4L725.2 1288.6L726.2 1286.7L727.2 1287.6L728.2 1289.4L729.2 1291.3L730.2 1293L731.2 1294.6L732.2 1296.9L733.2 1298.9L734.2 1301L735.2 1302.1L736.2 1302.7L737.2 1300.5L738.2 1294.9L739.2 1294L740.2 1295.5L741.2 1299.2L742.2 1299.7L743.2 1300L744.2 1299L745.2 1297.8L746.2 1296.6L747.2 1296.7L748.2 1298.2L749.2 1299.7L750.2 1300.5L751.2 1299.7L752.2 1299.3L753.2 1299.3L754.2 1298.9L755.2 1297.1L756.2 1293.6L757.2 1290.8L758.2 1290.2L759.2 1289.7L760.2 1290.2L761.2 1290.2L762.2 1289.8L763.2 1288L764.2 1285.9L765.2 1282.5L766.2 1280.6L767.2 1280.3L768.2 1280.6L769.2 1282.6L770.2 1285L771.2 1286.8L772.2 1288.9L773.2 1291.7L774.2 1294.5L775.2 1297.4L776.2 1300L777.2 1301.1L778.2 1302.2L779.2 1303.2L780.2 1300.6L781.2 1299.7L782.2 1299.7L783.2 1301.3L784.2 1302.7L785.2 1302.3L786.2 1300.2L787.2 1297.7L788.2 1295.3L789.2 1293.8L790.2 1292.7L791.2 1292.5L792.2 1292.7L793.2 1293L794.2 1292.3L795.2 1288.8L796.2 1284.6L797.2 1285L798.2 1287.8L799.2 1292.3L800.2 1294.4L801.2 1294.6L802.2 1293.4L803.2 1291.6L804.2 1289.5L805.2 1287.6L806.2 1286.2L807.2 1284.2L808.2 1281.6L809.2 1279.1L810.2 1279.7L811.2 1280.6L812.2 1281.6L813.2 1282.7L814.2 1286L815.2 1290L816.2 1294.9L817.2 1298.2L818.2 1296.7L819.2 1292.8L820.2 1288.9L821.2 1287.5L822.2 1286.7L823.2 1287.5L824.2 1288.2L825.2 1289.5L826.2 1291.6L827.2 1290.7L828.2 1288.5L829.2 1288.8L830.2 1293L831.2 1299.5L832.2 1304.5L833.2 1306.9L834.2 1309.7L835.2 1312L836.2 1312.5L837.2 1312.9L838.2 1310L839.2 1304.9L840.2 1304.8L841.2 1305.8L842.2 1306.7L843.2 1307.2L844.2 1306.8L845.2 1306.8L846.2 1307.8L847.2 1308.1L848.2 1306.7L849.2 1304.2L850.2 1302.6L851.2 1303L852.2 1301.1L853.2 1293.5L854.2 1288.9L855.2 1290L856.2 1291.2L857.2 1292.4L858.2 1293.6L859.2 1294.3L860.2 1296.3L861.2 1298.3L862.2 1300.4L863.2 1301.3L864.2 1301.5L865.2 1299L866.2 1296.2L867.2 1294.2L868.2 1293.8L869.2 1294.3L870.2 1296.3L871.2 1296.1L872.2 1293.3L873.2 1288.8L874.2 1283.7L875.2 1279.5L876.2 1277.2L877.2 1276.3L878.2 1276.3L879.2 1277.6L880.2 1284.5L881.2 1293.5L882.2 1301.5L883.2 1304.1L884.2 1302.7L885.2 1302.7L886.2 1304.6L887.2 1307.9L888.2 1308.6L889.2 1307.4L890.2 1304.3L891.2 1302.6L892.2 1301.7L893.2 1302.8L894.2 1302.5L895.2 1301.8L896.2 1301.3L897.2 1301.6L898.2 1301.9L899.2 1299.4L900.2 1296.1L901.2 1296.2L902.2 1297.8L903.2 1300.2L904.2 1301.9L905.2 1301.3L906.2 1300.3L907.2 1296.8L908.2 1293.2L909.2 1291.6L910.2 1291.1L911.2 1290.9L912.2 1290.8L913.2 1290.6L914.2 1290.4L915.2 1293.1L916.2 1296.8L917.2 1297L918.2 1296.2L919.2 1295.8L920.2 1295.7L921.2 1296L922.2 1294.8L923.2 1292.8L924.2 1293.1L925.2 1297.6L926.2 1302.4L927.2 1305.8L928.2 1306.1L929.2 1302.9L930.2 1303.3L931.2 1302L932.2 1301.9L933.2 1302.1L934.2 1302.4L935.2 1301.4L936.2 1300.2L937.2 1301.6L938.2 1303.1L939.2 1303.8L940.2 1304.1L941.2 1301.9L942.2 1300.2L943.2 1302L944.2 1303.9L945.2 1306.2L946.2 1308.1L947.2 1307.2L948.2 1305.8L949.2 1304.3L950.2 1302.8L951.2 1301.3L952.2 1299.8L953.2 1300.5L954.2 1306.1L955.2 1311L956.2 1314.2L957.2 1317.6L958.2 1320.9L959.2 1322.7L960.2 1324.2L961.2 1323.7L962.2 1320L963.2 1319L964.2 1319.9L965.2 1320.8L966.2 1320.4L967.2 1319.4L968.2 1318.1L969.2 1316.4L970.2 1314.8L971.2 1313.1L972.2 1310L973.2 1306.2L974.2 1302.7L975.2 1298L976.2 1293L977.2 1288.1L978.2 1285.4L979.2 1286.2L980.2 1290.3L981.2 1294.1L982.2 1296.3L983.2 1300.7L984.2 1305L985.2 1309.5L986.2 1311.1L987.2 1307.7L988.2 1304.2L989.2 1301.7L990.2 1299.9L991.2 1299.7L992.2 1301.4L993.2 1303.4L994.2 1307.4L995.2 1311.5L996.2 1313.6L997.2 1313L998.2 1310.3L999.2 1307.5L1000.2 1306.4L1001.2 1305.7L1002.2 1304.9L1003.2 1303L1004.2 1301.1L1005.2 1297.1L1006.2 1290.7L1007.2 1285L1008.2 1283.8L1009.2 1285.8L1010.2 1288L1011.2 1290.2L1012.2 1290.4L1013.2 1288.6L1014.2 1286.1L1015.2 1283.4L1016.2 1282.1L1017.2 1281.2L1018.2 1281.1L1019.2 1281.4L1020.2 1282L1021.2 1282.7L1022.2 1289.7L1023.2 1299.2L1024.2 1304.5L1025.2 1309L1026.2 1311.1L1027.2 1313.1L1028.2 1313L1029.2 1312.4L1030.2 1311.3L1031.2 1310.3L1032.2 1309.3L1033.2 1308.2L1034.2 1307.1L1035.2 1306.1L1036.2 1305.4L1037.2 1306.4L1038.2 1307.9L1039.2 1309.3L1040.2 1309.4L1041.2 1308.7L1042.2 1309.1L1043.2 1309.6L1044.2 1310.1L1045.2 1310.7L1046.2 1310L1047.2 1309L1048.2 1306.7L1049.2 1305.7L1050.2 1302.3L1051.2 1299.3L1052.2 1298.6L1053.2 1299.8L1054.2 1304.1L1055.2 1308.3L1056.2 1309.5L1057.2 1309.2L1058.2 1304L1059.2 1301.9L1060.2 1301.5L1061.2 1301.4L1062.2 1300.8L1063.2 1299.2L1064.2 1298.6L1065.2 1298.4L1066.2 1300.2L1067.2 1301.8L1068.2 1302.3L1069.2 1302.9L1070.2 1303.4L1071.2 1303.9L1072.2 1306.2L1073.2 1308.9L1074.2 1311.6L1075.2 1313.1L1076.2 1317.8L1077.2 1320.5L1078.2 1319.3L1079.2 1319.2L1080.2 1320.4L1081.2 1322.8L1082.2 1323.1L1083.2 1323.4L1084.2 1321.8L1085.2 1319.1L1086.2 1315.4L1087.2 1313.4L1088.2 1313.7L1089.2 1315L1090.2 1317.1L1091.2 1319.3L1092.2 1319.7L1093.2 1319.6L1094.2 1318.5L1095.2 1317.8L1096.2 1317.3L1097.2 1316.8L1098.2 1316.3L1099.2 1315.8L1100.2 1314L1101.2 1310.7L1102.2 1309.3L1103.2 1308.8L1104.2 1307.9L1105.2 1303.1L1106.2 1298.3L1107.2 1294.3L1108.2 1293.2L1109.2 1290.4L1110.2 1288.2L1111.2 1289.8L1112.2 1291.8L1113.2 1294.1L1114.2 1297.4L1115.2 1300.7L1116.2 1304L1117.2 1306.9L1118.2 1308.6L1119.2 1308.4L1120.2 1307L1121.2 1304.3L1122.2 1302.4L1123.2 1304.2L1124.2 1308.3L1125.2 1311.3L1126.2 1312.8L1127.2 1312.4L1128.2 1309.5L1129.2 1310.2L1130.2 1312.2L1131.2 1314.5L1132.2 1315.5L1133.2 1314.7L1134.2 1313.7L1135.2 1313.2L1136.2 1313.2L1137.2 1313.2L1138.2 1313.9L1139.2 1314.2L1140.2 1312.5L1141.2 1312.4L1142.2 1313.7L1143.2 1315.4L1144.2 1316.7L1145.2 1317.5L1146.2 1317.3L1147.2 1315.8L1148.2 1315.1L1149.2 1316.4L1150.2 1319.3L1151.2 1323.7L1152.2 1327.4L1153.2 1327L1154.2 1322.2L1155.2 1316.5L1156.2 1312.9L1157.2 1310.5L1158.2 1310.2L1159.2 1310.6L1160.2 1310.3L1161.2 1314.7L1162.2 1318.1L1163.2 1318.6L1164.2 1314.9L1165.2 1312.8L1166.2 1314.3L1167.2 1318.1L1168.2 1319.9L1169.2 1320L1170.2 1319.4L1171.2 1319.4L1172.2 1318.3L1173.2 1316.3L1174.2 1314.1L1175.2 1312L1176.2 1310.7L1177.2 1309.7L1178.2 1311.3L1179.2 1313.8L1180.2 1312.8L1181.2 1310.4L1182.2 1306.1L1183.2 1301.5L1184.2 1298.4L1185.2 1295.7L1186.2 1297.8L1187.2 1300.9L1188.2 1302.7L1189.2 1305.2L1190.2 1307.4L1191.2 1309.3L1192.2 1308.4L1193.2 1308.1L1194.2 1307.6L1195.2 1306L1196.2 1304.4L1197.2 1303L1198.2 1305.5L1199.2 1309.3L1200.2 1313.2L1201.2 1316.1L1202.2 1313.1L1203.2 1309.2L1204.2 1305.3L1205.2 1301.4L1206.2 1299.8L1207.2 1300.3L1208.2 1300.9L1209.2 1301.7L1210.2 1302L1211.2 1302.6L1212.2 1304.4L1213.2 1306.3L1214.2 1308.1L1215.2 1309.5L1216.2 1307.7L1217.2 1305.8L1218.2 1304.3L1219.2 1301.5L1220.2 1300L1221.2 1299.3L1222.2 1300.8L1223.2 1303.3L1224.2 1303.7L1225.2 1303.9L1226.2 1304.6L1227.2 1305.2L1228.2 1306.1L1229.2 1307.2L1230.2 1306L1231.2 1304.8L1232.2 1303.7L1233.2 1302.5L1234.2 1302L1235.2 1305.3L1236.2 1309L1237.2 1310.5L1238.2 1311.8L1239.2 1312.4L1240.2 1311.1L1241.2 1310.1L1242.2 1306.8L1243.2 1303.9L1244.2 1301.5L1245.2 1300.4L1246.2 1300.3L1247.2 1298.4L1248.2 1295.9L1249.2 1294.4L1250.2 1292.9L1251.2 1291.9L1252.2 1292.7L1253.2 1295.8L1254.2 1301.4L1255.2 1304.6L1256.2 1305.7L1257.2 1306.8L1258.2 1308.4L1259.2 1310L1260.2 1310.1L1261.2 1313L1262.2 1315.6L1263.2 1315.7L1264.2 1316.3L1265.2 1316.2L1266.2 1316.1L1267.2 1313.5L1268.2 1307.9L1269.2 1302.2L1270.2 1299.3L1271.2 1296.8L1272.2 1294.2L1273.2 1293.9L1274.2 1296.6L1275.2 1299.8L1276.2 1303.1L1277.2 1304.2L1278.2 1303L1279.2 1301.3L1280.2 1300.1L1281.2 1299.3L1282.2 1301.5L1283.2 1305.2L1284.2 1306.7L1285.2 1306.3L1286.2 1304.4L1287.2 1299.7L1288.2 1295L1289.2 1292.8L1290.2 1296.4L1291.2 1296.8L1292.2 1296.3L1293.2 1291.8L1294.2 1290.4L1295.2 1291.7L1296.2 1293.1L1297.2 1294.4L1298.2 1295.4L1299.2 1297.7L1300.2 1300.1L1301.2 1300.1L1302.2 1299.1L1303.2 1296L1304.2 1295.2L1305.2 1296L1306.2 1299.4L1307.2 1302.9L1308.2 1304.4L1309.2 1302.4L1310.2 1299.2L1311.2 1298.4L1312.2 1298.4L1313.2 1299.7L1314.2 1301.5L1315.2 1302.9L1316.2 1302.9L1317.2 1301L1318.2 1296.9L1319.2 1295.1L1320.2 1294.3L1321.2 1295.6L1322.2 1298.2L1323.2 1299.6L1324.2 1298.8L1325.2 1295.8L1326.2 1296.3L1327.2 1298.3L1328.2 1301.8L1329.2 1302.4L1330.2 1300.9L1331.2 1299L1332.2 1299.1L1333.2 1298.9L1334.2 1298.3L1335.2 1297.6L1336.2 1297.4L1337.2 1297.4L1338.2 1297.7L1339.2 1297.8L1340.2 1297.7L1341.2 1297.6L1342.2 1297.5L1343.2 1297.6L1344.2 1299L1345.2 1304L1346.2 1304.5L1347.2 1303.3L1348.2 1300.6L1349.2 1298L1350.2 1296.7L1351.2 1296.4L1352.2 1300.5L1353.2 1304.6L1354.2 1306.1L1355.2 1308L1356.2 1307.3L1357.2 1306.5L1358.2 1306.9L1359.2 1308.9L1360.2 1312.4L1361.2 1315.8L1362.2 1318.5L1363.2 1317.9L1364.2 1316.8L1365.2 1315.6L1366.2 1315.1L1367.2 1315.1L1368.2 1315.8L1369.2 1316.5L1370.2 1317.3L1371.2 1318.3L1372.2 1319.3L1373.2 1320.1L1374.2 1320.8L1375.2 1319.4L1376.2 1317.8L1377.2 1317.2L1378.2 1317.4L1379.2 1319.6L1380.2 1322.4L1381.2 1321.9L1382.2 1319L1383.2 1314L1384.2 1309.6L1385.2 1308.1L1386.2 1307.9L1387.2 1308.3L1388.2 1308.6L1389.2 1308.4L1390.2 1307.1L1391.2 1307.3L1392.2 1308.2L1393.2 1309.3L1394.2 1308.9L1395.2 1306.7L1396.2 1304.8L1397.2 1305.7L1398.2 1307.2L1399.2 1309.6L1400.2 1312.6L1401.2 1317.2L1402.2 1319.8L1403.2 1319.1L1404.2 1318.3L1405.2 1318L1406.2 1317.7L1407.2 1314.7L1408.2 1307.9L1409.2 1300.4L1410.2 1298.5L1411.2 1299.6L1412.2 1301.5L1413.2 1304.5L1414.2 1306.7L1415.2 1307.4L1416.2 1307.6L1417.2 1308.3L1418.2 1310.8L1419.2 1315.6L1420.2 1318.6L1421.2 1320.8L1422.2 1320.8L1423.2 1319.2L1424.2 1317.6L1425.2 1316L1426.2 1316L1427.2 1316.6L1428.2 1319.9L1429.2 1323.1L1430.2 1325.8L1431.2 1327.1L1432.2 1328.2L1433.2 1328.6L1434.2 1329.1L1435.2 1330L1436.2 1331.4L1437.2 1332.1L1438.2 1332.9L1439.2 1333.6L1440.2 1335.5L1441.2 1338.8L1442.2 1341.7L1443.2 1343.1L1444.2 1344.3L1445.2 1343.4L1446.2 1342.2L1447.2 1337.8L1448.2 1333.5L1449.2 1331.4L1450.2 1328.9L1451.2 1323.9L1452.2 1318.9L1453.2 1318.5L1454.2 1318.3L1455.2 1317.5L1456.2 1317.3L1457.2 1319.2L1458.2 1322L1459.2 1324.6L1460.2 1324.5L1461.2 1324.4L1462.2 1324.4L1463.2 1326L1464.2 1327.2L1465.2 1327.1L1466.2 1327.5L1467.2 1326.1L1468.2 1326.3L1469.2 1326.9L1470.2 1326.1L1471.2 1325.1L1472.2 1324.2L1473.2 1323.4L1474.2 1322.7L1475.2 1323.8L1476.2 1326.3L1477.2 1325.3L1478.2 1323.2L1479.2 1319.1L1480.2 1314L1481.2 1309.3L1482.2 1306.9L1483.2 1306.5L1484.2 1306.8L1485.2 1306.5L1486.2 1303.8L1487.2 1302L1488.2 1302.4L1489.2 1301.9L1490.2 1298.2L1491.2 1298.1L1492.2 1300.8L1493.2 1303.5L1494.2 1306L1495.2 1306L1496.2 1302.9L1497.2 1298.9L1498.2 1294.9L1499.2 1293L1500.2 1295.1L1501.2 1297.7L1502.2 1297.9L1503.2 1296.4L1504.2 1295.4L1505.2 1297.1L1506.2 1298.9L1507.2 1301.1L1508.2 1302.2L1509.2 1302.1L1510.2 1302.1L1511.2 1303.1L1512.2 1305L1513.2 1307.7L1514.2 1310.2L1515.2 1311.7L1516.2 1312.2L1517.2 1309.6L1518.2 1307.8L1519.2 1308.3L1520.2 1309.7L1521.2 1312.3L1522.2 1313.8L1523.2 1315.1L1524.2 1316.3L1525.2 1317.6L1526.2 1318.8L1527.2 1321.8L1528.2 1325.9L1529.2 1326.7L1530.2 1327.4L1531.2 1328.2L1532.2 1327.8L1533.2 1326L1534.2 1324L1535.2 1320.7L1536.2 1316.6L1537.2 1312.5L1538.2 1310.6L1539.2 1309.6L1540.2 1310.1L1541.2 1310.4L1542.2 1309.2L1543.2 1307.5L1544.2 1305.4L1545.2 1303.4L1546.2 1301.3L1547.2 1300.2L1548.2 1299.1L1549.2 1298L1550.2 1297.1L1551.2 1300L1552.2 1307.3L1553.2 1316.2L1554.2 1320.7L1555.2 1320L1556.2 1316.1L1557.2 1313.4L1558.2 1312.2L1559.2 1312.2L1560.2 1312.9L1561.2 1313.1L1562.2 1312.4L1563.2 1309.7L1564.2 1307L1565.2 1305.3L1566.2 1304.8L1567.2 1306.4L1568.2 1307.9L1569.2 1309.1L1570.2 1309.7L1571.2 1310.7L1572.2 1310.2L1573.2 1309.7L1574.2 1309.2L1575.2 1310L1576.2 1308.5L1577.2 1306L1578.2 1303.4L1579.2 1301.1L1580.2 1300.4L1581.2 1301.4L1582.2 1304.8L1583.2 1308L1584.2 1307.5L1585.2 1307L1586.2 1303L1587.2 1300L1588.2 1300.2L1589.2 1302.5L1590.2 1306.8L1591.2 1308.1L1592.2 1307.7L1593.2 1307.3L1594.2 1307.1L1595.2 1308.3L1596.2 1311L1597.2 1315.8L1598.2 1320.6L1599.2 1324.8L1600.2 1327.1L1601.2 1328.9L1602.2 1326.7L1603.2 1324.9L1604.2 1324.3L1605.2 1322.6L1606.2 1321L1607.2 1319.2L1608.2 1316.4L1609.2 1315L1610.2 1314.3L1611.2 1313.6L1612.2 1313.3L1613.2 1312.9L1614.2 1312.8L1615.2 1314.8L1616.2 1316.8L1617.2 1318.4L1618.2 1318.1L1619.2 1317.5L1620.2 1316.8L1621.2 1317.8L1622.2 1319.3L1623.2 1319L1624.2 1318.2L1625.2 1317.4L1626.2 1316.6L1627.2 1315.7L1628.2 1313.2L1629.2 1310.7L1630.2 1309.2L1631.2 1308.7L1632.2 1309.4L1633.2 1311.2L1634.2 1312.9L1635.2 1313.8L1636.2 1314L1637.2 1314.6L1638.2 1316L1639.2 1317.3L1640.2 1318.2L1641.2 1316.9L1642.2 1315.6L1643.2 1315.8L1644.2 1315.3L1645.2 1315.6L1646.2 1315.8L1647.2 1315.7L1648.2 1315.9L1649.2 1314.4L1650.2 1307.3L1651.2 1298.9L1652.2 1292.2L1653.2 1288.6L1654.2 1285L1655.2 1284.2L1656.2 1286.3L1657.2 1290.4L1658.2 1294.3L1659.2 1296.1L1660.2 1297.4L1661.2 1296.5L1662.2 1297.3L1663.2 1299.6L1664.2 1302.6L1665.2 1306.6L1666.2 1310.1L1667.2 1312.1L1668.2 1313.5L1669.2 1314L1670.2 1314.7L1671.2 1317.1L1672.2 1322.4L1673.2 1327.8L1674.2 1330.9L1675.2 1331.4L1676.2 1330.3L1677.2 1329.3L1678.2 1328.7L1679.2 1329L1680.2 1330.6L1681.2 1330.2L1682.2 1327.5L1683.2 1324.3L1684.2 1319.3L1685.2 1316.2L1686.2 1314L1687.2 1313L1688.2 1312.6L1689.2 1314.2L1690.2 1316.7L1691.2 1319.1L1692.2 1318.8L1693.2 1317.1L1694.2 1313.8L1695.2 1310.6L1696.2 1310.7L1697.2 1314.2L1698.2 1318.5L1699.2 1319.7L1700.2 1321.2L1701.2 1321.5L1702.2 1321.3L1703.2 1320.3L1704.2 1317.8L1705.2 1317L1706.2 1317.8L1707.2 1319.5L1708.2 1320.4L1709.2 1321.2L1710.2 1322L1711.2 1323.7L1712.2 1328.5L1713.2 1333.4L1714.2 1335.3L1715.2 1336.3L1716.2 1335.8L1717.2 1335.6L1718.2 1336.4L1719.2 1337.9L1720.2 1339.4L1721.2 1340.9L1722.2 1342.5L1723.2 1344.4L1724.2 1344.5L1725.2 1343.5L1726.2 1341.4L1727.2 1339.3L1728.2 1337.2L1729.2 1332.7L1730.2 1329.6L1731.2 1326.7L1732.2 1323.1L1733.2 1322.1L1734.2 1320.3L1735.2 1317.8L1736.2 1318.4L1737.2 1320.1L1738.2 1322.2L1739.2 1325.2L1740.2 1328.2L1741.2 1330.6L1742.2 1333.5L1743.2 1336.4L1744.2 1338.2L1745.2 1339.8L1746.2 1340.5L1747.2 1341L1748.2 1342.2L1749.2 1341.3L1750.2 1340L1751.2 1340.2L1752.2 1340.9L1753.2 1343.6L1754.2 1347L1755.2 1349.5L1756.2 1349.8L1757.2 1348.1L1758.2 1346.2L1759.2 1344.4L1760.2 1344L1761.2 1342.7L1762.2 1342.2L1763.2 1340.3L1764.2 1335L1765.2 1329.9L1766.2 1328L1767.2 1328.1L1768.2 1328.1L1769.2 1328L1770.2 1327.7L1771.2 1327.4L1772.2 1327.5L1773.2 1328.3L1774.2 1333.3L1775.2 1337.4L1776.2 1337.9L1777.2 1335.4L1778.2 1333.1L1779.2 1334.1L1780.2 1335.9L1781.2 1338.9L1782.2 1341.8L1783.2 1342.7L1784.2 1342.5L1785.2 1341.4L1786.2 1340.6L1787.2 1337.9L1788.2 1335.2L1789.2 1334.1L1790.2 1334.9L1791.2 1336.1L1792.2 1337.3L1793.2 1337.2L1794.2 1337.1L1795.2 1335.6L1796.2 1334.8L1797.2 1334.9L1798.2 1336.9L1799.2 1340L1800.2 1343.1L1801.2 1343.6L1802.2 1340.7L1803.2 1336.8L1804.2 1333.5L1805.2 1331.8L1806.2 1331.9L1807.2 1333.7L1808.2 1336.5L1809.2 1337.2L1810.2 1333.1L1811.2 1328.4L1812.2 1326.7L1813.2 1327.3L1814.2 1331.5L1815.2 1333.8L1816.2 1335.2L1817.2 1336.7L1818.2 1338.2L1819.2 1339.5L1820.2 1339.1L1821.2 1338.2L1822.2 1336.9L1823.2 1335.6L1824.2 1333.8L1825.2 1332L1826.2 1329.4L1827.2 1325.8L1828.2 1321.4L1829.2 1317.6L1830.2 1315L1831.2 1315.8L1832.2 1317L1833.2 1318.2L1834.2 1318.4L1835.2 1316.8L1836.2 1314L1837.2 1314.8L1838.2 1316.2L1839.2 1318.1L1840.2 1319.9L1841.2 1321L1842.2 1323.1L1843.2 1325.9L1844.2 1327.6L1845.2 1327.6L1846.2 1325.3L1847.2 1323L1848.2 1321.9L1849.2 1320.9L1850.2 1320.3L1851.2 1319.6L1852.2 1318.6L1853.2 1318L1854.2 1317.9L1855.2 1317.9L1856.2 1317.6L1857.2 1319.9L1858.2 1323.2L1859.2 1325.5L1860.2 1324.5L1861.2 1318.8L1862.2 1312.5L1863.2 1311.5L1864.2 1314.3L1865.2 1315.9L1866.2 1314.9L1867.2 1310.2L1868.2 1305.9L1869.2 1304.9L1870.2 1304.3L1871.2 1305.2L1872.2 1306.1L1873.2 1306.7L1874.2 1306.9L1875.2 1309.9L1876.2 1312L1877.2 1311.7L1878.2 1310.9L1879.2 1308.2L1880.2 1306.5L1881.2 1306L1882.2 1306.8L1883.2 1309.2L1884.2 1312.4L1885.2 1314.7L1886.2 1313.6L1887.2 1311.3L1888.2 1308.8L1889.2 1306.3L1890.2 1304.6L1891.2 1302.9L1892.2 1301.1L1893.2 1300.1L1894.2 1299.8L1895.2 1298.9L1896.2 1298L1897.2 1297.6L1898.2 1298.2L1899.2 1299.4L1900.2 1302L1901.2 1304.8L1902.2 1305.8L1903.2 1306.2L1904.2 1305.1L1905.2 1304.1L1906.2 1303.4L1907.2 1304.1L1908.2 1304.9L1909.2 1306.9L1910.2 1308.9L1911.2 1310.6L1912.2 1311.3L1913.2 1310.9L1914.2 1310.2L1915.2 1309.5L1916.2 1309.6L1917.2 1310.3L1918.2 1311L1919.2 1311.8L1920.2 1312.5L1921.2 1313.2L1922.2 1314L1923.2 1315L1924.2 1316L1925.2 1317L1926.2 1318.1L1927.2 1321.5L1928.2 1324.3L1929.2 1324.9L1930.2 1326L1931.2 1327.5L1932.2 1328.2L1933.2 1327.9L1934.2 1326.1L1935.2 1324.3L1936.2 1323.5L1937.2 1324.2L1938.2 1325.1L1939.2 1326L1940.2 1326.8L1941.2 1328.3L1942.2 1331.2L1943.2 1333.5L1944.2 1334.2L1945.2 1333.6L1946.2 1332.5L1947.2 1330.5L1948.2 1329.3L1949.2 1329.7L1950.2 1332.7L1951.2 1335.8L1952.2 1336.9L1953.2 1335.2L1954.2 1332.4L1955.2 1327.4L1956.2 1322.4L1957.2 1318.2L1958.2 1316.1L1959.2 1315L1960.2 1314.5L1961.2 1313.8L1962.2 1311.6L1963.2 1310.6L1964.2 1309.9L1965.2 1309.3L1966.2 1309.2L1967.2 1309L1968.2 1308.2L1969.2 1307.4L1970.2 1307.9L1971.2 1310.6L1972.2 1314L1973.2 1318.4L1974.2 1322.2L1975.2 1323.5L1976.2 1324.7L1977.2 1328L1978.2 1330.1L1979.2 1329L1980.2 1323L1981.2 1315.5L1982.2 1310.5L1983.2 1308.5L1984.2 1309.5L1985.2 1310.9L1986.2 1311.9L1987.2 1312.2L1988.2 1311.5L1989.2 1309L1990.2 1308.9L1991.2 1312L1992.2 1316.1L1993.2 1318.9L1994.2 1319.1L1995.2 1317.9L1996.2 1318.8L1997.2 1321.6L1998.2 1324.5L1999.2 1327.7L2000.2 1327.8L2001.2 1326.3L2002.2 1326.1L2003.2 1326.2L2004.2 1327.6L2005.2 1328.1L2006.2 1328.5L2007.2 1329.5L2008.2 1330.4L2009.2 1330.8L2010.2 1327.9L2011.2 1324.4L2012.2 1320.9L2013.2 1319.1L2014.2 1319.6L2015.2 1320.7L2016.2 1319.9L2017.2 1316.8L2018.2 1312.3L2019.2 1306.7L2020.2 1303.1L2021.2 1301.9L2022.2 1300.9L2023.2 1300.3L2024.2 1301L2025.2 1301.7L2026.2 1302.2L2027.2 1301.4L2028.2 1301L2029.2 1302.6L2030.2 1304.6L2031.2 1308.3L2032.2 1312.3L2033.2 1316.2L2034.2 1318.9L2035.2 1320.4L2036.2 1318.5L2037.2 1317.9L2038.2 1315.4L2039.2 1312.4L2040.2 1308.4L2041.2 1304.4L2042.2 1302.8L2043.2 1305.6L2044.2 1309.4L2045.2 1310.3L2046.2 1309.4L2047.2 1309.5L2048.2 1310.5L2049.2 1313.4L2050.2 1313.5L2051.2 1313.4L2052.2 1311.1L2053.2 1307.4L2054.2 1305.1L2055.2 1304.9L2056.2 1303.1L2057.2 1300.3L2058.2 1300.1L2059.2 1301L2060.2 1302.4L2061.2 1303.8L2062.2 1304.5L2063.2 1304.5L2064.2 1302L2065.2 1296.8L2066.2 1296.4L2067.2 1300.7L2068.2 1305.1L2069.2 1307L2070.2 1308.9L2071.2 1310.4L2072.2 1313.4L2073.2 1315.4L2074.2 1315.1L2075.2 1314.7L2076.2 1313.8L2077.2 1310.5L2078.2 1308.4L2079.2 1308.6L2080.2 1310.3L2081.2 1313L2082.2 1317L2083.2 1320L2084.2 1322.3L2085.2 1322.3L2086.2 1321.1L2087.2 1321.7L2088.2 1325.6L2089.2 1329.6L2090.2 1330.3L2091.2 1330.3L2092.2 1329.3L2093.2 1328.4L2094.2 1327.4L2095.2 1324L2096.2 1319.2L2097.2 1315.4L2098.2 1309.4L2099.2 1309L2100.2 1311.8L2101.2 1311.5L2102.2 1310.1L2103.2 1308.8L2104.2 1308.2L2105.2 1308.5L2106.2 1311.6L2107.2 1314.8L2108.2 1315L2109.2 1314.5L2110.2 1313.9L2111.2 1313.8L2112.2 1314.3L2113.2 1314.8L2114.2 1313.8L2115.2 1313.7L2116.2 1315.5L2117.2 1318.7L2118.2 1322.8L2119.2 1324L2120.2 1322.5L2121.2 1320.2L2122.2 1315.1L2123.2 1310.7L2124.2 1308.5L2125.2 1307.6L2126.2 1311.6L2127.2 1317.1L2128.2 1322.5L2129.2 1324.2L2130.2 1326.2L2131.2 1328.3L2132.2 1330.4L2133.2 1328.9L2134.2 1326.4L2135.2 1321.4L2136.2 1315.8L2137.2 1311.8L2138.2 1310.9L2139.2 1310.4L2140.2 1310.2L2141.2 1311.7L2142.2 1313.6L2143.2 1315.1L2144.2 1316.6L2145.2 1316.8L2146.2 1316.8L2147.2 1316.8L2148.2 1316.8L2149.2 1314.7L2150.2 1312.3L2151.2 1309.9L2152.2 1306.5L2153.2 1305.2L2154.2 1304.3L2155.2 1303.5L2156.2 1304.5L2157.2 1305.6L2158.2 1305.3L2159.2 1304.6L2160.2 1304L2161.2 1304.9L2162.2 1310.3L2163.2 1313.4L2164.2 1312.2L2165.2 1310L2166.2 1305.7L2167.2 1303.2L2168.2 1303.2L2169.2 1304.5L2170.2 1307.5L2171.2 1309.1L2172.2 1308.9L2173.2 1309L2174.2 1309.6L2175.2 1310.3L2176.2 1312.5L2177.2 1314L2178.2 1313.2L2179.2 1313.4L2180.2 1315.2L2181.2 1317.9L2182.2 1322.4L2183.2 1324.4L2184.2 1323.2L2185.2 1319.6L2186.2 1315.7L2187.2 1313.9L2188.2 1314.3L2189.2 1316L2190.2 1317.3L2191.2 1316.9L2192.2 1318.3L2193.2 1317.6L2194.2 1316.8L2195.2 1318.2L2196.2 1322L2197.2 1325.5L2198.2 1325.9L2199.2 1323.9L2200.2 1321.2L2201.2 1318.5L2202.2 1317.9L2203.2 1320.5L2204.2 1320.6L2205.2 1317.5L2206.2 1314.2L2207.2 1310.9L2208.2 1310L2209.2 1310.5L2210.2 1314.2L2211.2 1317.8L2212.2 1321.5L2213.2 1323.5L2214.2 1325.5L2215.2 1325.2L2216.2 1324.3L2217.2 1326.5L2218.2 1331L2219.2 1333.6L2220.2 1333.2L2221.2 1330.6L2222.2 1327.9L2223.2 1325.8L2224.2 1324.3L2225.2 1320L2226.2 1315.5L2227.2 1311.9L2228.2 1311L2229.2 1311.3L2230.2 1310.1L2231.2 1310.8L2232.2 1314.2L2233.2 1318.8L2234.2 1321.8L2235.2 1323.6L2236.2 1322.4L2237.2 1319.5L2238.2 1318.2L2239.2 1316.9L2240.2 1315.6L2241.2 1314.2L2242.2 1315.5L2243.2 1319.1L2244.2 1319.5L2245.2 1317.8L2246.2 1312.5L2247.2 1308.3L2248.2 1306.2L2249.2 1304.4L2250.2 1303.1L2251.2 1301.9L2252.2 1300.4L2253.2 1301.7L2254.2 1302.1L2255.2 1298.6L2256.2 1293.5L2257.2 1287.3L2258.2 1283.3L2259.2 1281.3L2260.2 1281.4L2261.2 1282.4L2262.2 1282L2263.2 1280.2L2264.2 1276.2L2265.2 1273.9L2266.2 1275L2267.2 1276.1L2268.2 1280.1L2269.2 1285.9L2270.2 1289.7L2271.2 1291.7L2272.2 1292.8L2273.2 1290.4L2274.2 1287.8L2275.2 1286.5L2276.2 1288.4L2277.2 1291.2L2278.2 1290.9L2279.2 1290.6L2280.2 1290.4L2281.2 1290.2L2282.2 1290.3L2283.2 1291.8L2284.2 1295L2285.2 1299.2L2286.2 1303.4L2287.2 1306.7L2288.2 1308L2289.2 1309.1L2290.2 1310.2L2291.2 1311.2L2292.2 1312.3L2293.2 1313.3L2294.2 1313.7L2295.2 1312.7L2296.2 1312.1L2297.2 1313.1L2298.2 1313.3L2299.2 1314.7L2300.2 1316.1L2301.2 1315.8L2302.2 1315L2303.2 1313.5L2304.2 1311.8L2305.2 1310.1L2306.2 1309.3L2307.2 1309.4L2308.2 1309.8L2309.2 1310.4L2310.2 1311.5L2311.2 1312L2312.2 1308.9L2313 1311L2313 1328.2L2312.2 1329.8L2311.2 1333.3L2310.2 1333.9L2309.2 1334.3L2308.2 1334L2307.2 1333.9L2306.2 1334.8L2305.2 1336.2L2304.2 1337.4L2303.2 1338.5L2302.2 1338.2L2301.2 1337.2L2300.2 1336L2299.2 1334.7L2298.2 1335.5L2297.2 1336.8L2296.2 1336.3L2295.2 1336.2L2294.2 1336.4L2293.2 1335.5L2292.2 1334.6L2291.2 1334.2L2290.2 1333.5L2289.2 1333.1L2288.2 1332.7L2287.2 1332L2286.2 1330.1L2285.2 1326.5L2284.2 1322.5L2283.2 1319.2L2282.2 1317.5L2281.2 1316.9L2280.2 1318.9L2279.2 1320.9L2278.2 1321.4L2277.2 1321.9L2276.2 1318.7L2275.2 1315.6L2274.2 1314.8L2273.2 1316L2272.2 1317.3L2271.2 1318.6L2270.2 1318.6L2269.2 1316.4L2268.2 1310.9L2267.2 1306.2L2266.2 1307.8L2265.2 1309.5L2264.2 1313.5L2263.2 1317.6L2262.2 1320.1L2261.2 1321.6L2260.2 1321.8L2259.2 1322.8L2258.2 1324.8L2257.2 1326.5L2256.2 1328L2255.2 1328.8L2254.2 1329.2L2253.2 1328L2252.2 1327.7L2251.2 1329.8L2250.2 1331.6L2249.2 1333.2L2248.2 1335.1L2247.2 1336.7L2246.2 1339.9L2245.2 1345.6L2244.2 1349.9L2243.2 1353.6L2242.2 1352.1L2241.2 1351.6L2240.2 1352.4L2239.2 1353.2L2238.2 1353.7L2237.2 1352.2L2236.2 1349.6L2235.2 1347.6L2234.2 1346.3L2233.2 1345.6L2232.2 1345.5L2231.2 1344.7L2230.2 1344.3L2229.2 1347.7L2228.2 1348.8L2227.2 1348.8L2226.2 1349.6L2225.2 1351.8L2224.2 1354.2L2223.2 1353.5L2222.2 1352.6L2221.2 1352.2L2220.2 1352.2L2219.2 1351.1L2218.2 1348.5L2217.2 1345L2216.2 1343.1L2215.2 1342.7L2214.2 1341.7L2213.2 1339.5L2212.2 1337.5L2211.2 1336.3L2210.2 1336.2L2209.2 1335.8L2208.2 1335.5L2207.2 1334.9L2206.2 1336.4L2205.2 1339.2L2204.2 1342.2L2203.2 1342.8L2202.2 1341.6L2201.2 1341.8L2200.2 1343.4L2199.2 1345.6L2198.2 1347.4L2197.2 1347.6L2196.2 1345.3L2195.2 1343.6L2194.2 1341.7L2193.2 1341.1L2192.2 1340.4L2191.2 1339L2190.2 1337.5L2189.2 1336.8L2188.2 1335.6L2187.2 1334.9L2186.2 1335.3L2185.2 1337.3L2184.2 1340.7L2183.2 1341L2182.2 1339.5L2181.2 1336.4L2180.2 1334.3L2179.2 1333.3L2178.2 1333.1L2177.2 1333.7L2176.2 1332.7L2175.2 1331.8L2174.2 1331.3L2173.2 1330.9L2172.2 1330.5L2171.2 1330.8L2170.2 1328.8L2169.2 1325.5L2168.2 1325L2167.2 1325.7L2166.2 1328.3L2165.2 1331.5L2164.2 1333.2L2163.2 1334.2L2162.2 1332.9L2161.2 1332.3L2160.2 1334.9L2159.2 1337.4L2158.2 1339.5L2157.2 1340L2156.2 1340.2L2155.2 1340.6L2154.2 1340.8L2153.2 1341.1L2152.2 1341.6L2151.2 1342.6L2150.2 1344.1L2149.2 1343.7L2148.2 1342.1L2147.2 1341.1L2146.2 1341.4L2145.2 1342.5L2144.2 1344L2143.2 1344.2L2142.2 1344.3L2141.2 1344.1L2140.2 1344L2139.2 1343.8L2138.2 1342.8L2137.2 1342L2136.2 1343.6L2135.2 1346.6L2134.2 1350.9L2133.2 1350.6L2132.2 1349.2L2131.2 1345.7L2130.2 1342.4L2129.2 1340.3L2128.2 1339.9L2127.2 1337.9L2126.2 1335L2125.2 1331.3L2124.2 1328.6L2123.2 1327.6L2122.2 1329.9L2121.2 1334.5L2120.2 1336.9L2119.2 1338.5L2118.2 1338.6L2117.2 1337.8L2116.2 1336.5L2115.2 1336.4L2114.2 1337.7L2113.2 1339.6L2112.2 1340.6L2111.2 1341.6L2110.2 1341.4L2109.2 1340.5L2108.2 1337.8L2107.2 1334.5L2106.2 1331.2L2105.2 1328.8L2104.2 1329.9L2103.2 1332.9L2102.2 1335.9L2101.2 1338.4L2100.2 1340.2L2099.2 1342.1L2098.2 1343.7L2097.2 1345.5L2096.2 1347.5L2095.2 1349.7L2094.2 1351.6L2093.2 1353.4L2092.2 1353.1L2091.2 1351.3L2090.2 1349.6L2089.2 1347.8L2088.2 1343.7L2087.2 1340L2086.2 1338.5L2085.2 1338.3L2084.2 1338.2L2083.2 1336.9L2082.2 1336.4L2081.2 1336L2080.2 1336.3L2079.2 1337.2L2078.2 1337.5L2077.2 1339.6L2076.2 1340.9L2075.2 1340L2074.2 1338.9L2073.2 1338.5L2072.2 1339L2071.2 1339.6L2070.2 1339.2L2069.2 1338.1L2068.2 1336.2L2067.2 1332.1L2066.2 1328.5L2065.2 1327.9L2064.2 1330.2L2063.2 1330.6L2062.2 1329.2L2061.2 1327L2060.2 1325.8L2059.2 1324.6L2058.2 1325.1L2057.2 1326.4L2056.2 1329.7L2055.2 1332.3L2054.2 1333L2053.2 1334L2052.2 1336L2051.2 1338L2050.2 1338.7L2049.2 1338L2048.2 1335.6L2047.2 1333.1L2046.2 1330.5L2045.2 1330L2044.2 1329.3L2043.2 1329.1L2042.2 1330.8L2041.2 1331.6L2040.2 1332.8L2039.2 1336.2L2038.2 1337.2L2037.2 1339.6L2036.2 1340.1L2035.2 1340.8L2034.2 1340L2033.2 1336L2032.2 1334.4L2031.2 1332.8L2030.2 1331.1L2029.2 1330.7L2028.2 1330.6L2027.2 1331.7L2026.2 1332.8L2025.2 1333.6L2024.2 1333.9L2023.2 1332.7L2022.2 1332L2021.2 1332.3L2020.2 1331.3L2019.2 1332.2L2018.2 1334.5L2017.2 1337.3L2016.2 1339.2L2015.2 1339.9L2014.2 1339L2013.2 1338.6L2012.2 1339.9L2011.2 1342.5L2010.2 1345.1L2009.2 1348.1L2008.2 1349.3L2007.2 1349.9L2006.2 1350L2005.2 1350.8L2004.2 1351.4L2003.2 1352.1L2002.2 1353.4L2001.2 1352.9L2000.2 1352.1L1999.2 1349.8L1998.2 1347.3L1997.2 1346.4L1996.2 1345.9L1995.2 1347L1994.2 1348.8L1993.2 1349.8L1992.2 1349L1991.2 1346.7L1990.2 1343.3L1989.2 1341.1L1988.2 1339.2L1987.2 1337.5L1986.2 1336.1L1985.2 1336.9L1984.2 1339.3L1983.2 1340.9L1982.2 1343.4L1981.2 1346.3L1980.2 1351.1L1979.2 1352.9L1978.2 1351.6L1977.2 1350L1976.2 1348.5L1975.2 1347.8L1974.2 1346.3L1973.2 1341.7L1972.2 1336.1L1971.2 1331.3L1970.2 1327.7L1969.2 1326.8L1968.2 1327.7L1967.2 1328.6L1966.2 1329.1L1965.2 1329.4L1964.2 1329.5L1963.2 1331.7L1962.2 1334.5L1961.2 1336.4L1960.2 1336.9L1959.2 1338.4L1958.2 1339.8L1957.2 1341.1L1956.2 1344.1L1955.2 1348.1L1954.2 1353.5L1953.2 1357.1L1952.2 1359.6L1951.2 1357.6L1950.2 1352.8L1949.2 1347.8L1948.2 1345.2L1947.2 1344.7L1946.2 1344.9L1945.2 1346.2L1944.2 1348.4L1943.2 1349.7L1942.2 1349.5L1941.2 1348.2L1940.2 1346.4L1939.2 1344.5L1938.2 1343.8L1937.2 1344L1936.2 1345.3L1935.2 1347.7L1934.2 1349.1L1933.2 1349L1932.2 1347L1931.2 1344.4L1930.2 1343.4L1929.2 1342.6L1928.2 1342.5L1927.2 1340.9L1926.2 1338.9L1925.2 1338.2L1924.2 1337.4L1923.2 1337.5L1922.2 1337.8L1921.2 1338.3L1920.2 1338.1L1919.2 1336.7L1918.2 1334.6L1917.2 1334L1916.2 1333.5L1915.2 1333.3L1914.2 1333.8L1913.2 1334.3L1912.2 1335.1L1911.2 1335.5L1910.2 1335L1909.2 1333.6L1908.2 1332.5L1907.2 1332.2L1906.2 1331.7L1905.2 1331.9L1904.2 1332.5L1903.2 1333.1L1902.2 1332.6L1901.2 1330.9L1900.2 1327.9L1899.2 1325.6L1898.2 1325.2L1897.2 1326.4L1896.2 1329.4L1895.2 1330.2L1894.2 1329.8L1893.2 1330L1892.2 1330.6L1891.2 1331.2L1890.2 1331.8L1889.2 1332.7L1888.2 1334.8L1887.2 1336.7L1886.2 1337.9L1885.2 1338.4L1884.2 1338.1L1883.2 1337.8L1882.2 1337.4L1881.2 1338.1L1880.2 1339.6L1879.2 1342.2L1878.2 1344.9L1877.2 1345.7L1876.2 1345.6L1875.2 1343.8L1874.2 1341.8L1873.2 1342.4L1872.2 1343.3L1871.2 1343.8L1870.2 1343.7L1869.2 1343.2L1868.2 1342.5L1867.2 1345.2L1866.2 1349.4L1865.2 1350.8L1864.2 1349.9L1863.2 1347.6L1862.2 1347.2L1861.2 1351.2L1860.2 1355.4L1859.2 1356.1L1858.2 1354.6L1857.2 1352.4L1856.2 1351.3L1855.2 1353.4L1854.2 1354.1L1853.2 1353.5L1852.2 1350.7L1851.2 1349.2L1850.2 1348.2L1849.2 1347.6L1848.2 1347.7L1847.2 1348L1846.2 1349.9L1845.2 1351.2L1844.2 1350.2L1843.2 1348.2L1842.2 1346.3L1841.2 1345.2L1840.2 1344.5L1839.2 1343.4L1838.2 1341.4L1837.2 1339.1L1836.2 1336.9L1835.2 1338.2L1834.2 1340L1833.2 1340.1L1832.2 1339.4L1831.2 1339.2L1830.2 1338.9L1829.2 1339.6L1828.2 1342L1827.2 1345.3L1826.2 1349L1825.2 1352.1L1824.2 1354.4L1823.2 1356.1L1822.2 1356.8L1821.2 1357.4L1820.2 1357.7L1819.2 1358.2L1818.2 1358.8L1817.2 1359L1816.2 1358.2L1815.2 1357L1814.2 1354.5L1813.2 1350.1L1812.2 1348.4L1811.2 1349.8L1810.2 1356.1L1809.2 1362L1808.2 1363.2L1807.2 1362.4L1806.2 1362.1L1805.2 1362L1804.2 1360.5L1803.2 1360L1802.2 1358.3L1801.2 1356.7L1800.2 1354.7L1799.2 1352.2L1798.2 1351.9L1797.2 1353.5L1796.2 1354.9L1795.2 1355.9L1794.2 1355.7L1793.2 1355.7L1792.2 1356.9L1791.2 1358.1L1790.2 1360.3L1789.2 1363.6L1788.2 1364.6L1787.2 1363.9L1786.2 1363.5L1785.2 1363.2L1784.2 1363.7L1783.2 1364L1782.2 1362.8L1781.2 1360.1L1780.2 1357.4L1779.2 1355.5L1778.2 1354.3L1777.2 1355.7L1776.2 1356.9L1775.2 1355.7L1774.2 1351.9L1773.2 1347.8L1772.2 1347.9L1771.2 1349.7L1770.2 1350.8L1769.2 1351.3L1768.2 1351.4L1767.2 1352.1L1766.2 1353.4L1765.2 1354.5L1764.2 1356.8L1763.2 1359L1762.2 1358.8L1761.2 1357.4L1760.2 1356.3L1759.2 1356.5L1758.2 1358.6L1757.2 1360.7L1756.2 1363.5L1755.2 1365.1L1754.2 1366.4L1753.2 1365.3L1752.2 1362.8L1751.2 1361.6L1750.2 1360.5L1749.2 1360.6L1748.2 1360.4L1747.2 1359.5L1746.2 1360L1745.2 1359.8L1744.2 1358.1L1743.2 1355.6L1742.2 1351.9L1741.2 1349.6L1740.2 1348.3L1739.2 1346.5L1738.2 1344.6L1737.2 1343.2L1736.2 1342.2L1735.2 1346.9L1734.2 1352.2L1733.2 1357.3L1732.2 1363L1731.2 1368.5L1730.2 1368.6L1729.2 1368.2L1728.2 1367.4L1727.2 1367.4L1726.2 1367.2L1725.2 1368.2L1724.2 1369L1723.2 1367.2L1722.2 1362.6L1721.2 1359.3L1720.2 1357.5L1719.2 1356.3L1718.2 1355.9L1717.2 1355L1716.2 1353.1L1715.2 1352.2L1714.2 1351.2L1713.2 1349.8L1712.2 1347.2L1711.2 1344.1L1710.2 1342.6L1709.2 1341.5L1708.2 1340L1707.2 1338.6L1706.2 1336.9L1705.2 1337.1L1704.2 1339.3L1703.2 1341.7L1702.2 1341.9L1701.2 1340.9L1700.2 1341.7L1699.2 1343.5L1698.2 1344.3L1697.2 1340.8L1696.2 1337.2L1695.2 1335.9L1694.2 1336.9L1693.2 1338.9L1692.2 1339.9L1691.2 1339.4L1690.2 1336.4L1689.2 1333L1688.2 1330.8L1687.2 1331L1686.2 1332.2L1685.2 1334.2L1684.2 1335.8L1683.2 1337.4L1682.2 1338.5L1681.2 1341.4L1680.2 1343.7L1679.2 1345.2L1678.2 1347.3L1677.2 1350.6L1676.2 1353.4L1675.2 1354.5L1674.2 1354.8L1673.2 1353L1672.2 1347.5L1671.2 1341.2L1670.2 1337.9L1669.2 1336.5L1668.2 1336.1L1667.2 1335.7L1666.2 1334.4L1665.2 1331.7L1664.2 1328.3L1663.2 1325.9L1662.2 1324.9L1661.2 1325.8L1660.2 1327.4L1659.2 1327L1658.2 1325.9L1657.2 1323.2L1656.2 1322L1655.2 1324.5L1654.2 1328.7L1653.2 1333.8L1652.2 1337.6L1651.2 1339L1650.2 1338.3L1649.2 1335.8L1648.2 1334.2L1647.2 1334L1646.2 1335L1645.2 1335.8L1644.2 1335.3L1643.2 1334.3L1642.2 1333.9L1641.2 1335.1L1640.2 1336.4L1639.2 1335.7L1638.2 1335.9L1637.2 1335.2L1636.2 1334.7L1635.2 1335.4L1634.2 1336L1633.2 1336.8L1632.2 1337.3L1631.2 1337.9L1630.2 1338.9L1629.2 1340.6L1628.2 1343L1627.2 1345.4L1626.2 1345.3L1625.2 1344.6L1624.2 1344L1623.2 1343.8L1622.2 1343.9L1621.2 1342.5L1620.2 1341.2L1619.2 1341.2L1618.2 1342.9L1617.2 1345.3L1616.2 1346.9L1615.2 1348L1614.2 1347.9L1613.2 1347.7L1612.2 1346.6L1611.2 1345.5L1610.2 1342.9L1609.2 1341L1608.2 1341.3L1607.2 1343.1L1606.2 1343.7L1605.2 1344L1604.2 1343.5L1603.2 1342.3L1602.2 1342.1L1601.2 1343.2L1600.2 1343.9L1599.2 1344.3L1598.2 1343.1L1597.2 1340.6L1596.2 1338L1595.2 1336.3L1594.2 1335.2L1593.2 1335.7L1592.2 1337.3L1591.2 1338.6L1590.2 1338L1589.2 1335.2L1588.2 1333.5L1587.2 1332.9L1586.2 1334L1585.2 1334.6L1584.2 1332.1L1583.2 1329.5L1582.2 1325.1L1581.2 1321.8L1580.2 1322.8L1579.2 1324.7L1578.2 1325.7L1577.2 1327.2L1576.2 1328.7L1575.2 1329.9L1574.2 1332L1573.2 1335.4L1572.2 1338.7L1571.2 1341.3L1570.2 1340.5L1569.2 1340L1568.2 1337.8L1567.2 1336.3L1566.2 1334.9L1565.2 1333.9L1564.2 1333.5L1563.2 1334.6L1562.2 1338.4L1561.2 1340.8L1560.2 1343.2L1559.2 1344.3L1558.2 1344.5L1557.2 1344.9L1556.2 1344.6L1555.2 1343.7L1554.2 1342.5L1553.2 1340.5L1552.2 1336.7L1551.2 1334.3L1550.2 1332.2L1549.2 1331L1548.2 1330.6L1547.2 1330.3L1546.2 1329.7L1545.2 1328.6L1544.2 1327.4L1543.2 1328L1542.2 1330.8L1541.2 1334.2L1540.2 1336.6L1539.2 1338.6L1538.2 1341L1537.2 1341.8L1536.2 1342.9L1535.2 1344.4L1534.2 1346.1L1533.2 1347.7L1532.2 1349.3L1531.2 1350.9L1530.2 1352.2L1529.2 1353.5L1528.2 1354.7L1527.2 1352.1L1526.2 1351.2L1525.2 1352.7L1524.2 1351.9L1523.2 1348.4L1522.2 1343.4L1521.2 1339.7L1520.2 1335.7L1519.2 1332.8L1518.2 1329.7L1517.2 1328.9L1516.2 1328.6L1515.2 1326L1514.2 1322.7L1513.2 1319.7L1512.2 1316.7L1511.2 1316L1510.2 1316.4L1509.2 1317.6L1508.2 1318L1507.2 1318.1L1506.2 1315.5L1505.2 1315.2L1504.2 1317.3L1503.2 1319.8L1502.2 1322.7L1501.2 1324.4L1500.2 1323.9L1499.2 1322.1L1498.2 1323.1L1497.2 1325.6L1496.2 1327.7L1495.2 1329.1L1494.2 1329.4L1493.2 1328.2L1492.2 1326.9L1491.2 1324.7L1490.2 1324.8L1489.2 1328.3L1488.2 1330.2L1487.2 1331.3L1486.2 1331.5L1485.2 1331.8L1484.2 1331.5L1483.2 1332.2L1482.2 1332.9L1481.2 1334.6L1480.2 1339.2L1479.2 1343.9L1478.2 1346.9L1477.2 1348.1L1476.2 1348.5L1475.2 1347.1L1474.2 1346.2L1473.2 1346.4L1472.2 1346.8L1471.2 1347.3L1470.2 1348.4L1469.2 1349.7L1468.2 1350.7L1467.2 1351.2L1466.2 1350.4L1465.2 1348.2L1464.2 1347.6L1463.2 1346.4L1462.2 1345L1461.2 1344.8L1460.2 1344.2L1459.2 1343.8L1458.2 1344.7L1457.2 1345.3L1456.2 1345.2L1455.2 1345.5L1454.2 1347.8L1453.2 1350L1452.2 1353.3L1451.2 1356.5L1450.2 1358.6L1449.2 1358.9L1448.2 1358.9L1447.2 1359.9L1446.2 1361.6L1445.2 1365.1L1444.2 1365.8L1443.2 1364.6L1442.2 1361.7L1441.2 1358.2L1440.2 1356L1439.2 1355.8L1438.2 1356.9L1437.2 1357.3L1436.2 1356L1435.2 1353.7L1434.2 1351.4L1433.2 1349.5L1432.2 1348.5L1431.2 1347.1L1430.2 1347.4L1429.2 1346.8L1428.2 1343.5L1427.2 1340.1L1426.2 1336.9L1425.2 1335.6L1424.2 1337.7L1423.2 1339.4L1422.2 1339.7L1421.2 1338.8L1420.2 1336.3L1419.2 1333.9L1418.2 1331.4L1417.2 1330.7L1416.2 1331.2L1415.2 1332.8L1414.2 1333.1L1413.2 1332.9L1412.2 1332.8L1411.2 1333L1410.2 1334.3L1409.2 1336.9L1408.2 1340.9L1407.2 1342.2L1406.2 1339.8L1405.2 1338.3L1404.2 1337.3L1403.2 1336.8L1402.2 1336.4L1401.2 1333.8L1400.2 1330.6L1399.2 1328.6L1398.2 1327.3L1397.2 1327.1L1396.2 1327.9L1395.2 1331.4L1394.2 1334.5L1393.2 1334.9L1392.2 1333.7L1391.2 1332.5L1390.2 1331.6L1389.2 1333.2L1388.2 1335.2L1387.2 1336.1L1386.2 1337.2L1385.2 1338.8L1384.2 1341.4L1383.2 1345.9L1382.2 1350.4L1381.2 1350.9L1380.2 1347.6L1379.2 1342.7L1378.2 1339.2L1377.2 1338L1376.2 1337.6L1375.2 1338.1L1374.2 1338.5L1373.2 1337.4L1372.2 1336.4L1371.2 1336.9L1370.2 1337.7L1369.2 1337.2L1368.2 1336.6L1367.2 1335.7L1366.2 1334.9L1365.2 1334.4L1364.2 1334.8L1363.2 1334.4L1362.2 1333.3L1361.2 1330.9L1360.2 1329.2L1359.2 1328.1L1358.2 1328.4L1357.2 1330.1L1356.2 1332.1L1355.2 1333.4L1354.2 1332.5L1353.2 1331.3L1352.2 1328.5L1351.2 1326.5L1350.2 1327.6L1349.2 1328.9L1348.2 1330.4L1347.2 1331.7L1346.2 1330.8L1345.2 1329.5L1344.2 1325.6L1343.2 1325.6L1342.2 1326.4L1341.2 1326.2L1340.2 1325.7L1339.2 1325.3L1338.2 1324.9L1337.2 1324.3L1336.2 1323L1335.2 1321.8L1334.2 1322L1333.2 1322.4L1332.2 1323.8L1331.2 1324.8L1330.2 1327.4L1329.2 1328.8L1328.2 1328.3L1327.2 1325.8L1326.2 1324.5L1325.2 1324.3L1324.2 1326.6L1323.2 1326.7L1322.2 1325.1L1321.2 1322.6L1320.2 1321.8L1319.2 1322.5L1318.2 1323.9L1317.2 1326.5L1316.2 1327.5L1315.2 1327.1L1314.2 1325.7L1313.2 1324.7L1312.2 1322.5L1311.2 1321.4L1310.2 1321.1L1309.2 1323.7L1308.2 1325.9L1307.2 1325.4L1306.2 1323.2L1305.2 1320.4L1304.2 1318.8L1303.2 1317.6L1302.2 1318.7L1301.2 1319.8L1300.2 1320.3L1299.2 1318.9L1298.2 1317.7L1297.2 1318.1L1296.2 1319L1295.2 1320.4L1294.2 1321.7L1293.2 1324.2L1292.2 1328.3L1291.2 1329.6L1290.2 1330L1289.2 1326.3L1288.2 1324.7L1287.2 1324.5L1286.2 1325.3L1285.2 1326.5L1284.2 1327.4L1283.2 1328L1282.2 1327L1281.2 1326.5L1280.2 1327.1L1279.2 1327.5L1278.2 1327.7L1277.2 1326.9L1276.2 1326.1L1275.2 1326.3L1274.2 1328L1273.2 1329.5L1272.2 1331.9L1271.2 1334.6L1270.2 1337.4L1269.2 1338.9L1268.2 1338.4L1267.2 1335.8L1266.2 1333.9L1265.2 1333.2L1264.2 1333.2L1263.2 1333.1L1262.2 1332.8L1261.2 1331L1260.2 1329.5L1259.2 1330L1258.2 1330.2L1257.2 1329.7L1256.2 1327.9L1255.2 1328.5L1254.2 1327.5L1253.2 1324.9L1252.2 1325.2L1251.2 1326.6L1250.2 1328L1249.2 1329.7L1248.2 1331.5L1247.2 1332.9L1246.2 1333.5L1245.2 1332.8L1244.2 1332.8L1243.2 1333.9L1242.2 1336L1241.2 1338.7L1240.2 1338L1239.2 1337L1238.2 1336.2L1237.2 1334.6L1236.2 1334L1235.2 1332.4L1234.2 1332L1233.2 1333L1232.2 1335.5L1231.2 1337.7L1230.2 1336.9L1229.2 1335.5L1228.2 1334L1227.2 1333.3L1226.2 1332.8L1225.2 1332.3L1224.2 1331.7L1223.2 1331L1222.2 1328.9L1221.2 1328.2L1220.2 1328.2L1219.2 1328.6L1218.2 1328.5L1217.2 1327.5L1216.2 1326.8L1215.2 1327.3L1214.2 1327.5L1213.2 1330.1L1212.2 1331.8L1211.2 1331.9L1210.2 1332.4L1209.2 1332.7L1208.2 1332.5L1207.2 1331.6L1206.2 1331.7L1205.2 1333.3L1204.2 1333.6L1203.2 1333.6L1202.2 1334L1201.2 1334.5L1200.2 1334.1L1199.2 1332.1L1198.2 1329.5L1197.2 1328.3L1196.2 1328.4L1195.2 1329.3L1194.2 1330.4L1193.2 1330.7L1192.2 1330.7L1191.2 1330.9L1190.2 1331.1L1189.2 1330.9L1188.2 1330.5L1187.2 1329.1L1186.2 1326.7L1185.2 1324.1L1184.2 1323.4L1183.2 1324L1182.2 1325.7L1181.2 1329.4L1180.2 1336.2L1179.2 1341.3L1178.2 1343.1L1177.2 1344.3L1176.2 1343.6L1175.2 1343.3L1174.2 1343.9L1173.2 1344.9L1172.2 1345.9L1171.2 1346.9L1170.2 1347.9L1169.2 1348.2L1168.2 1345.5L1167.2 1341.4L1166.2 1335.9L1165.2 1333.5L1164.2 1336.3L1163.2 1340.4L1162.2 1341.3L1161.2 1339.9L1160.2 1337.4L1159.2 1339.3L1158.2 1340.2L1157.2 1340.4L1156.2 1341.5L1155.2 1343.5L1154.2 1346.8L1153.2 1348.3L1152.2 1345.8L1151.2 1342.4L1150.2 1338.5L1149.2 1337.3L1148.2 1338.3L1147.2 1340.2L1146.2 1341.5L1145.2 1341.4L1144.2 1339.7L1143.2 1336.5L1142.2 1333.4L1141.2 1331.1L1140.2 1331.3L1139.2 1332.7L1138.2 1333.6L1137.2 1333.7L1136.2 1333.2L1135.2 1332.6L1134.2 1332.3L1133.2 1332.3L1132.2 1332.4L1131.2 1333.6L1130.2 1335.4L1129.2 1336.4L1128.2 1337.1L1127.2 1338.8L1126.2 1338.5L1125.2 1338.8L1124.2 1338.5L1123.2 1335.8L1122.2 1333.6L1121.2 1333.4L1120.2 1332.9L1119.2 1330.3L1118.2 1328.9L1117.2 1326.8L1116.2 1324.2L1115.2 1323.2L1114.2 1323.2L1113.2 1323.9L1112.2 1324.1L1111.2 1326L1110.2 1329L1109.2 1333L1108.2 1337L1107.2 1337.7L1106.2 1337.1L1105.2 1336.4L1104.2 1336.3L1103.2 1336.7L1102.2 1337.2L1101.2 1338L1100.2 1340.2L1099.2 1340.8L1098.2 1340.5L1097.2 1340.2L1096.2 1339.8L1095.2 1339.5L1094.2 1339.3L1093.2 1339.5L1092.2 1340.1L1091.2 1340.9L1090.2 1340.3L1089.2 1339.7L1088.2 1339.6L1087.2 1340.1L1086.2 1341.5L1085.2 1343.2L1084.2 1342.7L1083.2 1341.5L1082.2 1340.4L1081.2 1340L1080.2 1339.4L1079.2 1339.1L1078.2 1339.2L1077.2 1339.7L1076.2 1340.3L1075.2 1340.6L1074.2 1339.9L1073.2 1337.5L1072.2 1335L1071.2 1333.1L1070.2 1333.9L1069.2 1334.5L1068.2 1333.8L1067.2 1332.9L1066.2 1331.5L1065.2 1330.2L1064.2 1330.9L1063.2 1332.7L1062.2 1334.4L1061.2 1334.8L1060.2 1334L1059.2 1332.4L1058.2 1331.5L1057.2 1334.1L1056.2 1335.2L1055.2 1335.7L1054.2 1333.4L1053.2 1330.6L1052.2 1328.8L1051.2 1328L1050.2 1328.6L1049.2 1329.5L1048.2 1329L1047.2 1329.8L1046.2 1331.3L1045.2 1332.5L1044.2 1332.4L1043.2 1331.7L1042.2 1332.5L1041.2 1333.2L1040.2 1334.1L1039.2 1334.7L1038.2 1334.3L1037.2 1333.8L1036.2 1333L1035.2 1333.5L1034.2 1335.3L1033.2 1336.9L1032.2 1337.5L1031.2 1337.4L1030.2 1335L1029.2 1333.1L1028.2 1332.7L1027.2 1332.4L1026.2 1330.7L1025.2 1329.8L1024.2 1327.7L1023.2 1324.7L1022.2 1318L1021.2 1311L1020.2 1306.2L1019.2 1303L1018.2 1304.1L1017.2 1307.6L1016.2 1309.3L1015.2 1309.7L1014.2 1310.8L1013.2 1311.9L1012.2 1313.5L1011.2 1314.7L1010.2 1315.3L1009.2 1315.9L1008.2 1316.5L1007.2 1317.9L1006.2 1319L1005.2 1321.6L1004.2 1324.4L1003.2 1326.4L1002.2 1327.5L1001.2 1327.6L1000.2 1328.1L999.2 1327.2L998.2 1328.3L997.2 1330.7L996.2 1331.7L995.2 1331.4L994.2 1329.2L993.2 1326.9L992.2 1325.1L991.2 1323.2L990.2 1321.2L989.2 1319.9L988.2 1319.7L987.2 1321.7L986.2 1322.2L985.2 1321.7L984.2 1321.5L983.2 1321.4L982.2 1321.4L981.2 1322.1L980.2 1321L979.2 1319.7L978.2 1320.3L977.2 1321.6L976.2 1323.3L975.2 1324.8L974.2 1326.1L973.2 1328.3L972.2 1331.8L971.2 1335.3L970.2 1337.7L969.2 1339.3L968.2 1341L967.2 1342.5L966.2 1343.8L965.2 1344.4L964.2 1344L963.2 1342.2L962.2 1341.4L961.2 1344L960.2 1344.7L959.2 1343.8L958.2 1342.5L957.2 1337.6L956.2 1332.1L955.2 1326.9L954.2 1321.1L953.2 1319.1L952.2 1319L951.2 1319.9L950.2 1320.9L949.2 1322.7L948.2 1325.5L947.2 1325.1L946.2 1323.1L945.2 1320.6L944.2 1318.2L943.2 1316.5L942.2 1312.5L941.2 1315.2L940.2 1319.9L939.2 1323.2L938.2 1324.1L937.2 1323.5L936.2 1322.8L935.2 1323.3L934.2 1324.1L933.2 1324.3L932.2 1324.8L931.2 1325.5L930.2 1326.6L929.2 1325.9L928.2 1327.2L927.2 1325.9L926.2 1323.4L925.2 1322.7L924.2 1322L923.2 1321.1L922.2 1321.1L921.2 1320.5L920.2 1320.1L919.2 1320.4L918.2 1321.7L917.2 1322.3L916.2 1320.7L915.2 1315.9L914.2 1311.2L913.2 1309.2L912.2 1308.1L911.2 1310.1L910.2 1312.1L909.2 1314L908.2 1316.6L907.2 1320.6L906.2 1324.7L905.2 1326.5L904.2 1329L903.2 1329.6L902.2 1329.3L901.2 1327L900.2 1325.3L899.2 1325.4L898.2 1325L897.2 1324L896.2 1323.3L895.2 1323.6L894.2 1324L893.2 1323.9L892.2 1321.8L891.2 1321.1L890.2 1320.1L889.2 1320.2L888.2 1319.7L887.2 1320.1L886.2 1319.3L885.2 1318.7L884.2 1318.2L883.2 1318.1L882.2 1316.9L881.2 1315.8L880.2 1315.4L879.2 1314.5L878.2 1313.3L877.2 1313.6L876.2 1314.6L875.2 1316.7L874.2 1319L873.2 1320L872.2 1320.8L871.2 1320.2L870.2 1318.4L869.2 1316.8L868.2 1316.8L867.2 1316.9L866.2 1318.2L865.2 1320.1L864.2 1321.8L863.2 1321.1L862.2 1320.5L861.2 1319.4L860.2 1318.2L859.2 1316.3L858.2 1316.3L857.2 1316.3L856.2 1316.2L855.2 1316.7L854.2 1316.7L853.2 1319.4L852.2 1323.8L851.2 1324.3L850.2 1323.1L849.2 1323.3L848.2 1324.1L847.2 1323.5L846.2 1321.8L845.2 1320.9L844.2 1321.6L843.2 1322.8L842.2 1323.4L841.2 1323.6L840.2 1324.1L839.2 1325.9L838.2 1330.1L837.2 1331.9L836.2 1331.1L835.2 1329.8L834.2 1328.4L833.2 1327.1L832.2 1324L831.2 1318.2L830.2 1311L829.2 1304.4L828.2 1304.2L827.2 1308.1L826.2 1311.7L825.2 1313.2L824.2 1313.6L823.2 1313.6L822.2 1313.3L821.2 1313.9L820.2 1314.6L819.2 1316.4L818.2 1318.2L817.2 1316.2L816.2 1312.5L815.2 1308.8L814.2 1306.2L813.2 1304.7L812.2 1305.1L811.2 1305.7L810.2 1305.3L809.2 1305.1L808.2 1304.3L807.2 1304.1L806.2 1304.8L805.2 1305.5L804.2 1308.1L803.2 1310.6L802.2 1312.3L801.2 1313.2L800.2 1313.3L799.2 1312.2L798.2 1311.2L797.2 1311.9L796.2 1313L795.2 1315.8L794.2 1318L793.2 1318.1L792.2 1317.5L791.2 1315.3L790.2 1313.1L789.2 1313.6L788.2 1314.6L787.2 1316.3L786.2 1317.8L785.2 1319.9L784.2 1321.2L783.2 1320.2L782.2 1318.7L781.2 1317.8L780.2 1317.8L779.2 1319.4L778.2 1318.3L777.2 1317.3L776.2 1317.4L775.2 1317.4L774.2 1317.3L773.2 1317.2L772.2 1316.9L771.2 1316.4L770.2 1313.6L769.2 1310.4L768.2 1307.4L767.2 1306.2L766.2 1306.6L765.2 1308L764.2 1309.3L763.2 1309.3L762.2 1310.2L761.2 1310.3L760.2 1308.6L759.2 1306.5L758.2 1306.6L757.2 1306.8L756.2 1309.3L755.2 1313.5L754.2 1316.5L753.2 1318L752.2 1318.6L751.2 1318.5L750.2 1317L749.2 1315.4L748.2 1313.7L747.2 1312.5L746.2 1313.3L745.2 1315.3L744.2 1317.8L743.2 1320.6L742.2 1321.8L741.2 1321.7L740.2 1318.4L739.2 1316.3L738.2 1315.3L737.2 1317.9L736.2 1319.4L735.2 1319.3L734.2 1318.2L733.2 1316.8L732.2 1316L731.2 1316.1L730.2 1317.1L729.2 1317.5L728.2 1316.2L727.2 1314.1L726.2 1312.8L725.2 1313.9L724.2 1315L723.2 1315L722.2 1313.6L721.2 1311.4L720.2 1311.3L719.2 1312.1L718.2 1311.2L717.2 1309.2L716.2 1306.2L715.2 1305.3L714.2 1306.4L713.2 1310.9L712.2 1311.9L711.2 1311.6L710.2 1309.3L709.2 1305.9L708.2 1302.6L707.2 1301L706.2 1301.1L705.2 1301.1L704.2 1299.8L703.2 1298.2L702.2 1300.4L701.2 1302.5L700.2 1303L699.2 1303.4L698.2 1302.8L697.2 1302.3L696.2 1301.9L695.2 1300.5L694.2 1299.3L693.2 1298.2L692.2 1298.7L691.2 1300L690.2 1301L689.2 1302.1L688.2 1301.6L687.2 1300.7L686.2 1298.5L685.2 1296.2L684.2 1294.3L683.2 1292.7L682.2 1291.1L681.2 1289L680.2 1287.1L679.2 1286.9L678.2 1287.4L677.2 1289.1L676.2 1289.6L675.2 1289.3L674.2 1286.7L673.2 1282.7L672.2 1281.8L671.2 1282.2L670.2 1284.6L669.2 1288.5L668.2 1294L667.2 1299.4L666.2 1302.8L665.2 1304.8L664.2 1305.3L663.2 1305.7L662.2 1307.5L661.2 1307.5L660.2 1311.9L659.2 1314.3L658.2 1313.6L657.2 1311.5L656.2 1307.8L655.2 1305.3L654.2 1306L653.2 1306.9L652.2 1307.9L651.2 1309.3L650.2 1309.1L649.2 1309.9L648.2 1311.4L647.2 1314L646.2 1315L645.2 1316.1L644.2 1318.3L643.2 1320L642.2 1319.5L641.2 1319L640.2 1317.1L639.2 1313.1L638.2 1308.6L637.2 1304.2L636.2 1302L635.2 1301.4L634.2 1303L633.2 1304.4L632.2 1305.3L631.2 1305.1L630.2 1306.4L629.2 1307.9L628.2 1307.6L627.2 1305.1L626.2 1299.1L625.2 1295.4L624.2 1294.1L623.2 1295.5L622.2 1299.5L621.2 1303.3L620.2 1305.3L619.2 1305.3L618.2 1303.8L617.2 1303.8L616.2 1305.7L615.2 1309.7L614.2 1314.8L613.2 1318.8L612.2 1319.7L611.2 1318.1L610.2 1316.4L609.2 1314.7L608.2 1313.9L607.2 1312.6L606.2 1309.3L605.2 1305.8L604.2 1303.6L603.2 1302.4L602.2 1301.3L601.2 1299L600.2 1297L599.2 1294.1L598.2 1292.7L597.2 1294.2L596.2 1295.7L595.2 1295.6L594.2 1291.8L593.2 1290.3L592.2 1293.6L591.2 1298.3L590.2 1301.7L589.2 1304.9L588.2 1306.2L587.2 1307L586.2 1304.7L585.2 1301.3L584.2 1298.8L583.2 1296.5L582.2 1295.5L581.2 1294.9L580.2 1295.7L579.2 1297.7L578.2 1297.9L577.2 1298.9L576.2 1300L575.2 1299L574.2 1299L573.2 1300.3L572.2 1302.3L571.2 1299.9L570.2 1298L569.2 1297.2L568.2 1299.1L567.2 1300.9L566.2 1300.4L565.2 1299.7L564.2 1298.4L563.2 1297.1L562.2 1296.4L561.2 1295.6L560.2 1296.2L559.2 1295.6L558.2 1293.6L557.2 1290.5L556.2 1287.8L555.2 1287L554.2 1286L553.2 1286.3L552.2 1286L551.2 1284.7L550.2 1285.5L549.2 1287.2L548.2 1288.5L547.2 1289.3L546.2 1289.5L545.2 1290L544.2 1290.5L543.2 1292.3L542.2 1293.7L541.2 1294.1L540.2 1294.1L539.2 1293L538.2 1292L537.2 1292.4L536.2 1292.8L535.2 1294.2L534.2 1296.6L533.2 1300.1L532.2 1303L531.2 1304.9L530.2 1302.5L529.2 1299.1L528.2 1295.3L527.2 1292.9L526.2 1290.9L525.2 1292.1L524.2 1293.5L523.2 1295.3L522.2 1295.8L521.2 1293.6L520.2 1289.6L519.2 1288.9L518.2 1288.6L517.2 1290.6L516.2 1293.4L515.2 1296.8L514.2 1298.8L513.2 1299.7L512.2 1298.2L511.2 1295.8L510.2 1294.3L509.2 1294.2L508.2 1295.2L507.2 1296.1L506.2 1296L505.2 1296.2L504.2 1296L503.2 1297.1L502.2 1297.4L501.2 1297.5L500.2 1296.2L499.2 1294.1L498.2 1293L497.2 1293L496.2 1293.8L495.2 1294.7L494.2 1295.9L493.2 1297.3L492.2 1296.8L491.2 1294L490.2 1290.7L489.2 1287.1L488.2 1285.8L487.2 1286.3L486.2 1287.5L485.2 1287.8L484.2 1286.3L483.2 1284L482.2 1280.8L481.2 1277.9L480.2 1276.5L479.2 1276.6L478.2 1276.9L477.2 1277.2L476.2 1276.2L475.2 1275.1L474.2 1273.8L473.2 1273.3L472.2 1271.7L471.2 1271.6L470.2 1269.9L469.2 1267.5L468.2 1266.3L467.2 1266L466.2 1265.6L465.2 1265.6L464.2 1267.5L463.2 1270.8L462.2 1273.4L461.2 1274.8L460.2 1276.4L459.2 1278.5L458.2 1279.5L457.2 1279L456.2 1277.7L455.2 1276.6L454.2 1274.5L453.2 1273.4L452.2 1272.6L451.2 1270.8L450.2 1268.5L449.2 1265.3L448.2 1265.9L447.2 1267.2L446.2 1268.9L445.2 1270.8L444.2 1274.2L443.2 1276.5L442.2 1277.4L441.2 1280.3L440.2 1280.3L439.2 1280.5L438.2 1280.4L437.2 1279.2L436.2 1277.8L435.2 1275.7L434.2 1275.8L433.2 1276.2L432.2 1277.3L431.2 1279L430.2 1280.8L429.2 1282.4L428.2 1281.8L427.2 1280.9L426.2 1279.8L425.2 1278.9L424.2 1278.3L423.2 1277.5L422.2 1276.5L421.2 1275L420.2 1273.6L419.2 1272.8L418.2 1273L417.2 1273.7L416.2 1274.6L415.2 1275.3L414.2 1275.8L413.2 1275.7L412.2 1272.4L411.2 1267.8L410.2 1266.4L409.2 1266.4L408.2 1266.4L407.2 1266.5L406.2 1266.4L405.2 1266.5L404.2 1265.2L403.2 1263.7L402.2 1263L401.2 1262.8L400.2 1262.8L399.2 1263L398.2 1263L397.2 1262.5L396.2 1261.7L395.2 1261.1L394.2 1259.5L393.2 1258.2L392.2 1256.3L391.2 1254.2L390.2 1253.2L389.2 1252.6L388.2 1252.1L387.2 1251.7L386.2 1251.4L385.2 1251.1L384.2 1247.8L383.2 1244.2L382.2 1240.5L379.2 1231L377.2 1217.1L372.3 1217.1L369.3 1225L359.4 1224L358.4 1214.1Z" fill="#ed2728" stroke="#ed2728" stroke-width="1.4" stroke-linejoin="round"/>
<path d="M221 258.6L253.4 258.6L237.2 288.7Z" fill="none" stroke="#ed2728" stroke-width="7" stroke-linejoin="miter" stroke-miterlimit="10"/>
<path d="M494.1 1273.5L526.5 1273.5L510.3 1303.6Z" fill="none" stroke="#ed2728" stroke-width="7" stroke-linejoin="miter" stroke-miterlimit="10"/>
<path d="M766.8 1303.6L799.2 1303.6L783 1333.7Z" fill="none" stroke="#ed2728" stroke-width="7" stroke-linejoin="miter" stroke-miterlimit="10"/>
<path d="M1039.5 1309.8L1071.9 1309.8L1055.7 1339.9Z" fill="none" stroke="#ed2728" stroke-width="7" stroke-linejoin="miter" stroke-miterlimit="10"/>
<path d="M1312.2 1303L1344.6 1303L1328.4 1333.1Z" fill="none" stroke="#ed2728" stroke-width="7" stroke-linejoin="miter" stroke-miterlimit="10"/>
<path d="M1584.9 1325.9L1617.3 1325.9L1601.1 1356Z" fill="none" stroke="#ed2728" stroke-width="7" stroke-linejoin="miter" stroke-miterlimit="10"/>
<path d="M1857.6 1321.9L1890 1321.9L1873.8 1352Z" fill="none" stroke="#ed2728" stroke-width="7" stroke-linejoin="miter" stroke-miterlimit="10"/>
<path d="M2130.3 1328.9L2162.7 1328.9L2146.5 1359Z" fill="none" stroke="#ed2728" stroke-width="7" stroke-linejoin="miter" stroke-miterlimit="10"/>
</g>
<path d="M378.4 1001.9L384.5 1049.3L389.4 1074L392.6 1100L399 1129.8L404 1159.5L409 1184.3L413.9 1204.2L418.9 1224L423.9 1240.9L427.8 1254.8L428.6 1261.5" fill="none" stroke="#231f20" stroke-width="7.2" stroke-linejoin="round" stroke-linecap="butt"/>
<path d="M436.6 1281.5L437.1 1283.3L446.1 1301.1L455 1320.5L463.9 1333.9L471.4 1345.8L475.8 1353.2L480.5 1357" fill="none" stroke="#231f20" stroke-width="7.2" stroke-linejoin="round" stroke-linecap="round"/>
</g>
<g id="ticklabels">
<text transform="translate(216.6 297.1) scale(0.925 1)" font-size="82.8" text-anchor="end">0</text>
<text transform="translate(216.6 754.9) scale(0.925 1)" font-size="82.8" text-anchor="end">-10</text>
<text transform="translate(216.6 1212.7) scale(0.925 1)" font-size="82.8" text-anchor="end">-20</text>
<text transform="translate(216.6 1670.5) scale(0.925 1)" font-size="82.8" text-anchor="end">-30</text>
<text transform="translate(239 1968.2) scale(0.925 1)" font-size="82.8" text-anchor="middle">0</text>
<text transform="translate(755.5 1968.2) scale(0.925 1)" font-size="82.8" text-anchor="middle">1</text>
<text transform="translate(1273.4 1968.2) scale(0.925 1)" font-size="82.8" text-anchor="middle">2</text>
<text transform="translate(1791.3 1968.2) scale(0.925 1)" font-size="82.8" text-anchor="middle">3</text>
<text transform="translate(2306.2 1968.2) scale(0.925 1)" font-size="82.8" text-anchor="middle">4</text>
<text transform="translate(2205.8 2085.9) scale(0.925 1)" font-size="82.8" text-anchor="start">10</text>
<text transform="translate(2279 2048.2) scale(0.925 1)" font-size="64.5" text-anchor="start">4</text>
</g>
<g id="axislabels">
<text transform="translate(1273.6 2069.9) scale(0.925 1)" font-size="89" text-anchor="middle">Iterations</text>
<text transform="translate(89.8 959.6) rotate(-90) scale(1 0.925)" font-size="88.3" text-anchor="middle">Normalized Misalignment (dB)</text>
</g>
<g id="legend">
<rect x="1666.5" y="37.6" width="646.5" height="488.7" fill="#ffffff"/>
<g fill="#4d4d4f">
<rect x="1663" y="34.2" width="653.2" height="6.8"/>
<rect x="1663" y="523" width="653.2" height="6.6"/>
<rect x="1663" y="37.6" width="7" height="488.7"/>
<rect x="2309.9" y="37.6" width="6.2" height="488.7"/>
</g>
<rect x="1684.1" y="88" width="92.9" height="6.8" fill="#231f20"/>
<ellipse cx="1731.5" cy="91.4" rx="14.3" ry="17.2" fill="none" stroke="#231f20" stroke-width="7" stroke-linejoin="miter" stroke-miterlimit="10"/>
<text transform="translate(1785 119.7) scale(0.904 1)" font-size="81.2" text-anchor="start">PAPMCC</text>
<text transform="translate(2109.2 119.7) scale(0.87 1)" font-size="81.2" text-anchor="start">σ=0.5</text>
<rect x="1684.1" y="183.2" width="92.9" height="6.8" fill="#6abd45"/>
<rect x="1719.4" y="173.3" width="24.2" height="26.6" fill="none" stroke="#6abd45" stroke-width="7" stroke-linejoin="miter" stroke-miterlimit="10"/>
<text transform="translate(1785 214.9) scale(0.904 1)" font-size="81.2" text-anchor="start">PAPMCC</text>
<text transform="translate(2109.2 214.9) scale(0.87 1)" font-size="81.2" text-anchor="start">σ=1.0</text>
<rect x="1684.1" y="279" width="92.9" height="6.8" fill="#a55ca5"/>
<path d="M1714.2 282.4L1748.8 282.4M1731.5 262.4L1731.5 302.4M1718.3 267.8L1744.7 297M1718.3 297L1744.7 267.8" fill="none" stroke="#a55ca5" stroke-width="6.4"/>
<text transform="translate(1785 310.7) scale(0.904 1)" font-size="81.2" text-anchor="start">PAPMCC</text>
<text transform="translate(2109.2 310.7) scale(0.87 1)" font-size="81.2" text-anchor="start">σ=1.5</text>
<rect x="1684.1" y="374.3" width="92.9" height="6.8" fill="#2053a6"/>
<path d="M1731.5 354.8L1744.8 377.7L1731.5 400.6L1718.2 377.7Z" fill="none" stroke="#2053a6" stroke-width="7" stroke-linejoin="miter" stroke-miterlimit="10"/>
<text transform="translate(1785 406) scale(0.904 1)" font-size="81.2" text-anchor="start">PAPMCC</text>
<text transform="translate(2109.2 406) scale(0.87 1)" font-size="81.2" text-anchor="start">σ=2.0</text>
<rect x="1684.1" y="469" width="92.9" height="8" fill="#ed2728"/>
<path d="M1714.2 461.4L1748.8 461.4L1731.5 496.2Z" fill="none" stroke="#ed2728" stroke-width="7" stroke-linejoin="miter" stroke-miterlimit="10"/>
<text transform="translate(1785 501.3) scale(0.904 1)" font-size="81.2" text-anchor="start">PAPMCC</text>
<text transform="translate(2109.2 501.3) scale(0.87 1)" font-size="81.2" text-anchor="start">σ=10</text>
</g>
</svg>
</body></html>
